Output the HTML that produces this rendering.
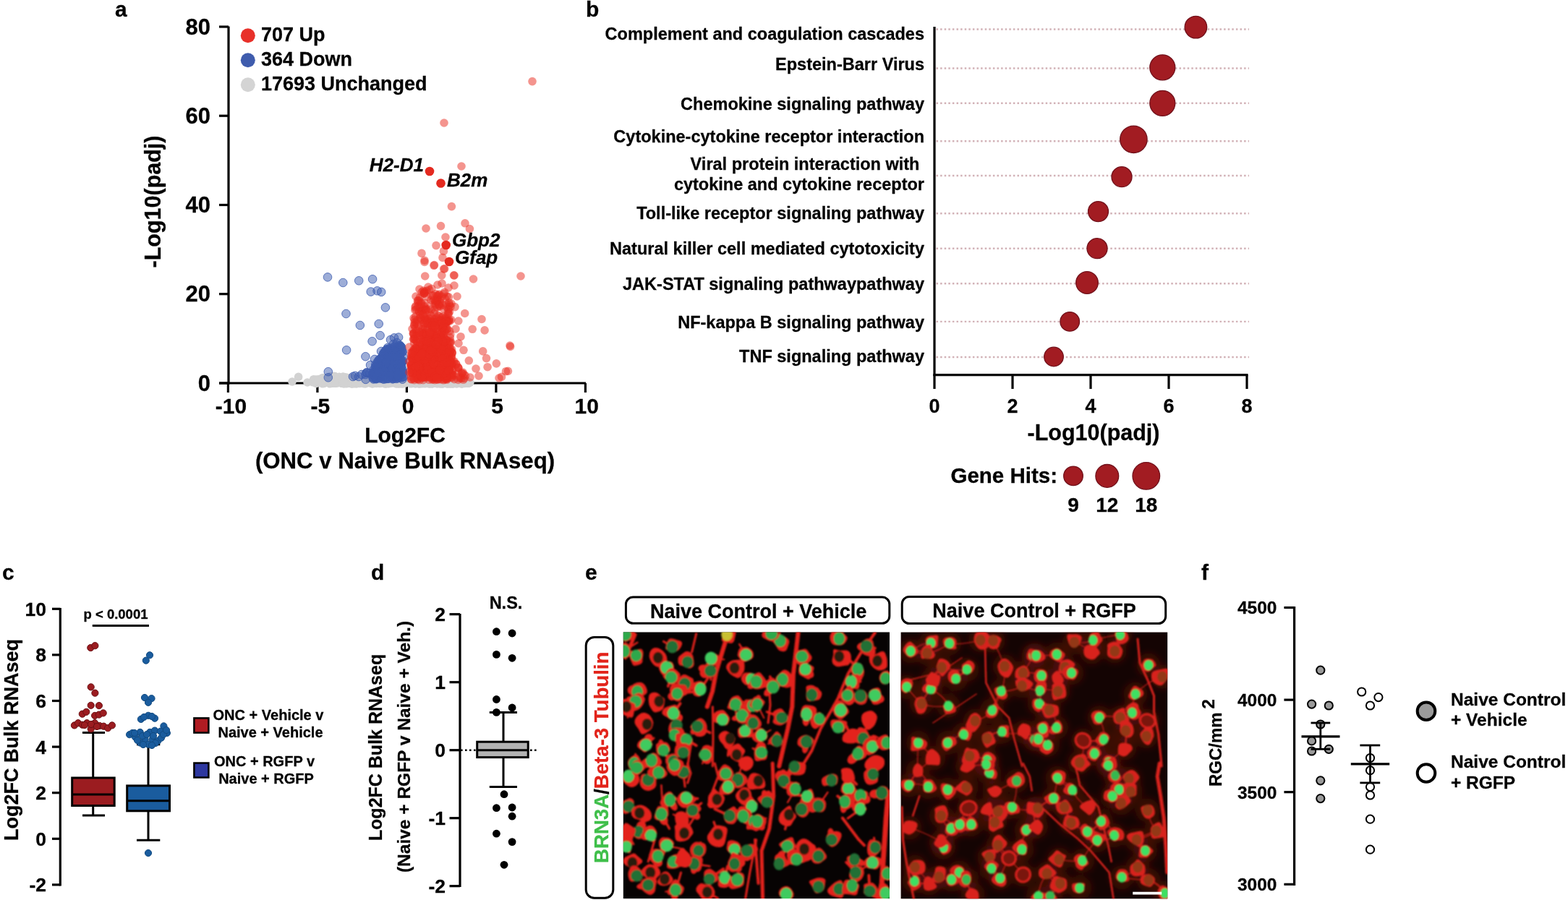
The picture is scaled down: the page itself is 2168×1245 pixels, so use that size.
<!DOCTYPE html>
<html><head><meta charset="utf-8"><title>Figure</title>
<style>
html,body{margin:0;padding:0;background:#fff;}
body{width:2168px;height:1245px;overflow:hidden;}
svg{display:block;font-family:'Liberation Sans', Arial, Helvetica, sans-serif;}
</style></head><body>
<svg width="2168" height="1245" viewBox="0 0 2168 1245">
<text x="159.0" y="23.0" font-size="30" text-anchor="start" font-weight="bold" font-style="normal" fill="#000" stroke="#000" stroke-width="0.28" >a</text>
<text x="810.0" y="23.0" font-size="30" text-anchor="start" font-weight="bold" font-style="normal" fill="#000" stroke="#000" stroke-width="0.28" >b</text>
<text x="3.0" y="802.0" font-size="30" text-anchor="start" font-weight="bold" font-style="normal" fill="#000" stroke="#000" stroke-width="0.28" >c</text>
<text x="513.0" y="802.0" font-size="30" text-anchor="start" font-weight="bold" font-style="normal" fill="#000" stroke="#000" stroke-width="0.28" >d</text>
<text x="809.0" y="802.0" font-size="30" text-anchor="start" font-weight="bold" font-style="normal" fill="#000" stroke="#000" stroke-width="0.28" >e</text>
<text x="1661.0" y="802.0" font-size="30" text-anchor="start" font-weight="bold" font-style="normal" fill="#000" stroke="#000" stroke-width="0.28" >f</text>
<line x1="316.0" y1="36.5" x2="316.0" y2="531.5" stroke="#000" stroke-width="3.2" />
<line x1="303.0" y1="530.0" x2="810.0" y2="530.0" stroke="#000" stroke-width="3.2" />
<line x1="303.0" y1="530.0" x2="316.0" y2="530.0" stroke="#000" stroke-width="3.2" />
<text x="291.0" y="540.5" font-size="31" text-anchor="end" font-weight="bold" font-style="normal" fill="#000" stroke="#000" stroke-width="0.28" >0</text>
<line x1="303.0" y1="406.7" x2="316.0" y2="406.7" stroke="#000" stroke-width="3.2" />
<text x="291.0" y="417.2" font-size="31" text-anchor="end" font-weight="bold" font-style="normal" fill="#000" stroke="#000" stroke-width="0.28" >20</text>
<line x1="303.0" y1="283.5" x2="316.0" y2="283.5" stroke="#000" stroke-width="3.2" />
<text x="291.0" y="294.0" font-size="31" text-anchor="end" font-weight="bold" font-style="normal" fill="#000" stroke="#000" stroke-width="0.28" >40</text>
<line x1="303.0" y1="160.2" x2="316.0" y2="160.2" stroke="#000" stroke-width="3.2" />
<text x="291.0" y="170.7" font-size="31" text-anchor="end" font-weight="bold" font-style="normal" fill="#000" stroke="#000" stroke-width="0.28" >60</text>
<line x1="303.0" y1="37.0" x2="316.0" y2="37.0" stroke="#000" stroke-width="3.2" />
<text x="291.0" y="47.5" font-size="31" text-anchor="end" font-weight="bold" font-style="normal" fill="#000" stroke="#000" stroke-width="0.28" >80</text>
<line x1="315.4" y1="530.0" x2="315.4" y2="543.0" stroke="#000" stroke-width="3.2" />
<text x="319.4" y="572.0" font-size="30" text-anchor="middle" font-weight="bold" font-style="normal" fill="#000" stroke="#000" stroke-width="0.28" >-10</text>
<line x1="438.9" y1="530.0" x2="438.9" y2="543.0" stroke="#000" stroke-width="3.2" />
<text x="442.9" y="572.0" font-size="30" text-anchor="middle" font-weight="bold" font-style="normal" fill="#000" stroke="#000" stroke-width="0.28" >-5</text>
<line x1="562.4" y1="530.0" x2="562.4" y2="543.0" stroke="#000" stroke-width="3.2" />
<text x="564.2" y="572.0" font-size="30" text-anchor="middle" font-weight="bold" font-style="normal" fill="#000" stroke="#000" stroke-width="0.28" >0</text>
<line x1="685.9" y1="530.0" x2="685.9" y2="543.0" stroke="#000" stroke-width="3.2" />
<text x="687.7" y="572.0" font-size="30" text-anchor="middle" font-weight="bold" font-style="normal" fill="#000" stroke="#000" stroke-width="0.28" >5</text>
<line x1="809.4" y1="530.0" x2="809.4" y2="543.0" stroke="#000" stroke-width="3.2" />
<text x="811.2" y="572.0" font-size="30" text-anchor="middle" font-weight="bold" font-style="normal" fill="#000" stroke="#000" stroke-width="0.28" >10</text>
<text x="560.0" y="612.0" font-size="30" text-anchor="middle" font-weight="bold" font-style="normal" fill="#000" stroke="#000" stroke-width="0.28" >Log2FC</text>
<text x="560.0" y="648.0" font-size="31.2" text-anchor="middle" font-weight="bold" font-style="normal" fill="#000" stroke="#000" stroke-width="0.28" >(ONC v Naive Bulk RNAseq)</text>
<text x="0.0" y="0.0" font-size="30.5" text-anchor="middle" font-weight="bold" font-style="normal" fill="#000" stroke="#000" stroke-width="0.28" transform="translate(222,279) rotate(-90)">-Log10(padj)</text>
<g>
<circle cx="444.8" cy="525.6" r="5.8" fill="#d2d2d2"/>
<circle cx="440.2" cy="524.8" r="5.8" fill="#d2d2d2"/>
<circle cx="525.4" cy="529.1" r="5.8" fill="#d2d2d2"/>
<circle cx="459.2" cy="522.5" r="5.8" fill="#d2d2d2"/>
<circle cx="570.0" cy="530.4" r="5.8" fill="#d2d2d2"/>
<circle cx="463.7" cy="521.3" r="5.8" fill="#d2d2d2"/>
<circle cx="499.9" cy="529.0" r="5.8" fill="#d2d2d2"/>
<circle cx="471.8" cy="526.4" r="5.8" fill="#d2d2d2"/>
<circle cx="501.1" cy="526.4" r="5.8" fill="#d2d2d2"/>
<circle cx="606.8" cy="527.7" r="5.8" fill="#d2d2d2"/>
<circle cx="485.7" cy="526.3" r="5.8" fill="#d2d2d2"/>
<circle cx="547.5" cy="529.6" r="5.8" fill="#d2d2d2"/>
<circle cx="524.0" cy="528.3" r="5.8" fill="#d2d2d2"/>
<circle cx="465.4" cy="525.4" r="5.8" fill="#d2d2d2"/>
<circle cx="440.6" cy="527.4" r="5.8" fill="#d2d2d2"/>
<circle cx="600.2" cy="526.3" r="5.8" fill="#d2d2d2"/>
<circle cx="585.0" cy="526.5" r="5.8" fill="#d2d2d2"/>
<circle cx="559.6" cy="525.0" r="5.8" fill="#d2d2d2"/>
<circle cx="616.8" cy="530.4" r="5.8" fill="#d2d2d2"/>
<circle cx="536.3" cy="527.3" r="5.8" fill="#d2d2d2"/>
<circle cx="445.3" cy="527.7" r="5.8" fill="#d2d2d2"/>
<circle cx="574.4" cy="530.9" r="5.8" fill="#d2d2d2"/>
<circle cx="516.9" cy="527.4" r="5.8" fill="#d2d2d2"/>
<circle cx="437.0" cy="525.1" r="5.8" fill="#d2d2d2"/>
<circle cx="469.0" cy="521.3" r="5.8" fill="#d2d2d2"/>
<circle cx="445.0" cy="528.5" r="5.8" fill="#d2d2d2"/>
<circle cx="460.5" cy="522.7" r="5.8" fill="#d2d2d2"/>
<circle cx="518.0" cy="529.6" r="5.8" fill="#d2d2d2"/>
<circle cx="449.7" cy="524.9" r="5.8" fill="#d2d2d2"/>
<circle cx="552.9" cy="529.7" r="5.8" fill="#d2d2d2"/>
<circle cx="612.2" cy="529.5" r="5.8" fill="#d2d2d2"/>
<circle cx="493.3" cy="524.6" r="5.8" fill="#d2d2d2"/>
<circle cx="510.9" cy="529.7" r="5.8" fill="#d2d2d2"/>
<circle cx="470.8" cy="522.6" r="5.8" fill="#d2d2d2"/>
<circle cx="483.3" cy="525.3" r="5.8" fill="#d2d2d2"/>
<circle cx="513.2" cy="526.2" r="5.8" fill="#d2d2d2"/>
<circle cx="641.7" cy="527.6" r="5.8" fill="#d2d2d2"/>
<circle cx="545.4" cy="526.8" r="5.8" fill="#d2d2d2"/>
<circle cx="629.9" cy="528.6" r="5.8" fill="#d2d2d2"/>
<circle cx="624.4" cy="528.8" r="5.8" fill="#d2d2d2"/>
<circle cx="454.8" cy="527.0" r="5.8" fill="#d2d2d2"/>
<circle cx="477.9" cy="521.8" r="5.8" fill="#d2d2d2"/>
<circle cx="454.3" cy="524.0" r="5.8" fill="#d2d2d2"/>
<circle cx="437.6" cy="529.6" r="5.8" fill="#d2d2d2"/>
<circle cx="487.5" cy="523.8" r="5.8" fill="#d2d2d2"/>
<circle cx="618.8" cy="530.9" r="5.8" fill="#d2d2d2"/>
<circle cx="534.5" cy="525.3" r="5.8" fill="#d2d2d2"/>
<circle cx="437.1" cy="530.5" r="5.8" fill="#d2d2d2"/>
<circle cx="548.2" cy="530.8" r="5.8" fill="#d2d2d2"/>
<circle cx="621.9" cy="527.7" r="5.8" fill="#d2d2d2"/>
<circle cx="489.4" cy="524.0" r="5.8" fill="#d2d2d2"/>
<circle cx="468.7" cy="528.5" r="5.8" fill="#d2d2d2"/>
<circle cx="549.2" cy="528.6" r="5.8" fill="#d2d2d2"/>
<circle cx="610.5" cy="530.8" r="5.8" fill="#d2d2d2"/>
<circle cx="619.6" cy="528.9" r="5.8" fill="#d2d2d2"/>
<circle cx="612.0" cy="528.1" r="5.8" fill="#d2d2d2"/>
<circle cx="481.9" cy="525.7" r="5.8" fill="#d2d2d2"/>
<circle cx="489.0" cy="527.6" r="5.8" fill="#d2d2d2"/>
<circle cx="638.1" cy="530.9" r="5.8" fill="#d2d2d2"/>
<circle cx="480.5" cy="522.5" r="5.8" fill="#d2d2d2"/>
<circle cx="475.3" cy="522.2" r="5.8" fill="#d2d2d2"/>
<circle cx="569.3" cy="529.9" r="5.8" fill="#d2d2d2"/>
<circle cx="616.9" cy="525.3" r="5.8" fill="#d2d2d2"/>
<circle cx="575.7" cy="528.8" r="5.8" fill="#d2d2d2"/>
<circle cx="450.7" cy="527.3" r="5.8" fill="#d2d2d2"/>
<circle cx="632.2" cy="528.6" r="5.8" fill="#d2d2d2"/>
<circle cx="597.0" cy="525.3" r="5.8" fill="#d2d2d2"/>
<circle cx="471.3" cy="528.7" r="5.8" fill="#d2d2d2"/>
<circle cx="505.2" cy="528.8" r="5.8" fill="#d2d2d2"/>
<circle cx="520.3" cy="530.4" r="5.8" fill="#d2d2d2"/>
<circle cx="459.9" cy="521.7" r="5.8" fill="#d2d2d2"/>
<circle cx="631.1" cy="528.9" r="5.8" fill="#d2d2d2"/>
<circle cx="464.2" cy="529.1" r="5.8" fill="#d2d2d2"/>
<circle cx="509.1" cy="526.0" r="5.8" fill="#d2d2d2"/>
<circle cx="460.8" cy="520.2" r="5.8" fill="#d2d2d2"/>
<circle cx="645.6" cy="527.1" r="5.8" fill="#d2d2d2"/>
<circle cx="547.8" cy="530.3" r="5.8" fill="#d2d2d2"/>
<circle cx="527.4" cy="529.6" r="5.8" fill="#d2d2d2"/>
<circle cx="487.4" cy="523.2" r="5.8" fill="#d2d2d2"/>
<circle cx="484.9" cy="526.5" r="5.8" fill="#d2d2d2"/>
<circle cx="489.1" cy="524.6" r="5.8" fill="#d2d2d2"/>
<circle cx="460.8" cy="530.0" r="5.8" fill="#d2d2d2"/>
<circle cx="509.8" cy="525.0" r="5.8" fill="#d2d2d2"/>
<circle cx="560.3" cy="529.9" r="5.8" fill="#d2d2d2"/>
<circle cx="524.5" cy="530.1" r="5.8" fill="#d2d2d2"/>
<circle cx="542.4" cy="525.9" r="5.8" fill="#d2d2d2"/>
<circle cx="432.9" cy="528.8" r="5.8" fill="#d2d2d2"/>
<circle cx="469.9" cy="525.2" r="5.8" fill="#d2d2d2"/>
<circle cx="591.5" cy="526.1" r="5.8" fill="#d2d2d2"/>
<circle cx="503.7" cy="525.7" r="5.8" fill="#d2d2d2"/>
<circle cx="554.2" cy="528.6" r="5.8" fill="#d2d2d2"/>
<circle cx="455.3" cy="526.2" r="5.8" fill="#d2d2d2"/>
<circle cx="486.7" cy="523.0" r="5.8" fill="#d2d2d2"/>
<circle cx="601.9" cy="525.6" r="5.8" fill="#d2d2d2"/>
<circle cx="555.6" cy="528.4" r="5.8" fill="#d2d2d2"/>
<circle cx="566.8" cy="525.6" r="5.8" fill="#d2d2d2"/>
<circle cx="544.7" cy="527.6" r="5.8" fill="#d2d2d2"/>
<circle cx="531.5" cy="525.9" r="5.8" fill="#d2d2d2"/>
<circle cx="537.2" cy="530.4" r="5.8" fill="#d2d2d2"/>
<circle cx="585.8" cy="529.6" r="5.8" fill="#d2d2d2"/>
<circle cx="555.1" cy="530.4" r="5.8" fill="#d2d2d2"/>
<circle cx="458.8" cy="524.9" r="5.8" fill="#d2d2d2"/>
<circle cx="448.0" cy="522.6" r="5.8" fill="#d2d2d2"/>
<circle cx="448.1" cy="527.4" r="5.8" fill="#d2d2d2"/>
<circle cx="604.5" cy="529.9" r="5.8" fill="#d2d2d2"/>
<circle cx="466.0" cy="527.9" r="5.8" fill="#d2d2d2"/>
<circle cx="626.2" cy="530.6" r="5.8" fill="#d2d2d2"/>
<circle cx="480.3" cy="530.5" r="5.8" fill="#d2d2d2"/>
<circle cx="519.6" cy="525.4" r="5.8" fill="#d2d2d2"/>
<circle cx="649.8" cy="529.2" r="5.8" fill="#d2d2d2"/>
<circle cx="467.5" cy="524.7" r="5.8" fill="#d2d2d2"/>
<circle cx="475.1" cy="523.5" r="5.8" fill="#d2d2d2"/>
<circle cx="569.3" cy="525.6" r="5.8" fill="#d2d2d2"/>
<circle cx="446.1" cy="530.8" r="5.8" fill="#d2d2d2"/>
<circle cx="605.4" cy="530.7" r="5.8" fill="#d2d2d2"/>
<circle cx="455.1" cy="522.9" r="5.8" fill="#d2d2d2"/>
<circle cx="440.7" cy="528.6" r="5.8" fill="#d2d2d2"/>
<circle cx="524.9" cy="530.0" r="5.8" fill="#d2d2d2"/>
<circle cx="464.9" cy="530.1" r="5.8" fill="#d2d2d2"/>
<circle cx="557.5" cy="527.7" r="5.8" fill="#d2d2d2"/>
<circle cx="447.9" cy="530.3" r="5.8" fill="#d2d2d2"/>
<circle cx="571.6" cy="528.8" r="5.8" fill="#d2d2d2"/>
<circle cx="450.4" cy="529.4" r="5.8" fill="#d2d2d2"/>
<circle cx="446.7" cy="529.5" r="5.8" fill="#d2d2d2"/>
<circle cx="553.7" cy="530.2" r="5.8" fill="#d2d2d2"/>
<circle cx="456.1" cy="521.8" r="5.8" fill="#d2d2d2"/>
<circle cx="593.3" cy="526.1" r="5.8" fill="#d2d2d2"/>
<circle cx="473.7" cy="525.2" r="5.8" fill="#d2d2d2"/>
<circle cx="540.9" cy="529.2" r="5.8" fill="#d2d2d2"/>
<circle cx="518.5" cy="525.6" r="5.8" fill="#d2d2d2"/>
<circle cx="583.3" cy="530.8" r="5.8" fill="#d2d2d2"/>
<circle cx="507.4" cy="529.2" r="5.8" fill="#d2d2d2"/>
<circle cx="587.5" cy="527.0" r="5.8" fill="#d2d2d2"/>
<circle cx="447.6" cy="528.1" r="5.8" fill="#d2d2d2"/>
<circle cx="450.6" cy="529.3" r="5.8" fill="#d2d2d2"/>
<circle cx="623.5" cy="527.4" r="5.8" fill="#d2d2d2"/>
<circle cx="496.5" cy="525.1" r="5.8" fill="#d2d2d2"/>
<circle cx="466.7" cy="524.9" r="5.8" fill="#d2d2d2"/>
<circle cx="489.9" cy="530.6" r="5.8" fill="#d2d2d2"/>
<circle cx="485.8" cy="530.6" r="5.8" fill="#d2d2d2"/>
<circle cx="536.4" cy="525.5" r="5.8" fill="#d2d2d2"/>
<circle cx="476.2" cy="525.6" r="5.8" fill="#d2d2d2"/>
<circle cx="451.7" cy="524.4" r="5.8" fill="#d2d2d2"/>
<circle cx="560.8" cy="525.8" r="5.8" fill="#d2d2d2"/>
<circle cx="597.1" cy="527.2" r="5.8" fill="#d2d2d2"/>
<circle cx="589.5" cy="529.7" r="5.8" fill="#d2d2d2"/>
<circle cx="591.3" cy="527.1" r="5.8" fill="#d2d2d2"/>
<circle cx="441.6" cy="529.2" r="5.8" fill="#d2d2d2"/>
<circle cx="628.2" cy="526.9" r="5.8" fill="#d2d2d2"/>
<circle cx="593.4" cy="528.9" r="5.8" fill="#d2d2d2"/>
<circle cx="462.6" cy="525.8" r="5.8" fill="#d2d2d2"/>
<circle cx="543.0" cy="529.2" r="5.8" fill="#d2d2d2"/>
<circle cx="609.0" cy="529.1" r="5.8" fill="#d2d2d2"/>
<circle cx="560.5" cy="529.8" r="5.8" fill="#d2d2d2"/>
<circle cx="582.2" cy="527.6" r="5.8" fill="#d2d2d2"/>
<circle cx="461.3" cy="524.0" r="5.8" fill="#d2d2d2"/>
<circle cx="455.1" cy="529.2" r="5.8" fill="#d2d2d2"/>
<circle cx="554.9" cy="526.9" r="5.8" fill="#d2d2d2"/>
<circle cx="569.8" cy="527.5" r="5.8" fill="#d2d2d2"/>
<circle cx="607.5" cy="528.2" r="5.8" fill="#d2d2d2"/>
<circle cx="542.7" cy="525.9" r="5.8" fill="#d2d2d2"/>
<circle cx="448.4" cy="522.9" r="5.8" fill="#d2d2d2"/>
<circle cx="594.8" cy="530.7" r="5.8" fill="#d2d2d2"/>
<circle cx="537.4" cy="527.5" r="5.8" fill="#d2d2d2"/>
<circle cx="600.7" cy="526.8" r="5.8" fill="#d2d2d2"/>
<circle cx="464.4" cy="522.8" r="5.8" fill="#d2d2d2"/>
<circle cx="445.3" cy="523.0" r="5.8" fill="#d2d2d2"/>
<circle cx="579.8" cy="527.6" r="5.8" fill="#d2d2d2"/>
<circle cx="545.6" cy="525.1" r="5.8" fill="#d2d2d2"/>
<circle cx="647.2" cy="530.3" r="5.8" fill="#d2d2d2"/>
<circle cx="612.4" cy="530.6" r="5.8" fill="#d2d2d2"/>
<circle cx="478.2" cy="530.4" r="5.8" fill="#d2d2d2"/>
<circle cx="478.4" cy="526.4" r="5.8" fill="#d2d2d2"/>
<circle cx="463.2" cy="525.8" r="5.8" fill="#d2d2d2"/>
<circle cx="612.4" cy="525.6" r="5.8" fill="#d2d2d2"/>
<circle cx="627.1" cy="527.7" r="5.8" fill="#d2d2d2"/>
<circle cx="482.9" cy="529.9" r="5.8" fill="#d2d2d2"/>
<circle cx="463.0" cy="523.8" r="5.8" fill="#d2d2d2"/>
<circle cx="501.5" cy="529.2" r="5.8" fill="#d2d2d2"/>
<circle cx="432.4" cy="528.3" r="5.8" fill="#d2d2d2"/>
<circle cx="635.8" cy="527.8" r="5.8" fill="#d2d2d2"/>
<circle cx="454.4" cy="529.2" r="5.8" fill="#d2d2d2"/>
<circle cx="494.8" cy="530.3" r="5.8" fill="#d2d2d2"/>
<circle cx="486.9" cy="522.9" r="5.8" fill="#d2d2d2"/>
<circle cx="514.1" cy="530.5" r="5.8" fill="#d2d2d2"/>
<circle cx="626.5" cy="528.9" r="5.8" fill="#d2d2d2"/>
<circle cx="570.8" cy="530.0" r="5.8" fill="#d2d2d2"/>
<circle cx="639.0" cy="526.0" r="5.8" fill="#d2d2d2"/>
<circle cx="597.6" cy="527.1" r="5.8" fill="#d2d2d2"/>
<circle cx="497.5" cy="528.1" r="5.8" fill="#d2d2d2"/>
<circle cx="468.8" cy="521.8" r="5.8" fill="#d2d2d2"/>
<circle cx="477.7" cy="530.0" r="5.8" fill="#d2d2d2"/>
<circle cx="631.4" cy="531.0" r="5.8" fill="#d2d2d2"/>
<circle cx="474.3" cy="521.0" r="5.8" fill="#d2d2d2"/>
<circle cx="484.6" cy="522.8" r="5.8" fill="#d2d2d2"/>
<circle cx="557.3" cy="529.8" r="5.8" fill="#d2d2d2"/>
<circle cx="523.1" cy="525.8" r="5.8" fill="#d2d2d2"/>
<circle cx="445.7" cy="523.1" r="5.8" fill="#d2d2d2"/>
<circle cx="542.7" cy="526.9" r="5.8" fill="#d2d2d2"/>
<circle cx="641.9" cy="529.3" r="5.8" fill="#d2d2d2"/>
<circle cx="439.1" cy="527.8" r="5.8" fill="#d2d2d2"/>
<circle cx="629.1" cy="525.2" r="5.8" fill="#d2d2d2"/>
<circle cx="518.1" cy="530.2" r="5.8" fill="#d2d2d2"/>
<circle cx="613.6" cy="529.4" r="5.8" fill="#d2d2d2"/>
<circle cx="456.0" cy="521.7" r="5.8" fill="#d2d2d2"/>
<circle cx="546.9" cy="527.5" r="5.8" fill="#d2d2d2"/>
<circle cx="639.1" cy="527.9" r="5.8" fill="#d2d2d2"/>
<circle cx="574.4" cy="528.4" r="5.8" fill="#d2d2d2"/>
<circle cx="532.6" cy="526.1" r="5.8" fill="#d2d2d2"/>
<circle cx="440.7" cy="528.6" r="5.8" fill="#d2d2d2"/>
<circle cx="483.2" cy="530.1" r="5.8" fill="#d2d2d2"/>
<circle cx="460.2" cy="522.8" r="5.8" fill="#d2d2d2"/>
<circle cx="572.0" cy="527.7" r="5.8" fill="#d2d2d2"/>
<circle cx="456.7" cy="520.8" r="5.8" fill="#d2d2d2"/>
<circle cx="547.4" cy="526.4" r="5.8" fill="#d2d2d2"/>
<circle cx="498.3" cy="525.1" r="5.8" fill="#d2d2d2"/>
<circle cx="643.0" cy="527.1" r="5.8" fill="#d2d2d2"/>
<circle cx="626.4" cy="525.2" r="5.8" fill="#d2d2d2"/>
<circle cx="483.6" cy="522.7" r="5.8" fill="#d2d2d2"/>
<circle cx="643.3" cy="527.8" r="5.8" fill="#d2d2d2"/>
<circle cx="541.6" cy="527.4" r="5.8" fill="#d2d2d2"/>
<circle cx="578.8" cy="530.2" r="5.8" fill="#d2d2d2"/>
<circle cx="607.4" cy="528.1" r="5.8" fill="#d2d2d2"/>
<circle cx="480.7" cy="528.4" r="5.8" fill="#d2d2d2"/>
<circle cx="496.9" cy="530.5" r="5.8" fill="#d2d2d2"/>
<circle cx="481.1" cy="524.6" r="5.8" fill="#d2d2d2"/>
<circle cx="578.4" cy="530.4" r="5.8" fill="#d2d2d2"/>
<circle cx="464.2" cy="524.3" r="5.8" fill="#d2d2d2"/>
<circle cx="478.8" cy="530.7" r="5.8" fill="#d2d2d2"/>
<circle cx="463.2" cy="520.6" r="5.8" fill="#d2d2d2"/>
<circle cx="445.2" cy="524.3" r="5.8" fill="#d2d2d2"/>
<circle cx="629.6" cy="529.7" r="5.8" fill="#d2d2d2"/>
<circle cx="593.2" cy="531.0" r="5.8" fill="#d2d2d2"/>
<circle cx="472.8" cy="530.3" r="5.8" fill="#d2d2d2"/>
<circle cx="493.6" cy="523.9" r="5.8" fill="#d2d2d2"/>
<circle cx="510.5" cy="529.0" r="5.8" fill="#d2d2d2"/>
<circle cx="442.8" cy="525.2" r="5.8" fill="#d2d2d2"/>
<circle cx="514.0" cy="530.1" r="5.8" fill="#d2d2d2"/>
<circle cx="474.5" cy="524.0" r="5.8" fill="#d2d2d2"/>
<circle cx="522.4" cy="528.9" r="5.8" fill="#d2d2d2"/>
<circle cx="596.4" cy="529.9" r="5.8" fill="#d2d2d2"/>
<circle cx="642.7" cy="526.8" r="5.8" fill="#d2d2d2"/>
<circle cx="489.7" cy="527.9" r="5.8" fill="#d2d2d2"/>
<circle cx="432.8" cy="528.3" r="5.8" fill="#d2d2d2"/>
<circle cx="633.6" cy="527.0" r="5.8" fill="#d2d2d2"/>
<circle cx="483.5" cy="525.2" r="5.8" fill="#d2d2d2"/>
<circle cx="642.5" cy="530.5" r="5.8" fill="#d2d2d2"/>
<circle cx="526.6" cy="525.4" r="5.8" fill="#d2d2d2"/>
<circle cx="608.6" cy="528.1" r="5.8" fill="#d2d2d2"/>
<circle cx="613.0" cy="528.5" r="5.8" fill="#d2d2d2"/>
<circle cx="475.4" cy="528.3" r="5.8" fill="#d2d2d2"/>
<circle cx="439.5" cy="526.1" r="5.8" fill="#d2d2d2"/>
<circle cx="503.7" cy="530.8" r="5.8" fill="#d2d2d2"/>
<circle cx="626.4" cy="530.9" r="5.8" fill="#d2d2d2"/>
<circle cx="453.2" cy="525.5" r="5.8" fill="#d2d2d2"/>
<circle cx="483.5" cy="524.6" r="5.8" fill="#d2d2d2"/>
<circle cx="568.5" cy="527.4" r="5.8" fill="#d2d2d2"/>
<circle cx="596.6" cy="529.3" r="5.8" fill="#d2d2d2"/>
<circle cx="486.4" cy="522.7" r="5.8" fill="#d2d2d2"/>
<circle cx="465.7" cy="529.7" r="5.8" fill="#d2d2d2"/>
<circle cx="567.8" cy="529.7" r="5.8" fill="#d2d2d2"/>
<circle cx="532.2" cy="531.0" r="5.8" fill="#d2d2d2"/>
<circle cx="553.9" cy="529.5" r="5.8" fill="#d2d2d2"/>
<circle cx="612.6" cy="530.3" r="5.8" fill="#d2d2d2"/>
<circle cx="648.2" cy="529.2" r="5.8" fill="#d2d2d2"/>
<circle cx="547.6" cy="530.6" r="5.8" fill="#d2d2d2"/>
<circle cx="618.9" cy="530.8" r="5.8" fill="#d2d2d2"/>
<circle cx="462.9" cy="529.6" r="5.8" fill="#d2d2d2"/>
<circle cx="478.2" cy="529.4" r="5.8" fill="#d2d2d2"/>
<circle cx="644.7" cy="530.2" r="5.8" fill="#d2d2d2"/>
<circle cx="636.4" cy="529.7" r="5.8" fill="#d2d2d2"/>
<circle cx="623.9" cy="529.9" r="5.8" fill="#d2d2d2"/>
<circle cx="505.7" cy="530.6" r="5.8" fill="#d2d2d2"/>
<circle cx="639.4" cy="529.2" r="5.8" fill="#d2d2d2"/>
<circle cx="571.2" cy="530.2" r="5.8" fill="#d2d2d2"/>
<circle cx="497.4" cy="529.7" r="5.8" fill="#d2d2d2"/>
<circle cx="482.6" cy="529.4" r="5.8" fill="#d2d2d2"/>
<circle cx="504.7" cy="530.2" r="5.8" fill="#d2d2d2"/>
<circle cx="582.1" cy="529.4" r="5.8" fill="#d2d2d2"/>
<circle cx="457.2" cy="529.7" r="5.8" fill="#d2d2d2"/>
<circle cx="587.3" cy="529.4" r="5.8" fill="#d2d2d2"/>
<circle cx="515.9" cy="529.4" r="5.8" fill="#d2d2d2"/>
<circle cx="610.1" cy="530.1" r="5.8" fill="#d2d2d2"/>
<circle cx="467.3" cy="529.2" r="5.8" fill="#d2d2d2"/>
<circle cx="532.1" cy="530.1" r="5.8" fill="#d2d2d2"/>
<circle cx="579.6" cy="529.2" r="5.8" fill="#d2d2d2"/>
<circle cx="486.9" cy="530.4" r="5.8" fill="#d2d2d2"/>
<circle cx="534.9" cy="529.6" r="5.8" fill="#d2d2d2"/>
<circle cx="515.0" cy="530.9" r="5.8" fill="#d2d2d2"/>
<circle cx="515.9" cy="530.1" r="5.8" fill="#d2d2d2"/>
<circle cx="524.7" cy="529.8" r="5.8" fill="#d2d2d2"/>
<circle cx="623.5" cy="531.0" r="5.8" fill="#d2d2d2"/>
<circle cx="525.9" cy="529.4" r="5.8" fill="#d2d2d2"/>
<circle cx="597.0" cy="529.4" r="5.8" fill="#d2d2d2"/>
<circle cx="456.1" cy="530.8" r="5.8" fill="#d2d2d2"/>
<circle cx="537.6" cy="530.6" r="5.8" fill="#d2d2d2"/>
<circle cx="534.2" cy="530.8" r="5.8" fill="#d2d2d2"/>
<circle cx="544.9" cy="529.3" r="5.8" fill="#d2d2d2"/>
<circle cx="457.9" cy="530.1" r="5.8" fill="#d2d2d2"/>
<circle cx="579.9" cy="530.8" r="5.8" fill="#d2d2d2"/>
<circle cx="472.4" cy="530.2" r="5.8" fill="#d2d2d2"/>
<circle cx="527.3" cy="530.0" r="5.8" fill="#d2d2d2"/>
<circle cx="483.4" cy="529.6" r="5.8" fill="#d2d2d2"/>
<circle cx="556.6" cy="530.9" r="5.8" fill="#d2d2d2"/>
<circle cx="476.2" cy="530.0" r="5.8" fill="#d2d2d2"/>
<circle cx="611.9" cy="530.9" r="5.8" fill="#d2d2d2"/>
<circle cx="493.5" cy="529.3" r="5.8" fill="#d2d2d2"/>
<circle cx="638.9" cy="531.0" r="5.8" fill="#d2d2d2"/>
<circle cx="549.1" cy="529.1" r="5.8" fill="#d2d2d2"/>
<circle cx="635.6" cy="529.8" r="5.8" fill="#d2d2d2"/>
<circle cx="631.3" cy="530.2" r="5.8" fill="#d2d2d2"/>
<circle cx="615.8" cy="529.3" r="5.8" fill="#d2d2d2"/>
<circle cx="608.2" cy="529.4" r="5.8" fill="#d2d2d2"/>
<circle cx="533.9" cy="530.7" r="5.8" fill="#d2d2d2"/>
<circle cx="616.7" cy="529.4" r="5.8" fill="#d2d2d2"/>
<circle cx="497.5" cy="529.8" r="5.8" fill="#d2d2d2"/>
<circle cx="556.0" cy="529.8" r="5.8" fill="#d2d2d2"/>
<circle cx="479.0" cy="529.5" r="5.8" fill="#d2d2d2"/>
<circle cx="596.4" cy="530.8" r="5.8" fill="#d2d2d2"/>
<circle cx="463.0" cy="530.1" r="5.8" fill="#d2d2d2"/>
<circle cx="602.7" cy="529.1" r="5.8" fill="#d2d2d2"/>
<circle cx="618.4" cy="529.2" r="5.8" fill="#d2d2d2"/>
<circle cx="571.9" cy="530.1" r="5.8" fill="#d2d2d2"/>
<circle cx="577.3" cy="529.6" r="5.8" fill="#d2d2d2"/>
<circle cx="536.9" cy="530.2" r="5.8" fill="#d2d2d2"/>
<circle cx="538.0" cy="530.3" r="5.8" fill="#d2d2d2"/>
<circle cx="542.1" cy="529.9" r="5.8" fill="#d2d2d2"/>
<circle cx="459.6" cy="530.2" r="5.8" fill="#d2d2d2"/>
<circle cx="550.5" cy="529.5" r="5.8" fill="#d2d2d2"/>
<circle cx="603.9" cy="530.6" r="5.8" fill="#d2d2d2"/>
<circle cx="544.4" cy="529.4" r="5.8" fill="#d2d2d2"/>
<circle cx="547.3" cy="529.2" r="5.8" fill="#d2d2d2"/>
<circle cx="480.0" cy="529.9" r="5.8" fill="#d2d2d2"/>
<circle cx="472.9" cy="529.9" r="5.8" fill="#d2d2d2"/>
<circle cx="554.5" cy="529.1" r="5.8" fill="#d2d2d2"/>
<circle cx="579.1" cy="529.2" r="5.8" fill="#d2d2d2"/>
<circle cx="598.0" cy="530.6" r="5.8" fill="#d2d2d2"/>
<circle cx="554.7" cy="529.1" r="5.8" fill="#d2d2d2"/>
<circle cx="553.3" cy="529.8" r="5.8" fill="#d2d2d2"/>
<circle cx="640.4" cy="529.3" r="5.8" fill="#d2d2d2"/>
<circle cx="622.1" cy="531.0" r="5.8" fill="#d2d2d2"/>
<circle cx="597.8" cy="530.6" r="5.8" fill="#d2d2d2"/>
<circle cx="492.8" cy="531.0" r="5.8" fill="#d2d2d2"/>
<circle cx="550.9" cy="530.9" r="5.8" fill="#d2d2d2"/>
<circle cx="633.6" cy="529.3" r="5.8" fill="#d2d2d2"/>
<circle cx="608.7" cy="530.9" r="5.8" fill="#d2d2d2"/>
<circle cx="467.8" cy="529.7" r="5.8" fill="#d2d2d2"/>
<circle cx="602.5" cy="529.3" r="5.8" fill="#d2d2d2"/>
<circle cx="629.8" cy="529.5" r="5.8" fill="#d2d2d2"/>
<circle cx="614.0" cy="529.3" r="5.8" fill="#d2d2d2"/>
<circle cx="552.9" cy="530.8" r="5.8" fill="#d2d2d2"/>
<circle cx="495.6" cy="529.5" r="5.8" fill="#d2d2d2"/>
<circle cx="553.7" cy="529.6" r="5.8" fill="#d2d2d2"/>
<circle cx="462.2" cy="529.4" r="5.8" fill="#d2d2d2"/>
<circle cx="486.4" cy="530.9" r="5.8" fill="#d2d2d2"/>
<circle cx="587.5" cy="530.8" r="5.8" fill="#d2d2d2"/>
<circle cx="487.9" cy="530.6" r="5.8" fill="#d2d2d2"/>
<circle cx="477.4" cy="530.1" r="5.8" fill="#d2d2d2"/>
<circle cx="579.1" cy="529.7" r="5.8" fill="#d2d2d2"/>
<circle cx="625.2" cy="530.1" r="5.8" fill="#d2d2d2"/>
<circle cx="568.1" cy="530.8" r="5.8" fill="#d2d2d2"/>
<circle cx="475.4" cy="531.0" r="5.8" fill="#d2d2d2"/>
<circle cx="577.8" cy="529.8" r="5.8" fill="#d2d2d2"/>
<circle cx="610.5" cy="529.5" r="5.8" fill="#d2d2d2"/>
<circle cx="648.1" cy="530.2" r="5.8" fill="#d2d2d2"/>
<circle cx="525.2" cy="530.5" r="5.8" fill="#d2d2d2"/>
<circle cx="541.2" cy="529.4" r="5.8" fill="#d2d2d2"/>
<circle cx="600.0" cy="529.1" r="5.8" fill="#d2d2d2"/>
<circle cx="614.9" cy="529.5" r="5.8" fill="#d2d2d2"/>
<circle cx="579.7" cy="531.0" r="5.8" fill="#d2d2d2"/>
<circle cx="569.2" cy="530.3" r="5.8" fill="#d2d2d2"/>
<circle cx="516.0" cy="529.0" r="5.8" fill="#d2d2d2"/>
<circle cx="461.6" cy="529.3" r="5.8" fill="#d2d2d2"/>
<circle cx="575.1" cy="529.9" r="5.8" fill="#d2d2d2"/>
<circle cx="555.0" cy="530.8" r="5.8" fill="#d2d2d2"/>
<circle cx="480.7" cy="529.5" r="5.8" fill="#d2d2d2"/>
<circle cx="582.4" cy="529.0" r="5.8" fill="#d2d2d2"/>
<circle cx="455.5" cy="529.7" r="5.8" fill="#d2d2d2"/>
<circle cx="475.7" cy="529.7" r="5.8" fill="#d2d2d2"/>
<circle cx="498.7" cy="530.2" r="5.8" fill="#d2d2d2"/>
<circle cx="412.6" cy="521.4" r="5.8" fill="#d2d2d2"/>
<circle cx="433.6" cy="524.7" r="5.8" fill="#d2d2d2"/>
<circle cx="404.0" cy="528.0" r="5.8" fill="#d2d2d2"/>
<circle cx="425.0" cy="529.0" r="5.8" fill="#d2d2d2"/>
<circle cx="440.0" cy="527.0" r="5.8" fill="#d2d2d2"/>
<circle cx="540.3" cy="486.0" r="5.8" fill="#3c5cb0" stroke="#3c5cb0" stroke-width="0.8" fill-opacity="0.5"/>
<circle cx="541.8" cy="499.3" r="5.8" fill="#3c5cb0" stroke="#3c5cb0" stroke-width="0.8" fill-opacity="0.5"/>
<circle cx="520.8" cy="521.9" r="5.8" fill="#3c5cb0" stroke="#3c5cb0" stroke-width="0.8" fill-opacity="0.5"/>
<circle cx="519.1" cy="507.3" r="5.8" fill="#3c5cb0" stroke="#3c5cb0" stroke-width="0.8" fill-opacity="0.5"/>
<circle cx="552.5" cy="514.3" r="5.8" fill="#3c5cb0" stroke="#3c5cb0" stroke-width="0.8" fill-opacity="0.5"/>
<circle cx="532.3" cy="488.9" r="5.8" fill="#3c5cb0" stroke="#3c5cb0" stroke-width="0.8" fill-opacity="0.5"/>
<circle cx="539.2" cy="493.2" r="5.8" fill="#3c5cb0" stroke="#3c5cb0" stroke-width="0.8" fill-opacity="0.5"/>
<circle cx="542.8" cy="497.7" r="5.8" fill="#3c5cb0" stroke="#3c5cb0" stroke-width="0.8" fill-opacity="0.5"/>
<circle cx="555.3" cy="511.9" r="5.8" fill="#3c5cb0" stroke="#3c5cb0" stroke-width="0.8" fill-opacity="0.5"/>
<circle cx="525.7" cy="520.3" r="5.8" fill="#3c5cb0" stroke="#3c5cb0" stroke-width="0.8" fill-opacity="0.5"/>
<circle cx="532.5" cy="487.6" r="5.8" fill="#3c5cb0" stroke="#3c5cb0" stroke-width="0.8" fill-opacity="0.5"/>
<circle cx="517.5" cy="514.2" r="5.8" fill="#3c5cb0" stroke="#3c5cb0" stroke-width="0.8" fill-opacity="0.5"/>
<circle cx="555.5" cy="483.0" r="5.8" fill="#3c5cb0" stroke="#3c5cb0" stroke-width="0.8" fill-opacity="0.5"/>
<circle cx="523.6" cy="505.8" r="5.8" fill="#3c5cb0" stroke="#3c5cb0" stroke-width="0.8" fill-opacity="0.5"/>
<circle cx="536.8" cy="507.4" r="5.8" fill="#3c5cb0" stroke="#3c5cb0" stroke-width="0.8" fill-opacity="0.5"/>
<circle cx="550.0" cy="484.6" r="5.8" fill="#3c5cb0" stroke="#3c5cb0" stroke-width="0.8" fill-opacity="0.5"/>
<circle cx="517.1" cy="519.6" r="5.8" fill="#3c5cb0" stroke="#3c5cb0" stroke-width="0.8" fill-opacity="0.5"/>
<circle cx="548.7" cy="511.1" r="5.8" fill="#3c5cb0" stroke="#3c5cb0" stroke-width="0.8" fill-opacity="0.5"/>
<circle cx="515.3" cy="517.4" r="5.8" fill="#3c5cb0" stroke="#3c5cb0" stroke-width="0.8" fill-opacity="0.5"/>
<circle cx="547.0" cy="498.8" r="5.8" fill="#3c5cb0" stroke="#3c5cb0" stroke-width="0.8" fill-opacity="0.5"/>
<circle cx="546.9" cy="498.2" r="5.8" fill="#3c5cb0" stroke="#3c5cb0" stroke-width="0.8" fill-opacity="0.5"/>
<circle cx="529.4" cy="512.7" r="5.8" fill="#3c5cb0" stroke="#3c5cb0" stroke-width="0.8" fill-opacity="0.5"/>
<circle cx="544.9" cy="517.4" r="5.8" fill="#3c5cb0" stroke="#3c5cb0" stroke-width="0.8" fill-opacity="0.5"/>
<circle cx="545.6" cy="489.0" r="5.8" fill="#3c5cb0" stroke="#3c5cb0" stroke-width="0.8" fill-opacity="0.5"/>
<circle cx="538.8" cy="497.4" r="5.8" fill="#3c5cb0" stroke="#3c5cb0" stroke-width="0.8" fill-opacity="0.5"/>
<circle cx="548.9" cy="501.6" r="5.8" fill="#3c5cb0" stroke="#3c5cb0" stroke-width="0.8" fill-opacity="0.5"/>
<circle cx="526.4" cy="507.5" r="5.8" fill="#3c5cb0" stroke="#3c5cb0" stroke-width="0.8" fill-opacity="0.5"/>
<circle cx="556.5" cy="486.6" r="5.8" fill="#3c5cb0" stroke="#3c5cb0" stroke-width="0.8" fill-opacity="0.5"/>
<circle cx="547.0" cy="522.3" r="5.8" fill="#3c5cb0" stroke="#3c5cb0" stroke-width="0.8" fill-opacity="0.5"/>
<circle cx="547.1" cy="492.0" r="5.8" fill="#3c5cb0" stroke="#3c5cb0" stroke-width="0.8" fill-opacity="0.5"/>
<circle cx="552.8" cy="492.1" r="5.8" fill="#3c5cb0" stroke="#3c5cb0" stroke-width="0.8" fill-opacity="0.5"/>
<circle cx="525.3" cy="520.5" r="5.8" fill="#3c5cb0" stroke="#3c5cb0" stroke-width="0.8" fill-opacity="0.5"/>
<circle cx="542.1" cy="509.9" r="5.8" fill="#3c5cb0" stroke="#3c5cb0" stroke-width="0.8" fill-opacity="0.5"/>
<circle cx="543.6" cy="524.0" r="5.8" fill="#3c5cb0" stroke="#3c5cb0" stroke-width="0.8" fill-opacity="0.5"/>
<circle cx="535.2" cy="517.1" r="5.8" fill="#3c5cb0" stroke="#3c5cb0" stroke-width="0.8" fill-opacity="0.5"/>
<circle cx="545.0" cy="518.0" r="5.8" fill="#3c5cb0" stroke="#3c5cb0" stroke-width="0.8" fill-opacity="0.5"/>
<circle cx="533.8" cy="511.5" r="5.8" fill="#3c5cb0" stroke="#3c5cb0" stroke-width="0.8" fill-opacity="0.5"/>
<circle cx="539.5" cy="491.1" r="5.8" fill="#3c5cb0" stroke="#3c5cb0" stroke-width="0.8" fill-opacity="0.5"/>
<circle cx="524.1" cy="506.5" r="5.8" fill="#3c5cb0" stroke="#3c5cb0" stroke-width="0.8" fill-opacity="0.5"/>
<circle cx="518.3" cy="520.6" r="5.8" fill="#3c5cb0" stroke="#3c5cb0" stroke-width="0.8" fill-opacity="0.5"/>
<circle cx="519.6" cy="521.5" r="5.8" fill="#3c5cb0" stroke="#3c5cb0" stroke-width="0.8" fill-opacity="0.5"/>
<circle cx="544.8" cy="507.1" r="5.8" fill="#3c5cb0" stroke="#3c5cb0" stroke-width="0.8" fill-opacity="0.5"/>
<circle cx="545.0" cy="512.1" r="5.8" fill="#3c5cb0" stroke="#3c5cb0" stroke-width="0.8" fill-opacity="0.5"/>
<circle cx="530.6" cy="516.1" r="5.8" fill="#3c5cb0" stroke="#3c5cb0" stroke-width="0.8" fill-opacity="0.5"/>
<circle cx="550.2" cy="519.7" r="5.8" fill="#3c5cb0" stroke="#3c5cb0" stroke-width="0.8" fill-opacity="0.5"/>
<circle cx="517.8" cy="518.5" r="5.8" fill="#3c5cb0" stroke="#3c5cb0" stroke-width="0.8" fill-opacity="0.5"/>
<circle cx="554.3" cy="522.3" r="5.8" fill="#3c5cb0" stroke="#3c5cb0" stroke-width="0.8" fill-opacity="0.5"/>
<circle cx="551.5" cy="515.8" r="5.8" fill="#3c5cb0" stroke="#3c5cb0" stroke-width="0.8" fill-opacity="0.5"/>
<circle cx="542.3" cy="516.4" r="5.8" fill="#3c5cb0" stroke="#3c5cb0" stroke-width="0.8" fill-opacity="0.5"/>
<circle cx="542.2" cy="490.1" r="5.8" fill="#3c5cb0" stroke="#3c5cb0" stroke-width="0.8" fill-opacity="0.5"/>
<circle cx="547.6" cy="486.0" r="5.8" fill="#3c5cb0" stroke="#3c5cb0" stroke-width="0.8" fill-opacity="0.5"/>
<circle cx="528.7" cy="496.8" r="5.8" fill="#3c5cb0" stroke="#3c5cb0" stroke-width="0.8" fill-opacity="0.5"/>
<circle cx="527.2" cy="511.1" r="5.8" fill="#3c5cb0" stroke="#3c5cb0" stroke-width="0.8" fill-opacity="0.5"/>
<circle cx="530.8" cy="491.7" r="5.8" fill="#3c5cb0" stroke="#3c5cb0" stroke-width="0.8" fill-opacity="0.5"/>
<circle cx="556.5" cy="500.7" r="5.8" fill="#3c5cb0" stroke="#3c5cb0" stroke-width="0.8" fill-opacity="0.5"/>
<circle cx="551.6" cy="506.3" r="5.8" fill="#3c5cb0" stroke="#3c5cb0" stroke-width="0.8" fill-opacity="0.5"/>
<circle cx="533.8" cy="513.9" r="5.8" fill="#3c5cb0" stroke="#3c5cb0" stroke-width="0.8" fill-opacity="0.5"/>
<circle cx="529.9" cy="510.5" r="5.8" fill="#3c5cb0" stroke="#3c5cb0" stroke-width="0.8" fill-opacity="0.5"/>
<circle cx="538.1" cy="486.6" r="5.8" fill="#3c5cb0" stroke="#3c5cb0" stroke-width="0.8" fill-opacity="0.5"/>
<circle cx="552.1" cy="480.5" r="5.8" fill="#3c5cb0" stroke="#3c5cb0" stroke-width="0.8" fill-opacity="0.5"/>
<circle cx="550.3" cy="484.3" r="5.8" fill="#3c5cb0" stroke="#3c5cb0" stroke-width="0.8" fill-opacity="0.5"/>
<circle cx="547.8" cy="523.9" r="5.8" fill="#3c5cb0" stroke="#3c5cb0" stroke-width="0.8" fill-opacity="0.5"/>
<circle cx="536.1" cy="515.0" r="5.8" fill="#3c5cb0" stroke="#3c5cb0" stroke-width="0.8" fill-opacity="0.5"/>
<circle cx="522.9" cy="500.2" r="5.8" fill="#3c5cb0" stroke="#3c5cb0" stroke-width="0.8" fill-opacity="0.5"/>
<circle cx="529.9" cy="516.8" r="5.8" fill="#3c5cb0" stroke="#3c5cb0" stroke-width="0.8" fill-opacity="0.5"/>
<circle cx="526.2" cy="522.2" r="5.8" fill="#3c5cb0" stroke="#3c5cb0" stroke-width="0.8" fill-opacity="0.5"/>
<circle cx="545.1" cy="500.4" r="5.8" fill="#3c5cb0" stroke="#3c5cb0" stroke-width="0.8" fill-opacity="0.5"/>
<circle cx="519.7" cy="507.2" r="5.8" fill="#3c5cb0" stroke="#3c5cb0" stroke-width="0.8" fill-opacity="0.5"/>
<circle cx="518.5" cy="514.6" r="5.8" fill="#3c5cb0" stroke="#3c5cb0" stroke-width="0.8" fill-opacity="0.5"/>
<circle cx="545.0" cy="514.6" r="5.8" fill="#3c5cb0" stroke="#3c5cb0" stroke-width="0.8" fill-opacity="0.5"/>
<circle cx="542.0" cy="493.4" r="5.8" fill="#3c5cb0" stroke="#3c5cb0" stroke-width="0.8" fill-opacity="0.5"/>
<circle cx="532.3" cy="495.3" r="5.8" fill="#3c5cb0" stroke="#3c5cb0" stroke-width="0.8" fill-opacity="0.5"/>
<circle cx="553.3" cy="480.2" r="5.8" fill="#3c5cb0" stroke="#3c5cb0" stroke-width="0.8" fill-opacity="0.5"/>
<circle cx="553.8" cy="500.6" r="5.8" fill="#3c5cb0" stroke="#3c5cb0" stroke-width="0.8" fill-opacity="0.5"/>
<circle cx="531.3" cy="519.3" r="5.8" fill="#3c5cb0" stroke="#3c5cb0" stroke-width="0.8" fill-opacity="0.5"/>
<circle cx="525.0" cy="498.6" r="5.8" fill="#3c5cb0" stroke="#3c5cb0" stroke-width="0.8" fill-opacity="0.5"/>
<circle cx="537.9" cy="513.0" r="5.8" fill="#3c5cb0" stroke="#3c5cb0" stroke-width="0.8" fill-opacity="0.5"/>
<circle cx="547.4" cy="507.7" r="5.8" fill="#3c5cb0" stroke="#3c5cb0" stroke-width="0.8" fill-opacity="0.5"/>
<circle cx="530.0" cy="492.0" r="5.8" fill="#3c5cb0" stroke="#3c5cb0" stroke-width="0.8" fill-opacity="0.5"/>
<circle cx="521.7" cy="517.3" r="5.8" fill="#3c5cb0" stroke="#3c5cb0" stroke-width="0.8" fill-opacity="0.5"/>
<circle cx="543.5" cy="512.4" r="5.8" fill="#3c5cb0" stroke="#3c5cb0" stroke-width="0.8" fill-opacity="0.5"/>
<circle cx="548.3" cy="504.4" r="5.8" fill="#3c5cb0" stroke="#3c5cb0" stroke-width="0.8" fill-opacity="0.5"/>
<circle cx="553.1" cy="487.7" r="5.8" fill="#3c5cb0" stroke="#3c5cb0" stroke-width="0.8" fill-opacity="0.5"/>
<circle cx="545.2" cy="517.3" r="5.8" fill="#3c5cb0" stroke="#3c5cb0" stroke-width="0.8" fill-opacity="0.5"/>
<circle cx="537.5" cy="483.9" r="5.8" fill="#3c5cb0" stroke="#3c5cb0" stroke-width="0.8" fill-opacity="0.5"/>
<circle cx="556.9" cy="511.7" r="5.8" fill="#3c5cb0" stroke="#3c5cb0" stroke-width="0.8" fill-opacity="0.5"/>
<circle cx="519.4" cy="523.2" r="5.8" fill="#3c5cb0" stroke="#3c5cb0" stroke-width="0.8" fill-opacity="0.5"/>
<circle cx="557.3" cy="514.9" r="5.8" fill="#3c5cb0" stroke="#3c5cb0" stroke-width="0.8" fill-opacity="0.5"/>
<circle cx="546.5" cy="497.3" r="5.8" fill="#3c5cb0" stroke="#3c5cb0" stroke-width="0.8" fill-opacity="0.5"/>
<circle cx="523.4" cy="507.3" r="5.8" fill="#3c5cb0" stroke="#3c5cb0" stroke-width="0.8" fill-opacity="0.5"/>
<circle cx="532.2" cy="514.8" r="5.8" fill="#3c5cb0" stroke="#3c5cb0" stroke-width="0.8" fill-opacity="0.5"/>
<circle cx="544.8" cy="500.5" r="5.8" fill="#3c5cb0" stroke="#3c5cb0" stroke-width="0.8" fill-opacity="0.5"/>
<circle cx="542.2" cy="498.7" r="5.8" fill="#3c5cb0" stroke="#3c5cb0" stroke-width="0.8" fill-opacity="0.5"/>
<circle cx="521.1" cy="505.6" r="5.8" fill="#3c5cb0" stroke="#3c5cb0" stroke-width="0.8" fill-opacity="0.5"/>
<circle cx="532.4" cy="512.3" r="5.8" fill="#3c5cb0" stroke="#3c5cb0" stroke-width="0.8" fill-opacity="0.5"/>
<circle cx="554.0" cy="497.1" r="5.8" fill="#3c5cb0" stroke="#3c5cb0" stroke-width="0.8" fill-opacity="0.5"/>
<circle cx="539.7" cy="512.7" r="5.8" fill="#3c5cb0" stroke="#3c5cb0" stroke-width="0.8" fill-opacity="0.5"/>
<circle cx="533.1" cy="487.2" r="5.8" fill="#3c5cb0" stroke="#3c5cb0" stroke-width="0.8" fill-opacity="0.5"/>
<circle cx="546.1" cy="519.1" r="5.8" fill="#3c5cb0" stroke="#3c5cb0" stroke-width="0.8" fill-opacity="0.5"/>
<circle cx="548.3" cy="510.3" r="5.8" fill="#3c5cb0" stroke="#3c5cb0" stroke-width="0.8" fill-opacity="0.5"/>
<circle cx="551.7" cy="509.3" r="5.8" fill="#3c5cb0" stroke="#3c5cb0" stroke-width="0.8" fill-opacity="0.5"/>
<circle cx="542.6" cy="498.2" r="5.8" fill="#3c5cb0" stroke="#3c5cb0" stroke-width="0.8" fill-opacity="0.5"/>
<circle cx="528.5" cy="506.8" r="5.8" fill="#3c5cb0" stroke="#3c5cb0" stroke-width="0.8" fill-opacity="0.5"/>
<circle cx="548.6" cy="510.9" r="5.8" fill="#3c5cb0" stroke="#3c5cb0" stroke-width="0.8" fill-opacity="0.5"/>
<circle cx="542.1" cy="488.3" r="5.8" fill="#3c5cb0" stroke="#3c5cb0" stroke-width="0.8" fill-opacity="0.5"/>
<circle cx="533.2" cy="498.3" r="5.8" fill="#3c5cb0" stroke="#3c5cb0" stroke-width="0.8" fill-opacity="0.5"/>
<circle cx="541.7" cy="496.1" r="5.8" fill="#3c5cb0" stroke="#3c5cb0" stroke-width="0.8" fill-opacity="0.5"/>
<circle cx="544.0" cy="521.6" r="5.8" fill="#3c5cb0" stroke="#3c5cb0" stroke-width="0.8" fill-opacity="0.5"/>
<circle cx="522.9" cy="508.1" r="5.8" fill="#3c5cb0" stroke="#3c5cb0" stroke-width="0.8" fill-opacity="0.5"/>
<circle cx="548.5" cy="495.0" r="5.8" fill="#3c5cb0" stroke="#3c5cb0" stroke-width="0.8" fill-opacity="0.5"/>
<circle cx="536.1" cy="523.8" r="5.8" fill="#3c5cb0" stroke="#3c5cb0" stroke-width="0.8" fill-opacity="0.5"/>
<circle cx="521.9" cy="514.3" r="5.8" fill="#3c5cb0" stroke="#3c5cb0" stroke-width="0.8" fill-opacity="0.5"/>
<circle cx="555.4" cy="501.4" r="5.8" fill="#3c5cb0" stroke="#3c5cb0" stroke-width="0.8" fill-opacity="0.5"/>
<circle cx="519.3" cy="504.2" r="5.8" fill="#3c5cb0" stroke="#3c5cb0" stroke-width="0.8" fill-opacity="0.5"/>
<circle cx="538.3" cy="511.1" r="5.8" fill="#3c5cb0" stroke="#3c5cb0" stroke-width="0.8" fill-opacity="0.5"/>
<circle cx="537.0" cy="507.3" r="5.8" fill="#3c5cb0" stroke="#3c5cb0" stroke-width="0.8" fill-opacity="0.5"/>
<circle cx="550.6" cy="501.6" r="5.8" fill="#3c5cb0" stroke="#3c5cb0" stroke-width="0.8" fill-opacity="0.5"/>
<circle cx="532.6" cy="522.5" r="5.8" fill="#3c5cb0" stroke="#3c5cb0" stroke-width="0.8" fill-opacity="0.5"/>
<circle cx="524.0" cy="509.5" r="5.8" fill="#3c5cb0" stroke="#3c5cb0" stroke-width="0.8" fill-opacity="0.5"/>
<circle cx="531.9" cy="513.4" r="5.8" fill="#3c5cb0" stroke="#3c5cb0" stroke-width="0.8" fill-opacity="0.5"/>
<circle cx="520.3" cy="524.2" r="5.8" fill="#3c5cb0" stroke="#3c5cb0" stroke-width="0.8" fill-opacity="0.5"/>
<circle cx="526.8" cy="495.6" r="5.8" fill="#3c5cb0" stroke="#3c5cb0" stroke-width="0.8" fill-opacity="0.5"/>
<circle cx="533.1" cy="510.2" r="5.8" fill="#3c5cb0" stroke="#3c5cb0" stroke-width="0.8" fill-opacity="0.5"/>
<circle cx="530.1" cy="489.0" r="5.8" fill="#3c5cb0" stroke="#3c5cb0" stroke-width="0.8" fill-opacity="0.5"/>
<circle cx="524.7" cy="512.3" r="5.8" fill="#3c5cb0" stroke="#3c5cb0" stroke-width="0.8" fill-opacity="0.5"/>
<circle cx="555.4" cy="501.8" r="5.8" fill="#3c5cb0" stroke="#3c5cb0" stroke-width="0.8" fill-opacity="0.5"/>
<circle cx="524.4" cy="515.3" r="5.8" fill="#3c5cb0" stroke="#3c5cb0" stroke-width="0.8" fill-opacity="0.5"/>
<circle cx="531.9" cy="486.4" r="5.8" fill="#3c5cb0" stroke="#3c5cb0" stroke-width="0.8" fill-opacity="0.5"/>
<circle cx="520.6" cy="514.1" r="5.8" fill="#3c5cb0" stroke="#3c5cb0" stroke-width="0.8" fill-opacity="0.5"/>
<circle cx="549.8" cy="507.1" r="5.8" fill="#3c5cb0" stroke="#3c5cb0" stroke-width="0.8" fill-opacity="0.5"/>
<circle cx="535.2" cy="503.5" r="5.8" fill="#3c5cb0" stroke="#3c5cb0" stroke-width="0.8" fill-opacity="0.5"/>
<circle cx="524.7" cy="523.2" r="5.8" fill="#3c5cb0" stroke="#3c5cb0" stroke-width="0.8" fill-opacity="0.5"/>
<circle cx="530.2" cy="507.3" r="5.8" fill="#3c5cb0" stroke="#3c5cb0" stroke-width="0.8" fill-opacity="0.5"/>
<circle cx="550.2" cy="516.0" r="5.8" fill="#3c5cb0" stroke="#3c5cb0" stroke-width="0.8" fill-opacity="0.5"/>
<circle cx="535.1" cy="490.4" r="5.8" fill="#3c5cb0" stroke="#3c5cb0" stroke-width="0.8" fill-opacity="0.5"/>
<circle cx="538.6" cy="482.1" r="5.8" fill="#3c5cb0" stroke="#3c5cb0" stroke-width="0.8" fill-opacity="0.5"/>
<circle cx="550.9" cy="493.4" r="5.8" fill="#3c5cb0" stroke="#3c5cb0" stroke-width="0.8" fill-opacity="0.5"/>
<circle cx="551.6" cy="489.1" r="5.8" fill="#3c5cb0" stroke="#3c5cb0" stroke-width="0.8" fill-opacity="0.5"/>
<circle cx="531.2" cy="488.4" r="5.8" fill="#3c5cb0" stroke="#3c5cb0" stroke-width="0.8" fill-opacity="0.5"/>
<circle cx="533.3" cy="485.1" r="5.8" fill="#3c5cb0" stroke="#3c5cb0" stroke-width="0.8" fill-opacity="0.5"/>
<circle cx="528.0" cy="499.5" r="5.8" fill="#3c5cb0" stroke="#3c5cb0" stroke-width="0.8" fill-opacity="0.5"/>
<circle cx="533.4" cy="507.2" r="5.8" fill="#3c5cb0" stroke="#3c5cb0" stroke-width="0.8" fill-opacity="0.5"/>
<circle cx="543.3" cy="493.8" r="5.8" fill="#3c5cb0" stroke="#3c5cb0" stroke-width="0.8" fill-opacity="0.5"/>
<circle cx="554.9" cy="517.9" r="5.8" fill="#3c5cb0" stroke="#3c5cb0" stroke-width="0.8" fill-opacity="0.5"/>
<circle cx="517.5" cy="516.6" r="5.8" fill="#3c5cb0" stroke="#3c5cb0" stroke-width="0.8" fill-opacity="0.5"/>
<circle cx="553.9" cy="514.4" r="5.8" fill="#3c5cb0" stroke="#3c5cb0" stroke-width="0.8" fill-opacity="0.5"/>
<circle cx="521.0" cy="516.7" r="5.8" fill="#3c5cb0" stroke="#3c5cb0" stroke-width="0.8" fill-opacity="0.5"/>
<circle cx="515.5" cy="522.6" r="5.8" fill="#3c5cb0" stroke="#3c5cb0" stroke-width="0.8" fill-opacity="0.5"/>
<circle cx="543.2" cy="488.3" r="5.8" fill="#3c5cb0" stroke="#3c5cb0" stroke-width="0.8" fill-opacity="0.5"/>
<circle cx="525.0" cy="514.0" r="5.8" fill="#3c5cb0" stroke="#3c5cb0" stroke-width="0.8" fill-opacity="0.5"/>
<circle cx="553.9" cy="514.8" r="5.8" fill="#3c5cb0" stroke="#3c5cb0" stroke-width="0.8" fill-opacity="0.5"/>
<circle cx="522.2" cy="519.7" r="5.8" fill="#3c5cb0" stroke="#3c5cb0" stroke-width="0.8" fill-opacity="0.5"/>
<circle cx="541.2" cy="514.3" r="5.8" fill="#3c5cb0" stroke="#3c5cb0" stroke-width="0.8" fill-opacity="0.5"/>
<circle cx="543.7" cy="519.8" r="5.8" fill="#3c5cb0" stroke="#3c5cb0" stroke-width="0.8" fill-opacity="0.5"/>
<circle cx="548.9" cy="517.1" r="5.8" fill="#3c5cb0" stroke="#3c5cb0" stroke-width="0.8" fill-opacity="0.5"/>
<circle cx="523.5" cy="509.9" r="5.8" fill="#3c5cb0" stroke="#3c5cb0" stroke-width="0.8" fill-opacity="0.5"/>
<circle cx="537.8" cy="512.4" r="5.8" fill="#3c5cb0" stroke="#3c5cb0" stroke-width="0.8" fill-opacity="0.5"/>
<circle cx="533.9" cy="519.3" r="5.8" fill="#3c5cb0" stroke="#3c5cb0" stroke-width="0.8" fill-opacity="0.5"/>
<circle cx="538.9" cy="489.0" r="5.8" fill="#3c5cb0" stroke="#3c5cb0" stroke-width="0.8" fill-opacity="0.5"/>
<circle cx="535.1" cy="483.1" r="5.8" fill="#3c5cb0" stroke="#3c5cb0" stroke-width="0.8" fill-opacity="0.5"/>
<circle cx="536.1" cy="500.4" r="5.8" fill="#3c5cb0" stroke="#3c5cb0" stroke-width="0.8" fill-opacity="0.5"/>
<circle cx="538.2" cy="518.3" r="5.8" fill="#3c5cb0" stroke="#3c5cb0" stroke-width="0.8" fill-opacity="0.5"/>
<circle cx="515.3" cy="517.2" r="5.8" fill="#3c5cb0" stroke="#3c5cb0" stroke-width="0.8" fill-opacity="0.5"/>
<circle cx="535.1" cy="503.6" r="5.8" fill="#3c5cb0" stroke="#3c5cb0" stroke-width="0.8" fill-opacity="0.5"/>
<circle cx="543.6" cy="517.2" r="5.8" fill="#3c5cb0" stroke="#3c5cb0" stroke-width="0.8" fill-opacity="0.5"/>
<circle cx="531.1" cy="496.5" r="5.8" fill="#3c5cb0" stroke="#3c5cb0" stroke-width="0.8" fill-opacity="0.5"/>
<circle cx="542.4" cy="507.2" r="5.8" fill="#3c5cb0" stroke="#3c5cb0" stroke-width="0.8" fill-opacity="0.5"/>
<circle cx="544.4" cy="521.6" r="5.8" fill="#3c5cb0" stroke="#3c5cb0" stroke-width="0.8" fill-opacity="0.5"/>
<circle cx="529.2" cy="524.1" r="5.8" fill="#3c5cb0" stroke="#3c5cb0" stroke-width="0.8" fill-opacity="0.5"/>
<circle cx="537.0" cy="499.7" r="5.8" fill="#3c5cb0" stroke="#3c5cb0" stroke-width="0.8" fill-opacity="0.5"/>
<circle cx="545.9" cy="506.6" r="5.8" fill="#3c5cb0" stroke="#3c5cb0" stroke-width="0.8" fill-opacity="0.5"/>
<circle cx="529.6" cy="518.2" r="5.8" fill="#3c5cb0" stroke="#3c5cb0" stroke-width="0.8" fill-opacity="0.5"/>
<circle cx="530.7" cy="499.3" r="5.8" fill="#3c5cb0" stroke="#3c5cb0" stroke-width="0.8" fill-opacity="0.5"/>
<circle cx="537.6" cy="513.8" r="5.8" fill="#3c5cb0" stroke="#3c5cb0" stroke-width="0.8" fill-opacity="0.5"/>
<circle cx="524.1" cy="497.3" r="5.8" fill="#3c5cb0" stroke="#3c5cb0" stroke-width="0.8" fill-opacity="0.5"/>
<circle cx="533.2" cy="503.1" r="5.8" fill="#3c5cb0" stroke="#3c5cb0" stroke-width="0.8" fill-opacity="0.5"/>
<circle cx="550.5" cy="490.4" r="5.8" fill="#3c5cb0" stroke="#3c5cb0" stroke-width="0.8" fill-opacity="0.5"/>
<circle cx="550.6" cy="495.8" r="5.8" fill="#3c5cb0" stroke="#3c5cb0" stroke-width="0.8" fill-opacity="0.5"/>
<circle cx="536.7" cy="489.3" r="5.8" fill="#3c5cb0" stroke="#3c5cb0" stroke-width="0.8" fill-opacity="0.5"/>
<circle cx="536.8" cy="523.8" r="5.8" fill="#3c5cb0" stroke="#3c5cb0" stroke-width="0.8" fill-opacity="0.5"/>
<circle cx="543.1" cy="514.8" r="5.8" fill="#3c5cb0" stroke="#3c5cb0" stroke-width="0.8" fill-opacity="0.5"/>
<circle cx="529.2" cy="491.5" r="5.8" fill="#3c5cb0" stroke="#3c5cb0" stroke-width="0.8" fill-opacity="0.5"/>
<circle cx="527.9" cy="504.7" r="5.8" fill="#3c5cb0" stroke="#3c5cb0" stroke-width="0.8" fill-opacity="0.5"/>
<circle cx="542.3" cy="514.4" r="5.8" fill="#3c5cb0" stroke="#3c5cb0" stroke-width="0.8" fill-opacity="0.5"/>
<circle cx="516.7" cy="511.4" r="5.8" fill="#3c5cb0" stroke="#3c5cb0" stroke-width="0.8" fill-opacity="0.5"/>
<circle cx="553.1" cy="502.7" r="5.8" fill="#3c5cb0" stroke="#3c5cb0" stroke-width="0.8" fill-opacity="0.5"/>
<circle cx="554.6" cy="505.8" r="5.8" fill="#3c5cb0" stroke="#3c5cb0" stroke-width="0.8" fill-opacity="0.5"/>
<circle cx="543.3" cy="514.7" r="5.8" fill="#3c5cb0" stroke="#3c5cb0" stroke-width="0.8" fill-opacity="0.5"/>
<circle cx="554.1" cy="506.0" r="5.8" fill="#3c5cb0" stroke="#3c5cb0" stroke-width="0.8" fill-opacity="0.5"/>
<circle cx="541.5" cy="506.7" r="5.8" fill="#3c5cb0" stroke="#3c5cb0" stroke-width="0.8" fill-opacity="0.5"/>
<circle cx="544.9" cy="505.2" r="5.8" fill="#3c5cb0" stroke="#3c5cb0" stroke-width="0.8" fill-opacity="0.5"/>
<circle cx="544.3" cy="486.4" r="5.8" fill="#3c5cb0" stroke="#3c5cb0" stroke-width="0.8" fill-opacity="0.5"/>
<circle cx="543.7" cy="498.4" r="5.8" fill="#3c5cb0" stroke="#3c5cb0" stroke-width="0.8" fill-opacity="0.5"/>
<circle cx="547.8" cy="481.0" r="5.8" fill="#3c5cb0" stroke="#3c5cb0" stroke-width="0.8" fill-opacity="0.5"/>
<circle cx="548.3" cy="520.8" r="5.8" fill="#3c5cb0" stroke="#3c5cb0" stroke-width="0.8" fill-opacity="0.5"/>
<circle cx="543.2" cy="494.1" r="5.8" fill="#3c5cb0" stroke="#3c5cb0" stroke-width="0.8" fill-opacity="0.5"/>
<circle cx="550.4" cy="514.5" r="5.8" fill="#3c5cb0" stroke="#3c5cb0" stroke-width="0.8" fill-opacity="0.5"/>
<circle cx="539.2" cy="488.6" r="5.8" fill="#3c5cb0" stroke="#3c5cb0" stroke-width="0.8" fill-opacity="0.5"/>
<circle cx="528.0" cy="496.7" r="5.8" fill="#3c5cb0" stroke="#3c5cb0" stroke-width="0.8" fill-opacity="0.5"/>
<circle cx="528.7" cy="497.1" r="5.8" fill="#3c5cb0" stroke="#3c5cb0" stroke-width="0.8" fill-opacity="0.5"/>
<circle cx="542.6" cy="521.8" r="5.8" fill="#3c5cb0" stroke="#3c5cb0" stroke-width="0.8" fill-opacity="0.5"/>
<circle cx="549.8" cy="504.2" r="5.8" fill="#3c5cb0" stroke="#3c5cb0" stroke-width="0.8" fill-opacity="0.5"/>
<circle cx="554.5" cy="497.9" r="5.8" fill="#3c5cb0" stroke="#3c5cb0" stroke-width="0.8" fill-opacity="0.5"/>
<circle cx="540.5" cy="521.9" r="5.8" fill="#3c5cb0" stroke="#3c5cb0" stroke-width="0.8" fill-opacity="0.5"/>
<circle cx="557.2" cy="499.3" r="5.8" fill="#3c5cb0" stroke="#3c5cb0" stroke-width="0.8" fill-opacity="0.5"/>
<circle cx="542.7" cy="486.4" r="5.8" fill="#3c5cb0" stroke="#3c5cb0" stroke-width="0.8" fill-opacity="0.5"/>
<circle cx="520.2" cy="523.4" r="5.8" fill="#3c5cb0" stroke="#3c5cb0" stroke-width="0.8" fill-opacity="0.5"/>
<circle cx="518.8" cy="518.6" r="5.8" fill="#3c5cb0" stroke="#3c5cb0" stroke-width="0.8" fill-opacity="0.5"/>
<circle cx="545.9" cy="487.9" r="5.8" fill="#3c5cb0" stroke="#3c5cb0" stroke-width="0.8" fill-opacity="0.5"/>
<circle cx="546.5" cy="485.2" r="5.8" fill="#3c5cb0" stroke="#3c5cb0" stroke-width="0.8" fill-opacity="0.5"/>
<circle cx="517.2" cy="513.9" r="5.8" fill="#3c5cb0" stroke="#3c5cb0" stroke-width="0.8" fill-opacity="0.5"/>
<circle cx="545.7" cy="517.9" r="5.8" fill="#3c5cb0" stroke="#3c5cb0" stroke-width="0.8" fill-opacity="0.5"/>
<circle cx="546.4" cy="480.1" r="5.8" fill="#3c5cb0" stroke="#3c5cb0" stroke-width="0.8" fill-opacity="0.5"/>
<circle cx="542.0" cy="510.8" r="5.8" fill="#3c5cb0" stroke="#3c5cb0" stroke-width="0.8" fill-opacity="0.5"/>
<circle cx="534.8" cy="521.7" r="5.8" fill="#3c5cb0" stroke="#3c5cb0" stroke-width="0.8" fill-opacity="0.5"/>
<circle cx="525.9" cy="523.3" r="5.8" fill="#3c5cb0" stroke="#3c5cb0" stroke-width="0.8" fill-opacity="0.5"/>
<circle cx="550.1" cy="479.9" r="5.8" fill="#3c5cb0" stroke="#3c5cb0" stroke-width="0.8" fill-opacity="0.5"/>
<circle cx="528.4" cy="511.7" r="5.8" fill="#3c5cb0" stroke="#3c5cb0" stroke-width="0.8" fill-opacity="0.5"/>
<circle cx="522.1" cy="518.2" r="5.8" fill="#3c5cb0" stroke="#3c5cb0" stroke-width="0.8" fill-opacity="0.5"/>
<circle cx="530.8" cy="504.2" r="5.8" fill="#3c5cb0" stroke="#3c5cb0" stroke-width="0.8" fill-opacity="0.5"/>
<circle cx="533.9" cy="509.2" r="5.8" fill="#3c5cb0" stroke="#3c5cb0" stroke-width="0.8" fill-opacity="0.5"/>
<circle cx="521.2" cy="515.1" r="5.8" fill="#3c5cb0" stroke="#3c5cb0" stroke-width="0.8" fill-opacity="0.5"/>
<circle cx="530.6" cy="507.6" r="5.8" fill="#3c5cb0" stroke="#3c5cb0" stroke-width="0.8" fill-opacity="0.5"/>
<circle cx="542.1" cy="496.5" r="5.8" fill="#3c5cb0" stroke="#3c5cb0" stroke-width="0.8" fill-opacity="0.5"/>
<circle cx="531.6" cy="514.5" r="5.8" fill="#3c5cb0" stroke="#3c5cb0" stroke-width="0.8" fill-opacity="0.5"/>
<circle cx="555.6" cy="514.4" r="5.8" fill="#3c5cb0" stroke="#3c5cb0" stroke-width="0.8" fill-opacity="0.5"/>
<circle cx="539.4" cy="490.3" r="5.8" fill="#3c5cb0" stroke="#3c5cb0" stroke-width="0.8" fill-opacity="0.5"/>
<circle cx="517.6" cy="523.7" r="5.8" fill="#3c5cb0" stroke="#3c5cb0" stroke-width="0.8" fill-opacity="0.5"/>
<circle cx="545.2" cy="516.5" r="5.8" fill="#3c5cb0" stroke="#3c5cb0" stroke-width="0.8" fill-opacity="0.5"/>
<circle cx="529.3" cy="505.7" r="5.8" fill="#3c5cb0" stroke="#3c5cb0" stroke-width="0.8" fill-opacity="0.5"/>
<circle cx="557.0" cy="516.7" r="5.8" fill="#3c5cb0" stroke="#3c5cb0" stroke-width="0.8" fill-opacity="0.5"/>
<circle cx="540.8" cy="491.1" r="5.8" fill="#3c5cb0" stroke="#3c5cb0" stroke-width="0.8" fill-opacity="0.5"/>
<circle cx="533.4" cy="519.5" r="5.8" fill="#3c5cb0" stroke="#3c5cb0" stroke-width="0.8" fill-opacity="0.5"/>
<circle cx="531.2" cy="509.6" r="5.8" fill="#3c5cb0" stroke="#3c5cb0" stroke-width="0.8" fill-opacity="0.5"/>
<circle cx="540.9" cy="519.9" r="5.8" fill="#3c5cb0" stroke="#3c5cb0" stroke-width="0.8" fill-opacity="0.5"/>
<circle cx="549.7" cy="489.9" r="5.8" fill="#3c5cb0" stroke="#3c5cb0" stroke-width="0.8" fill-opacity="0.5"/>
<circle cx="533.2" cy="504.7" r="5.8" fill="#3c5cb0" stroke="#3c5cb0" stroke-width="0.8" fill-opacity="0.5"/>
<circle cx="550.1" cy="519.5" r="5.8" fill="#3c5cb0" stroke="#3c5cb0" stroke-width="0.8" fill-opacity="0.5"/>
<circle cx="516.8" cy="516.8" r="5.8" fill="#3c5cb0" stroke="#3c5cb0" stroke-width="0.8" fill-opacity="0.5"/>
<circle cx="549.9" cy="518.5" r="5.8" fill="#3c5cb0" stroke="#3c5cb0" stroke-width="0.8" fill-opacity="0.5"/>
<circle cx="539.6" cy="489.4" r="5.8" fill="#3c5cb0" stroke="#3c5cb0" stroke-width="0.8" fill-opacity="0.5"/>
<circle cx="551.6" cy="515.5" r="5.8" fill="#3c5cb0" stroke="#3c5cb0" stroke-width="0.8" fill-opacity="0.5"/>
<circle cx="544.4" cy="520.8" r="5.8" fill="#3c5cb0" stroke="#3c5cb0" stroke-width="0.8" fill-opacity="0.5"/>
<circle cx="538.8" cy="515.1" r="5.8" fill="#3c5cb0" stroke="#3c5cb0" stroke-width="0.8" fill-opacity="0.5"/>
<circle cx="523.6" cy="512.8" r="5.8" fill="#3c5cb0" stroke="#3c5cb0" stroke-width="0.8" fill-opacity="0.5"/>
<circle cx="555.1" cy="487.5" r="5.8" fill="#3c5cb0" stroke="#3c5cb0" stroke-width="0.8" fill-opacity="0.5"/>
<circle cx="541.1" cy="509.2" r="5.8" fill="#3c5cb0" stroke="#3c5cb0" stroke-width="0.8" fill-opacity="0.5"/>
<circle cx="535.0" cy="486.1" r="5.8" fill="#3c5cb0" stroke="#3c5cb0" stroke-width="0.8" fill-opacity="0.5"/>
<circle cx="526.0" cy="512.8" r="5.8" fill="#3c5cb0" stroke="#3c5cb0" stroke-width="0.8" fill-opacity="0.5"/>
<circle cx="549.0" cy="498.5" r="5.8" fill="#3c5cb0" stroke="#3c5cb0" stroke-width="0.8" fill-opacity="0.5"/>
<circle cx="518.8" cy="515.5" r="5.8" fill="#3c5cb0" stroke="#3c5cb0" stroke-width="0.8" fill-opacity="0.5"/>
<circle cx="548.2" cy="487.4" r="5.8" fill="#3c5cb0" stroke="#3c5cb0" stroke-width="0.8" fill-opacity="0.5"/>
<circle cx="539.9" cy="519.9" r="5.8" fill="#3c5cb0" stroke="#3c5cb0" stroke-width="0.8" fill-opacity="0.5"/>
<circle cx="553.1" cy="501.6" r="5.8" fill="#3c5cb0" stroke="#3c5cb0" stroke-width="0.8" fill-opacity="0.5"/>
<circle cx="535.5" cy="504.9" r="5.8" fill="#3c5cb0" stroke="#3c5cb0" stroke-width="0.8" fill-opacity="0.5"/>
<circle cx="522.8" cy="510.4" r="5.8" fill="#3c5cb0" stroke="#3c5cb0" stroke-width="0.8" fill-opacity="0.5"/>
<circle cx="530.6" cy="503.7" r="5.8" fill="#3c5cb0" stroke="#3c5cb0" stroke-width="0.8" fill-opacity="0.5"/>
<circle cx="532.3" cy="501.3" r="5.8" fill="#3c5cb0" stroke="#3c5cb0" stroke-width="0.8" fill-opacity="0.5"/>
<circle cx="557.9" cy="494.3" r="5.8" fill="#3c5cb0" stroke="#3c5cb0" stroke-width="0.8" fill-opacity="0.5"/>
<circle cx="519.6" cy="507.0" r="5.8" fill="#3c5cb0" stroke="#3c5cb0" stroke-width="0.8" fill-opacity="0.5"/>
<circle cx="548.9" cy="483.7" r="5.8" fill="#3c5cb0" stroke="#3c5cb0" stroke-width="0.8" fill-opacity="0.5"/>
<circle cx="540.7" cy="492.9" r="5.8" fill="#3c5cb0" stroke="#3c5cb0" stroke-width="0.8" fill-opacity="0.5"/>
<circle cx="516.4" cy="524.5" r="5.8" fill="#3c5cb0" stroke="#3c5cb0" stroke-width="0.8" fill-opacity="0.5"/>
<circle cx="552.2" cy="499.8" r="5.8" fill="#3c5cb0" stroke="#3c5cb0" stroke-width="0.8" fill-opacity="0.5"/>
<circle cx="539.4" cy="488.8" r="5.8" fill="#3c5cb0" stroke="#3c5cb0" stroke-width="0.8" fill-opacity="0.5"/>
<circle cx="548.5" cy="496.9" r="5.8" fill="#3c5cb0" stroke="#3c5cb0" stroke-width="0.8" fill-opacity="0.5"/>
<circle cx="555.7" cy="513.6" r="5.8" fill="#3c5cb0" stroke="#3c5cb0" stroke-width="0.8" fill-opacity="0.5"/>
<circle cx="550.2" cy="523.2" r="5.8" fill="#3c5cb0" stroke="#3c5cb0" stroke-width="0.8" fill-opacity="0.5"/>
<circle cx="539.0" cy="518.7" r="5.8" fill="#3c5cb0" stroke="#3c5cb0" stroke-width="0.8" fill-opacity="0.5"/>
<circle cx="534.7" cy="522.4" r="5.8" fill="#3c5cb0" stroke="#3c5cb0" stroke-width="0.8" fill-opacity="0.5"/>
<circle cx="554.1" cy="479.1" r="5.8" fill="#3c5cb0" stroke="#3c5cb0" stroke-width="0.8" fill-opacity="0.5"/>
<circle cx="540.7" cy="495.5" r="5.8" fill="#3c5cb0" stroke="#3c5cb0" stroke-width="0.8" fill-opacity="0.5"/>
<circle cx="520.2" cy="523.0" r="5.8" fill="#3c5cb0" stroke="#3c5cb0" stroke-width="0.8" fill-opacity="0.5"/>
<circle cx="526.1" cy="503.7" r="5.8" fill="#3c5cb0" stroke="#3c5cb0" stroke-width="0.8" fill-opacity="0.5"/>
<circle cx="542.5" cy="522.9" r="5.8" fill="#3c5cb0" stroke="#3c5cb0" stroke-width="0.8" fill-opacity="0.5"/>
<circle cx="543.8" cy="495.3" r="5.8" fill="#3c5cb0" stroke="#3c5cb0" stroke-width="0.8" fill-opacity="0.5"/>
<circle cx="534.3" cy="483.8" r="5.8" fill="#3c5cb0" stroke="#3c5cb0" stroke-width="0.8" fill-opacity="0.5"/>
<circle cx="556.5" cy="524.6" r="5.8" fill="#3c5cb0" stroke="#3c5cb0" stroke-width="0.8" fill-opacity="0.5"/>
<circle cx="553.8" cy="520.3" r="5.8" fill="#3c5cb0" stroke="#3c5cb0" stroke-width="0.8" fill-opacity="0.5"/>
<circle cx="551.0" cy="478.3" r="5.8" fill="#3c5cb0" stroke="#3c5cb0" stroke-width="0.8" fill-opacity="0.5"/>
<circle cx="548.8" cy="510.8" r="5.8" fill="#3c5cb0" stroke="#3c5cb0" stroke-width="0.8" fill-opacity="0.5"/>
<circle cx="542.8" cy="524.3" r="5.8" fill="#3c5cb0" stroke="#3c5cb0" stroke-width="0.8" fill-opacity="0.5"/>
<circle cx="547.5" cy="522.0" r="5.8" fill="#3c5cb0" stroke="#3c5cb0" stroke-width="0.8" fill-opacity="0.5"/>
<circle cx="544.1" cy="490.6" r="5.8" fill="#3c5cb0" stroke="#3c5cb0" stroke-width="0.8" fill-opacity="0.5"/>
<circle cx="540.4" cy="513.1" r="5.8" fill="#3c5cb0" stroke="#3c5cb0" stroke-width="0.8" fill-opacity="0.5"/>
<circle cx="535.7" cy="484.3" r="5.8" fill="#3c5cb0" stroke="#3c5cb0" stroke-width="0.8" fill-opacity="0.5"/>
<circle cx="545.8" cy="485.6" r="5.8" fill="#3c5cb0" stroke="#3c5cb0" stroke-width="0.8" fill-opacity="0.5"/>
<circle cx="516.5" cy="521.5" r="5.8" fill="#3c5cb0" stroke="#3c5cb0" stroke-width="0.8" fill-opacity="0.5"/>
<circle cx="524.5" cy="521.8" r="5.8" fill="#3c5cb0" stroke="#3c5cb0" stroke-width="0.8" fill-opacity="0.5"/>
<circle cx="552.3" cy="519.5" r="5.8" fill="#3c5cb0" stroke="#3c5cb0" stroke-width="0.8" fill-opacity="0.5"/>
<circle cx="519.2" cy="521.5" r="5.8" fill="#3c5cb0" stroke="#3c5cb0" stroke-width="0.8" fill-opacity="0.5"/>
<circle cx="551.2" cy="506.8" r="5.8" fill="#3c5cb0" stroke="#3c5cb0" stroke-width="0.8" fill-opacity="0.5"/>
<circle cx="534.5" cy="492.6" r="5.8" fill="#3c5cb0" stroke="#3c5cb0" stroke-width="0.8" fill-opacity="0.5"/>
<circle cx="550.4" cy="499.4" r="5.8" fill="#3c5cb0" stroke="#3c5cb0" stroke-width="0.8" fill-opacity="0.5"/>
<circle cx="542.0" cy="483.0" r="5.8" fill="#3c5cb0" stroke="#3c5cb0" stroke-width="0.8" fill-opacity="0.5"/>
<circle cx="545.7" cy="503.1" r="5.8" fill="#3c5cb0" stroke="#3c5cb0" stroke-width="0.8" fill-opacity="0.5"/>
<circle cx="521.2" cy="518.7" r="5.8" fill="#3c5cb0" stroke="#3c5cb0" stroke-width="0.8" fill-opacity="0.5"/>
<circle cx="526.5" cy="496.2" r="5.8" fill="#3c5cb0" stroke="#3c5cb0" stroke-width="0.8" fill-opacity="0.5"/>
<circle cx="551.1" cy="492.4" r="5.8" fill="#3c5cb0" stroke="#3c5cb0" stroke-width="0.8" fill-opacity="0.5"/>
<circle cx="522.2" cy="500.1" r="5.8" fill="#3c5cb0" stroke="#3c5cb0" stroke-width="0.8" fill-opacity="0.5"/>
<circle cx="528.7" cy="520.3" r="5.8" fill="#3c5cb0" stroke="#3c5cb0" stroke-width="0.8" fill-opacity="0.5"/>
<circle cx="519.9" cy="524.0" r="5.8" fill="#3c5cb0" stroke="#3c5cb0" stroke-width="0.8" fill-opacity="0.5"/>
<circle cx="517.4" cy="519.9" r="5.8" fill="#3c5cb0" stroke="#3c5cb0" stroke-width="0.8" fill-opacity="0.5"/>
<circle cx="543.7" cy="486.3" r="5.8" fill="#3c5cb0" stroke="#3c5cb0" stroke-width="0.8" fill-opacity="0.5"/>
<circle cx="535.5" cy="490.0" r="5.8" fill="#3c5cb0" stroke="#3c5cb0" stroke-width="0.8" fill-opacity="0.5"/>
<circle cx="530.7" cy="524.6" r="5.8" fill="#3c5cb0" stroke="#3c5cb0" stroke-width="0.8" fill-opacity="0.5"/>
<circle cx="557.9" cy="521.3" r="5.8" fill="#3c5cb0" stroke="#3c5cb0" stroke-width="0.8" fill-opacity="0.5"/>
<circle cx="553.5" cy="478.8" r="5.8" fill="#3c5cb0" stroke="#3c5cb0" stroke-width="0.8" fill-opacity="0.5"/>
<circle cx="546.2" cy="490.4" r="5.8" fill="#3c5cb0" stroke="#3c5cb0" stroke-width="0.8" fill-opacity="0.5"/>
<circle cx="549.7" cy="492.7" r="5.8" fill="#3c5cb0" stroke="#3c5cb0" stroke-width="0.8" fill-opacity="0.5"/>
<circle cx="550.8" cy="501.8" r="5.8" fill="#3c5cb0" stroke="#3c5cb0" stroke-width="0.8" fill-opacity="0.5"/>
<circle cx="554.2" cy="486.7" r="5.8" fill="#3c5cb0" stroke="#3c5cb0" stroke-width="0.8" fill-opacity="0.5"/>
<circle cx="539.6" cy="482.8" r="5.8" fill="#3c5cb0" stroke="#3c5cb0" stroke-width="0.8" fill-opacity="0.5"/>
<circle cx="522.7" cy="513.8" r="5.8" fill="#3c5cb0" stroke="#3c5cb0" stroke-width="0.8" fill-opacity="0.5"/>
<circle cx="545.6" cy="485.6" r="5.8" fill="#3c5cb0" stroke="#3c5cb0" stroke-width="0.8" fill-opacity="0.5"/>
<circle cx="541.2" cy="500.3" r="5.8" fill="#3c5cb0" stroke="#3c5cb0" stroke-width="0.8" fill-opacity="0.5"/>
<circle cx="541.3" cy="510.7" r="5.8" fill="#3c5cb0" stroke="#3c5cb0" stroke-width="0.8" fill-opacity="0.5"/>
<circle cx="549.9" cy="504.6" r="5.8" fill="#3c5cb0" stroke="#3c5cb0" stroke-width="0.8" fill-opacity="0.5"/>
<circle cx="546.5" cy="496.0" r="5.8" fill="#3c5cb0" stroke="#3c5cb0" stroke-width="0.8" fill-opacity="0.5"/>
<circle cx="546.0" cy="478.7" r="5.8" fill="#3c5cb0" stroke="#3c5cb0" stroke-width="0.8" fill-opacity="0.5"/>
<circle cx="549.9" cy="492.4" r="5.8" fill="#3c5cb0" stroke="#3c5cb0" stroke-width="0.8" fill-opacity="0.5"/>
<circle cx="551.2" cy="518.4" r="5.8" fill="#3c5cb0" stroke="#3c5cb0" stroke-width="0.8" fill-opacity="0.5"/>
<circle cx="554.1" cy="499.4" r="5.8" fill="#3c5cb0" stroke="#3c5cb0" stroke-width="0.8" fill-opacity="0.5"/>
<circle cx="552.5" cy="489.0" r="5.8" fill="#3c5cb0" stroke="#3c5cb0" stroke-width="0.8" fill-opacity="0.5"/>
<circle cx="523.0" cy="516.7" r="5.8" fill="#3c5cb0" stroke="#3c5cb0" stroke-width="0.8" fill-opacity="0.5"/>
<circle cx="531.0" cy="505.1" r="5.8" fill="#3c5cb0" stroke="#3c5cb0" stroke-width="0.8" fill-opacity="0.5"/>
<circle cx="534.2" cy="501.3" r="5.8" fill="#3c5cb0" stroke="#3c5cb0" stroke-width="0.8" fill-opacity="0.5"/>
<circle cx="520.2" cy="511.0" r="5.8" fill="#3c5cb0" stroke="#3c5cb0" stroke-width="0.8" fill-opacity="0.5"/>
<circle cx="550.1" cy="518.4" r="5.8" fill="#3c5cb0" stroke="#3c5cb0" stroke-width="0.8" fill-opacity="0.5"/>
<circle cx="528.8" cy="510.8" r="5.8" fill="#3c5cb0" stroke="#3c5cb0" stroke-width="0.8" fill-opacity="0.5"/>
<circle cx="531.4" cy="512.8" r="5.8" fill="#3c5cb0" stroke="#3c5cb0" stroke-width="0.8" fill-opacity="0.5"/>
<circle cx="517.6" cy="518.8" r="5.8" fill="#3c5cb0" stroke="#3c5cb0" stroke-width="0.8" fill-opacity="0.5"/>
<circle cx="556.0" cy="500.2" r="5.8" fill="#3c5cb0" stroke="#3c5cb0" stroke-width="0.8" fill-opacity="0.5"/>
<circle cx="537.1" cy="502.0" r="5.8" fill="#3c5cb0" stroke="#3c5cb0" stroke-width="0.8" fill-opacity="0.5"/>
<circle cx="556.6" cy="487.0" r="5.8" fill="#3c5cb0" stroke="#3c5cb0" stroke-width="0.8" fill-opacity="0.5"/>
<circle cx="525.8" cy="516.0" r="5.8" fill="#3c5cb0" stroke="#3c5cb0" stroke-width="0.8" fill-opacity="0.5"/>
<circle cx="545.1" cy="485.6" r="5.8" fill="#3c5cb0" stroke="#3c5cb0" stroke-width="0.8" fill-opacity="0.5"/>
<circle cx="539.8" cy="501.6" r="5.8" fill="#3c5cb0" stroke="#3c5cb0" stroke-width="0.8" fill-opacity="0.5"/>
<circle cx="545.2" cy="481.0" r="5.8" fill="#3c5cb0" stroke="#3c5cb0" stroke-width="0.8" fill-opacity="0.5"/>
<circle cx="552.4" cy="511.1" r="5.8" fill="#3c5cb0" stroke="#3c5cb0" stroke-width="0.8" fill-opacity="0.5"/>
<circle cx="536.2" cy="500.5" r="5.8" fill="#3c5cb0" stroke="#3c5cb0" stroke-width="0.8" fill-opacity="0.5"/>
<circle cx="540.4" cy="518.2" r="5.8" fill="#3c5cb0" stroke="#3c5cb0" stroke-width="0.8" fill-opacity="0.5"/>
<circle cx="521.3" cy="504.1" r="5.8" fill="#3c5cb0" stroke="#3c5cb0" stroke-width="0.8" fill-opacity="0.5"/>
<circle cx="547.1" cy="484.1" r="5.8" fill="#3c5cb0" stroke="#3c5cb0" stroke-width="0.8" fill-opacity="0.5"/>
<circle cx="550.5" cy="521.9" r="5.8" fill="#3c5cb0" stroke="#3c5cb0" stroke-width="0.8" fill-opacity="0.5"/>
<circle cx="531.7" cy="496.6" r="5.8" fill="#3c5cb0" stroke="#3c5cb0" stroke-width="0.8" fill-opacity="0.5"/>
<circle cx="551.1" cy="501.8" r="5.8" fill="#3c5cb0" stroke="#3c5cb0" stroke-width="0.8" fill-opacity="0.5"/>
<circle cx="532.0" cy="522.1" r="5.8" fill="#3c5cb0" stroke="#3c5cb0" stroke-width="0.8" fill-opacity="0.5"/>
<circle cx="548.4" cy="492.6" r="5.8" fill="#3c5cb0" stroke="#3c5cb0" stroke-width="0.8" fill-opacity="0.5"/>
<circle cx="533.7" cy="524.1" r="5.8" fill="#3c5cb0" stroke="#3c5cb0" stroke-width="0.8" fill-opacity="0.5"/>
<circle cx="549.6" cy="520.7" r="5.8" fill="#3c5cb0" stroke="#3c5cb0" stroke-width="0.8" fill-opacity="0.5"/>
<circle cx="550.0" cy="517.5" r="5.8" fill="#3c5cb0" stroke="#3c5cb0" stroke-width="0.8" fill-opacity="0.5"/>
<circle cx="556.2" cy="521.8" r="5.8" fill="#3c5cb0" stroke="#3c5cb0" stroke-width="0.8" fill-opacity="0.5"/>
<circle cx="525.7" cy="496.7" r="5.8" fill="#3c5cb0" stroke="#3c5cb0" stroke-width="0.8" fill-opacity="0.5"/>
<circle cx="542.2" cy="493.9" r="5.8" fill="#3c5cb0" stroke="#3c5cb0" stroke-width="0.8" fill-opacity="0.5"/>
<circle cx="533.6" cy="500.7" r="5.8" fill="#3c5cb0" stroke="#3c5cb0" stroke-width="0.8" fill-opacity="0.5"/>
<circle cx="556.7" cy="514.1" r="5.8" fill="#3c5cb0" stroke="#3c5cb0" stroke-width="0.8" fill-opacity="0.5"/>
<circle cx="555.3" cy="507.0" r="5.8" fill="#3c5cb0" stroke="#3c5cb0" stroke-width="0.8" fill-opacity="0.5"/>
<circle cx="549.8" cy="519.3" r="5.8" fill="#3c5cb0" stroke="#3c5cb0" stroke-width="0.8" fill-opacity="0.5"/>
<circle cx="553.0" cy="477.7" r="5.8" fill="#3c5cb0" stroke="#3c5cb0" stroke-width="0.8" fill-opacity="0.5"/>
<circle cx="507.0" cy="515.7" r="5.8" fill="#3c5cb0" stroke="#3c5cb0" stroke-width="0.8" fill-opacity="0.5"/>
<circle cx="507.5" cy="515.8" r="5.8" fill="#3c5cb0" stroke="#3c5cb0" stroke-width="0.8" fill-opacity="0.5"/>
<circle cx="505.6" cy="524.9" r="5.8" fill="#3c5cb0" stroke="#3c5cb0" stroke-width="0.8" fill-opacity="0.5"/>
<circle cx="506.7" cy="515.5" r="5.8" fill="#3c5cb0" stroke="#3c5cb0" stroke-width="0.8" fill-opacity="0.5"/>
<circle cx="505.3" cy="518.1" r="5.8" fill="#3c5cb0" stroke="#3c5cb0" stroke-width="0.8" fill-opacity="0.5"/>
<circle cx="511.3" cy="516.0" r="5.8" fill="#3c5cb0" stroke="#3c5cb0" stroke-width="0.8" fill-opacity="0.5"/>
<circle cx="453.0" cy="383.4" r="5.8" fill="#3c5cb0" stroke="#3c5cb0" stroke-width="0.8" fill-opacity="0.5"/>
<circle cx="474.3" cy="391.0" r="5.8" fill="#3c5cb0" stroke="#3c5cb0" stroke-width="0.8" fill-opacity="0.5"/>
<circle cx="496.2" cy="388.3" r="5.8" fill="#3c5cb0" stroke="#3c5cb0" stroke-width="0.8" fill-opacity="0.5"/>
<circle cx="515.1" cy="386.2" r="5.8" fill="#3c5cb0" stroke="#3c5cb0" stroke-width="0.8" fill-opacity="0.5"/>
<circle cx="512.7" cy="403.6" r="5.8" fill="#3c5cb0" stroke="#3c5cb0" stroke-width="0.8" fill-opacity="0.5"/>
<circle cx="521.6" cy="402.3" r="5.8" fill="#3c5cb0" stroke="#3c5cb0" stroke-width="0.8" fill-opacity="0.5"/>
<circle cx="527.2" cy="403.9" r="5.8" fill="#3c5cb0" stroke="#3c5cb0" stroke-width="0.8" fill-opacity="0.5"/>
<circle cx="532.9" cy="425.4" r="5.8" fill="#3c5cb0" stroke="#3c5cb0" stroke-width="0.8" fill-opacity="0.5"/>
<circle cx="478.5" cy="434.0" r="5.8" fill="#3c5cb0" stroke="#3c5cb0" stroke-width="0.8" fill-opacity="0.5"/>
<circle cx="497.8" cy="450.0" r="5.8" fill="#3c5cb0" stroke="#3c5cb0" stroke-width="0.8" fill-opacity="0.5"/>
<circle cx="523.7" cy="448.0" r="5.8" fill="#3c5cb0" stroke="#3c5cb0" stroke-width="0.8" fill-opacity="0.5"/>
<circle cx="525.6" cy="464.1" r="5.8" fill="#3c5cb0" stroke="#3c5cb0" stroke-width="0.8" fill-opacity="0.5"/>
<circle cx="514.6" cy="472.2" r="5.8" fill="#3c5cb0" stroke="#3c5cb0" stroke-width="0.8" fill-opacity="0.5"/>
<circle cx="545.0" cy="467.4" r="5.8" fill="#3c5cb0" stroke="#3c5cb0" stroke-width="0.8" fill-opacity="0.5"/>
<circle cx="551.1" cy="466.6" r="5.8" fill="#3c5cb0" stroke="#3c5cb0" stroke-width="0.8" fill-opacity="0.5"/>
<circle cx="479.1" cy="484.3" r="5.8" fill="#3c5cb0" stroke="#3c5cb0" stroke-width="0.8" fill-opacity="0.5"/>
<circle cx="505.4" cy="493.2" r="5.8" fill="#3c5cb0" stroke="#3c5cb0" stroke-width="0.8" fill-opacity="0.5"/>
<circle cx="453.8" cy="514.2" r="5.8" fill="#3c5cb0" stroke="#3c5cb0" stroke-width="0.8" fill-opacity="0.5"/>
<circle cx="453.8" cy="522.3" r="5.8" fill="#3c5cb0" stroke="#3c5cb0" stroke-width="0.8" fill-opacity="0.5"/>
<circle cx="490.9" cy="519.8" r="5.8" fill="#3c5cb0" stroke="#3c5cb0" stroke-width="0.8" fill-opacity="0.5"/>
<circle cx="496.0" cy="521.0" r="5.8" fill="#3c5cb0" stroke="#3c5cb0" stroke-width="0.8" fill-opacity="0.5"/>
<circle cx="512.0" cy="505.0" r="5.8" fill="#3c5cb0" stroke="#3c5cb0" stroke-width="0.8" fill-opacity="0.5"/>
<circle cx="518.0" cy="497.0" r="5.8" fill="#3c5cb0" stroke="#3c5cb0" stroke-width="0.8" fill-opacity="0.5"/>
<circle cx="527.0" cy="486.0" r="5.8" fill="#3c5cb0" stroke="#3c5cb0" stroke-width="0.8" fill-opacity="0.5"/>
<circle cx="536.0" cy="481.0" r="5.8" fill="#3c5cb0" stroke="#3c5cb0" stroke-width="0.8" fill-opacity="0.5"/>
<circle cx="544.0" cy="476.0" r="5.8" fill="#3c5cb0" stroke="#3c5cb0" stroke-width="0.8" fill-opacity="0.5"/>
<circle cx="549.0" cy="474.0" r="5.8" fill="#3c5cb0" stroke="#3c5cb0" stroke-width="0.8" fill-opacity="0.5"/>
<circle cx="540.0" cy="470.0" r="5.8" fill="#3c5cb0" stroke="#3c5cb0" stroke-width="0.8" fill-opacity="0.5"/>
<circle cx="555.0" cy="480.0" r="5.8" fill="#3c5cb0" stroke="#3c5cb0" stroke-width="0.8" fill-opacity="0.5"/>
<circle cx="488.0" cy="521.0" r="5.8" fill="#3c5cb0" stroke="#3c5cb0" stroke-width="0.8" fill-opacity="0.5"/>
<circle cx="500.0" cy="518.0" r="5.8" fill="#3c5cb0" stroke="#3c5cb0" stroke-width="0.8" fill-opacity="0.5"/>
<circle cx="593.7" cy="479.8" r="5.8" fill="#ea2a1e" fill-opacity="0.5"/>
<circle cx="617.9" cy="520.2" r="5.8" fill="#ea2a1e" fill-opacity="0.5"/>
<circle cx="590.5" cy="456.1" r="5.8" fill="#ea2a1e" fill-opacity="0.5"/>
<circle cx="580.5" cy="411.2" r="5.8" fill="#ea2a1e" fill-opacity="0.5"/>
<circle cx="592.7" cy="448.3" r="5.8" fill="#ea2a1e" fill-opacity="0.5"/>
<circle cx="615.9" cy="480.2" r="5.8" fill="#ea2a1e" fill-opacity="0.5"/>
<circle cx="614.0" cy="475.3" r="5.8" fill="#ea2a1e" fill-opacity="0.5"/>
<circle cx="594.1" cy="426.7" r="5.8" fill="#ea2a1e" fill-opacity="0.5"/>
<circle cx="614.8" cy="459.4" r="5.8" fill="#ea2a1e" fill-opacity="0.5"/>
<circle cx="573.6" cy="509.1" r="5.8" fill="#ea2a1e" fill-opacity="0.5"/>
<circle cx="573.2" cy="445.8" r="5.8" fill="#ea2a1e" fill-opacity="0.5"/>
<circle cx="586.9" cy="520.7" r="5.8" fill="#ea2a1e" fill-opacity="0.5"/>
<circle cx="581.0" cy="439.1" r="5.8" fill="#ea2a1e" fill-opacity="0.5"/>
<circle cx="611.5" cy="491.8" r="5.8" fill="#ea2a1e" fill-opacity="0.5"/>
<circle cx="609.8" cy="521.1" r="5.8" fill="#ea2a1e" fill-opacity="0.5"/>
<circle cx="603.1" cy="497.7" r="5.8" fill="#ea2a1e" fill-opacity="0.5"/>
<circle cx="619.0" cy="444.7" r="5.8" fill="#ea2a1e" fill-opacity="0.5"/>
<circle cx="606.5" cy="489.7" r="5.8" fill="#ea2a1e" fill-opacity="0.5"/>
<circle cx="600.8" cy="467.8" r="5.8" fill="#ea2a1e" fill-opacity="0.5"/>
<circle cx="595.0" cy="498.1" r="5.8" fill="#ea2a1e" fill-opacity="0.5"/>
<circle cx="610.0" cy="453.2" r="5.8" fill="#ea2a1e" fill-opacity="0.5"/>
<circle cx="595.2" cy="505.5" r="5.8" fill="#ea2a1e" fill-opacity="0.5"/>
<circle cx="603.8" cy="514.3" r="5.8" fill="#ea2a1e" fill-opacity="0.5"/>
<circle cx="572.0" cy="469.0" r="5.8" fill="#ea2a1e" fill-opacity="0.5"/>
<circle cx="613.2" cy="525.8" r="5.8" fill="#ea2a1e" fill-opacity="0.5"/>
<circle cx="611.5" cy="484.8" r="5.8" fill="#ea2a1e" fill-opacity="0.5"/>
<circle cx="598.0" cy="472.9" r="5.8" fill="#ea2a1e" fill-opacity="0.5"/>
<circle cx="601.7" cy="468.5" r="5.8" fill="#ea2a1e" fill-opacity="0.5"/>
<circle cx="577.3" cy="512.2" r="5.8" fill="#ea2a1e" fill-opacity="0.5"/>
<circle cx="611.0" cy="461.1" r="5.8" fill="#ea2a1e" fill-opacity="0.5"/>
<circle cx="583.3" cy="477.5" r="5.8" fill="#ea2a1e" fill-opacity="0.5"/>
<circle cx="597.7" cy="525.2" r="5.8" fill="#ea2a1e" fill-opacity="0.5"/>
<circle cx="593.6" cy="505.3" r="5.8" fill="#ea2a1e" fill-opacity="0.5"/>
<circle cx="609.8" cy="467.5" r="5.8" fill="#ea2a1e" fill-opacity="0.5"/>
<circle cx="616.3" cy="448.9" r="5.8" fill="#ea2a1e" fill-opacity="0.5"/>
<circle cx="581.2" cy="494.5" r="5.8" fill="#ea2a1e" fill-opacity="0.5"/>
<circle cx="569.0" cy="495.9" r="5.8" fill="#ea2a1e" fill-opacity="0.5"/>
<circle cx="582.2" cy="429.9" r="5.8" fill="#ea2a1e" fill-opacity="0.5"/>
<circle cx="597.3" cy="453.9" r="5.8" fill="#ea2a1e" fill-opacity="0.5"/>
<circle cx="572.6" cy="511.7" r="5.8" fill="#ea2a1e" fill-opacity="0.5"/>
<circle cx="620.1" cy="427.7" r="5.8" fill="#ea2a1e" fill-opacity="0.5"/>
<circle cx="594.4" cy="512.8" r="5.8" fill="#ea2a1e" fill-opacity="0.5"/>
<circle cx="609.6" cy="519.4" r="5.8" fill="#ea2a1e" fill-opacity="0.5"/>
<circle cx="600.7" cy="489.1" r="5.8" fill="#ea2a1e" fill-opacity="0.5"/>
<circle cx="594.0" cy="509.7" r="5.8" fill="#ea2a1e" fill-opacity="0.5"/>
<circle cx="582.6" cy="441.9" r="5.8" fill="#ea2a1e" fill-opacity="0.5"/>
<circle cx="600.4" cy="447.8" r="5.8" fill="#ea2a1e" fill-opacity="0.5"/>
<circle cx="578.4" cy="503.2" r="5.8" fill="#ea2a1e" fill-opacity="0.5"/>
<circle cx="581.1" cy="487.5" r="5.8" fill="#ea2a1e" fill-opacity="0.5"/>
<circle cx="590.7" cy="504.4" r="5.8" fill="#ea2a1e" fill-opacity="0.5"/>
<circle cx="605.2" cy="504.6" r="5.8" fill="#ea2a1e" fill-opacity="0.5"/>
<circle cx="599.7" cy="520.6" r="5.8" fill="#ea2a1e" fill-opacity="0.5"/>
<circle cx="587.1" cy="454.3" r="5.8" fill="#ea2a1e" fill-opacity="0.5"/>
<circle cx="585.9" cy="509.3" r="5.8" fill="#ea2a1e" fill-opacity="0.5"/>
<circle cx="611.1" cy="466.1" r="5.8" fill="#ea2a1e" fill-opacity="0.5"/>
<circle cx="594.1" cy="446.1" r="5.8" fill="#ea2a1e" fill-opacity="0.5"/>
<circle cx="582.9" cy="506.5" r="5.8" fill="#ea2a1e" fill-opacity="0.5"/>
<circle cx="579.1" cy="431.2" r="5.8" fill="#ea2a1e" fill-opacity="0.5"/>
<circle cx="620.8" cy="418.8" r="5.8" fill="#ea2a1e" fill-opacity="0.5"/>
<circle cx="615.9" cy="488.9" r="5.8" fill="#ea2a1e" fill-opacity="0.5"/>
<circle cx="604.5" cy="484.6" r="5.8" fill="#ea2a1e" fill-opacity="0.5"/>
<circle cx="568.1" cy="504.3" r="5.8" fill="#ea2a1e" fill-opacity="0.5"/>
<circle cx="585.7" cy="514.8" r="5.8" fill="#ea2a1e" fill-opacity="0.5"/>
<circle cx="575.2" cy="486.0" r="5.8" fill="#ea2a1e" fill-opacity="0.5"/>
<circle cx="630.8" cy="503.6" r="5.8" fill="#ea2a1e" fill-opacity="0.5"/>
<circle cx="575.6" cy="519.0" r="5.8" fill="#ea2a1e" fill-opacity="0.5"/>
<circle cx="578.7" cy="494.8" r="5.8" fill="#ea2a1e" fill-opacity="0.5"/>
<circle cx="627.0" cy="500.6" r="5.8" fill="#ea2a1e" fill-opacity="0.5"/>
<circle cx="613.9" cy="522.0" r="5.8" fill="#ea2a1e" fill-opacity="0.5"/>
<circle cx="613.7" cy="427.7" r="5.8" fill="#ea2a1e" fill-opacity="0.5"/>
<circle cx="598.1" cy="448.9" r="5.8" fill="#ea2a1e" fill-opacity="0.5"/>
<circle cx="588.3" cy="462.5" r="5.8" fill="#ea2a1e" fill-opacity="0.5"/>
<circle cx="593.1" cy="510.9" r="5.8" fill="#ea2a1e" fill-opacity="0.5"/>
<circle cx="614.1" cy="494.6" r="5.8" fill="#ea2a1e" fill-opacity="0.5"/>
<circle cx="606.7" cy="495.4" r="5.8" fill="#ea2a1e" fill-opacity="0.5"/>
<circle cx="584.6" cy="486.9" r="5.8" fill="#ea2a1e" fill-opacity="0.5"/>
<circle cx="598.5" cy="417.0" r="5.8" fill="#ea2a1e" fill-opacity="0.5"/>
<circle cx="568.9" cy="525.0" r="5.8" fill="#ea2a1e" fill-opacity="0.5"/>
<circle cx="575.1" cy="488.9" r="5.8" fill="#ea2a1e" fill-opacity="0.5"/>
<circle cx="568.7" cy="515.5" r="5.8" fill="#ea2a1e" fill-opacity="0.5"/>
<circle cx="620.7" cy="517.5" r="5.8" fill="#ea2a1e" fill-opacity="0.5"/>
<circle cx="589.1" cy="427.2" r="5.8" fill="#ea2a1e" fill-opacity="0.5"/>
<circle cx="570.3" cy="496.5" r="5.8" fill="#ea2a1e" fill-opacity="0.5"/>
<circle cx="639.0" cy="516.4" r="5.8" fill="#ea2a1e" fill-opacity="0.5"/>
<circle cx="583.5" cy="503.1" r="5.8" fill="#ea2a1e" fill-opacity="0.5"/>
<circle cx="599.0" cy="467.2" r="5.8" fill="#ea2a1e" fill-opacity="0.5"/>
<circle cx="571.5" cy="469.3" r="5.8" fill="#ea2a1e" fill-opacity="0.5"/>
<circle cx="568.2" cy="505.1" r="5.8" fill="#ea2a1e" fill-opacity="0.5"/>
<circle cx="591.8" cy="481.7" r="5.8" fill="#ea2a1e" fill-opacity="0.5"/>
<circle cx="624.0" cy="503.2" r="5.8" fill="#ea2a1e" fill-opacity="0.5"/>
<circle cx="615.3" cy="440.6" r="5.8" fill="#ea2a1e" fill-opacity="0.5"/>
<circle cx="620.1" cy="501.3" r="5.8" fill="#ea2a1e" fill-opacity="0.5"/>
<circle cx="608.4" cy="479.8" r="5.8" fill="#ea2a1e" fill-opacity="0.5"/>
<circle cx="596.8" cy="510.9" r="5.8" fill="#ea2a1e" fill-opacity="0.5"/>
<circle cx="583.9" cy="483.9" r="5.8" fill="#ea2a1e" fill-opacity="0.5"/>
<circle cx="575.2" cy="481.5" r="5.8" fill="#ea2a1e" fill-opacity="0.5"/>
<circle cx="615.4" cy="446.9" r="5.8" fill="#ea2a1e" fill-opacity="0.5"/>
<circle cx="583.2" cy="511.6" r="5.8" fill="#ea2a1e" fill-opacity="0.5"/>
<circle cx="577.4" cy="507.9" r="5.8" fill="#ea2a1e" fill-opacity="0.5"/>
<circle cx="576.0" cy="464.5" r="5.8" fill="#ea2a1e" fill-opacity="0.5"/>
<circle cx="609.1" cy="467.6" r="5.8" fill="#ea2a1e" fill-opacity="0.5"/>
<circle cx="614.2" cy="488.6" r="5.8" fill="#ea2a1e" fill-opacity="0.5"/>
<circle cx="577.6" cy="524.8" r="5.8" fill="#ea2a1e" fill-opacity="0.5"/>
<circle cx="576.6" cy="503.8" r="5.8" fill="#ea2a1e" fill-opacity="0.5"/>
<circle cx="582.4" cy="520.8" r="5.8" fill="#ea2a1e" fill-opacity="0.5"/>
<circle cx="587.9" cy="443.8" r="5.8" fill="#ea2a1e" fill-opacity="0.5"/>
<circle cx="582.1" cy="492.7" r="5.8" fill="#ea2a1e" fill-opacity="0.5"/>
<circle cx="599.3" cy="491.6" r="5.8" fill="#ea2a1e" fill-opacity="0.5"/>
<circle cx="577.3" cy="499.9" r="5.8" fill="#ea2a1e" fill-opacity="0.5"/>
<circle cx="613.2" cy="485.3" r="5.8" fill="#ea2a1e" fill-opacity="0.5"/>
<circle cx="601.0" cy="457.3" r="5.8" fill="#ea2a1e" fill-opacity="0.5"/>
<circle cx="574.4" cy="438.1" r="5.8" fill="#ea2a1e" fill-opacity="0.5"/>
<circle cx="598.3" cy="456.3" r="5.8" fill="#ea2a1e" fill-opacity="0.5"/>
<circle cx="600.6" cy="441.3" r="5.8" fill="#ea2a1e" fill-opacity="0.5"/>
<circle cx="616.6" cy="438.7" r="5.8" fill="#ea2a1e" fill-opacity="0.5"/>
<circle cx="606.6" cy="524.2" r="5.8" fill="#ea2a1e" fill-opacity="0.5"/>
<circle cx="580.2" cy="482.9" r="5.8" fill="#ea2a1e" fill-opacity="0.5"/>
<circle cx="591.0" cy="460.5" r="5.8" fill="#ea2a1e" fill-opacity="0.5"/>
<circle cx="615.1" cy="496.0" r="5.8" fill="#ea2a1e" fill-opacity="0.5"/>
<circle cx="621.3" cy="442.5" r="5.8" fill="#ea2a1e" fill-opacity="0.5"/>
<circle cx="610.7" cy="478.2" r="5.8" fill="#ea2a1e" fill-opacity="0.5"/>
<circle cx="614.3" cy="448.2" r="5.8" fill="#ea2a1e" fill-opacity="0.5"/>
<circle cx="608.4" cy="443.1" r="5.8" fill="#ea2a1e" fill-opacity="0.5"/>
<circle cx="587.7" cy="440.7" r="5.8" fill="#ea2a1e" fill-opacity="0.5"/>
<circle cx="568.6" cy="509.1" r="5.8" fill="#ea2a1e" fill-opacity="0.5"/>
<circle cx="605.4" cy="469.5" r="5.8" fill="#ea2a1e" fill-opacity="0.5"/>
<circle cx="593.9" cy="490.2" r="5.8" fill="#ea2a1e" fill-opacity="0.5"/>
<circle cx="616.8" cy="524.4" r="5.8" fill="#ea2a1e" fill-opacity="0.5"/>
<circle cx="608.7" cy="512.8" r="5.8" fill="#ea2a1e" fill-opacity="0.5"/>
<circle cx="586.3" cy="447.3" r="5.8" fill="#ea2a1e" fill-opacity="0.5"/>
<circle cx="618.6" cy="508.2" r="5.8" fill="#ea2a1e" fill-opacity="0.5"/>
<circle cx="584.5" cy="491.1" r="5.8" fill="#ea2a1e" fill-opacity="0.5"/>
<circle cx="595.4" cy="493.2" r="5.8" fill="#ea2a1e" fill-opacity="0.5"/>
<circle cx="602.0" cy="483.9" r="5.8" fill="#ea2a1e" fill-opacity="0.5"/>
<circle cx="572.8" cy="449.3" r="5.8" fill="#ea2a1e" fill-opacity="0.5"/>
<circle cx="569.1" cy="516.2" r="5.8" fill="#ea2a1e" fill-opacity="0.5"/>
<circle cx="619.6" cy="489.9" r="5.8" fill="#ea2a1e" fill-opacity="0.5"/>
<circle cx="580.0" cy="495.5" r="5.8" fill="#ea2a1e" fill-opacity="0.5"/>
<circle cx="613.2" cy="472.1" r="5.8" fill="#ea2a1e" fill-opacity="0.5"/>
<circle cx="623.2" cy="473.8" r="5.8" fill="#ea2a1e" fill-opacity="0.5"/>
<circle cx="608.0" cy="480.9" r="5.8" fill="#ea2a1e" fill-opacity="0.5"/>
<circle cx="598.4" cy="524.6" r="5.8" fill="#ea2a1e" fill-opacity="0.5"/>
<circle cx="573.1" cy="460.7" r="5.8" fill="#ea2a1e" fill-opacity="0.5"/>
<circle cx="583.3" cy="518.1" r="5.8" fill="#ea2a1e" fill-opacity="0.5"/>
<circle cx="570.4" cy="496.9" r="5.8" fill="#ea2a1e" fill-opacity="0.5"/>
<circle cx="577.1" cy="491.1" r="5.8" fill="#ea2a1e" fill-opacity="0.5"/>
<circle cx="573.0" cy="468.9" r="5.8" fill="#ea2a1e" fill-opacity="0.5"/>
<circle cx="586.8" cy="428.0" r="5.8" fill="#ea2a1e" fill-opacity="0.5"/>
<circle cx="604.4" cy="425.3" r="5.8" fill="#ea2a1e" fill-opacity="0.5"/>
<circle cx="593.1" cy="525.3" r="5.8" fill="#ea2a1e" fill-opacity="0.5"/>
<circle cx="585.6" cy="510.7" r="5.8" fill="#ea2a1e" fill-opacity="0.5"/>
<circle cx="633.5" cy="508.1" r="5.8" fill="#ea2a1e" fill-opacity="0.5"/>
<circle cx="640.6" cy="525.3" r="5.8" fill="#ea2a1e" fill-opacity="0.5"/>
<circle cx="582.2" cy="484.4" r="5.8" fill="#ea2a1e" fill-opacity="0.5"/>
<circle cx="596.5" cy="515.3" r="5.8" fill="#ea2a1e" fill-opacity="0.5"/>
<circle cx="642.1" cy="523.3" r="5.8" fill="#ea2a1e" fill-opacity="0.5"/>
<circle cx="587.7" cy="498.8" r="5.8" fill="#ea2a1e" fill-opacity="0.5"/>
<circle cx="571.2" cy="461.1" r="5.8" fill="#ea2a1e" fill-opacity="0.5"/>
<circle cx="604.2" cy="408.7" r="5.8" fill="#ea2a1e" fill-opacity="0.5"/>
<circle cx="583.0" cy="484.8" r="5.8" fill="#ea2a1e" fill-opacity="0.5"/>
<circle cx="586.1" cy="521.7" r="5.8" fill="#ea2a1e" fill-opacity="0.5"/>
<circle cx="582.9" cy="429.7" r="5.8" fill="#ea2a1e" fill-opacity="0.5"/>
<circle cx="571.6" cy="461.6" r="5.8" fill="#ea2a1e" fill-opacity="0.5"/>
<circle cx="614.8" cy="442.5" r="5.8" fill="#ea2a1e" fill-opacity="0.5"/>
<circle cx="613.7" cy="466.9" r="5.8" fill="#ea2a1e" fill-opacity="0.5"/>
<circle cx="600.5" cy="445.5" r="5.8" fill="#ea2a1e" fill-opacity="0.5"/>
<circle cx="580.0" cy="525.8" r="5.8" fill="#ea2a1e" fill-opacity="0.5"/>
<circle cx="619.1" cy="516.3" r="5.8" fill="#ea2a1e" fill-opacity="0.5"/>
<circle cx="619.3" cy="444.4" r="5.8" fill="#ea2a1e" fill-opacity="0.5"/>
<circle cx="633.9" cy="514.0" r="5.8" fill="#ea2a1e" fill-opacity="0.5"/>
<circle cx="622.3" cy="466.9" r="5.8" fill="#ea2a1e" fill-opacity="0.5"/>
<circle cx="617.8" cy="525.3" r="5.8" fill="#ea2a1e" fill-opacity="0.5"/>
<circle cx="620.9" cy="492.4" r="5.8" fill="#ea2a1e" fill-opacity="0.5"/>
<circle cx="612.2" cy="475.3" r="5.8" fill="#ea2a1e" fill-opacity="0.5"/>
<circle cx="595.1" cy="477.4" r="5.8" fill="#ea2a1e" fill-opacity="0.5"/>
<circle cx="586.8" cy="475.2" r="5.8" fill="#ea2a1e" fill-opacity="0.5"/>
<circle cx="608.0" cy="424.0" r="5.8" fill="#ea2a1e" fill-opacity="0.5"/>
<circle cx="606.7" cy="478.9" r="5.8" fill="#ea2a1e" fill-opacity="0.5"/>
<circle cx="578.3" cy="415.2" r="5.8" fill="#ea2a1e" fill-opacity="0.5"/>
<circle cx="611.8" cy="454.3" r="5.8" fill="#ea2a1e" fill-opacity="0.5"/>
<circle cx="601.2" cy="525.6" r="5.8" fill="#ea2a1e" fill-opacity="0.5"/>
<circle cx="596.6" cy="444.9" r="5.8" fill="#ea2a1e" fill-opacity="0.5"/>
<circle cx="584.9" cy="469.7" r="5.8" fill="#ea2a1e" fill-opacity="0.5"/>
<circle cx="583.0" cy="489.1" r="5.8" fill="#ea2a1e" fill-opacity="0.5"/>
<circle cx="575.7" cy="478.3" r="5.8" fill="#ea2a1e" fill-opacity="0.5"/>
<circle cx="619.9" cy="443.7" r="5.8" fill="#ea2a1e" fill-opacity="0.5"/>
<circle cx="584.1" cy="522.3" r="5.8" fill="#ea2a1e" fill-opacity="0.5"/>
<circle cx="599.3" cy="482.2" r="5.8" fill="#ea2a1e" fill-opacity="0.5"/>
<circle cx="573.9" cy="494.0" r="5.8" fill="#ea2a1e" fill-opacity="0.5"/>
<circle cx="617.8" cy="455.6" r="5.8" fill="#ea2a1e" fill-opacity="0.5"/>
<circle cx="607.8" cy="511.6" r="5.8" fill="#ea2a1e" fill-opacity="0.5"/>
<circle cx="624.3" cy="492.0" r="5.8" fill="#ea2a1e" fill-opacity="0.5"/>
<circle cx="571.4" cy="484.1" r="5.8" fill="#ea2a1e" fill-opacity="0.5"/>
<circle cx="577.9" cy="423.9" r="5.8" fill="#ea2a1e" fill-opacity="0.5"/>
<circle cx="575.4" cy="493.7" r="5.8" fill="#ea2a1e" fill-opacity="0.5"/>
<circle cx="572.6" cy="484.2" r="5.8" fill="#ea2a1e" fill-opacity="0.5"/>
<circle cx="568.5" cy="524.5" r="5.8" fill="#ea2a1e" fill-opacity="0.5"/>
<circle cx="590.0" cy="436.0" r="5.8" fill="#ea2a1e" fill-opacity="0.5"/>
<circle cx="610.9" cy="450.0" r="5.8" fill="#ea2a1e" fill-opacity="0.5"/>
<circle cx="593.6" cy="508.5" r="5.8" fill="#ea2a1e" fill-opacity="0.5"/>
<circle cx="599.4" cy="455.8" r="5.8" fill="#ea2a1e" fill-opacity="0.5"/>
<circle cx="584.8" cy="515.4" r="5.8" fill="#ea2a1e" fill-opacity="0.5"/>
<circle cx="592.5" cy="488.1" r="5.8" fill="#ea2a1e" fill-opacity="0.5"/>
<circle cx="605.4" cy="510.0" r="5.8" fill="#ea2a1e" fill-opacity="0.5"/>
<circle cx="604.4" cy="478.7" r="5.8" fill="#ea2a1e" fill-opacity="0.5"/>
<circle cx="615.1" cy="499.9" r="5.8" fill="#ea2a1e" fill-opacity="0.5"/>
<circle cx="624.6" cy="483.4" r="5.8" fill="#ea2a1e" fill-opacity="0.5"/>
<circle cx="585.7" cy="504.8" r="5.8" fill="#ea2a1e" fill-opacity="0.5"/>
<circle cx="572.8" cy="486.1" r="5.8" fill="#ea2a1e" fill-opacity="0.5"/>
<circle cx="587.5" cy="471.2" r="5.8" fill="#ea2a1e" fill-opacity="0.5"/>
<circle cx="595.2" cy="505.2" r="5.8" fill="#ea2a1e" fill-opacity="0.5"/>
<circle cx="604.1" cy="483.9" r="5.8" fill="#ea2a1e" fill-opacity="0.5"/>
<circle cx="608.7" cy="508.2" r="5.8" fill="#ea2a1e" fill-opacity="0.5"/>
<circle cx="613.4" cy="406.6" r="5.8" fill="#ea2a1e" fill-opacity="0.5"/>
<circle cx="590.8" cy="512.0" r="5.8" fill="#ea2a1e" fill-opacity="0.5"/>
<circle cx="587.1" cy="516.1" r="5.8" fill="#ea2a1e" fill-opacity="0.5"/>
<circle cx="618.3" cy="521.7" r="5.8" fill="#ea2a1e" fill-opacity="0.5"/>
<circle cx="583.0" cy="498.2" r="5.8" fill="#ea2a1e" fill-opacity="0.5"/>
<circle cx="573.8" cy="468.3" r="5.8" fill="#ea2a1e" fill-opacity="0.5"/>
<circle cx="614.3" cy="498.2" r="5.8" fill="#ea2a1e" fill-opacity="0.5"/>
<circle cx="576.2" cy="479.7" r="5.8" fill="#ea2a1e" fill-opacity="0.5"/>
<circle cx="616.6" cy="441.2" r="5.8" fill="#ea2a1e" fill-opacity="0.5"/>
<circle cx="582.3" cy="518.3" r="5.8" fill="#ea2a1e" fill-opacity="0.5"/>
<circle cx="608.3" cy="414.5" r="5.8" fill="#ea2a1e" fill-opacity="0.5"/>
<circle cx="609.7" cy="465.2" r="5.8" fill="#ea2a1e" fill-opacity="0.5"/>
<circle cx="610.6" cy="443.1" r="5.8" fill="#ea2a1e" fill-opacity="0.5"/>
<circle cx="601.9" cy="421.7" r="5.8" fill="#ea2a1e" fill-opacity="0.5"/>
<circle cx="588.2" cy="509.2" r="5.8" fill="#ea2a1e" fill-opacity="0.5"/>
<circle cx="601.0" cy="462.9" r="5.8" fill="#ea2a1e" fill-opacity="0.5"/>
<circle cx="618.3" cy="523.8" r="5.8" fill="#ea2a1e" fill-opacity="0.5"/>
<circle cx="619.9" cy="485.6" r="5.8" fill="#ea2a1e" fill-opacity="0.5"/>
<circle cx="596.7" cy="501.2" r="5.8" fill="#ea2a1e" fill-opacity="0.5"/>
<circle cx="602.2" cy="406.5" r="5.8" fill="#ea2a1e" fill-opacity="0.5"/>
<circle cx="580.7" cy="440.1" r="5.8" fill="#ea2a1e" fill-opacity="0.5"/>
<circle cx="575.8" cy="489.0" r="5.8" fill="#ea2a1e" fill-opacity="0.5"/>
<circle cx="581.6" cy="521.5" r="5.8" fill="#ea2a1e" fill-opacity="0.5"/>
<circle cx="633.9" cy="509.1" r="5.8" fill="#ea2a1e" fill-opacity="0.5"/>
<circle cx="589.2" cy="504.8" r="5.8" fill="#ea2a1e" fill-opacity="0.5"/>
<circle cx="584.6" cy="455.0" r="5.8" fill="#ea2a1e" fill-opacity="0.5"/>
<circle cx="609.4" cy="514.0" r="5.8" fill="#ea2a1e" fill-opacity="0.5"/>
<circle cx="625.4" cy="518.4" r="5.8" fill="#ea2a1e" fill-opacity="0.5"/>
<circle cx="618.0" cy="504.6" r="5.8" fill="#ea2a1e" fill-opacity="0.5"/>
<circle cx="618.8" cy="454.9" r="5.8" fill="#ea2a1e" fill-opacity="0.5"/>
<circle cx="620.0" cy="433.3" r="5.8" fill="#ea2a1e" fill-opacity="0.5"/>
<circle cx="590.8" cy="486.9" r="5.8" fill="#ea2a1e" fill-opacity="0.5"/>
<circle cx="623.5" cy="500.7" r="5.8" fill="#ea2a1e" fill-opacity="0.5"/>
<circle cx="590.8" cy="520.5" r="5.8" fill="#ea2a1e" fill-opacity="0.5"/>
<circle cx="586.8" cy="511.6" r="5.8" fill="#ea2a1e" fill-opacity="0.5"/>
<circle cx="610.0" cy="520.2" r="5.8" fill="#ea2a1e" fill-opacity="0.5"/>
<circle cx="582.7" cy="518.8" r="5.8" fill="#ea2a1e" fill-opacity="0.5"/>
<circle cx="599.6" cy="516.6" r="5.8" fill="#ea2a1e" fill-opacity="0.5"/>
<circle cx="598.4" cy="481.6" r="5.8" fill="#ea2a1e" fill-opacity="0.5"/>
<circle cx="599.6" cy="463.4" r="5.8" fill="#ea2a1e" fill-opacity="0.5"/>
<circle cx="598.6" cy="522.9" r="5.8" fill="#ea2a1e" fill-opacity="0.5"/>
<circle cx="617.4" cy="470.6" r="5.8" fill="#ea2a1e" fill-opacity="0.5"/>
<circle cx="600.9" cy="492.9" r="5.8" fill="#ea2a1e" fill-opacity="0.5"/>
<circle cx="591.6" cy="494.9" r="5.8" fill="#ea2a1e" fill-opacity="0.5"/>
<circle cx="622.5" cy="500.4" r="5.8" fill="#ea2a1e" fill-opacity="0.5"/>
<circle cx="600.0" cy="521.2" r="5.8" fill="#ea2a1e" fill-opacity="0.5"/>
<circle cx="581.6" cy="491.7" r="5.8" fill="#ea2a1e" fill-opacity="0.5"/>
<circle cx="600.2" cy="521.7" r="5.8" fill="#ea2a1e" fill-opacity="0.5"/>
<circle cx="600.4" cy="521.2" r="5.8" fill="#ea2a1e" fill-opacity="0.5"/>
<circle cx="585.1" cy="514.0" r="5.8" fill="#ea2a1e" fill-opacity="0.5"/>
<circle cx="580.8" cy="494.2" r="5.8" fill="#ea2a1e" fill-opacity="0.5"/>
<circle cx="614.9" cy="482.8" r="5.8" fill="#ea2a1e" fill-opacity="0.5"/>
<circle cx="589.8" cy="496.0" r="5.8" fill="#ea2a1e" fill-opacity="0.5"/>
<circle cx="597.7" cy="518.1" r="5.8" fill="#ea2a1e" fill-opacity="0.5"/>
<circle cx="602.7" cy="500.8" r="5.8" fill="#ea2a1e" fill-opacity="0.5"/>
<circle cx="621.2" cy="485.7" r="5.8" fill="#ea2a1e" fill-opacity="0.5"/>
<circle cx="601.1" cy="518.2" r="5.8" fill="#ea2a1e" fill-opacity="0.5"/>
<circle cx="612.7" cy="463.3" r="5.8" fill="#ea2a1e" fill-opacity="0.5"/>
<circle cx="610.2" cy="506.6" r="5.8" fill="#ea2a1e" fill-opacity="0.5"/>
<circle cx="591.0" cy="505.7" r="5.8" fill="#ea2a1e" fill-opacity="0.5"/>
<circle cx="624.4" cy="493.8" r="5.8" fill="#ea2a1e" fill-opacity="0.5"/>
<circle cx="619.4" cy="431.0" r="5.8" fill="#ea2a1e" fill-opacity="0.5"/>
<circle cx="618.7" cy="503.0" r="5.8" fill="#ea2a1e" fill-opacity="0.5"/>
<circle cx="585.9" cy="424.3" r="5.8" fill="#ea2a1e" fill-opacity="0.5"/>
<circle cx="624.8" cy="522.7" r="5.8" fill="#ea2a1e" fill-opacity="0.5"/>
<circle cx="598.2" cy="486.6" r="5.8" fill="#ea2a1e" fill-opacity="0.5"/>
<circle cx="579.7" cy="431.0" r="5.8" fill="#ea2a1e" fill-opacity="0.5"/>
<circle cx="571.3" cy="503.4" r="5.8" fill="#ea2a1e" fill-opacity="0.5"/>
<circle cx="586.9" cy="477.5" r="5.8" fill="#ea2a1e" fill-opacity="0.5"/>
<circle cx="595.8" cy="469.5" r="5.8" fill="#ea2a1e" fill-opacity="0.5"/>
<circle cx="601.6" cy="462.1" r="5.8" fill="#ea2a1e" fill-opacity="0.5"/>
<circle cx="587.0" cy="508.7" r="5.8" fill="#ea2a1e" fill-opacity="0.5"/>
<circle cx="635.6" cy="520.9" r="5.8" fill="#ea2a1e" fill-opacity="0.5"/>
<circle cx="625.3" cy="487.8" r="5.8" fill="#ea2a1e" fill-opacity="0.5"/>
<circle cx="611.4" cy="452.5" r="5.8" fill="#ea2a1e" fill-opacity="0.5"/>
<circle cx="590.3" cy="468.4" r="5.8" fill="#ea2a1e" fill-opacity="0.5"/>
<circle cx="569.1" cy="508.1" r="5.8" fill="#ea2a1e" fill-opacity="0.5"/>
<circle cx="593.7" cy="400.8" r="5.8" fill="#ea2a1e" fill-opacity="0.5"/>
<circle cx="597.8" cy="512.8" r="5.8" fill="#ea2a1e" fill-opacity="0.5"/>
<circle cx="606.2" cy="408.4" r="5.8" fill="#ea2a1e" fill-opacity="0.5"/>
<circle cx="580.9" cy="496.8" r="5.8" fill="#ea2a1e" fill-opacity="0.5"/>
<circle cx="577.1" cy="468.8" r="5.8" fill="#ea2a1e" fill-opacity="0.5"/>
<circle cx="585.6" cy="428.0" r="5.8" fill="#ea2a1e" fill-opacity="0.5"/>
<circle cx="586.0" cy="471.7" r="5.8" fill="#ea2a1e" fill-opacity="0.5"/>
<circle cx="568.8" cy="503.8" r="5.8" fill="#ea2a1e" fill-opacity="0.5"/>
<circle cx="620.5" cy="511.0" r="5.8" fill="#ea2a1e" fill-opacity="0.5"/>
<circle cx="621.7" cy="421.9" r="5.8" fill="#ea2a1e" fill-opacity="0.5"/>
<circle cx="576.7" cy="472.5" r="5.8" fill="#ea2a1e" fill-opacity="0.5"/>
<circle cx="621.5" cy="487.6" r="5.8" fill="#ea2a1e" fill-opacity="0.5"/>
<circle cx="573.7" cy="489.9" r="5.8" fill="#ea2a1e" fill-opacity="0.5"/>
<circle cx="622.6" cy="485.7" r="5.8" fill="#ea2a1e" fill-opacity="0.5"/>
<circle cx="579.9" cy="514.1" r="5.8" fill="#ea2a1e" fill-opacity="0.5"/>
<circle cx="601.0" cy="498.2" r="5.8" fill="#ea2a1e" fill-opacity="0.5"/>
<circle cx="621.2" cy="492.2" r="5.8" fill="#ea2a1e" fill-opacity="0.5"/>
<circle cx="575.9" cy="522.9" r="5.8" fill="#ea2a1e" fill-opacity="0.5"/>
<circle cx="588.2" cy="516.9" r="5.8" fill="#ea2a1e" fill-opacity="0.5"/>
<circle cx="624.4" cy="516.9" r="5.8" fill="#ea2a1e" fill-opacity="0.5"/>
<circle cx="583.7" cy="500.7" r="5.8" fill="#ea2a1e" fill-opacity="0.5"/>
<circle cx="568.2" cy="506.5" r="5.8" fill="#ea2a1e" fill-opacity="0.5"/>
<circle cx="620.1" cy="472.9" r="5.8" fill="#ea2a1e" fill-opacity="0.5"/>
<circle cx="568.6" cy="492.6" r="5.8" fill="#ea2a1e" fill-opacity="0.5"/>
<circle cx="585.4" cy="451.2" r="5.8" fill="#ea2a1e" fill-opacity="0.5"/>
<circle cx="576.5" cy="443.2" r="5.8" fill="#ea2a1e" fill-opacity="0.5"/>
<circle cx="618.9" cy="523.2" r="5.8" fill="#ea2a1e" fill-opacity="0.5"/>
<circle cx="577.5" cy="485.7" r="5.8" fill="#ea2a1e" fill-opacity="0.5"/>
<circle cx="611.7" cy="454.7" r="5.8" fill="#ea2a1e" fill-opacity="0.5"/>
<circle cx="625.2" cy="506.3" r="5.8" fill="#ea2a1e" fill-opacity="0.5"/>
<circle cx="593.2" cy="440.7" r="5.8" fill="#ea2a1e" fill-opacity="0.5"/>
<circle cx="622.9" cy="517.1" r="5.8" fill="#ea2a1e" fill-opacity="0.5"/>
<circle cx="595.6" cy="495.9" r="5.8" fill="#ea2a1e" fill-opacity="0.5"/>
<circle cx="594.3" cy="477.1" r="5.8" fill="#ea2a1e" fill-opacity="0.5"/>
<circle cx="613.1" cy="521.5" r="5.8" fill="#ea2a1e" fill-opacity="0.5"/>
<circle cx="612.6" cy="480.1" r="5.8" fill="#ea2a1e" fill-opacity="0.5"/>
<circle cx="628.1" cy="524.7" r="5.8" fill="#ea2a1e" fill-opacity="0.5"/>
<circle cx="604.8" cy="485.0" r="5.8" fill="#ea2a1e" fill-opacity="0.5"/>
<circle cx="588.9" cy="428.7" r="5.8" fill="#ea2a1e" fill-opacity="0.5"/>
<circle cx="589.8" cy="521.3" r="5.8" fill="#ea2a1e" fill-opacity="0.5"/>
<circle cx="617.7" cy="481.0" r="5.8" fill="#ea2a1e" fill-opacity="0.5"/>
<circle cx="591.0" cy="495.8" r="5.8" fill="#ea2a1e" fill-opacity="0.5"/>
<circle cx="600.2" cy="480.4" r="5.8" fill="#ea2a1e" fill-opacity="0.5"/>
<circle cx="586.8" cy="403.5" r="5.8" fill="#ea2a1e" fill-opacity="0.5"/>
<circle cx="598.8" cy="463.5" r="5.8" fill="#ea2a1e" fill-opacity="0.5"/>
<circle cx="588.9" cy="499.3" r="5.8" fill="#ea2a1e" fill-opacity="0.5"/>
<circle cx="600.0" cy="495.2" r="5.8" fill="#ea2a1e" fill-opacity="0.5"/>
<circle cx="598.7" cy="479.0" r="5.8" fill="#ea2a1e" fill-opacity="0.5"/>
<circle cx="623.7" cy="504.6" r="5.8" fill="#ea2a1e" fill-opacity="0.5"/>
<circle cx="608.3" cy="417.8" r="5.8" fill="#ea2a1e" fill-opacity="0.5"/>
<circle cx="605.0" cy="410.5" r="5.8" fill="#ea2a1e" fill-opacity="0.5"/>
<circle cx="614.6" cy="404.4" r="5.8" fill="#ea2a1e" fill-opacity="0.5"/>
<circle cx="577.2" cy="518.6" r="5.8" fill="#ea2a1e" fill-opacity="0.5"/>
<circle cx="585.8" cy="405.9" r="5.8" fill="#ea2a1e" fill-opacity="0.5"/>
<circle cx="606.1" cy="436.6" r="5.8" fill="#ea2a1e" fill-opacity="0.5"/>
<circle cx="623.7" cy="442.3" r="5.8" fill="#ea2a1e" fill-opacity="0.5"/>
<circle cx="622.8" cy="462.4" r="5.8" fill="#ea2a1e" fill-opacity="0.5"/>
<circle cx="607.5" cy="492.0" r="5.8" fill="#ea2a1e" fill-opacity="0.5"/>
<circle cx="587.7" cy="460.4" r="5.8" fill="#ea2a1e" fill-opacity="0.5"/>
<circle cx="574.9" cy="423.4" r="5.8" fill="#ea2a1e" fill-opacity="0.5"/>
<circle cx="604.9" cy="413.4" r="5.8" fill="#ea2a1e" fill-opacity="0.5"/>
<circle cx="609.3" cy="524.9" r="5.8" fill="#ea2a1e" fill-opacity="0.5"/>
<circle cx="586.2" cy="504.2" r="5.8" fill="#ea2a1e" fill-opacity="0.5"/>
<circle cx="587.0" cy="520.9" r="5.8" fill="#ea2a1e" fill-opacity="0.5"/>
<circle cx="581.6" cy="503.5" r="5.8" fill="#ea2a1e" fill-opacity="0.5"/>
<circle cx="615.2" cy="488.2" r="5.8" fill="#ea2a1e" fill-opacity="0.5"/>
<circle cx="616.8" cy="511.1" r="5.8" fill="#ea2a1e" fill-opacity="0.5"/>
<circle cx="623.6" cy="507.7" r="5.8" fill="#ea2a1e" fill-opacity="0.5"/>
<circle cx="590.6" cy="518.4" r="5.8" fill="#ea2a1e" fill-opacity="0.5"/>
<circle cx="572.3" cy="514.8" r="5.8" fill="#ea2a1e" fill-opacity="0.5"/>
<circle cx="592.3" cy="521.7" r="5.8" fill="#ea2a1e" fill-opacity="0.5"/>
<circle cx="611.1" cy="410.3" r="5.8" fill="#ea2a1e" fill-opacity="0.5"/>
<circle cx="612.0" cy="483.7" r="5.8" fill="#ea2a1e" fill-opacity="0.5"/>
<circle cx="607.6" cy="483.0" r="5.8" fill="#ea2a1e" fill-opacity="0.5"/>
<circle cx="624.9" cy="487.9" r="5.8" fill="#ea2a1e" fill-opacity="0.5"/>
<circle cx="583.1" cy="520.6" r="5.8" fill="#ea2a1e" fill-opacity="0.5"/>
<circle cx="623.7" cy="495.5" r="5.8" fill="#ea2a1e" fill-opacity="0.5"/>
<circle cx="586.7" cy="423.2" r="5.8" fill="#ea2a1e" fill-opacity="0.5"/>
<circle cx="602.1" cy="450.1" r="5.8" fill="#ea2a1e" fill-opacity="0.5"/>
<circle cx="616.9" cy="518.5" r="5.8" fill="#ea2a1e" fill-opacity="0.5"/>
<circle cx="597.9" cy="487.3" r="5.8" fill="#ea2a1e" fill-opacity="0.5"/>
<circle cx="582.7" cy="458.1" r="5.8" fill="#ea2a1e" fill-opacity="0.5"/>
<circle cx="599.1" cy="521.1" r="5.8" fill="#ea2a1e" fill-opacity="0.5"/>
<circle cx="621.3" cy="487.3" r="5.8" fill="#ea2a1e" fill-opacity="0.5"/>
<circle cx="584.5" cy="495.4" r="5.8" fill="#ea2a1e" fill-opacity="0.5"/>
<circle cx="589.5" cy="502.6" r="5.8" fill="#ea2a1e" fill-opacity="0.5"/>
<circle cx="617.5" cy="421.0" r="5.8" fill="#ea2a1e" fill-opacity="0.5"/>
<circle cx="612.9" cy="490.1" r="5.8" fill="#ea2a1e" fill-opacity="0.5"/>
<circle cx="582.6" cy="486.2" r="5.8" fill="#ea2a1e" fill-opacity="0.5"/>
<circle cx="577.6" cy="517.4" r="5.8" fill="#ea2a1e" fill-opacity="0.5"/>
<circle cx="594.9" cy="449.7" r="5.8" fill="#ea2a1e" fill-opacity="0.5"/>
<circle cx="589.7" cy="402.2" r="5.8" fill="#ea2a1e" fill-opacity="0.5"/>
<circle cx="596.7" cy="459.4" r="5.8" fill="#ea2a1e" fill-opacity="0.5"/>
<circle cx="575.9" cy="471.8" r="5.8" fill="#ea2a1e" fill-opacity="0.5"/>
<circle cx="615.5" cy="413.1" r="5.8" fill="#ea2a1e" fill-opacity="0.5"/>
<circle cx="612.8" cy="489.9" r="5.8" fill="#ea2a1e" fill-opacity="0.5"/>
<circle cx="592.4" cy="478.8" r="5.8" fill="#ea2a1e" fill-opacity="0.5"/>
<circle cx="619.6" cy="513.1" r="5.8" fill="#ea2a1e" fill-opacity="0.5"/>
<circle cx="594.1" cy="481.8" r="5.8" fill="#ea2a1e" fill-opacity="0.5"/>
<circle cx="572.7" cy="474.8" r="5.8" fill="#ea2a1e" fill-opacity="0.5"/>
<circle cx="572.1" cy="462.3" r="5.8" fill="#ea2a1e" fill-opacity="0.5"/>
<circle cx="606.8" cy="420.9" r="5.8" fill="#ea2a1e" fill-opacity="0.5"/>
<circle cx="610.6" cy="463.3" r="5.8" fill="#ea2a1e" fill-opacity="0.5"/>
<circle cx="589.2" cy="482.6" r="5.8" fill="#ea2a1e" fill-opacity="0.5"/>
<circle cx="605.5" cy="516.5" r="5.8" fill="#ea2a1e" fill-opacity="0.5"/>
<circle cx="621.5" cy="431.5" r="5.8" fill="#ea2a1e" fill-opacity="0.5"/>
<circle cx="575.2" cy="446.6" r="5.8" fill="#ea2a1e" fill-opacity="0.5"/>
<circle cx="592.2" cy="495.6" r="5.8" fill="#ea2a1e" fill-opacity="0.5"/>
<circle cx="603.8" cy="439.3" r="5.8" fill="#ea2a1e" fill-opacity="0.5"/>
<circle cx="588.4" cy="522.3" r="5.8" fill="#ea2a1e" fill-opacity="0.5"/>
<circle cx="589.8" cy="492.0" r="5.8" fill="#ea2a1e" fill-opacity="0.5"/>
<circle cx="584.3" cy="520.5" r="5.8" fill="#ea2a1e" fill-opacity="0.5"/>
<circle cx="582.5" cy="492.6" r="5.8" fill="#ea2a1e" fill-opacity="0.5"/>
<circle cx="568.9" cy="495.0" r="5.8" fill="#ea2a1e" fill-opacity="0.5"/>
<circle cx="643.5" cy="519.7" r="5.8" fill="#ea2a1e" fill-opacity="0.5"/>
<circle cx="590.3" cy="442.9" r="5.8" fill="#ea2a1e" fill-opacity="0.5"/>
<circle cx="597.6" cy="444.5" r="5.8" fill="#ea2a1e" fill-opacity="0.5"/>
<circle cx="587.1" cy="514.1" r="5.8" fill="#ea2a1e" fill-opacity="0.5"/>
<circle cx="621.4" cy="511.2" r="5.8" fill="#ea2a1e" fill-opacity="0.5"/>
<circle cx="588.5" cy="515.5" r="5.8" fill="#ea2a1e" fill-opacity="0.5"/>
<circle cx="589.3" cy="480.9" r="5.8" fill="#ea2a1e" fill-opacity="0.5"/>
<circle cx="597.0" cy="505.5" r="5.8" fill="#ea2a1e" fill-opacity="0.5"/>
<circle cx="572.0" cy="509.0" r="5.8" fill="#ea2a1e" fill-opacity="0.5"/>
<circle cx="633.7" cy="509.0" r="5.8" fill="#ea2a1e" fill-opacity="0.5"/>
<circle cx="596.6" cy="427.7" r="5.8" fill="#ea2a1e" fill-opacity="0.5"/>
<circle cx="587.1" cy="404.3" r="5.8" fill="#ea2a1e" fill-opacity="0.5"/>
<circle cx="621.1" cy="512.2" r="5.8" fill="#ea2a1e" fill-opacity="0.5"/>
<circle cx="594.2" cy="509.5" r="5.8" fill="#ea2a1e" fill-opacity="0.5"/>
<circle cx="611.6" cy="458.4" r="5.8" fill="#ea2a1e" fill-opacity="0.5"/>
<circle cx="585.5" cy="442.5" r="5.8" fill="#ea2a1e" fill-opacity="0.5"/>
<circle cx="578.5" cy="514.8" r="5.8" fill="#ea2a1e" fill-opacity="0.5"/>
<circle cx="600.0" cy="488.0" r="5.8" fill="#ea2a1e" fill-opacity="0.5"/>
<circle cx="584.9" cy="434.5" r="5.8" fill="#ea2a1e" fill-opacity="0.5"/>
<circle cx="580.0" cy="520.3" r="5.8" fill="#ea2a1e" fill-opacity="0.5"/>
<circle cx="615.1" cy="499.2" r="5.8" fill="#ea2a1e" fill-opacity="0.5"/>
<circle cx="580.1" cy="477.7" r="5.8" fill="#ea2a1e" fill-opacity="0.5"/>
<circle cx="603.6" cy="473.9" r="5.8" fill="#ea2a1e" fill-opacity="0.5"/>
<circle cx="591.2" cy="450.1" r="5.8" fill="#ea2a1e" fill-opacity="0.5"/>
<circle cx="607.3" cy="407.1" r="5.8" fill="#ea2a1e" fill-opacity="0.5"/>
<circle cx="596.6" cy="488.9" r="5.8" fill="#ea2a1e" fill-opacity="0.5"/>
<circle cx="585.0" cy="471.7" r="5.8" fill="#ea2a1e" fill-opacity="0.5"/>
<circle cx="638.4" cy="516.2" r="5.8" fill="#ea2a1e" fill-opacity="0.5"/>
<circle cx="619.9" cy="434.7" r="5.8" fill="#ea2a1e" fill-opacity="0.5"/>
<circle cx="586.4" cy="406.1" r="5.8" fill="#ea2a1e" fill-opacity="0.5"/>
<circle cx="594.5" cy="461.1" r="5.8" fill="#ea2a1e" fill-opacity="0.5"/>
<circle cx="608.8" cy="518.8" r="5.8" fill="#ea2a1e" fill-opacity="0.5"/>
<circle cx="584.6" cy="472.5" r="5.8" fill="#ea2a1e" fill-opacity="0.5"/>
<circle cx="597.7" cy="450.7" r="5.8" fill="#ea2a1e" fill-opacity="0.5"/>
<circle cx="580.8" cy="508.2" r="5.8" fill="#ea2a1e" fill-opacity="0.5"/>
<circle cx="568.5" cy="506.3" r="5.8" fill="#ea2a1e" fill-opacity="0.5"/>
<circle cx="601.7" cy="451.7" r="5.8" fill="#ea2a1e" fill-opacity="0.5"/>
<circle cx="614.6" cy="481.8" r="5.8" fill="#ea2a1e" fill-opacity="0.5"/>
<circle cx="598.7" cy="506.6" r="5.8" fill="#ea2a1e" fill-opacity="0.5"/>
<circle cx="617.6" cy="483.7" r="5.8" fill="#ea2a1e" fill-opacity="0.5"/>
<circle cx="601.8" cy="418.9" r="5.8" fill="#ea2a1e" fill-opacity="0.5"/>
<circle cx="608.3" cy="459.9" r="5.8" fill="#ea2a1e" fill-opacity="0.5"/>
<circle cx="612.7" cy="516.7" r="5.8" fill="#ea2a1e" fill-opacity="0.5"/>
<circle cx="619.2" cy="498.0" r="5.8" fill="#ea2a1e" fill-opacity="0.5"/>
<circle cx="599.1" cy="445.8" r="5.8" fill="#ea2a1e" fill-opacity="0.5"/>
<circle cx="581.5" cy="485.4" r="5.8" fill="#ea2a1e" fill-opacity="0.5"/>
<circle cx="580.3" cy="424.9" r="5.8" fill="#ea2a1e" fill-opacity="0.5"/>
<circle cx="590.2" cy="491.1" r="5.8" fill="#ea2a1e" fill-opacity="0.5"/>
<circle cx="584.2" cy="493.0" r="5.8" fill="#ea2a1e" fill-opacity="0.5"/>
<circle cx="569.8" cy="487.8" r="5.8" fill="#ea2a1e" fill-opacity="0.5"/>
<circle cx="577.4" cy="416.2" r="5.8" fill="#ea2a1e" fill-opacity="0.5"/>
<circle cx="598.3" cy="523.3" r="5.8" fill="#ea2a1e" fill-opacity="0.5"/>
<circle cx="600.8" cy="428.2" r="5.8" fill="#ea2a1e" fill-opacity="0.5"/>
<circle cx="582.7" cy="418.6" r="5.8" fill="#ea2a1e" fill-opacity="0.5"/>
<circle cx="597.5" cy="491.6" r="5.8" fill="#ea2a1e" fill-opacity="0.5"/>
<circle cx="612.5" cy="484.2" r="5.8" fill="#ea2a1e" fill-opacity="0.5"/>
<circle cx="604.9" cy="498.6" r="5.8" fill="#ea2a1e" fill-opacity="0.5"/>
<circle cx="605.9" cy="510.5" r="5.8" fill="#ea2a1e" fill-opacity="0.5"/>
<circle cx="602.8" cy="482.7" r="5.8" fill="#ea2a1e" fill-opacity="0.5"/>
<circle cx="594.6" cy="444.3" r="5.8" fill="#ea2a1e" fill-opacity="0.5"/>
<circle cx="594.7" cy="494.2" r="5.8" fill="#ea2a1e" fill-opacity="0.5"/>
<circle cx="575.0" cy="516.9" r="5.8" fill="#ea2a1e" fill-opacity="0.5"/>
<circle cx="580.5" cy="494.7" r="5.8" fill="#ea2a1e" fill-opacity="0.5"/>
<circle cx="603.9" cy="517.3" r="5.8" fill="#ea2a1e" fill-opacity="0.5"/>
<circle cx="605.1" cy="490.2" r="5.8" fill="#ea2a1e" fill-opacity="0.5"/>
<circle cx="586.0" cy="480.7" r="5.8" fill="#ea2a1e" fill-opacity="0.5"/>
<circle cx="599.1" cy="515.5" r="5.8" fill="#ea2a1e" fill-opacity="0.5"/>
<circle cx="616.0" cy="500.9" r="5.8" fill="#ea2a1e" fill-opacity="0.5"/>
<circle cx="606.3" cy="508.1" r="5.8" fill="#ea2a1e" fill-opacity="0.5"/>
<circle cx="578.0" cy="493.1" r="5.8" fill="#ea2a1e" fill-opacity="0.5"/>
<circle cx="621.5" cy="444.3" r="5.8" fill="#ea2a1e" fill-opacity="0.5"/>
<circle cx="579.5" cy="501.7" r="5.8" fill="#ea2a1e" fill-opacity="0.5"/>
<circle cx="583.6" cy="460.5" r="5.8" fill="#ea2a1e" fill-opacity="0.5"/>
<circle cx="581.8" cy="516.8" r="5.8" fill="#ea2a1e" fill-opacity="0.5"/>
<circle cx="606.9" cy="502.8" r="5.8" fill="#ea2a1e" fill-opacity="0.5"/>
<circle cx="602.0" cy="417.0" r="5.8" fill="#ea2a1e" fill-opacity="0.5"/>
<circle cx="607.5" cy="459.6" r="5.8" fill="#ea2a1e" fill-opacity="0.5"/>
<circle cx="598.9" cy="520.7" r="5.8" fill="#ea2a1e" fill-opacity="0.5"/>
<circle cx="600.3" cy="466.7" r="5.8" fill="#ea2a1e" fill-opacity="0.5"/>
<circle cx="615.3" cy="519.2" r="5.8" fill="#ea2a1e" fill-opacity="0.5"/>
<circle cx="598.4" cy="519.4" r="5.8" fill="#ea2a1e" fill-opacity="0.5"/>
<circle cx="613.6" cy="508.0" r="5.8" fill="#ea2a1e" fill-opacity="0.5"/>
<circle cx="598.3" cy="474.2" r="5.8" fill="#ea2a1e" fill-opacity="0.5"/>
<circle cx="585.3" cy="461.5" r="5.8" fill="#ea2a1e" fill-opacity="0.5"/>
<circle cx="625.5" cy="516.4" r="5.8" fill="#ea2a1e" fill-opacity="0.5"/>
<circle cx="625.0" cy="488.4" r="5.8" fill="#ea2a1e" fill-opacity="0.5"/>
<circle cx="594.3" cy="469.5" r="5.8" fill="#ea2a1e" fill-opacity="0.5"/>
<circle cx="602.9" cy="513.2" r="5.8" fill="#ea2a1e" fill-opacity="0.5"/>
<circle cx="576.5" cy="517.1" r="5.8" fill="#ea2a1e" fill-opacity="0.5"/>
<circle cx="595.2" cy="521.6" r="5.8" fill="#ea2a1e" fill-opacity="0.5"/>
<circle cx="637.8" cy="523.5" r="5.8" fill="#ea2a1e" fill-opacity="0.5"/>
<circle cx="620.4" cy="480.6" r="5.8" fill="#ea2a1e" fill-opacity="0.5"/>
<circle cx="598.2" cy="512.9" r="5.8" fill="#ea2a1e" fill-opacity="0.5"/>
<circle cx="579.9" cy="415.7" r="5.8" fill="#ea2a1e" fill-opacity="0.5"/>
<circle cx="617.4" cy="499.9" r="5.8" fill="#ea2a1e" fill-opacity="0.5"/>
<circle cx="610.2" cy="470.3" r="5.8" fill="#ea2a1e" fill-opacity="0.5"/>
<circle cx="602.7" cy="466.2" r="5.8" fill="#ea2a1e" fill-opacity="0.5"/>
<circle cx="572.9" cy="450.4" r="5.8" fill="#ea2a1e" fill-opacity="0.5"/>
<circle cx="575.8" cy="457.5" r="5.8" fill="#ea2a1e" fill-opacity="0.5"/>
<circle cx="596.2" cy="495.2" r="5.8" fill="#ea2a1e" fill-opacity="0.5"/>
<circle cx="624.3" cy="504.3" r="5.8" fill="#ea2a1e" fill-opacity="0.5"/>
<circle cx="610.3" cy="516.0" r="5.8" fill="#ea2a1e" fill-opacity="0.5"/>
<circle cx="583.2" cy="404.1" r="5.8" fill="#ea2a1e" fill-opacity="0.5"/>
<circle cx="581.0" cy="435.0" r="5.8" fill="#ea2a1e" fill-opacity="0.5"/>
<circle cx="604.0" cy="416.7" r="5.8" fill="#ea2a1e" fill-opacity="0.5"/>
<circle cx="578.3" cy="506.0" r="5.8" fill="#ea2a1e" fill-opacity="0.5"/>
<circle cx="581.2" cy="476.9" r="5.8" fill="#ea2a1e" fill-opacity="0.5"/>
<circle cx="610.6" cy="438.9" r="5.8" fill="#ea2a1e" fill-opacity="0.5"/>
<circle cx="604.4" cy="481.6" r="5.8" fill="#ea2a1e" fill-opacity="0.5"/>
<circle cx="586.7" cy="447.2" r="5.8" fill="#ea2a1e" fill-opacity="0.5"/>
<circle cx="604.2" cy="415.4" r="5.8" fill="#ea2a1e" fill-opacity="0.5"/>
<circle cx="613.6" cy="524.8" r="5.8" fill="#ea2a1e" fill-opacity="0.5"/>
<circle cx="576.4" cy="460.8" r="5.8" fill="#ea2a1e" fill-opacity="0.5"/>
<circle cx="584.3" cy="482.7" r="5.8" fill="#ea2a1e" fill-opacity="0.5"/>
<circle cx="578.7" cy="484.8" r="5.8" fill="#ea2a1e" fill-opacity="0.5"/>
<circle cx="616.6" cy="522.9" r="5.8" fill="#ea2a1e" fill-opacity="0.5"/>
<circle cx="628.1" cy="499.9" r="5.8" fill="#ea2a1e" fill-opacity="0.5"/>
<circle cx="581.1" cy="509.2" r="5.8" fill="#ea2a1e" fill-opacity="0.5"/>
<circle cx="597.7" cy="509.6" r="5.8" fill="#ea2a1e" fill-opacity="0.5"/>
<circle cx="594.7" cy="514.1" r="5.8" fill="#ea2a1e" fill-opacity="0.5"/>
<circle cx="584.5" cy="463.0" r="5.8" fill="#ea2a1e" fill-opacity="0.5"/>
<circle cx="617.4" cy="424.2" r="5.8" fill="#ea2a1e" fill-opacity="0.5"/>
<circle cx="610.2" cy="461.0" r="5.8" fill="#ea2a1e" fill-opacity="0.5"/>
<circle cx="588.9" cy="516.3" r="5.8" fill="#ea2a1e" fill-opacity="0.5"/>
<circle cx="606.0" cy="441.9" r="5.8" fill="#ea2a1e" fill-opacity="0.5"/>
<circle cx="598.2" cy="493.9" r="5.8" fill="#ea2a1e" fill-opacity="0.5"/>
<circle cx="623.0" cy="483.6" r="5.8" fill="#ea2a1e" fill-opacity="0.5"/>
<circle cx="573.1" cy="442.2" r="5.8" fill="#ea2a1e" fill-opacity="0.5"/>
<circle cx="624.3" cy="521.6" r="5.8" fill="#ea2a1e" fill-opacity="0.5"/>
<circle cx="587.3" cy="439.1" r="5.8" fill="#ea2a1e" fill-opacity="0.5"/>
<circle cx="609.0" cy="443.4" r="5.8" fill="#ea2a1e" fill-opacity="0.5"/>
<circle cx="608.9" cy="488.3" r="5.8" fill="#ea2a1e" fill-opacity="0.5"/>
<circle cx="604.9" cy="450.2" r="5.8" fill="#ea2a1e" fill-opacity="0.5"/>
<circle cx="600.8" cy="444.7" r="5.8" fill="#ea2a1e" fill-opacity="0.5"/>
<circle cx="599.2" cy="494.7" r="5.8" fill="#ea2a1e" fill-opacity="0.5"/>
<circle cx="617.2" cy="470.3" r="5.8" fill="#ea2a1e" fill-opacity="0.5"/>
<circle cx="622.1" cy="473.9" r="5.8" fill="#ea2a1e" fill-opacity="0.5"/>
<circle cx="577.7" cy="524.2" r="5.8" fill="#ea2a1e" fill-opacity="0.5"/>
<circle cx="617.3" cy="444.4" r="5.8" fill="#ea2a1e" fill-opacity="0.5"/>
<circle cx="590.6" cy="496.7" r="5.8" fill="#ea2a1e" fill-opacity="0.5"/>
<circle cx="605.0" cy="525.1" r="5.8" fill="#ea2a1e" fill-opacity="0.5"/>
<circle cx="606.8" cy="422.8" r="5.8" fill="#ea2a1e" fill-opacity="0.5"/>
<circle cx="599.0" cy="451.7" r="5.8" fill="#ea2a1e" fill-opacity="0.5"/>
<circle cx="592.3" cy="487.0" r="5.8" fill="#ea2a1e" fill-opacity="0.5"/>
<circle cx="610.9" cy="459.7" r="5.8" fill="#ea2a1e" fill-opacity="0.5"/>
<circle cx="596.2" cy="475.5" r="5.8" fill="#ea2a1e" fill-opacity="0.5"/>
<circle cx="612.7" cy="437.9" r="5.8" fill="#ea2a1e" fill-opacity="0.5"/>
<circle cx="603.1" cy="520.4" r="5.8" fill="#ea2a1e" fill-opacity="0.5"/>
<circle cx="606.4" cy="504.0" r="5.8" fill="#ea2a1e" fill-opacity="0.5"/>
<circle cx="586.5" cy="520.8" r="5.8" fill="#ea2a1e" fill-opacity="0.5"/>
<circle cx="607.7" cy="420.9" r="5.8" fill="#ea2a1e" fill-opacity="0.5"/>
<circle cx="622.2" cy="485.9" r="5.8" fill="#ea2a1e" fill-opacity="0.5"/>
<circle cx="594.4" cy="467.1" r="5.8" fill="#ea2a1e" fill-opacity="0.5"/>
<circle cx="608.6" cy="475.8" r="5.8" fill="#ea2a1e" fill-opacity="0.5"/>
<circle cx="593.9" cy="483.9" r="5.8" fill="#ea2a1e" fill-opacity="0.5"/>
<circle cx="619.8" cy="497.2" r="5.8" fill="#ea2a1e" fill-opacity="0.5"/>
<circle cx="615.6" cy="493.7" r="5.8" fill="#ea2a1e" fill-opacity="0.5"/>
<circle cx="605.7" cy="522.0" r="5.8" fill="#ea2a1e" fill-opacity="0.5"/>
<circle cx="590.5" cy="505.8" r="5.8" fill="#ea2a1e" fill-opacity="0.5"/>
<circle cx="569.3" cy="511.6" r="5.8" fill="#ea2a1e" fill-opacity="0.5"/>
<circle cx="612.7" cy="508.0" r="5.8" fill="#ea2a1e" fill-opacity="0.5"/>
<circle cx="620.4" cy="410.8" r="5.8" fill="#ea2a1e" fill-opacity="0.5"/>
<circle cx="575.7" cy="516.2" r="5.8" fill="#ea2a1e" fill-opacity="0.5"/>
<circle cx="619.4" cy="507.9" r="5.8" fill="#ea2a1e" fill-opacity="0.5"/>
<circle cx="584.5" cy="520.3" r="5.8" fill="#ea2a1e" fill-opacity="0.5"/>
<circle cx="630.6" cy="503.9" r="5.8" fill="#ea2a1e" fill-opacity="0.5"/>
<circle cx="598.9" cy="461.8" r="5.8" fill="#ea2a1e" fill-opacity="0.5"/>
<circle cx="570.2" cy="493.7" r="5.8" fill="#ea2a1e" fill-opacity="0.5"/>
<circle cx="580.9" cy="515.3" r="5.8" fill="#ea2a1e" fill-opacity="0.5"/>
<circle cx="610.6" cy="498.1" r="5.8" fill="#ea2a1e" fill-opacity="0.5"/>
<circle cx="591.2" cy="478.3" r="5.8" fill="#ea2a1e" fill-opacity="0.5"/>
<circle cx="599.7" cy="470.8" r="5.8" fill="#ea2a1e" fill-opacity="0.5"/>
<circle cx="618.5" cy="477.0" r="5.8" fill="#ea2a1e" fill-opacity="0.5"/>
<circle cx="625.0" cy="501.8" r="5.8" fill="#ea2a1e" fill-opacity="0.5"/>
<circle cx="624.6" cy="519.8" r="5.8" fill="#ea2a1e" fill-opacity="0.5"/>
<circle cx="576.5" cy="449.0" r="5.8" fill="#ea2a1e" fill-opacity="0.5"/>
<circle cx="600.6" cy="414.5" r="5.8" fill="#ea2a1e" fill-opacity="0.5"/>
<circle cx="613.2" cy="452.6" r="5.8" fill="#ea2a1e" fill-opacity="0.5"/>
<circle cx="571.2" cy="495.5" r="5.8" fill="#ea2a1e" fill-opacity="0.5"/>
<circle cx="593.7" cy="490.2" r="5.8" fill="#ea2a1e" fill-opacity="0.5"/>
<circle cx="616.1" cy="479.9" r="5.8" fill="#ea2a1e" fill-opacity="0.5"/>
<circle cx="614.3" cy="491.0" r="5.8" fill="#ea2a1e" fill-opacity="0.5"/>
<circle cx="575.1" cy="428.1" r="5.8" fill="#ea2a1e" fill-opacity="0.5"/>
<circle cx="633.5" cy="525.4" r="5.8" fill="#ea2a1e" fill-opacity="0.5"/>
<circle cx="571.1" cy="494.2" r="5.8" fill="#ea2a1e" fill-opacity="0.5"/>
<circle cx="611.0" cy="452.7" r="5.8" fill="#ea2a1e" fill-opacity="0.5"/>
<circle cx="606.8" cy="470.3" r="5.8" fill="#ea2a1e" fill-opacity="0.5"/>
<circle cx="614.8" cy="508.3" r="5.8" fill="#ea2a1e" fill-opacity="0.5"/>
<circle cx="599.0" cy="510.4" r="5.8" fill="#ea2a1e" fill-opacity="0.5"/>
<circle cx="621.1" cy="505.4" r="5.8" fill="#ea2a1e" fill-opacity="0.5"/>
<circle cx="622.0" cy="481.0" r="5.8" fill="#ea2a1e" fill-opacity="0.5"/>
<circle cx="595.3" cy="473.2" r="5.8" fill="#ea2a1e" fill-opacity="0.5"/>
<circle cx="578.8" cy="482.8" r="5.8" fill="#ea2a1e" fill-opacity="0.5"/>
<circle cx="613.9" cy="500.9" r="5.8" fill="#ea2a1e" fill-opacity="0.5"/>
<circle cx="593.2" cy="521.7" r="5.8" fill="#ea2a1e" fill-opacity="0.5"/>
<circle cx="595.0" cy="479.7" r="5.8" fill="#ea2a1e" fill-opacity="0.5"/>
<circle cx="601.0" cy="493.9" r="5.8" fill="#ea2a1e" fill-opacity="0.5"/>
<circle cx="605.7" cy="509.5" r="5.8" fill="#ea2a1e" fill-opacity="0.5"/>
<circle cx="605.0" cy="494.9" r="5.8" fill="#ea2a1e" fill-opacity="0.5"/>
<circle cx="580.8" cy="463.0" r="5.8" fill="#ea2a1e" fill-opacity="0.5"/>
<circle cx="588.0" cy="468.5" r="5.8" fill="#ea2a1e" fill-opacity="0.5"/>
<circle cx="617.2" cy="488.1" r="5.8" fill="#ea2a1e" fill-opacity="0.5"/>
<circle cx="593.3" cy="488.8" r="5.8" fill="#ea2a1e" fill-opacity="0.5"/>
<circle cx="586.7" cy="405.7" r="5.8" fill="#ea2a1e" fill-opacity="0.5"/>
<circle cx="584.3" cy="462.8" r="5.8" fill="#ea2a1e" fill-opacity="0.5"/>
<circle cx="571.9" cy="492.2" r="5.8" fill="#ea2a1e" fill-opacity="0.5"/>
<circle cx="618.2" cy="508.1" r="5.8" fill="#ea2a1e" fill-opacity="0.5"/>
<circle cx="573.4" cy="485.9" r="5.8" fill="#ea2a1e" fill-opacity="0.5"/>
<circle cx="591.7" cy="471.7" r="5.8" fill="#ea2a1e" fill-opacity="0.5"/>
<circle cx="591.1" cy="479.2" r="5.8" fill="#ea2a1e" fill-opacity="0.5"/>
<circle cx="610.3" cy="489.3" r="5.8" fill="#ea2a1e" fill-opacity="0.5"/>
<circle cx="602.6" cy="511.9" r="5.8" fill="#ea2a1e" fill-opacity="0.5"/>
<circle cx="589.6" cy="501.7" r="5.8" fill="#ea2a1e" fill-opacity="0.5"/>
<circle cx="585.1" cy="525.7" r="5.8" fill="#ea2a1e" fill-opacity="0.5"/>
<circle cx="574.7" cy="508.1" r="5.8" fill="#ea2a1e" fill-opacity="0.5"/>
<circle cx="589.8" cy="475.7" r="5.8" fill="#ea2a1e" fill-opacity="0.5"/>
<circle cx="606.9" cy="488.5" r="5.8" fill="#ea2a1e" fill-opacity="0.5"/>
<circle cx="608.0" cy="480.1" r="5.8" fill="#ea2a1e" fill-opacity="0.5"/>
<circle cx="601.8" cy="469.6" r="5.8" fill="#ea2a1e" fill-opacity="0.5"/>
<circle cx="583.8" cy="519.4" r="5.8" fill="#ea2a1e" fill-opacity="0.5"/>
<circle cx="581.1" cy="469.4" r="5.8" fill="#ea2a1e" fill-opacity="0.5"/>
<circle cx="596.3" cy="408.4" r="5.8" fill="#ea2a1e" fill-opacity="0.5"/>
<circle cx="590.5" cy="446.7" r="5.8" fill="#ea2a1e" fill-opacity="0.5"/>
<circle cx="604.6" cy="444.8" r="5.8" fill="#ea2a1e" fill-opacity="0.5"/>
<circle cx="568.0" cy="520.8" r="5.8" fill="#ea2a1e" fill-opacity="0.5"/>
<circle cx="576.4" cy="488.0" r="5.8" fill="#ea2a1e" fill-opacity="0.5"/>
<circle cx="578.5" cy="506.1" r="5.8" fill="#ea2a1e" fill-opacity="0.5"/>
<circle cx="614.2" cy="501.5" r="5.8" fill="#ea2a1e" fill-opacity="0.5"/>
<circle cx="584.1" cy="487.8" r="5.8" fill="#ea2a1e" fill-opacity="0.5"/>
<circle cx="618.3" cy="515.8" r="5.8" fill="#ea2a1e" fill-opacity="0.5"/>
<circle cx="623.7" cy="517.8" r="5.8" fill="#ea2a1e" fill-opacity="0.5"/>
<circle cx="625.4" cy="511.9" r="5.8" fill="#ea2a1e" fill-opacity="0.5"/>
<circle cx="579.4" cy="459.6" r="5.8" fill="#ea2a1e" fill-opacity="0.5"/>
<circle cx="582.6" cy="522.3" r="5.8" fill="#ea2a1e" fill-opacity="0.5"/>
<circle cx="574.4" cy="454.3" r="5.8" fill="#ea2a1e" fill-opacity="0.5"/>
<circle cx="602.7" cy="506.3" r="5.8" fill="#ea2a1e" fill-opacity="0.5"/>
<circle cx="603.5" cy="504.6" r="5.8" fill="#ea2a1e" fill-opacity="0.5"/>
<circle cx="617.2" cy="471.0" r="5.8" fill="#ea2a1e" fill-opacity="0.5"/>
<circle cx="573.5" cy="466.0" r="5.8" fill="#ea2a1e" fill-opacity="0.5"/>
<circle cx="609.3" cy="448.0" r="5.8" fill="#ea2a1e" fill-opacity="0.5"/>
<circle cx="571.8" cy="510.1" r="5.8" fill="#ea2a1e" fill-opacity="0.5"/>
<circle cx="591.2" cy="515.5" r="5.8" fill="#ea2a1e" fill-opacity="0.5"/>
<circle cx="616.5" cy="444.6" r="5.8" fill="#ea2a1e" fill-opacity="0.5"/>
<circle cx="615.6" cy="514.7" r="5.8" fill="#ea2a1e" fill-opacity="0.5"/>
<circle cx="606.6" cy="467.3" r="5.8" fill="#ea2a1e" fill-opacity="0.5"/>
<circle cx="608.2" cy="478.1" r="5.8" fill="#ea2a1e" fill-opacity="0.5"/>
<circle cx="627.2" cy="519.1" r="5.8" fill="#ea2a1e" fill-opacity="0.5"/>
<circle cx="594.9" cy="509.8" r="5.8" fill="#ea2a1e" fill-opacity="0.5"/>
<circle cx="622.4" cy="499.8" r="5.8" fill="#ea2a1e" fill-opacity="0.5"/>
<circle cx="612.4" cy="474.3" r="5.8" fill="#ea2a1e" fill-opacity="0.5"/>
<circle cx="617.3" cy="520.0" r="5.8" fill="#ea2a1e" fill-opacity="0.5"/>
<circle cx="611.3" cy="445.5" r="5.8" fill="#ea2a1e" fill-opacity="0.5"/>
<circle cx="614.9" cy="496.4" r="5.8" fill="#ea2a1e" fill-opacity="0.5"/>
<circle cx="609.4" cy="517.7" r="5.8" fill="#ea2a1e" fill-opacity="0.5"/>
<circle cx="614.0" cy="516.6" r="5.8" fill="#ea2a1e" fill-opacity="0.5"/>
<circle cx="595.7" cy="415.4" r="5.8" fill="#ea2a1e" fill-opacity="0.5"/>
<circle cx="593.5" cy="486.8" r="5.8" fill="#ea2a1e" fill-opacity="0.5"/>
<circle cx="578.2" cy="500.0" r="5.8" fill="#ea2a1e" fill-opacity="0.5"/>
<circle cx="580.0" cy="502.5" r="5.8" fill="#ea2a1e" fill-opacity="0.5"/>
<circle cx="586.2" cy="518.1" r="5.8" fill="#ea2a1e" fill-opacity="0.5"/>
<circle cx="576.2" cy="495.4" r="5.8" fill="#ea2a1e" fill-opacity="0.5"/>
<circle cx="621.2" cy="504.1" r="5.8" fill="#ea2a1e" fill-opacity="0.5"/>
<circle cx="595.5" cy="504.2" r="5.8" fill="#ea2a1e" fill-opacity="0.5"/>
<circle cx="594.3" cy="484.5" r="5.8" fill="#ea2a1e" fill-opacity="0.5"/>
<circle cx="579.4" cy="507.6" r="5.8" fill="#ea2a1e" fill-opacity="0.5"/>
<circle cx="588.4" cy="486.3" r="5.8" fill="#ea2a1e" fill-opacity="0.5"/>
<circle cx="578.2" cy="497.0" r="5.8" fill="#ea2a1e" fill-opacity="0.5"/>
<circle cx="575.7" cy="482.5" r="5.8" fill="#ea2a1e" fill-opacity="0.5"/>
<circle cx="588.7" cy="481.9" r="5.8" fill="#ea2a1e" fill-opacity="0.5"/>
<circle cx="602.4" cy="453.9" r="5.8" fill="#ea2a1e" fill-opacity="0.5"/>
<circle cx="600.3" cy="433.4" r="5.8" fill="#ea2a1e" fill-opacity="0.5"/>
<circle cx="621.6" cy="458.0" r="5.8" fill="#ea2a1e" fill-opacity="0.5"/>
<circle cx="589.5" cy="428.9" r="5.8" fill="#ea2a1e" fill-opacity="0.5"/>
<circle cx="610.2" cy="495.7" r="5.8" fill="#ea2a1e" fill-opacity="0.5"/>
<circle cx="604.3" cy="524.8" r="5.8" fill="#ea2a1e" fill-opacity="0.5"/>
<circle cx="600.1" cy="505.0" r="5.8" fill="#ea2a1e" fill-opacity="0.5"/>
<circle cx="593.8" cy="462.5" r="5.8" fill="#ea2a1e" fill-opacity="0.5"/>
<circle cx="608.2" cy="521.3" r="5.8" fill="#ea2a1e" fill-opacity="0.5"/>
<circle cx="599.4" cy="503.6" r="5.8" fill="#ea2a1e" fill-opacity="0.5"/>
<circle cx="598.7" cy="409.1" r="5.8" fill="#ea2a1e" fill-opacity="0.5"/>
<circle cx="611.6" cy="471.4" r="5.8" fill="#ea2a1e" fill-opacity="0.5"/>
<circle cx="597.5" cy="449.8" r="5.8" fill="#ea2a1e" fill-opacity="0.5"/>
<circle cx="613.6" cy="450.8" r="5.8" fill="#ea2a1e" fill-opacity="0.5"/>
<circle cx="594.5" cy="459.7" r="5.8" fill="#ea2a1e" fill-opacity="0.5"/>
<circle cx="585.4" cy="402.0" r="5.8" fill="#ea2a1e" fill-opacity="0.5"/>
<circle cx="597.0" cy="497.5" r="5.8" fill="#ea2a1e" fill-opacity="0.5"/>
<circle cx="587.9" cy="497.2" r="5.8" fill="#ea2a1e" fill-opacity="0.5"/>
<circle cx="613.2" cy="464.8" r="5.8" fill="#ea2a1e" fill-opacity="0.5"/>
<circle cx="573.6" cy="482.4" r="5.8" fill="#ea2a1e" fill-opacity="0.5"/>
<circle cx="599.9" cy="515.4" r="5.8" fill="#ea2a1e" fill-opacity="0.5"/>
<circle cx="623.0" cy="424.4" r="5.8" fill="#ea2a1e" fill-opacity="0.5"/>
<circle cx="587.6" cy="419.4" r="5.8" fill="#ea2a1e" fill-opacity="0.5"/>
<circle cx="584.0" cy="522.6" r="5.8" fill="#ea2a1e" fill-opacity="0.5"/>
<circle cx="612.7" cy="478.7" r="5.8" fill="#ea2a1e" fill-opacity="0.5"/>
<circle cx="587.5" cy="487.3" r="5.8" fill="#ea2a1e" fill-opacity="0.5"/>
<circle cx="614.2" cy="494.0" r="5.8" fill="#ea2a1e" fill-opacity="0.5"/>
<circle cx="571.1" cy="496.0" r="5.8" fill="#ea2a1e" fill-opacity="0.5"/>
<circle cx="589.8" cy="482.2" r="5.8" fill="#ea2a1e" fill-opacity="0.5"/>
<circle cx="613.0" cy="473.3" r="5.8" fill="#ea2a1e" fill-opacity="0.5"/>
<circle cx="584.6" cy="435.7" r="5.8" fill="#ea2a1e" fill-opacity="0.5"/>
<circle cx="577.8" cy="493.4" r="5.8" fill="#ea2a1e" fill-opacity="0.5"/>
<circle cx="590.7" cy="510.8" r="5.8" fill="#ea2a1e" fill-opacity="0.5"/>
<circle cx="591.8" cy="493.2" r="5.8" fill="#ea2a1e" fill-opacity="0.5"/>
<circle cx="595.7" cy="437.1" r="5.8" fill="#ea2a1e" fill-opacity="0.5"/>
<circle cx="604.1" cy="512.7" r="5.8" fill="#ea2a1e" fill-opacity="0.5"/>
<circle cx="569.1" cy="512.9" r="5.8" fill="#ea2a1e" fill-opacity="0.5"/>
<circle cx="578.0" cy="418.5" r="5.8" fill="#ea2a1e" fill-opacity="0.5"/>
<circle cx="616.6" cy="453.4" r="5.8" fill="#ea2a1e" fill-opacity="0.5"/>
<circle cx="612.2" cy="496.4" r="5.8" fill="#ea2a1e" fill-opacity="0.5"/>
<circle cx="596.9" cy="515.3" r="5.8" fill="#ea2a1e" fill-opacity="0.5"/>
<circle cx="615.2" cy="457.3" r="5.8" fill="#ea2a1e" fill-opacity="0.5"/>
<circle cx="579.3" cy="511.0" r="5.8" fill="#ea2a1e" fill-opacity="0.5"/>
<circle cx="576.3" cy="516.2" r="5.8" fill="#ea2a1e" fill-opacity="0.5"/>
<circle cx="570.8" cy="486.8" r="5.8" fill="#ea2a1e" fill-opacity="0.5"/>
<circle cx="613.0" cy="504.3" r="5.8" fill="#ea2a1e" fill-opacity="0.5"/>
<circle cx="609.9" cy="482.2" r="5.8" fill="#ea2a1e" fill-opacity="0.5"/>
<circle cx="583.8" cy="488.1" r="5.8" fill="#ea2a1e" fill-opacity="0.5"/>
<circle cx="591.0" cy="410.4" r="5.8" fill="#ea2a1e" fill-opacity="0.5"/>
<circle cx="607.5" cy="517.1" r="5.8" fill="#ea2a1e" fill-opacity="0.5"/>
<circle cx="601.4" cy="520.4" r="5.8" fill="#ea2a1e" fill-opacity="0.5"/>
<circle cx="577.9" cy="506.2" r="5.8" fill="#ea2a1e" fill-opacity="0.5"/>
<circle cx="576.4" cy="520.5" r="5.8" fill="#ea2a1e" fill-opacity="0.5"/>
<circle cx="594.7" cy="484.7" r="5.8" fill="#ea2a1e" fill-opacity="0.5"/>
<circle cx="574.7" cy="507.6" r="5.8" fill="#ea2a1e" fill-opacity="0.5"/>
<circle cx="603.7" cy="522.6" r="5.8" fill="#ea2a1e" fill-opacity="0.5"/>
<circle cx="618.0" cy="501.7" r="5.8" fill="#ea2a1e" fill-opacity="0.5"/>
<circle cx="570.5" cy="516.0" r="5.8" fill="#ea2a1e" fill-opacity="0.5"/>
<circle cx="572.8" cy="525.7" r="5.8" fill="#ea2a1e" fill-opacity="0.5"/>
<circle cx="595.6" cy="436.0" r="5.8" fill="#ea2a1e" fill-opacity="0.5"/>
<circle cx="608.7" cy="510.1" r="5.8" fill="#ea2a1e" fill-opacity="0.5"/>
<circle cx="593.3" cy="490.5" r="5.8" fill="#ea2a1e" fill-opacity="0.5"/>
<circle cx="614.6" cy="473.0" r="5.8" fill="#ea2a1e" fill-opacity="0.5"/>
<circle cx="635.6" cy="523.1" r="5.8" fill="#ea2a1e" fill-opacity="0.5"/>
<circle cx="615.2" cy="515.7" r="5.8" fill="#ea2a1e" fill-opacity="0.5"/>
<circle cx="623.1" cy="472.1" r="5.8" fill="#ea2a1e" fill-opacity="0.5"/>
<circle cx="578.8" cy="450.8" r="5.8" fill="#ea2a1e" fill-opacity="0.5"/>
<circle cx="604.3" cy="468.5" r="5.8" fill="#ea2a1e" fill-opacity="0.5"/>
<circle cx="600.9" cy="450.9" r="5.8" fill="#ea2a1e" fill-opacity="0.5"/>
<circle cx="569.4" cy="489.5" r="5.8" fill="#ea2a1e" fill-opacity="0.5"/>
<circle cx="605.7" cy="472.5" r="5.8" fill="#ea2a1e" fill-opacity="0.5"/>
<circle cx="641.4" cy="518.0" r="5.8" fill="#ea2a1e" fill-opacity="0.5"/>
<circle cx="607.1" cy="437.4" r="5.8" fill="#ea2a1e" fill-opacity="0.5"/>
<circle cx="607.8" cy="511.8" r="5.8" fill="#ea2a1e" fill-opacity="0.5"/>
<circle cx="583.3" cy="489.3" r="5.8" fill="#ea2a1e" fill-opacity="0.5"/>
<circle cx="595.5" cy="474.4" r="5.8" fill="#ea2a1e" fill-opacity="0.5"/>
<circle cx="602.5" cy="476.7" r="5.8" fill="#ea2a1e" fill-opacity="0.5"/>
<circle cx="596.8" cy="399.4" r="5.8" fill="#ea2a1e" fill-opacity="0.5"/>
<circle cx="619.9" cy="513.0" r="5.8" fill="#ea2a1e" fill-opacity="0.5"/>
<circle cx="589.4" cy="471.8" r="5.8" fill="#ea2a1e" fill-opacity="0.5"/>
<circle cx="581.9" cy="420.2" r="5.8" fill="#ea2a1e" fill-opacity="0.5"/>
<circle cx="598.2" cy="486.5" r="5.8" fill="#ea2a1e" fill-opacity="0.5"/>
<circle cx="612.2" cy="422.1" r="5.8" fill="#ea2a1e" fill-opacity="0.5"/>
<circle cx="596.2" cy="484.3" r="5.8" fill="#ea2a1e" fill-opacity="0.5"/>
<circle cx="568.2" cy="488.1" r="5.8" fill="#ea2a1e" fill-opacity="0.5"/>
<circle cx="573.8" cy="429.0" r="5.8" fill="#ea2a1e" fill-opacity="0.5"/>
<circle cx="571.9" cy="523.6" r="5.8" fill="#ea2a1e" fill-opacity="0.5"/>
<circle cx="736.0" cy="112.6" r="5.8" fill="#ea2a1e" fill-opacity="0.5"/>
<circle cx="614.0" cy="170.0" r="5.8" fill="#ea2a1e" fill-opacity="0.5"/>
<circle cx="638.0" cy="230.0" r="5.8" fill="#ea2a1e" fill-opacity="0.5"/>
<circle cx="624.4" cy="285.6" r="5.8" fill="#ea2a1e" fill-opacity="0.5"/>
<circle cx="589.0" cy="316.0" r="5.8" fill="#ea2a1e" fill-opacity="0.5"/>
<circle cx="609.5" cy="312.6" r="5.8" fill="#ea2a1e" fill-opacity="0.5"/>
<circle cx="643.0" cy="308.8" r="5.8" fill="#ea2a1e" fill-opacity="0.5"/>
<circle cx="649.4" cy="316.5" r="5.8" fill="#ea2a1e" fill-opacity="0.5"/>
<circle cx="616.0" cy="328.0" r="5.8" fill="#ea2a1e" fill-opacity="0.5"/>
<circle cx="603.0" cy="339.6" r="5.8" fill="#ea2a1e" fill-opacity="0.5"/>
<circle cx="583.0" cy="350.4" r="5.8" fill="#ea2a1e" fill-opacity="0.5"/>
<circle cx="587.0" cy="360.2" r="5.8" fill="#ea2a1e" fill-opacity="0.5"/>
<circle cx="600.5" cy="366.6" r="5.8" fill="#ea2a1e" fill-opacity="0.5"/>
<circle cx="613.4" cy="347.4" r="5.8" fill="#ea2a1e" fill-opacity="0.5"/>
<circle cx="612.0" cy="356.4" r="5.8" fill="#ea2a1e" fill-opacity="0.5"/>
<circle cx="614.7" cy="371.8" r="5.8" fill="#ea2a1e" fill-opacity="0.5"/>
<circle cx="587.7" cy="382.0" r="5.8" fill="#ea2a1e" fill-opacity="0.5"/>
<circle cx="610.8" cy="380.8" r="5.8" fill="#ea2a1e" fill-opacity="0.5"/>
<circle cx="627.5" cy="380.8" r="5.8" fill="#ea2a1e" fill-opacity="0.5"/>
<circle cx="654.5" cy="386.0" r="5.8" fill="#ea2a1e" fill-opacity="0.5"/>
<circle cx="720.0" cy="382.0" r="5.8" fill="#ea2a1e" fill-opacity="0.5"/>
<circle cx="587.0" cy="362.4" r="5.8" fill="#ea2a1e" fill-opacity="0.5"/>
<circle cx="599.9" cy="367.3" r="5.8" fill="#ea2a1e" fill-opacity="0.5"/>
<circle cx="613.6" cy="372.0" r="5.8" fill="#ea2a1e" fill-opacity="0.5"/>
<circle cx="628.1" cy="381.0" r="5.8" fill="#ea2a1e" fill-opacity="0.5"/>
<circle cx="642.7" cy="433.5" r="5.8" fill="#ea2a1e" fill-opacity="0.5"/>
<circle cx="666.0" cy="441.5" r="5.8" fill="#ea2a1e" fill-opacity="0.5"/>
<circle cx="653.2" cy="455.3" r="5.8" fill="#ea2a1e" fill-opacity="0.5"/>
<circle cx="670.1" cy="456.9" r="5.8" fill="#ea2a1e" fill-opacity="0.5"/>
<circle cx="629.0" cy="424.6" r="5.8" fill="#ea2a1e" fill-opacity="0.5"/>
<circle cx="633.8" cy="444.0" r="5.8" fill="#ea2a1e" fill-opacity="0.5"/>
<circle cx="667.7" cy="485.9" r="5.8" fill="#ea2a1e" fill-opacity="0.5"/>
<circle cx="672.5" cy="495.6" r="5.8" fill="#ea2a1e" fill-opacity="0.5"/>
<circle cx="686.3" cy="502.9" r="5.8" fill="#ea2a1e" fill-opacity="0.5"/>
<circle cx="674.1" cy="507.7" r="5.8" fill="#ea2a1e" fill-opacity="0.5"/>
<circle cx="705.6" cy="479.5" r="5.8" fill="#ea2a1e" fill-opacity="0.5"/>
<circle cx="702.4" cy="513.4" r="5.8" fill="#ea2a1e" fill-opacity="0.5"/>
<circle cx="693.5" cy="521.4" r="5.8" fill="#ea2a1e" fill-opacity="0.5"/>
<circle cx="637.0" cy="465.7" r="5.8" fill="#ea2a1e" fill-opacity="0.5"/>
<circle cx="641.0" cy="484.3" r="5.8" fill="#ea2a1e" fill-opacity="0.5"/>
<circle cx="648.3" cy="498.8" r="5.8" fill="#ea2a1e" fill-opacity="0.5"/>
<circle cx="658.0" cy="510.0" r="5.8" fill="#ea2a1e" fill-opacity="0.5"/>
<circle cx="662.0" cy="520.0" r="5.8" fill="#ea2a1e" fill-opacity="0.5"/>
<circle cx="650.0" cy="522.0" r="5.8" fill="#ea2a1e" fill-opacity="0.5"/>
<circle cx="640.0" cy="515.0" r="5.8" fill="#ea2a1e" fill-opacity="0.5"/>
<circle cx="705.0" cy="478.0" r="5.8" fill="#ea2a1e" fill-opacity="0.5"/>
<circle cx="699.5" cy="513.7" r="5.8" fill="#ea2a1e" fill-opacity="0.5"/>
<circle cx="690.0" cy="523.0" r="5.8" fill="#ea2a1e" fill-opacity="0.5"/>
<circle cx="580.0" cy="400.0" r="5.8" fill="#ea2a1e" fill-opacity="0.5"/>
<circle cx="592.0" cy="397.0" r="5.8" fill="#ea2a1e" fill-opacity="0.5"/>
<circle cx="605.0" cy="394.0" r="5.8" fill="#ea2a1e" fill-opacity="0.5"/>
<circle cx="611.0" cy="392.0" r="5.8" fill="#ea2a1e" fill-opacity="0.5"/>
<circle cx="620.0" cy="398.0" r="5.8" fill="#ea2a1e" fill-opacity="0.5"/>
<circle cx="575.0" cy="410.0" r="5.8" fill="#ea2a1e" fill-opacity="0.5"/>
<circle cx="574.0" cy="425.0" r="5.8" fill="#ea2a1e" fill-opacity="0.5"/>
<circle cx="572.0" cy="440.0" r="5.8" fill="#ea2a1e" fill-opacity="0.5"/>
<circle cx="570.0" cy="455.0" r="5.8" fill="#ea2a1e" fill-opacity="0.5"/>
<circle cx="618.0" cy="410.0" r="5.8" fill="#ea2a1e" fill-opacity="0.5"/>
<circle cx="624.0" cy="420.0" r="5.8" fill="#ea2a1e" fill-opacity="0.5"/>
<circle cx="628.0" cy="395.0" r="5.8" fill="#ea2a1e" fill-opacity="0.5"/>
<circle cx="632.0" cy="410.0" r="5.8" fill="#ea2a1e" fill-opacity="0.5"/>
<circle cx="630.0" cy="455.0" r="5.8" fill="#ea2a1e" fill-opacity="0.5"/>
<circle cx="634.0" cy="475.0" r="5.8" fill="#ea2a1e" fill-opacity="0.5"/>
<circle cx="566.0" cy="480.0" r="5.8" fill="#ea2a1e" fill-opacity="0.5"/>
<circle cx="566.0" cy="500.0" r="5.8" fill="#ea2a1e" fill-opacity="0.5"/>
<circle cx="566.0" cy="515.0" r="5.8" fill="#ea2a1e" fill-opacity="0.5"/>
</g>
<circle cx="594.0" cy="237.0" r="6.3" fill="#e42a20"/>
<circle cx="609.5" cy="253.5" r="6.3" fill="#e42a20"/>
<circle cx="616.7" cy="339.0" r="6.3" fill="#e42a20"/>
<circle cx="621.0" cy="362.0" r="6.3" fill="#e42a20"/>
<text x="586.0" y="237.0" font-size="26" text-anchor="end" font-weight="bold" font-style="italic" fill="#000" stroke="#000" stroke-width="0.28" >H2-D1</text>
<text x="618.0" y="258.0" font-size="26" text-anchor="start" font-weight="bold" font-style="italic" fill="#000" stroke="#000" stroke-width="0.28" >B2m</text>
<text x="625.0" y="341.0" font-size="26" text-anchor="start" font-weight="bold" font-style="italic" fill="#000" stroke="#000" stroke-width="0.28" >Gbp2</text>
<text x="629.0" y="365.0" font-size="26" text-anchor="start" font-weight="bold" font-style="italic" fill="#000" stroke="#000" stroke-width="0.28" >Gfap</text>
<circle cx="342.8" cy="49.3" r="10" fill="#e8312a"/>
<circle cx="342.8" cy="83.3" r="10" fill="#3f5cad"/>
<circle cx="342.8" cy="117.2" r="10" fill="#d4d4d4"/>
<text x="361.0" y="56.5" font-size="27" text-anchor="start" font-weight="bold" font-style="normal" fill="#000" stroke="#000" stroke-width="0.28" >707 Up</text>
<text x="361.0" y="91.0" font-size="27" text-anchor="start" font-weight="bold" font-style="normal" fill="#000" stroke="#000" stroke-width="0.28" >364 Down</text>
<text x="361.0" y="125.0" font-size="27" text-anchor="start" font-weight="bold" font-style="normal" fill="#000" stroke="#000" stroke-width="0.28" >17693 Unchanged</text>
<line x1="1292.0" y1="37.0" x2="1292.0" y2="520.0" stroke="#000" stroke-width="3.2" />
<line x1="1290.4" y1="518.7" x2="1725.5" y2="518.7" stroke="#000" stroke-width="3.2" />
<line x1="1292.0" y1="518.7" x2="1292.0" y2="538.0" stroke="#000" stroke-width="3.2" />
<text x="1292.0" y="570.5" font-size="27" text-anchor="middle" font-weight="bold" font-style="normal" fill="#000" stroke="#000" stroke-width="0.28" >0</text>
<line x1="1400.0" y1="518.7" x2="1400.0" y2="538.0" stroke="#000" stroke-width="3.2" />
<text x="1400.0" y="570.5" font-size="27" text-anchor="middle" font-weight="bold" font-style="normal" fill="#000" stroke="#000" stroke-width="0.28" >2</text>
<line x1="1508.0" y1="518.7" x2="1508.0" y2="538.0" stroke="#000" stroke-width="3.2" />
<text x="1508.0" y="570.5" font-size="27" text-anchor="middle" font-weight="bold" font-style="normal" fill="#000" stroke="#000" stroke-width="0.28" >4</text>
<line x1="1616.0" y1="518.7" x2="1616.0" y2="538.0" stroke="#000" stroke-width="3.2" />
<text x="1616.0" y="570.5" font-size="27" text-anchor="middle" font-weight="bold" font-style="normal" fill="#000" stroke="#000" stroke-width="0.28" >6</text>
<line x1="1724.0" y1="518.7" x2="1724.0" y2="538.0" stroke="#000" stroke-width="3.2" />
<text x="1724.0" y="570.5" font-size="27" text-anchor="middle" font-weight="bold" font-style="normal" fill="#000" stroke="#000" stroke-width="0.28" >8</text>
<text x="1512.0" y="608.5" font-size="30.5" text-anchor="middle" font-weight="bold" font-style="normal" fill="#000" stroke="#000" stroke-width="0.28" >-Log10(padj)</text>
<line x1="1294.5" y1="40.5" x2="1727.0" y2="40.5" stroke="#d2b2b7" stroke-width="2.4" stroke-dasharray="2.5 3.1"/>
<line x1="1294.5" y1="94.5" x2="1727.0" y2="94.5" stroke="#d2b2b7" stroke-width="2.4" stroke-dasharray="2.5 3.1"/>
<line x1="1294.5" y1="142.8" x2="1727.0" y2="142.8" stroke="#d2b2b7" stroke-width="2.4" stroke-dasharray="2.5 3.1"/>
<line x1="1294.5" y1="195.2" x2="1727.0" y2="195.2" stroke="#d2b2b7" stroke-width="2.4" stroke-dasharray="2.5 3.1"/>
<line x1="1294.5" y1="243.0" x2="1727.0" y2="243.0" stroke="#d2b2b7" stroke-width="2.4" stroke-dasharray="2.5 3.1"/>
<line x1="1294.5" y1="295.3" x2="1727.0" y2="295.3" stroke="#d2b2b7" stroke-width="2.4" stroke-dasharray="2.5 3.1"/>
<line x1="1294.5" y1="343.7" x2="1727.0" y2="343.7" stroke="#d2b2b7" stroke-width="2.4" stroke-dasharray="2.5 3.1"/>
<line x1="1294.5" y1="392.3" x2="1727.0" y2="392.3" stroke="#d2b2b7" stroke-width="2.4" stroke-dasharray="2.5 3.1"/>
<line x1="1294.5" y1="444.9" x2="1727.0" y2="444.9" stroke="#d2b2b7" stroke-width="2.4" stroke-dasharray="2.5 3.1"/>
<line x1="1294.5" y1="494.0" x2="1727.0" y2="494.0" stroke="#d2b2b7" stroke-width="2.4" stroke-dasharray="2.5 3.1"/>
<text x="1278.0" y="55.3" font-size="23.5" text-anchor="end" font-weight="bold" font-style="normal" fill="#000" stroke="#000" stroke-width="0.28" xml:space="preserve">Complement and coagulation cascades</text>
<circle cx="1653.4" cy="37.6" r="15.3" fill="#a21c22" stroke="#70101a" stroke-width="1.3"/>
<text x="1278.0" y="96.9" font-size="23.5" text-anchor="end" font-weight="bold" font-style="normal" fill="#000" stroke="#000" stroke-width="0.28" xml:space="preserve">Epstein-Barr Virus</text>
<circle cx="1607.3" cy="93.3" r="17.5" fill="#a21c22" stroke="#70101a" stroke-width="1.3"/>
<text x="1278.0" y="152.0" font-size="23.5" text-anchor="end" font-weight="bold" font-style="normal" fill="#000" stroke="#000" stroke-width="0.28" xml:space="preserve">Chemokine signaling pathway</text>
<circle cx="1607.3" cy="142.8" r="17.5" fill="#a21c22" stroke="#70101a" stroke-width="1.3"/>
<text x="1278.0" y="197.0" font-size="23.5" text-anchor="end" font-weight="bold" font-style="normal" fill="#000" stroke="#000" stroke-width="0.28" xml:space="preserve">Cytokine-cytokine receptor interaction</text>
<circle cx="1567.4" cy="192.8" r="18.7" fill="#a21c22" stroke="#70101a" stroke-width="1.3"/>
<text x="1278.0" y="235.0" font-size="23.5" text-anchor="end" font-weight="bold" font-style="normal" fill="#000" stroke="#000" stroke-width="0.28" xml:space="preserve">Viral protein interaction with </text>
<text x="1278.0" y="263.0" font-size="23.5" text-anchor="end" font-weight="bold" font-style="normal" fill="#000" stroke="#000" stroke-width="0.28" xml:space="preserve">cytokine and cytokine receptor</text>
<circle cx="1551.0" cy="244.7" r="14" fill="#a21c22" stroke="#70101a" stroke-width="1.3"/>
<text x="1278.0" y="303.2" font-size="23.5" text-anchor="end" font-weight="bold" font-style="normal" fill="#000" stroke="#000" stroke-width="0.28" xml:space="preserve">Toll-like receptor signaling pathway</text>
<circle cx="1518.5" cy="292.6" r="14" fill="#a21c22" stroke="#70101a" stroke-width="1.3"/>
<text x="1278.0" y="352.2" font-size="23.5" text-anchor="end" font-weight="bold" font-style="normal" fill="#000" stroke="#000" stroke-width="0.28" xml:space="preserve">Natural killer cell mediated cytotoxicity</text>
<circle cx="1517.0" cy="343.7" r="14" fill="#a21c22" stroke="#70101a" stroke-width="1.3"/>
<text x="1278.0" y="401.3" font-size="23.5" text-anchor="end" font-weight="bold" font-style="normal" fill="#000" stroke="#000" stroke-width="0.28" xml:space="preserve">JAK-STAT signaling pathwaypathway</text>
<circle cx="1503.0" cy="391.0" r="15.3" fill="#a21c22" stroke="#70101a" stroke-width="1.3"/>
<text x="1278.0" y="453.9" font-size="23.5" text-anchor="end" font-weight="bold" font-style="normal" fill="#000" stroke="#000" stroke-width="0.28" xml:space="preserve">NF-kappa B signaling pathway</text>
<circle cx="1479.2" cy="444.9" r="13.3" fill="#a21c22" stroke="#70101a" stroke-width="1.3"/>
<text x="1278.0" y="501.0" font-size="23.5" text-anchor="end" font-weight="bold" font-style="normal" fill="#000" stroke="#000" stroke-width="0.28" xml:space="preserve">TNF signaling pathway</text>
<circle cx="1457.0" cy="493.5" r="13.3" fill="#a21c22" stroke="#70101a" stroke-width="1.3"/>
<text x="1462.0" y="668.4" font-size="29.5" text-anchor="end" font-weight="bold" font-style="normal" fill="#000" stroke="#000" stroke-width="0.28" >Gene Hits:</text>
<circle cx="1484.0" cy="658.4" r="13.3" fill="#a21c22" stroke="#70101a" stroke-width="1.3"/>
<text x="1484.0" y="707.5" font-size="28" text-anchor="middle" font-weight="bold" font-style="normal" fill="#000" stroke="#000" stroke-width="0.28" >9</text>
<circle cx="1530.8" cy="658.4" r="15.9" fill="#a21c22" stroke="#70101a" stroke-width="1.3"/>
<text x="1530.8" y="707.5" font-size="28" text-anchor="middle" font-weight="bold" font-style="normal" fill="#000" stroke="#000" stroke-width="0.28" >12</text>
<circle cx="1584.8" cy="658.4" r="18.8" fill="#a21c22" stroke="#70101a" stroke-width="1.3"/>
<text x="1584.8" y="707.5" font-size="28" text-anchor="middle" font-weight="bold" font-style="normal" fill="#000" stroke="#000" stroke-width="0.28" >18</text>
<line x1="83.3" y1="841.0" x2="83.3" y2="1225.5" stroke="#000" stroke-width="3.2" />
<line x1="72.0" y1="842.3" x2="83.3" y2="842.3" stroke="#000" stroke-width="3.2" />
<text x="64.0" y="851.8" font-size="26.5" text-anchor="end" font-weight="bold" font-style="normal" fill="#000" stroke="#000" stroke-width="0.28" >10</text>
<line x1="72.0" y1="905.9" x2="83.3" y2="905.9" stroke="#000" stroke-width="3.2" />
<text x="64.0" y="915.4" font-size="26.5" text-anchor="end" font-weight="bold" font-style="normal" fill="#000" stroke="#000" stroke-width="0.28" >8</text>
<line x1="72.0" y1="969.5" x2="83.3" y2="969.5" stroke="#000" stroke-width="3.2" />
<text x="64.0" y="979.0" font-size="26.5" text-anchor="end" font-weight="bold" font-style="normal" fill="#000" stroke="#000" stroke-width="0.28" >6</text>
<line x1="72.0" y1="1033.1" x2="83.3" y2="1033.1" stroke="#000" stroke-width="3.2" />
<text x="64.0" y="1042.6" font-size="26.5" text-anchor="end" font-weight="bold" font-style="normal" fill="#000" stroke="#000" stroke-width="0.28" >4</text>
<line x1="72.0" y1="1096.7" x2="83.3" y2="1096.7" stroke="#000" stroke-width="3.2" />
<text x="64.0" y="1106.2" font-size="26.5" text-anchor="end" font-weight="bold" font-style="normal" fill="#000" stroke="#000" stroke-width="0.28" >2</text>
<line x1="72.0" y1="1160.3" x2="83.3" y2="1160.3" stroke="#000" stroke-width="3.2" />
<text x="64.0" y="1169.8" font-size="26.5" text-anchor="end" font-weight="bold" font-style="normal" fill="#000" stroke="#000" stroke-width="0.28" >0</text>
<line x1="72.0" y1="1223.9" x2="83.3" y2="1223.9" stroke="#000" stroke-width="3.2" />
<text x="64.0" y="1233.4" font-size="26.5" text-anchor="end" font-weight="bold" font-style="normal" fill="#000" stroke="#000" stroke-width="0.28" >-2</text>
<text x="0.0" y="0.0" font-size="27" text-anchor="middle" font-weight="bold" font-style="normal" fill="#000" stroke="#000" stroke-width="0.28" transform="translate(25,1023.5) rotate(-90)">Log2FC Bulk RNAseq</text>
<line x1="127.8" y1="865.4" x2="206.0" y2="865.4" stroke="#000" stroke-width="3" />
<text x="160.0" y="855.8" font-size="18.5" text-anchor="middle" font-weight="bold" font-style="normal" fill="#000" stroke="#000" stroke-width="0.28" >p &lt; 0.0001</text>
<line x1="128.7" y1="1013.5" x2="128.7" y2="1076.0" stroke="#000" stroke-width="3" />
<line x1="114.0" y1="1013.5" x2="145.0" y2="1013.5" stroke="#000" stroke-width="3" />
<line x1="128.7" y1="1114.5" x2="128.7" y2="1128.0" stroke="#000" stroke-width="3" />
<line x1="114.0" y1="1128.0" x2="145.0" y2="1128.0" stroke="#000" stroke-width="3" />
<rect x="99.7" y="1076" width="58.5" height="38.5" fill="#9b1c20" stroke="#000" stroke-width="3"/>
<line x1="99.7" y1="1098.9" x2="158.2" y2="1098.9" stroke="#000" stroke-width="3" />
<line x1="205.0" y1="1029.7" x2="205.0" y2="1086.9" stroke="#000" stroke-width="3" />
<line x1="189.0" y1="1029.7" x2="221.3" y2="1029.7" stroke="#000" stroke-width="3" />
<line x1="205.0" y1="1121.8" x2="205.0" y2="1162.2" stroke="#000" stroke-width="3" />
<line x1="189.0" y1="1162.2" x2="221.3" y2="1162.2" stroke="#000" stroke-width="3" />
<rect x="175.7" y="1086.9" width="58.8" height="34.9" fill="#1a5c9e" stroke="#000" stroke-width="3"/>
<line x1="175.7" y1="1107.7" x2="234.5" y2="1107.7" stroke="#000" stroke-width="3" />
<circle cx="125.3" cy="896.1" r="4.6" fill="#9b1c20" stroke="#6a1014" stroke-width="1"/>
<circle cx="131.4" cy="893.2" r="4.6" fill="#9b1c20" stroke="#6a1014" stroke-width="1"/>
<circle cx="125.7" cy="950.4" r="4.6" fill="#9b1c20" stroke="#6a1014" stroke-width="1"/>
<circle cx="131.4" cy="958.7" r="4.6" fill="#9b1c20" stroke="#6a1014" stroke-width="1"/>
<circle cx="125.7" cy="975.8" r="4.6" fill="#9b1c20" stroke="#6a1014" stroke-width="1"/>
<circle cx="136.9" cy="976.1" r="4.6" fill="#9b1c20" stroke="#6a1014" stroke-width="1"/>
<circle cx="113.8" cy="987.7" r="4.6" fill="#9b1c20" stroke="#6a1014" stroke-width="1"/>
<circle cx="119.3" cy="984.8" r="4.6" fill="#9b1c20" stroke="#6a1014" stroke-width="1"/>
<circle cx="131.1" cy="989.9" r="4.6" fill="#9b1c20" stroke="#6a1014" stroke-width="1"/>
<circle cx="136.9" cy="988.6" r="4.6" fill="#9b1c20" stroke="#6a1014" stroke-width="1"/>
<circle cx="142.7" cy="986.4" r="4.6" fill="#9b1c20" stroke="#6a1014" stroke-width="1"/>
<circle cx="102.9" cy="1003.4" r="4.6" fill="#9b1c20" stroke="#6a1014" stroke-width="1"/>
<circle cx="108.0" cy="1000.2" r="4.6" fill="#9b1c20" stroke="#6a1014" stroke-width="1"/>
<circle cx="113.8" cy="1002.7" r="4.6" fill="#9b1c20" stroke="#6a1014" stroke-width="1"/>
<circle cx="120.2" cy="1000.2" r="4.6" fill="#9b1c20" stroke="#6a1014" stroke-width="1"/>
<circle cx="131.1" cy="1000.2" r="4.6" fill="#9b1c20" stroke="#6a1014" stroke-width="1"/>
<circle cx="137.6" cy="1004.0" r="4.6" fill="#9b1c20" stroke="#6a1014" stroke-width="1"/>
<circle cx="143.3" cy="1004.7" r="4.6" fill="#9b1c20" stroke="#6a1014" stroke-width="1"/>
<circle cx="149.1" cy="1007.2" r="4.6" fill="#9b1c20" stroke="#6a1014" stroke-width="1"/>
<circle cx="154.9" cy="1003.4" r="4.6" fill="#9b1c20" stroke="#6a1014" stroke-width="1"/>
<circle cx="125.7" cy="1008.5" r="4.6" fill="#9b1c20" stroke="#6a1014" stroke-width="1"/>
<circle cx="117.0" cy="1003.0" r="4.6" fill="#9b1c20" stroke="#6a1014" stroke-width="1"/>
<circle cx="126.0" cy="1002.0" r="4.6" fill="#9b1c20" stroke="#6a1014" stroke-width="1"/>
<circle cx="134.0" cy="1005.0" r="4.6" fill="#9b1c20" stroke="#6a1014" stroke-width="1"/>
<circle cx="207.0" cy="906.3" r="4.6" fill="#1a5c9e" stroke="#124a80" stroke-width="1"/>
<circle cx="201.8" cy="913.7" r="4.6" fill="#1a5c9e" stroke="#124a80" stroke-width="1"/>
<circle cx="200.0" cy="965.0" r="4.6" fill="#1a5c9e" stroke="#124a80" stroke-width="1"/>
<circle cx="209.5" cy="966.2" r="4.6" fill="#1a5c9e" stroke="#124a80" stroke-width="1"/>
<circle cx="205.0" cy="971.8" r="4.6" fill="#1a5c9e" stroke="#124a80" stroke-width="1"/>
<circle cx="194.9" cy="994.9" r="4.6" fill="#1a5c9e" stroke="#124a80" stroke-width="1"/>
<circle cx="205.0" cy="989.8" r="4.6" fill="#1a5c9e" stroke="#124a80" stroke-width="1"/>
<circle cx="214.0" cy="993.7" r="4.6" fill="#1a5c9e" stroke="#124a80" stroke-width="1"/>
<circle cx="199.0" cy="992.0" r="4.6" fill="#1a5c9e" stroke="#124a80" stroke-width="1"/>
<circle cx="210.0" cy="991.0" r="4.6" fill="#1a5c9e" stroke="#124a80" stroke-width="1"/>
<circle cx="226.4" cy="1004.4" r="4.6" fill="#1a5c9e" stroke="#124a80" stroke-width="1"/>
<circle cx="179.1" cy="1016.2" r="4.6" fill="#1a5c9e" stroke="#124a80" stroke-width="1"/>
<circle cx="193.7" cy="1012.9" r="4.6" fill="#1a5c9e" stroke="#124a80" stroke-width="1"/>
<circle cx="187.0" cy="1019.6" r="4.6" fill="#1a5c9e" stroke="#124a80" stroke-width="1"/>
<circle cx="207.2" cy="1012.9" r="4.6" fill="#1a5c9e" stroke="#124a80" stroke-width="1"/>
<circle cx="214.0" cy="1010.6" r="4.6" fill="#1a5c9e" stroke="#124a80" stroke-width="1"/>
<circle cx="221.9" cy="1011.7" r="4.6" fill="#1a5c9e" stroke="#124a80" stroke-width="1"/>
<circle cx="230.9" cy="1014.0" r="4.6" fill="#1a5c9e" stroke="#124a80" stroke-width="1"/>
<circle cx="200.5" cy="1023.0" r="4.6" fill="#1a5c9e" stroke="#124a80" stroke-width="1"/>
<circle cx="210.6" cy="1023.0" r="4.6" fill="#1a5c9e" stroke="#124a80" stroke-width="1"/>
<circle cx="218.5" cy="1024.7" r="4.6" fill="#1a5c9e" stroke="#124a80" stroke-width="1"/>
<circle cx="193.7" cy="1027.5" r="4.6" fill="#1a5c9e" stroke="#124a80" stroke-width="1"/>
<circle cx="205.0" cy="1029.7" r="4.6" fill="#1a5c9e" stroke="#124a80" stroke-width="1"/>
<circle cx="223.0" cy="1020.7" r="4.6" fill="#1a5c9e" stroke="#124a80" stroke-width="1"/>
<circle cx="183.0" cy="1014.0" r="4.6" fill="#1a5c9e" stroke="#124a80" stroke-width="1"/>
<circle cx="197.0" cy="1018.0" r="4.6" fill="#1a5c9e" stroke="#124a80" stroke-width="1"/>
<circle cx="203.0" cy="1016.0" r="4.6" fill="#1a5c9e" stroke="#124a80" stroke-width="1"/>
<circle cx="212.0" cy="1018.0" r="4.6" fill="#1a5c9e" stroke="#124a80" stroke-width="1"/>
<circle cx="226.0" cy="1016.0" r="4.6" fill="#1a5c9e" stroke="#124a80" stroke-width="1"/>
<circle cx="190.0" cy="1024.0" r="4.6" fill="#1a5c9e" stroke="#124a80" stroke-width="1"/>
<circle cx="215.0" cy="1028.0" r="4.6" fill="#1a5c9e" stroke="#124a80" stroke-width="1"/>
<circle cx="198.0" cy="1030.0" r="4.6" fill="#1a5c9e" stroke="#124a80" stroke-width="1"/>
<circle cx="210.0" cy="1031.0" r="4.6" fill="#1a5c9e" stroke="#124a80" stroke-width="1"/>
<circle cx="186.0" cy="1014.0" r="4.6" fill="#1a5c9e" stroke="#124a80" stroke-width="1"/>
<circle cx="230.0" cy="1010.0" r="4.6" fill="#1a5c9e" stroke="#124a80" stroke-width="1"/>
<circle cx="205.0" cy="1180.0" r="4.6" fill="#1a5c9e" stroke="#124a80" stroke-width="1"/>
<rect x="268.4" y="993.4" width="20" height="20.2" fill="#b01c22" stroke="#000" stroke-width="2.5"/>
<rect x="268.4" y="1055.5" width="20" height="20" fill="#2e38a0" stroke="#000" stroke-width="2.5"/>
<text x="371.0" y="995.9" font-size="20" text-anchor="middle" font-weight="bold" font-style="normal" fill="#000" stroke="#000" stroke-width="0.28" >ONC + Vehicle v</text>
<text x="374.0" y="1020.0" font-size="20" text-anchor="middle" font-weight="bold" font-style="normal" fill="#000" stroke="#000" stroke-width="0.28" >Naive + Vehicle</text>
<text x="365.5" y="1060.0" font-size="20" text-anchor="middle" font-weight="bold" font-style="normal" fill="#000" stroke="#000" stroke-width="0.28" >ONC + RGFP v</text>
<text x="368.0" y="1083.6" font-size="20" text-anchor="middle" font-weight="bold" font-style="normal" fill="#000" stroke="#000" stroke-width="0.28" >Naive + RGFP</text>
<line x1="636.0" y1="849.0" x2="636.0" y2="1227.0" stroke="#000" stroke-width="3.2" />
<line x1="621.5" y1="849.7" x2="636.0" y2="849.7" stroke="#000" stroke-width="3.2" />
<text x="616.0" y="859.2" font-size="26.5" text-anchor="end" font-weight="bold" font-style="normal" fill="#000" stroke="#000" stroke-width="0.28" >2</text>
<line x1="621.5" y1="943.7" x2="636.0" y2="943.7" stroke="#000" stroke-width="3.2" />
<text x="616.0" y="953.2" font-size="26.5" text-anchor="end" font-weight="bold" font-style="normal" fill="#000" stroke="#000" stroke-width="0.28" >1</text>
<line x1="621.5" y1="1037.7" x2="636.0" y2="1037.7" stroke="#000" stroke-width="3.2" />
<text x="616.0" y="1047.2" font-size="26.5" text-anchor="end" font-weight="bold" font-style="normal" fill="#000" stroke="#000" stroke-width="0.28" >0</text>
<line x1="621.5" y1="1131.7" x2="636.0" y2="1131.7" stroke="#000" stroke-width="3.2" />
<text x="616.0" y="1141.2" font-size="26.5" text-anchor="end" font-weight="bold" font-style="normal" fill="#000" stroke="#000" stroke-width="0.28" >-1</text>
<line x1="621.5" y1="1225.7" x2="636.0" y2="1225.7" stroke="#000" stroke-width="3.2" />
<text x="616.0" y="1235.2" font-size="26.5" text-anchor="end" font-weight="bold" font-style="normal" fill="#000" stroke="#000" stroke-width="0.28" >-2</text>
<text x="699.5" y="842.4" font-size="23.5" text-anchor="middle" font-weight="bold" font-style="normal" fill="#000" stroke="#000" stroke-width="0.28" >N.S.</text>
<text x="0.0" y="0.0" font-size="25" text-anchor="middle" font-weight="bold" font-style="normal" fill="#000" stroke="#000" stroke-width="0.28" transform="translate(527.5,1034) rotate(-90)">Log2FC Bulk RNAseq</text>
<text x="0.0" y="0.0" font-size="24.5" text-anchor="middle" font-weight="bold" font-style="normal" fill="#000" stroke="#000" stroke-width="0.28" transform="translate(567,1033) rotate(-90)">(Naive + RGFP v Naive + Veh.)</text>
<line x1="637.0" y1="1037.7" x2="744.0" y2="1037.7" stroke="#000" stroke-width="2.6" stroke-dasharray="2.6 3.4"/>
<line x1="696.0" y1="985.4" x2="696.0" y2="1026.2" stroke="#000" stroke-width="3" />
<line x1="676.8" y1="985.4" x2="715.0" y2="985.4" stroke="#000" stroke-width="3" />
<line x1="696.0" y1="1047.6" x2="696.0" y2="1088.4" stroke="#000" stroke-width="3" />
<line x1="676.8" y1="1088.4" x2="715.0" y2="1088.4" stroke="#000" stroke-width="3" />
<rect x="659.7" y="1026.2" width="70.5" height="21.4" fill="#b3b3b3" stroke="#000" stroke-width="3"/>
<line x1="659.7" y1="1037.7" x2="730.2" y2="1037.7" stroke="#000" stroke-width="3" />
<circle cx="686.4" cy="873.7" r="5.4" fill="#000"/>
<circle cx="708.1" cy="876.0" r="5.4" fill="#000"/>
<circle cx="686.4" cy="905.4" r="5.4" fill="#000"/>
<circle cx="708.1" cy="910.3" r="5.4" fill="#000"/>
<circle cx="686.4" cy="967.5" r="5.4" fill="#000"/>
<circle cx="708.1" cy="979.0" r="5.4" fill="#000"/>
<circle cx="686.4" cy="985.4" r="5.4" fill="#000"/>
<circle cx="697.0" cy="1098.7" r="5.4" fill="#000"/>
<circle cx="686.4" cy="1117.7" r="5.4" fill="#000"/>
<circle cx="708.1" cy="1117.0" r="5.4" fill="#000"/>
<circle cx="708.1" cy="1129.2" r="5.4" fill="#000"/>
<circle cx="686.4" cy="1153.2" r="5.4" fill="#000"/>
<circle cx="708.1" cy="1164.6" r="5.4" fill="#000"/>
<circle cx="697.0" cy="1196.3" r="5.4" fill="#000"/>
<rect x="865.4" y="825.9" width="364.4" height="36.4" rx="10" ry="10" fill="#fff" stroke="#000" stroke-width="3"/>
<rect x="1247.2" y="825.5" width="364.5" height="37" rx="10" ry="10" fill="#fff" stroke="#000" stroke-width="3"/>
<text x="1048.6" y="855.2" font-size="27" text-anchor="middle" font-weight="bold" font-style="normal" fill="#000" stroke="#000" stroke-width="0.28" >Naive Control + Vehicle</text>
<text x="1430.0" y="854.4" font-size="27" text-anchor="middle" font-weight="bold" font-style="normal" fill="#000" stroke="#000" stroke-width="0.28" >Naive Control + RGFP</text>
<rect x="810.2" y="881.5" width="37.6" height="360.7" rx="11.5" ry="11.5" fill="#fff" stroke="#000" stroke-width="3"/>
<text transform="translate(840.5,1047.8) rotate(-90)" font-size="27.6" font-weight="bold" text-anchor="middle"><tspan fill="#3fbf4a" stroke="#3fbf4a" stroke-width="0.28">BRN3A</tspan><tspan fill="#000" stroke="#000" stroke-width="0.28">/</tspan><tspan fill="#e2231a" stroke="#e2231a" stroke-width="0.28">Beta-3 Tubulin</tspan></text>
<defs><filter id="soft" x="-5%" y="-5%" width="110%" height="110%"><feGaussianBlur stdDeviation="1.1"/></filter><filter id="soft2" x="-5%" y="-5%" width="110%" height="110%"><feGaussianBlur stdDeviation="4"/></filter><clipPath id="clip1"><rect x="861.8" y="874.5" width="368.2" height="368.5"/></clipPath><clipPath id="clip2"><rect x="1245.6" y="874.6" width="368.6" height="368.6"/></clipPath></defs>
<rect x="861.8" y="874.5" width="368.2" height="368.5" fill="#070303"/>
<g clip-path="url(#clip1)"><g filter="url(#soft)">
<path d="M1005.0,881.0 L990.0,930.0 L985.0,956.6 L977.8,977.7" fill="none" stroke="#e3211a" stroke-width="6" stroke-linecap="round" stroke-linejoin="round"/>
<path d="M985.3,977.7 L986.0,1020.0 L985.3,1060.0" fill="none" stroke="#e3211a" stroke-width="3" stroke-linecap="round" stroke-linejoin="round"/>
<path d="M962.7,876.5 L956.6,902.0" fill="none" stroke="#e3211a" stroke-width="3" stroke-linecap="round" stroke-linejoin="round"/>
<path d="M878.0,878.0 L864.5,909.8" fill="none" stroke="#e3211a" stroke-width="5" stroke-linecap="round" stroke-linejoin="round"/>
<path d="M956.6,1023.0 L950.6,1060.0" fill="none" stroke="#e3211a" stroke-width="3" stroke-linecap="round" stroke-linejoin="round"/>
<path d="M1103.6,875.0 L1096.9,932.4 L1095.3,977.7 L1089.3,1007.9 L1077.2,1060.0" fill="none" stroke="#e3211a" stroke-width="6" stroke-linecap="round" stroke-linejoin="round"/>
<path d="M1192.7,899.2 L1172.4,932.4 L1158.8,965.6 L1149.7,982.2 L1134.6,1007.9 L1122.5,1038.1 L1108.9,1060.0" fill="none" stroke="#e3211a" stroke-width="4" stroke-linecap="round" stroke-linejoin="round"/>
<path d="M1210.0,875.0 L1202.6,885.6" fill="none" stroke="#e3211a" stroke-width="4" stroke-linecap="round" stroke-linejoin="round"/>
<path d="M1063.0,945.0 L1065.0,975.0 L1062.0,1000.0" fill="none" stroke="#e3211a" stroke-width="3" stroke-linecap="round" stroke-linejoin="round"/>
<path d="M950.6,1056.0 L955.1,1069.6 L950.6,1083.2" fill="none" stroke="#e3211a" stroke-width="3" stroke-linecap="round" stroke-linejoin="round"/>
<path d="M914.4,1086.2 L915.9,1113.4" fill="none" stroke="#e3211a" stroke-width="2.5" stroke-linecap="round" stroke-linejoin="round"/>
<path d="M988.4,1056.0 L992.9,1074.1 L985.3,1093.8 L979.3,1113.4" fill="none" stroke="#e3211a" stroke-width="3" stroke-linecap="round" stroke-linejoin="round"/>
<path d="M1045.7,1161.7 L1036.7,1207.0 L1030.6,1243.3" fill="none" stroke="#e3211a" stroke-width="3" stroke-linecap="round" stroke-linejoin="round"/>
<path d="M941.5,1207.0 L931.0,1243.3" fill="none" stroke="#e3211a" stroke-width="3" stroke-linecap="round" stroke-linejoin="round"/>
<path d="M905.3,1161.7 L896.2,1191.9" fill="none" stroke="#e3211a" stroke-width="3" stroke-linecap="round" stroke-linejoin="round"/>
<path d="M1068.2,1056.0 L1069.7,1101.3 L1063.6,1146.6 L1053.0,1176.8 L1054.6,1244.0" fill="none" stroke="#e3211a" stroke-width="5" stroke-linecap="round" stroke-linejoin="round"/>
<path d="M1044.0,1161.7 L1048.5,1222.0" fill="none" stroke="#e3211a" stroke-width="4" stroke-linecap="round" stroke-linejoin="round"/>
<path d="M1228.2,1098.3 L1225.2,1131.5 L1222.2,1176.8 L1219.2,1222.1 L1214.6,1244.0" fill="none" stroke="#e3211a" stroke-width="7" stroke-linecap="round" stroke-linejoin="round"/>
<path d="M1164.8,1131.5 L1187.5,1161.7 L1195.0,1169.3" fill="none" stroke="#e3211a" stroke-width="4" stroke-linecap="round" stroke-linejoin="round"/>
<path d="M879.6,906.7 L858.1,898.2" stroke="#e3211a" stroke-width="2.9" stroke-linecap="round"/>
<path d="M929.5,894.7 L917.4,887.3" stroke="#e3211a" stroke-width="3.0" stroke-linecap="round"/>
<path d="M928.0,937.0 L923.7,949.4" stroke="#e3211a" stroke-width="3.6" stroke-linecap="round"/>
<path d="M936.3,959.6 L959.7,957.0" stroke="#e3211a" stroke-width="3.3" stroke-linecap="round"/>
<path d="M983.0,910.5 L1001.3,912.2" stroke="#e3211a" stroke-width="2.1" stroke-linecap="round"/>
<path d="M982.3,927.9 L982.9,940.2" stroke="#e3211a" stroke-width="2.9" stroke-linecap="round"/>
<path d="M968.7,953.5 L978.7,938.3" stroke="#e3211a" stroke-width="3.3" stroke-linecap="round"/>
<path d="M1031.4,906.0 L1022.3,891.1" stroke="#e3211a" stroke-width="2.6" stroke-linecap="round"/>
<path d="M866.0,977.7 L868.0,993.0" stroke="#e3211a" stroke-width="2.1" stroke-linecap="round"/>
<path d="M931.0,986.8 L940.5,973.1" stroke="#e3211a" stroke-width="3.9" stroke-linecap="round"/>
<path d="M935.5,1003.4 L941.2,1025.6" stroke="#e3211a" stroke-width="2.9" stroke-linecap="round"/>
<path d="M964.2,1004.9 L981.7,1013.6" stroke="#e3211a" stroke-width="3.6" stroke-linecap="round"/>
<path d="M949.1,1023.0 L962.8,1031.3" stroke="#e3211a" stroke-width="3.9" stroke-linecap="round"/>
<path d="M1017.0,974.7 L1017.3,987.9" stroke="#e3211a" stroke-width="2.1" stroke-linecap="round"/>
<path d="M1041.2,976.2 L1025.0,969.9" stroke="#e3211a" stroke-width="2.4" stroke-linecap="round"/>
<path d="M1041.2,1000.4 L1032.9,989.9" stroke="#e3211a" stroke-width="2.8" stroke-linecap="round"/>
<path d="M1009.5,1021.5 L1006.6,1045.0" stroke="#e3211a" stroke-width="3.6" stroke-linecap="round"/>
<path d="M893.2,1030.6 L904.1,1021.0" stroke="#e3211a" stroke-width="2.8" stroke-linecap="round"/>
<path d="M876.6,1056.2 L891.1,1055.2" stroke="#e3211a" stroke-width="2.5" stroke-linecap="round"/>
<path d="M974.8,1044.2 L971.1,1056.5" stroke="#e3211a" stroke-width="2.2" stroke-linecap="round"/>
<path d="M931.0,1053.2 L917.8,1043.4" stroke="#e3211a" stroke-width="2.9" stroke-linecap="round"/>
<path d="M864.5,878.0 L844.5,867.9" stroke="#e3211a" stroke-width="2.4" stroke-linecap="round"/>
<path d="M863.0,900.7 L881.3,888.8" stroke="#e3211a" stroke-width="2.5" stroke-linecap="round"/>
<path d="M1078.7,886.3 L1077.2,863.1" stroke="#e3211a" stroke-width="2.4" stroke-linecap="round"/>
<path d="M1081.8,940.0 L1091.7,947.6" stroke="#e3211a" stroke-width="3.9" stroke-linecap="round"/>
<path d="M1068.9,950.5 L1064.7,936.0" stroke="#e3211a" stroke-width="3.6" stroke-linecap="round"/>
<path d="M1047.0,974.7 L1056.3,993.1" stroke="#e3211a" stroke-width="2.1" stroke-linecap="round"/>
<path d="M1081.0,992.8 L1060.3,984.7" stroke="#e3211a" stroke-width="3.2" stroke-linecap="round"/>
<path d="M1053.0,1017.0 L1065.5,1009.8" stroke="#e3211a" stroke-width="2.0" stroke-linecap="round"/>
<path d="M1074.2,1024.5 L1062.2,1028.8" stroke="#e3211a" stroke-width="2.4" stroke-linecap="round"/>
<path d="M1053.0,1041.1 L1040.8,1035.2" stroke="#e3211a" stroke-width="2.7" stroke-linecap="round"/>
<path d="M1198.0,893.9 L1209.9,896.6" stroke="#e3211a" stroke-width="3.8" stroke-linecap="round"/>
<path d="M1186.0,925.6 L1174.3,912.2" stroke="#e3211a" stroke-width="3.5" stroke-linecap="round"/>
<path d="M1176.9,943.0 L1189.8,942.9" stroke="#e3211a" stroke-width="3.1" stroke-linecap="round"/>
<path d="M1176.9,1020.0 L1167.9,999.1" stroke="#e3211a" stroke-width="3.7" stroke-linecap="round"/>
<path d="M1193.5,1021.5 L1199.1,999.9" stroke="#e3211a" stroke-width="3.1" stroke-linecap="round"/>
<path d="M1226.7,1027.5 L1209.9,1017.9" stroke="#e3211a" stroke-width="2.2" stroke-linecap="round"/>
<path d="M880.4,1062.0 L878.6,1043.1" stroke="#e3211a" stroke-width="2.9" stroke-linecap="round"/>
<path d="M910.6,1068.8 L910.6,1056.4" stroke="#e3211a" stroke-width="3.2" stroke-linecap="round"/>
<path d="M944.6,1068.1 L947.1,1088.3" stroke="#e3211a" stroke-width="3.0" stroke-linecap="round"/>
<path d="M949.1,1103.6 L964.7,1104.7" stroke="#e3211a" stroke-width="3.4" stroke-linecap="round"/>
<path d="M914.4,1126.2 L925.5,1146.2" stroke="#e3211a" stroke-width="3.3" stroke-linecap="round"/>
<path d="M957.4,1121.0 L969.8,1111.0" stroke="#e3211a" stroke-width="3.3" stroke-linecap="round"/>
<path d="M869.0,1115.6 L849.3,1124.7" stroke="#e3211a" stroke-width="3.8" stroke-linecap="round"/>
<path d="M944.6,1134.5 L930.9,1126.6" stroke="#e3211a" stroke-width="2.3" stroke-linecap="round"/>
<path d="M882.7,1150.4 L894.2,1131.5" stroke="#e3211a" stroke-width="3.4" stroke-linecap="round"/>
<path d="M867.6,1152.6 L876.1,1167.8" stroke="#e3211a" stroke-width="2.6" stroke-linecap="round"/>
<path d="M866.0,1171.5 L849.3,1181.5" stroke="#e3211a" stroke-width="3.0" stroke-linecap="round"/>
<path d="M946.1,1152.6 L958.7,1132.4" stroke="#e3211a" stroke-width="2.9" stroke-linecap="round"/>
<path d="M921.9,1170.0 L943.9,1174.4" stroke="#e3211a" stroke-width="2.1" stroke-linecap="round"/>
<path d="M965.7,1176.8 L968.9,1165.0" stroke="#e3211a" stroke-width="2.3" stroke-linecap="round"/>
<path d="M959.7,1194.9 L981.4,1198.3" stroke="#e3211a" stroke-width="2.5" stroke-linecap="round"/>
<path d="M944.6,1185.9 L963.3,1191.6" stroke="#e3211a" stroke-width="2.9" stroke-linecap="round"/>
<path d="M934.0,1231.2 L920.0,1233.4" stroke="#e3211a" stroke-width="2.0" stroke-linecap="round"/>
<path d="M991.4,1105.8 L988.2,1092.0" stroke="#e3211a" stroke-width="2.5" stroke-linecap="round"/>
<path d="M992.9,1154.2 L987.0,1136.9" stroke="#e3211a" stroke-width="3.2" stroke-linecap="round"/>
<path d="M1020.0,1078.7 L1026.0,1056.6" stroke="#e3211a" stroke-width="2.2" stroke-linecap="round"/>
<path d="M1039.7,1115.6 L1021.0,1121.2" stroke="#e3211a" stroke-width="3.8" stroke-linecap="round"/>
<path d="M1008.7,1128.5 L988.2,1119.1" stroke="#e3211a" stroke-width="3.6" stroke-linecap="round"/>
<path d="M1042.7,1136.0 L1034.3,1124.2" stroke="#e3211a" stroke-width="3.4" stroke-linecap="round"/>
<path d="M980.8,1216.0 L1000.0,1202.0" stroke="#e3211a" stroke-width="4.0" stroke-linecap="round"/>
<path d="M1002.0,1213.8 L1006.0,1198.5" stroke="#e3211a" stroke-width="3.8" stroke-linecap="round"/>
<path d="M977.8,1234.2 L992.8,1242.8" stroke="#e3211a" stroke-width="3.1" stroke-linecap="round"/>
<path d="M1083.3,1080.2 L1104.7,1084.1" stroke="#e3211a" stroke-width="2.1" stroke-linecap="round"/>
<path d="M1099.9,1091.5 L1089.0,1110.0" stroke="#e3211a" stroke-width="2.3" stroke-linecap="round"/>
<path d="M1115.7,1101.3 L1095.1,1099.2" stroke="#e3211a" stroke-width="3.7" stroke-linecap="round"/>
<path d="M1047.0,1136.0 L1059.4,1131.9" stroke="#e3211a" stroke-width="2.4" stroke-linecap="round"/>
<path d="M1090.8,1127.0 L1085.6,1147.1" stroke="#e3211a" stroke-width="3.3" stroke-linecap="round"/>
<path d="M1108.2,1119.4 L1118.6,1103.8" stroke="#e3211a" stroke-width="2.6" stroke-linecap="round"/>
<path d="M1131.6,1114.9 L1144.4,1096.1" stroke="#e3211a" stroke-width="2.4" stroke-linecap="round"/>
<path d="M1189.7,1100.5 L1176.8,1094.1" stroke="#e3211a" stroke-width="3.1" stroke-linecap="round"/>
<path d="M1167.8,1108.9 L1158.1,1101.3" stroke="#e3211a" stroke-width="3.9" stroke-linecap="round"/>
<path d="M1189.7,1119.4 L1172.2,1132.0" stroke="#e3211a" stroke-width="3.1" stroke-linecap="round"/>
<path d="M1207.1,1071.1 L1202.5,1059.2" stroke="#e3211a" stroke-width="3.1" stroke-linecap="round"/>
<path d="M1219.2,1096.8 L1241.4,1090.6" stroke="#e3211a" stroke-width="2.5" stroke-linecap="round"/>
<path d="M1172.4,1072.6 L1184.4,1084.9" stroke="#e3211a" stroke-width="3.6" stroke-linecap="round"/>
<path d="M1088.5,1170.8 L1082.6,1183.8" stroke="#e3211a" stroke-width="3.2" stroke-linecap="round"/>
<path d="M1101.4,1188.9 L1103.6,1176.8" stroke="#e3211a" stroke-width="2.4" stroke-linecap="round"/>
<path d="M1131.6,1184.4 L1125.5,1169.8" stroke="#e3211a" stroke-width="2.7" stroke-linecap="round"/>
<path d="M1210.1,1172.3 L1208.5,1158.9" stroke="#e3211a" stroke-width="3.0" stroke-linecap="round"/>
<path d="M1181.4,1188.9 L1187.3,1206.3" stroke="#e3211a" stroke-width="2.9" stroke-linecap="round"/>
<path d="M1206.3,1193.4 L1190.6,1202.9" stroke="#e3211a" stroke-width="2.3" stroke-linecap="round"/>
<path d="M1182.9,1207.0 L1169.6,1192.6" stroke="#e3211a" stroke-width="3.1" stroke-linecap="round"/>
<path d="M1202.6,1232.7 L1201.3,1211.0" stroke="#e3211a" stroke-width="3.8" stroke-linecap="round"/>
<path d="M1224.5,1235.7 L1215.3,1256.9" stroke="#e3211a" stroke-width="2.4" stroke-linecap="round"/>
<path d="M882.5,898.2 Q887.1,896.4 888.7,899.7 Q890.3,903.0 889.3,907.2 Q888.3,911.4 888.4,914.8 Q888.6,918.2 882.4,920.1 Q876.2,922.0 874.8,919.4 Q873.5,916.8 871.5,912.0 Q869.6,907.1 871.9,904.4 Q874.2,901.8 876.1,900.9 Q877.9,900.0 882.5,898.2Z" fill="#e3211a" />
<ellipse cx="872.0" cy="904.1" rx="7.3" ry="4.4" fill="#e3211a" transform="rotate(199 872.0 904.1)"/>
<ellipse cx="879.6" cy="906.7" rx="7.7" ry="8.2" fill="#2ea84c"/>
<path d="M939.8,886.3 Q943.9,887.6 943.0,891.5 Q942.0,895.3 939.2,898.4 Q936.4,901.5 932.8,900.5 Q929.3,899.6 924.5,899.4 Q919.8,899.2 920.0,896.0 Q920.3,892.7 922.2,888.2 Q924.2,883.8 926.6,883.3 Q929.1,882.9 932.4,883.9 Q935.8,885.0 939.8,886.3Z" fill="#e3211a" />
<ellipse cx="929.5" cy="894.7" rx="8.3" ry="8.8" fill="#217034"/>
<path d="M920.2,904.4 Q922.6,907.8 922.5,912.8 Q922.4,917.8 918.3,920.3 Q914.2,922.8 909.9,922.7 Q905.7,922.5 901.8,917.3 Q897.8,912.0 897.7,907.3 Q897.5,902.6 900.0,899.4 Q902.5,896.2 906.4,896.1 Q910.3,896.1 914.1,898.5 Q917.8,901.0 920.2,904.4Z" fill="#e3211a" />
<ellipse cx="909.8" cy="909.8" rx="7" ry="8" fill="#2a1a0c"/>
<path d="M911.7,919.2 Q913.3,915.3 917.9,914.8 Q922.5,914.2 926.7,914.9 Q930.9,915.6 931.8,920.9 Q932.8,926.2 931.5,931.0 Q930.3,935.9 927.4,936.3 Q924.5,936.7 919.6,935.0 Q914.6,933.3 913.6,931.0 Q912.6,928.6 911.3,925.9 Q910.0,923.2 911.7,919.2Z" fill="#e3211a" />
<ellipse cx="921.8" cy="932.9" rx="7.2" ry="5.5" fill="#e3211a" transform="rotate(90 921.8 932.9)"/>
<ellipse cx="921.9" cy="923.3" rx="8.5" ry="8.7" fill="#3fcb5e"/>
<path d="M925.7,925.1 Q929.0,922.8 933.1,925.4 Q937.2,927.9 939.4,931.0 Q941.7,934.1 939.6,938.0 Q937.5,941.8 934.7,944.7 Q932.0,947.6 929.0,947.7 Q925.9,947.8 924.1,944.8 Q922.2,941.8 920.9,937.7 Q919.6,933.5 921.0,930.5 Q922.3,927.4 925.7,925.1Z" fill="#e3211a" />
<ellipse cx="935.0" cy="937.6" rx="5.2" ry="4.5" fill="#e3211a" transform="rotate(5 935.0 937.6)"/>
<ellipse cx="928.0" cy="937.0" rx="8.3" ry="8.5" fill="#2ea84c"/>
<path d="M959.0,945.1 Q958.1,950.6 956.6,954.1 Q955.2,957.6 951.1,956.6 Q947.1,955.6 942.2,952.5 Q937.3,949.4 935.9,946.1 Q934.5,942.7 938.3,938.6 Q942.0,934.4 944.3,933.3 Q946.6,932.2 950.6,934.4 Q954.7,936.5 957.2,938.0 Q959.8,939.5 959.0,945.1Z" fill="#e3211a" />
<ellipse cx="938.7" cy="949.0" rx="6.8" ry="4.8" fill="#e3211a" transform="rotate(159 938.7 949.0)"/>
<ellipse cx="946.8" cy="946.0" rx="8.1" ry="8.5" fill="#217034"/>
<path d="M942.2,967.2 Q940.2,972.1 934.0,969.5 Q927.7,967.0 927.1,963.6 Q926.5,960.3 926.0,955.4 Q925.6,950.6 928.6,947.6 Q931.7,944.6 936.1,946.1 Q940.5,947.7 944.8,947.2 Q949.0,946.8 950.3,954.0 Q951.5,961.1 947.9,961.7 Q944.2,962.4 942.2,967.2Z" fill="#e3211a" />
<ellipse cx="928.7" cy="963.4" rx="5.4" ry="5.6" fill="#e3211a" transform="rotate(153 928.7 963.4)"/>
<ellipse cx="936.3" cy="959.6" rx="7.6" ry="8.1" fill="#2ea84c"/>
<path d="M956.7,923.6 Q953.4,925.9 949.1,923.2 Q944.7,920.5 941.4,920.7 Q938.1,920.8 937.5,915.0 Q936.9,909.2 939.6,907.2 Q942.3,905.2 945.9,902.6 Q949.5,899.9 953.7,902.1 Q957.9,904.3 958.7,909.5 Q959.6,914.7 959.7,918.0 Q959.9,921.3 956.7,923.6Z" fill="#e3211a" />
<ellipse cx="950.6" cy="915.8" rx="7.9" ry="8.4" fill="#217034"/>
<path d="M976.9,916.0 Q976.5,912.6 978.1,909.9 Q979.8,907.2 980.6,904.5 Q981.4,901.7 984.7,902.6 Q988.1,903.4 992.3,905.9 Q996.6,908.3 995.2,911.0 Q993.8,913.7 993.4,917.7 Q993.1,921.6 989.3,921.0 Q985.5,920.4 981.4,920.0 Q977.4,919.5 976.9,916.0Z" fill="#e3211a" />
<ellipse cx="983.0" cy="910.5" rx="8.4" ry="9.1" fill="#3fcb5e"/>
<path d="M985.4,924.3 Q988.5,926.7 988.9,929.1 Q989.3,931.4 987.4,934.4 Q985.6,937.3 982.2,937.7 Q978.8,938.0 974.3,937.9 Q969.8,937.8 968.0,933.7 Q966.2,929.7 969.3,926.7 Q972.4,923.6 975.0,919.7 Q977.6,915.7 980.0,918.7 Q982.3,921.8 985.4,924.3Z" fill="#e3211a" />
<ellipse cx="974.3" cy="925.6" rx="8.9" ry="6.0" fill="#e3211a" transform="rotate(196 974.3 925.6)"/>
<ellipse cx="982.3" cy="927.9" rx="8.3" ry="8.1" fill="#217034"/>
<path d="M971.6,943.0 Q973.6,944.5 975.7,948.1 Q977.7,951.7 974.8,955.4 Q971.8,959.1 970.1,961.8 Q968.4,964.5 963.7,963.6 Q958.9,962.7 957.9,959.2 Q956.8,955.7 956.5,950.9 Q956.2,946.1 958.6,944.5 Q961.0,943.0 965.3,942.2 Q969.5,941.4 971.6,943.0Z" fill="#e3211a" />
<ellipse cx="968.7" cy="953.5" rx="7.9" ry="9.0" fill="#3fcb5e"/>
<path d="M1038.2,897.9 Q1041.8,900.7 1042.0,905.5 Q1042.2,910.3 1038.6,911.9 Q1035.0,913.5 1031.6,915.2 Q1028.2,917.0 1023.9,912.4 Q1019.6,907.8 1019.7,905.7 Q1019.9,903.7 1021.0,899.9 Q1022.1,896.0 1026.4,895.2 Q1030.7,894.4 1032.6,894.8 Q1034.5,895.2 1038.2,897.9Z" fill="#e3211a" />
<ellipse cx="1031.4" cy="906.0" rx="8.3" ry="8.2" fill="#3fcb5e"/>
<path d="M1028.5,928.9 Q1027.2,930.9 1024.7,935.2 Q1022.2,939.6 1017.0,937.1 Q1011.9,934.6 1009.7,932.6 Q1007.4,930.5 1005.0,926.2 Q1002.5,921.9 1006.1,917.8 Q1009.8,913.7 1015.6,913.0 Q1021.5,912.3 1025.3,912.7 Q1029.2,913.0 1029.5,919.9 Q1029.8,926.8 1028.5,928.9Z" fill="#e3211a" />
<ellipse cx="1015.5" cy="924.1" rx="7" ry="8" fill="#2a1a0c"/>
<path d="M1043.6,933.7 Q1046.5,936.9 1046.7,940.0 Q1046.8,943.1 1045.6,947.0 Q1044.5,950.9 1039.3,949.4 Q1034.1,948.0 1031.8,947.7 Q1029.5,947.4 1026.4,943.4 Q1023.4,939.4 1025.8,935.0 Q1028.3,930.5 1031.1,930.6 Q1033.9,930.6 1037.3,930.6 Q1040.7,930.6 1043.6,933.7Z" fill="#e3211a" />
<ellipse cx="1039.7" cy="940.0" rx="8.0" ry="8.8" fill="#3fcb5e"/>
<path d="M894.1,952.4 Q896.4,958.3 892.5,960.5 Q888.7,962.7 887.5,965.6 Q886.3,968.6 882.7,967.6 Q879.2,966.7 874.5,964.0 Q869.9,961.4 870.3,956.4 Q870.7,951.4 873.3,948.6 Q875.9,945.8 880.5,944.3 Q885.2,942.8 888.5,944.7 Q891.8,946.6 894.1,952.4Z" fill="#e3211a" />
<ellipse cx="873.3" cy="954.4" rx="5.6" ry="6.5" fill="#e3211a" transform="rotate(196 873.3 954.4)"/>
<ellipse cx="881.1" cy="956.6" rx="7.8" ry="8.4" fill="#2ea84c"/>
<path d="M873.5,964.0 Q875.1,961.9 880.0,959.4 Q885.0,956.9 888.6,961.4 Q892.3,965.8 891.9,968.1 Q891.5,970.5 889.1,974.7 Q886.8,978.9 883.9,980.7 Q881.0,982.5 877.6,983.6 Q874.2,984.7 872.7,978.4 Q871.3,972.1 871.6,969.1 Q872.0,966.1 873.5,964.0Z" fill="#e3211a" />
<ellipse cx="871.9" cy="968.4" rx="6.3" ry="5.2" fill="#e3211a" transform="rotate(194 871.9 968.4)"/>
<ellipse cx="878.9" cy="970.2" rx="8.2" ry="8.3" fill="#2ea84c"/>
<path d="M858.0,968.6 Q863.3,965.1 867.0,968.0 Q870.7,970.9 875.2,972.2 Q879.7,973.5 878.1,979.3 Q876.6,985.1 875.9,989.6 Q875.3,994.0 870.0,992.1 Q864.7,990.2 862.2,989.1 Q859.6,988.0 857.1,985.1 Q854.6,982.3 853.6,977.2 Q852.7,972.1 858.0,968.6Z" fill="#e3211a" />
<ellipse cx="866.0" cy="977.7" rx="7" ry="8" fill="#2a1a0c"/>
<path d="M902.4,983.5 Q900.1,980.3 898.4,977.1 Q896.8,974.0 896.7,966.7 Q896.6,959.5 902.2,958.1 Q907.9,956.7 910.9,960.0 Q914.0,963.2 917.0,964.7 Q920.0,966.2 919.2,970.7 Q918.5,975.2 917.5,978.8 Q916.5,982.5 910.6,984.6 Q904.8,986.7 902.4,983.5Z" fill="#e3211a" />
<ellipse cx="911.3" cy="970.2" rx="7" ry="8" fill="#2a1a0c"/>
<path d="M926.1,995.0 Q923.9,993.2 919.0,990.6 Q914.1,987.9 915.8,983.6 Q917.4,979.3 922.2,977.7 Q927.0,976.1 931.3,975.0 Q935.6,974.0 936.1,976.9 Q936.6,979.8 939.4,982.8 Q942.3,985.9 939.4,990.0 Q936.4,994.1 932.4,995.4 Q928.3,996.7 926.1,995.0Z" fill="#e3211a" />
<ellipse cx="938.0" cy="993.8" rx="5.5" ry="6.7" fill="#e3211a" transform="rotate(45 938.0 993.8)"/>
<ellipse cx="931.0" cy="986.8" rx="8.0" ry="8.7" fill="#3fcb5e"/>
<path d="M877.5,997.2 Q878.1,993.4 882.8,989.1 Q887.4,984.8 892.7,986.2 Q897.9,987.6 900.8,992.8 Q903.7,998.1 903.2,1001.2 Q902.7,1004.3 901.7,1006.7 Q900.6,1009.2 894.1,1013.5 Q887.5,1017.9 885.4,1013.4 Q883.4,1009.0 880.2,1005.0 Q876.9,1001.0 877.5,997.2Z" fill="#e3211a" />
<ellipse cx="894.7" cy="1001.9" rx="7" ry="8" fill="#2a1a0c"/>
<path d="M924.5,1011.7 Q923.7,1008.7 924.7,1004.7 Q925.7,1000.7 927.9,998.5 Q930.1,996.2 933.5,996.0 Q937.0,995.8 938.8,998.6 Q940.7,1001.4 941.4,1004.2 Q942.1,1007.1 940.9,1011.3 Q939.6,1015.4 936.8,1015.6 Q933.9,1015.8 929.6,1015.2 Q925.3,1014.6 924.5,1011.7Z" fill="#e3211a" />
<ellipse cx="935.5" cy="1003.4" rx="8.3" ry="8.6" fill="#217034"/>
<path d="M925.1,1015.4 Q925.7,1010.4 928.3,1008.6 Q930.8,1006.8 935.3,1007.0 Q939.8,1007.3 942.3,1007.3 Q944.8,1007.3 946.7,1013.6 Q948.7,1019.9 946.8,1023.2 Q945.0,1026.6 941.5,1027.8 Q938.0,1029.0 935.0,1027.1 Q932.0,1025.2 928.3,1022.8 Q924.5,1020.4 925.1,1015.4Z" fill="#e3211a" />
<ellipse cx="940.8" cy="1019.8" rx="7.1" ry="4.7" fill="#e3211a" transform="rotate(19 940.8 1019.8)"/>
<ellipse cx="932.5" cy="1017.0" rx="7.8" ry="8.5" fill="#2ea84c"/>
<path d="M970.5,993.7 Q973.8,995.3 975.9,999.2 Q978.1,1003.0 977.6,1009.0 Q977.2,1015.0 974.1,1017.2 Q971.0,1019.4 966.2,1019.1 Q961.4,1018.8 958.8,1014.0 Q956.1,1009.2 954.8,1007.3 Q953.5,1005.4 955.9,1002.6 Q958.2,999.8 962.7,995.9 Q967.1,992.1 970.5,993.7Z" fill="#e3211a" />
<ellipse cx="959.0" cy="1011.4" rx="5.2" ry="4.1" fill="#e3211a" transform="rotate(128 959.0 1011.4)"/>
<ellipse cx="964.2" cy="1004.9" rx="8.4" ry="8.4" fill="#217034"/>
<path d="M946.0,1036.2 Q939.3,1036.3 937.1,1034.3 Q934.9,1032.4 934.5,1027.4 Q934.0,1022.4 934.2,1018.2 Q934.4,1013.9 940.7,1013.6 Q947.0,1013.4 949.5,1014.4 Q951.9,1015.5 953.1,1018.9 Q954.4,1022.3 956.5,1024.7 Q958.6,1027.0 955.6,1031.6 Q952.6,1036.1 946.0,1036.2Z" fill="#e3211a" />
<ellipse cx="949.1" cy="1023.0" rx="8.2" ry="8.2" fill="#2ea84c"/>
<path d="M999.2,1002.8 Q994.0,1000.7 992.2,999.4 Q990.4,998.1 987.9,993.8 Q985.4,989.5 987.6,986.6 Q989.7,983.8 994.7,982.6 Q999.6,981.3 1001.4,983.0 Q1003.2,984.7 1006.5,988.7 Q1009.7,992.7 1009.1,995.2 Q1008.4,997.7 1006.5,1001.3 Q1004.5,1004.9 999.2,1002.8Z" fill="#e3211a" />
<ellipse cx="990.9" cy="994.4" rx="5.2" ry="5.8" fill="#e3211a" transform="rotate(190 990.9 994.4)"/>
<ellipse cx="998.9" cy="995.8" rx="7.8" ry="8.3" fill="#3fcb5e"/>
<path d="M1019.4,982.7 Q1015.7,982.2 1010.2,981.4 Q1004.8,980.6 1005.7,977.9 Q1006.5,975.1 1008.4,970.3 Q1010.2,965.4 1013.9,963.6 Q1017.6,961.7 1019.9,962.0 Q1022.2,962.2 1024.9,966.2 Q1027.6,970.2 1028.7,974.4 Q1029.8,978.6 1026.5,980.9 Q1023.1,983.1 1019.4,982.7Z" fill="#e3211a" />
<ellipse cx="1017.0" cy="974.7" rx="8.2" ry="8.6" fill="#2ea84c"/>
<path d="M1033.3,998.9 Q1029.4,1002.4 1024.2,1000.8 Q1019.1,999.3 1018.2,996.3 Q1017.4,993.3 1017.0,989.4 Q1016.6,985.5 1020.5,983.7 Q1024.4,981.9 1028.0,979.4 Q1031.6,977.0 1035.5,979.3 Q1039.4,981.6 1038.1,985.2 Q1036.8,988.8 1037.1,992.2 Q1037.3,995.5 1033.3,998.9Z" fill="#e3211a" />
<ellipse cx="1019.5" cy="992.3" rx="8.2" ry="4.2" fill="#e3211a" transform="rotate(159 1019.5 992.3)"/>
<ellipse cx="1026.1" cy="989.8" rx="8.4" ry="8.7" fill="#2ea84c"/>
<path d="M1049.8,972.9 Q1049.5,977.6 1046.5,980.3 Q1043.4,983.0 1040.3,983.2 Q1037.2,983.4 1034.3,982.0 Q1031.4,980.6 1030.6,978.8 Q1029.8,976.9 1029.1,972.0 Q1028.3,967.2 1032.7,967.4 Q1037.1,967.6 1039.6,966.9 Q1042.1,966.3 1046.0,967.3 Q1050.0,968.2 1049.8,972.9Z" fill="#e3211a" />
<ellipse cx="1032.2" cy="976.8" rx="8.9" ry="4.4" fill="#e3211a" transform="rotate(176 1032.2 976.8)"/>
<ellipse cx="1041.2" cy="976.2" rx="8.0" ry="8.9" fill="#2ea84c"/>
<path d="M1033.6,1020.0 Q1029.5,1019.6 1025.3,1020.6 Q1021.0,1021.6 1020.1,1015.0 Q1019.1,1008.4 1021.8,1006.7 Q1024.5,1005.0 1028.0,1003.4 Q1031.6,1001.7 1036.0,1000.8 Q1040.4,999.8 1041.1,1004.2 Q1041.7,1008.6 1041.6,1013.8 Q1041.4,1018.9 1039.6,1019.7 Q1037.7,1020.4 1033.6,1020.0Z" fill="#e3211a" />
<ellipse cx="1029.9" cy="1010.9" rx="7.6" ry="8.4" fill="#3fcb5e"/>
<path d="M1034.9,1005.7 Q1030.6,1003.0 1030.4,999.5 Q1030.3,996.0 1031.4,993.7 Q1032.5,991.4 1035.7,989.7 Q1038.9,987.9 1041.5,988.2 Q1044.2,988.4 1047.1,991.1 Q1050.1,993.9 1052.3,998.3 Q1054.6,1002.7 1050.4,1006.6 Q1046.1,1010.6 1042.7,1009.5 Q1039.2,1008.4 1034.9,1005.7Z" fill="#e3211a" />
<ellipse cx="1038.5" cy="993.4" rx="6.1" ry="4.1" fill="#e3211a" transform="rotate(249 1038.5 993.4)"/>
<ellipse cx="1041.2" cy="1000.4" rx="7.7" ry="8.3" fill="#217034"/>
<path d="M1014.4,1029.4 Q1011.8,1034.3 1007.9,1036.1 Q1004.0,1037.9 1001.7,1033.4 Q999.4,1028.9 997.2,1027.2 Q995.0,1025.4 993.8,1021.1 Q992.6,1016.7 997.3,1013.1 Q1002.1,1009.4 1006.5,1012.2 Q1011.0,1015.1 1013.8,1016.9 Q1016.5,1018.6 1016.8,1021.5 Q1017.0,1024.4 1014.4,1029.4Z" fill="#e3211a" />
<ellipse cx="1009.5" cy="1021.5" rx="7" ry="8" fill="#2a1a0c"/>
<path d="M900.7,1033.3 Q897.5,1037.4 894.3,1039.6 Q891.0,1041.9 889.1,1039.7 Q887.2,1037.6 883.5,1035.4 Q879.9,1033.2 881.3,1029.1 Q882.7,1025.1 886.3,1022.9 Q889.9,1020.7 892.1,1020.3 Q894.4,1019.9 896.3,1022.4 Q898.3,1024.8 901.1,1027.1 Q903.9,1029.3 900.7,1033.3Z" fill="#e3211a" />
<ellipse cx="896.8" cy="1021.4" rx="6.2" ry="6.0" fill="#e3211a" transform="rotate(291 896.8 1021.4)"/>
<ellipse cx="893.2" cy="1030.6" rx="8.4" ry="8.3" fill="#3fcb5e"/>
<path d="M906.9,1031.3 Q907.1,1028.2 911.3,1027.3 Q915.6,1026.4 919.1,1026.4 Q922.7,1026.4 924.7,1029.8 Q926.8,1033.2 927.0,1036.3 Q927.2,1039.4 923.7,1042.0 Q920.2,1044.5 916.4,1044.8 Q912.5,1045.1 910.3,1044.0 Q908.0,1042.9 907.3,1038.7 Q906.7,1034.5 906.9,1031.3Z" fill="#e3211a" />
<ellipse cx="914.9" cy="1030.3" rx="7.8" ry="4.1" fill="#e3211a" transform="rotate(252 914.9 1030.3)"/>
<ellipse cx="917.4" cy="1038.1" rx="7.9" ry="8.4" fill="#2ea84c"/>
<path d="M894.6,1058.2 Q894.0,1055.0 893.7,1052.3 Q893.5,1049.5 897.0,1045.5 Q900.5,1041.5 903.1,1041.2 Q905.7,1040.9 908.5,1043.4 Q911.3,1045.9 913.9,1050.6 Q916.5,1055.3 913.7,1058.0 Q910.9,1060.7 905.9,1062.9 Q901.0,1065.1 898.1,1063.2 Q895.1,1061.3 894.6,1058.2Z" fill="#e3211a" />
<ellipse cx="894.7" cy="1055.3" rx="8.3" ry="6.6" fill="#e3211a" transform="rotate(150 894.7 1055.3)"/>
<ellipse cx="900.8" cy="1051.7" rx="7.9" ry="9.1" fill="#2ea84c"/>
<path d="M885.8,1051.3 Q887.1,1054.1 888.3,1058.0 Q889.5,1062.0 885.5,1062.9 Q881.6,1063.8 877.9,1065.0 Q874.3,1066.3 871.7,1064.6 Q869.1,1062.9 868.2,1058.3 Q867.2,1053.6 869.4,1050.4 Q871.6,1047.2 876.1,1044.8 Q880.6,1042.5 882.6,1045.5 Q884.6,1048.6 885.8,1051.3Z" fill="#e3211a" />
<ellipse cx="876.6" cy="1056.2" rx="7.8" ry="8.9" fill="#2ea84c"/>
<path d="M933.1,1034.5 Q934.4,1029.6 938.2,1028.7 Q941.9,1027.8 946.8,1028.3 Q951.6,1028.7 952.4,1031.6 Q953.3,1034.4 953.1,1038.1 Q952.9,1041.7 950.4,1044.3 Q947.8,1047.0 945.4,1047.2 Q943.0,1047.5 938.5,1047.8 Q934.0,1048.2 932.9,1043.8 Q931.8,1039.5 933.1,1034.5Z" fill="#e3211a" />
<ellipse cx="944.6" cy="1041.1" rx="8.0" ry="8.2" fill="#217034"/>
<path d="M975.9,1030.7 Q979.9,1030.1 983.1,1032.2 Q986.3,1034.2 986.4,1038.2 Q986.5,1042.2 985.6,1047.1 Q984.7,1052.0 980.4,1052.4 Q976.1,1052.8 973.1,1052.2 Q970.1,1051.6 967.3,1047.8 Q964.4,1044.1 967.3,1040.7 Q970.1,1037.2 971.0,1034.2 Q971.8,1031.3 975.9,1030.7Z" fill="#e3211a" />
<ellipse cx="977.2" cy="1049.8" rx="7.3" ry="6.8" fill="#e3211a" transform="rotate(66 977.2 1049.8)"/>
<ellipse cx="974.8" cy="1044.2" rx="8.5" ry="8.2" fill="#2ea84c"/>
<path d="M1028.7,1035.7 Q1031.8,1038.4 1028.9,1042.4 Q1026.0,1046.3 1024.3,1051.1 Q1022.5,1056.0 1017.1,1053.0 Q1011.7,1050.0 1010.6,1048.2 Q1009.5,1046.4 1007.5,1042.3 Q1005.5,1038.3 1008.1,1035.6 Q1010.8,1032.9 1016.0,1029.9 Q1021.2,1026.9 1023.4,1029.9 Q1025.6,1032.9 1028.7,1035.7Z" fill="#e3211a" />
<ellipse cx="1018.6" cy="1044.2" rx="7" ry="8" fill="#2a1a0c"/>
<path d="M920.0,1051.6 Q920.2,1047.5 921.5,1045.9 Q922.9,1044.3 927.2,1042.9 Q931.6,1041.5 933.5,1043.2 Q935.3,1044.9 936.2,1047.5 Q937.1,1050.1 936.6,1053.5 Q936.1,1056.9 933.4,1059.0 Q930.6,1061.2 927.7,1061.7 Q924.7,1062.1 922.2,1058.9 Q919.7,1055.7 920.0,1051.6Z" fill="#e3211a" />
<ellipse cx="939.8" cy="1057.0" rx="6.2" ry="4.2" fill="#e3211a" transform="rotate(23 939.8 1057.0)"/>
<ellipse cx="931.0" cy="1053.2" rx="7.7" ry="8.6" fill="#217034"/>
<path d="M1005.6,869.1 Q1009.6,869.7 1013.9,870.8 Q1018.3,871.8 1017.5,876.1 Q1016.8,880.3 1015.4,885.4 Q1014.0,890.5 1009.3,889.8 Q1004.6,889.1 1000.8,888.0 Q996.9,886.9 997.9,883.7 Q998.8,880.4 998.7,877.4 Q998.5,874.4 1000.1,871.5 Q1001.6,868.6 1005.6,869.1Z" fill="#e3211a" />
<ellipse cx="1005.0" cy="878.0" rx="7.8" ry="8.6" fill="#c8c030"/>
<path d="M867.6,867.5 Q872.6,866.7 875.3,869.0 Q878.0,871.3 878.4,876.9 Q878.9,882.5 874.6,884.1 Q870.4,885.8 867.3,887.2 Q864.2,888.6 861.8,886.7 Q859.4,884.8 858.9,881.4 Q858.3,878.0 858.4,875.4 Q858.5,872.9 860.6,870.6 Q862.7,868.3 867.6,867.5Z" fill="#e3211a" />
<ellipse cx="864.5" cy="878.0" rx="8.3" ry="8.4" fill="#2ea84c"/>
<path d="M872.1,902.7 Q873.1,905.7 869.9,908.5 Q866.7,911.3 861.4,911.0 Q856.1,910.7 855.2,907.3 Q854.2,903.9 852.6,900.9 Q851.1,898.0 853.8,895.3 Q856.6,892.5 859.4,890.3 Q862.3,888.1 865.7,889.0 Q869.2,889.9 870.1,894.8 Q871.1,899.7 872.1,902.7Z" fill="#e3211a" />
<ellipse cx="863.0" cy="900.7" rx="7.8" ry="8.9" fill="#2ea84c"/>
<path d="M1074.5,896.5 Q1073.0,893.0 1070.7,890.6 Q1068.3,888.1 1072.0,883.8 Q1075.7,879.6 1077.6,878.7 Q1079.5,877.8 1083.9,880.1 Q1088.4,882.3 1090.3,884.4 Q1092.2,886.6 1091.0,890.0 Q1089.9,893.4 1088.2,897.8 Q1086.5,902.2 1081.2,901.1 Q1076.0,900.0 1074.5,896.5Z" fill="#e3211a" />
<ellipse cx="1072.8" cy="883.6" rx="8.3" ry="6.1" fill="#e3211a" transform="rotate(204 1072.8 883.6)"/>
<ellipse cx="1078.7" cy="886.3" rx="8.0" ry="8.8" fill="#2ea84c"/>
<path d="M1053.6,880.4 Q1052.7,878.7 1054.5,874.0 Q1056.2,869.3 1060.2,866.4 Q1064.1,863.5 1067.0,865.7 Q1069.8,867.8 1073.7,872.4 Q1077.5,876.9 1077.1,879.6 Q1076.7,882.2 1071.9,885.1 Q1067.1,887.9 1064.2,886.7 Q1061.2,885.6 1057.8,883.8 Q1054.5,882.0 1053.6,880.4Z" fill="#e3211a" />
<ellipse cx="1071.3" cy="869.2" rx="8.8" ry="6.5" fill="#e3211a" transform="rotate(302 1071.3 869.2)"/>
<ellipse cx="1066.7" cy="876.5" rx="8.3" ry="8.6" fill="#2ea84c"/>
<path d="M1111.5,897.7 Q1114.6,896.5 1117.2,900.6 Q1119.7,904.6 1121.6,907.0 Q1123.5,909.4 1121.7,912.8 Q1119.9,916.3 1114.5,918.1 Q1109.0,920.0 1105.7,919.9 Q1102.4,919.8 1099.5,914.1 Q1096.5,908.5 1097.2,904.4 Q1097.8,900.3 1103.1,899.6 Q1108.4,898.8 1111.5,897.7Z" fill="#e3211a" />
<ellipse cx="1113.9" cy="911.8" rx="6.4" ry="6.6" fill="#e3211a" transform="rotate(36 1113.9 911.8)"/>
<ellipse cx="1108.9" cy="908.2" rx="8.3" ry="8.1" fill="#2ea84c"/>
<path d="M1124.5,928.1 Q1122.3,933.6 1121.0,937.4 Q1119.7,941.3 1115.3,939.0 Q1110.9,936.8 1107.8,935.1 Q1104.6,933.4 1104.2,931.0 Q1103.7,928.7 1104.3,923.9 Q1104.9,919.1 1108.6,917.2 Q1112.4,915.2 1116.6,917.8 Q1120.7,920.3 1123.7,921.4 Q1126.7,922.6 1124.5,928.1Z" fill="#e3211a" />
<ellipse cx="1118.0" cy="930.3" rx="8.8" ry="5.8" fill="#e3211a" transform="rotate(46 1118.0 930.3)"/>
<ellipse cx="1113.5" cy="925.6" rx="7.9" ry="8.2" fill="#3fcb5e"/>
<path d="M1078.0,949.2 Q1075.3,948.1 1073.2,943.4 Q1071.0,938.7 1073.9,935.3 Q1076.7,932.0 1080.3,928.7 Q1084.0,925.4 1087.9,927.3 Q1091.8,929.1 1093.9,932.5 Q1096.1,936.0 1096.9,940.6 Q1097.7,945.2 1094.5,948.7 Q1091.2,952.2 1085.9,951.3 Q1080.7,950.4 1078.0,949.2Z" fill="#e3211a" />
<ellipse cx="1081.8" cy="940.0" rx="7.9" ry="8.9" fill="#2ea84c"/>
<path d="M1059.8,953.2 Q1057.7,950.9 1056.8,947.6 Q1056.0,944.4 1058.4,942.6 Q1060.8,940.9 1063.9,938.3 Q1067.0,935.7 1070.5,938.6 Q1074.0,941.5 1076.9,944.8 Q1079.8,948.0 1077.3,952.7 Q1074.8,957.4 1071.6,957.3 Q1068.4,957.2 1065.2,956.3 Q1062.0,955.5 1059.8,953.2Z" fill="#e3211a" />
<ellipse cx="1062.6" cy="956.8" rx="7.7" ry="5.0" fill="#e3211a" transform="rotate(135 1062.6 956.8)"/>
<ellipse cx="1068.9" cy="950.5" rx="8.4" ry="9.1" fill="#2ea84c"/>
<path d="M1047.5,953.4 Q1042.7,954.0 1038.5,950.6 Q1034.3,947.2 1036.5,943.1 Q1038.7,939.0 1040.5,935.8 Q1042.4,932.7 1046.4,930.8 Q1050.4,929.0 1052.3,931.6 Q1054.3,934.3 1057.4,937.9 Q1060.4,941.6 1060.7,945.8 Q1061.1,950.1 1056.7,951.5 Q1052.3,952.9 1047.5,953.4Z" fill="#e3211a" />
<ellipse cx="1038.4" cy="948.5" rx="5.3" ry="4.5" fill="#e3211a" transform="rotate(142 1038.4 948.5)"/>
<ellipse cx="1045.5" cy="943.0" rx="8.1" ry="8.7" fill="#2ea84c"/>
<path d="M1056.0,974.9 Q1053.2,978.4 1049.9,983.2 Q1046.5,987.9 1043.8,983.5 Q1041.1,979.0 1038.3,978.0 Q1035.4,977.0 1036.9,973.0 Q1038.5,969.0 1040.9,965.9 Q1043.2,962.8 1046.1,963.2 Q1049.0,963.6 1051.8,965.5 Q1054.5,967.3 1056.7,969.3 Q1058.9,971.4 1056.0,974.9Z" fill="#e3211a" />
<ellipse cx="1048.2" cy="967.8" rx="6.7" ry="4.2" fill="#e3211a" transform="rotate(280 1048.2 967.8)"/>
<ellipse cx="1047.0" cy="974.7" rx="7.7" ry="8.5" fill="#2ea84c"/>
<path d="M1088.2,998.6 Q1083.3,1002.5 1080.7,1003.3 Q1078.0,1004.0 1072.5,1002.2 Q1067.0,1000.4 1068.9,996.6 Q1070.8,992.8 1068.8,989.2 Q1066.8,985.6 1071.8,982.5 Q1076.8,979.3 1079.5,980.1 Q1082.3,980.9 1084.1,983.9 Q1085.9,986.9 1089.4,990.8 Q1093.0,994.8 1088.2,998.6Z" fill="#e3211a" />
<ellipse cx="1081.0" cy="992.8" rx="8.3" ry="8.1" fill="#217034"/>
<path d="M1049.7,1026.8 Q1046.1,1028.2 1042.2,1024.5 Q1038.3,1020.8 1039.9,1017.5 Q1041.5,1014.2 1044.6,1011.4 Q1047.7,1008.6 1050.1,1007.1 Q1052.4,1005.6 1055.3,1008.1 Q1058.3,1010.6 1060.2,1013.9 Q1062.1,1017.2 1061.0,1020.5 Q1060.0,1023.7 1056.6,1024.6 Q1053.3,1025.5 1049.7,1026.8Z" fill="#e3211a" />
<ellipse cx="1053.0" cy="1017.0" rx="7.6" ry="8.6" fill="#3fcb5e"/>
<path d="M1072.2,1032.9 Q1068.5,1032.1 1065.3,1029.8 Q1062.1,1027.6 1062.0,1025.6 Q1062.0,1023.5 1065.3,1020.3 Q1068.7,1017.1 1071.0,1013.7 Q1073.3,1010.3 1076.3,1012.7 Q1079.3,1015.2 1080.3,1018.7 Q1081.2,1022.2 1081.2,1026.3 Q1081.1,1030.4 1078.5,1032.1 Q1075.8,1033.8 1072.2,1032.9Z" fill="#e3211a" />
<ellipse cx="1074.3" cy="1018.3" rx="5.4" ry="4.8" fill="#e3211a" transform="rotate(271 1074.3 1018.3)"/>
<ellipse cx="1074.2" cy="1024.5" rx="7.8" ry="9.0" fill="#217034"/>
<path d="M1060.8,1046.6 Q1060.0,1051.4 1057.0,1051.5 Q1054.0,1051.6 1049.0,1052.8 Q1044.0,1054.0 1043.4,1050.1 Q1042.8,1046.1 1042.6,1043.2 Q1042.4,1040.2 1042.9,1036.8 Q1043.4,1033.4 1047.8,1032.1 Q1052.3,1030.8 1054.7,1030.6 Q1057.1,1030.5 1059.4,1036.2 Q1061.7,1041.9 1060.8,1046.6Z" fill="#e3211a" />
<ellipse cx="1052.4" cy="1033.5" rx="7.7" ry="7.0" fill="#e3211a" transform="rotate(265 1052.4 1033.5)"/>
<ellipse cx="1053.0" cy="1041.1" rx="8.4" ry="8.1" fill="#2ea84c"/>
<path d="M1115.3,967.6 Q1114.2,964.1 1114.6,959.8 Q1115.1,955.5 1114.4,951.9 Q1113.8,948.4 1119.5,947.8 Q1125.2,947.1 1126.9,949.5 Q1128.5,951.8 1133.0,954.4 Q1137.5,957.0 1135.9,962.4 Q1134.3,967.8 1130.4,968.4 Q1126.6,969.1 1121.5,970.1 Q1116.4,971.0 1115.3,967.6Z" fill="#e3211a" />
<ellipse cx="1128.0" cy="955.5" rx="5.1" ry="5.3" fill="#e3211a" transform="rotate(315 1128.0 955.5)"/>
<ellipse cx="1122.5" cy="961.1" rx="7.9" ry="8.8" fill="#217034"/>
<path d="M1127.0,989.7 Q1123.9,993.5 1121.4,995.0 Q1118.9,996.5 1116.2,996.0 Q1113.5,995.6 1109.9,994.0 Q1106.3,992.4 1106.7,988.1 Q1107.1,983.8 1108.6,979.6 Q1110.2,975.3 1114.2,975.2 Q1118.2,975.2 1123.2,976.2 Q1128.1,977.2 1129.1,981.5 Q1130.0,985.9 1127.0,989.7Z" fill="#e3211a" />
<ellipse cx="1114.4" cy="997.2" rx="7.3" ry="4.8" fill="#e3211a" transform="rotate(94 1114.4 997.2)"/>
<ellipse cx="1115.0" cy="988.3" rx="7.6" ry="9.0" fill="#3fcb5e"/>
<path d="M1139.8,993.5 Q1142.1,996.5 1140.7,998.9 Q1139.2,1001.3 1136.1,1003.1 Q1132.9,1004.8 1130.0,1007.2 Q1127.0,1009.6 1124.0,1007.0 Q1121.1,1004.5 1120.3,999.1 Q1119.5,993.7 1122.2,991.7 Q1124.9,989.7 1129.3,986.5 Q1133.7,983.3 1135.6,986.9 Q1137.5,990.6 1139.8,993.5Z" fill="#e3211a" />
<ellipse cx="1133.1" cy="994.3" rx="7.7" ry="8.2" fill="#2ea84c"/>
<path d="M1119.1,1017.9 Q1123.6,1019.8 1125.1,1022.7 Q1126.7,1025.6 1122.8,1029.2 Q1118.8,1032.8 1115.4,1035.5 Q1111.9,1038.2 1109.9,1036.0 Q1107.8,1033.8 1104.9,1032.3 Q1102.1,1030.7 1102.5,1026.5 Q1103.0,1022.3 1105.3,1020.1 Q1107.7,1018.0 1111.2,1016.9 Q1114.6,1015.9 1119.1,1017.9Z" fill="#e3211a" />
<ellipse cx="1113.6" cy="1033.9" rx="8.5" ry="4.5" fill="#e3211a" transform="rotate(100 1113.6 1033.9)"/>
<ellipse cx="1115.0" cy="1026.0" rx="8.4" ry="9.0" fill="#217034"/>
<path d="M1164.5,872.5 Q1167.5,877.8 1170.3,879.8 Q1173.1,881.8 1170.3,886.8 Q1167.5,891.8 1163.4,892.4 Q1159.3,893.0 1154.7,892.6 Q1150.1,892.1 1148.3,886.8 Q1146.6,881.4 1147.9,878.7 Q1149.3,876.0 1150.6,872.1 Q1152.0,868.2 1156.7,867.7 Q1161.4,867.2 1164.5,872.5Z" fill="#e3211a" />
<ellipse cx="1160.3" cy="883.3" rx="7.6" ry="9.1" fill="#2ea84c"/>
<path d="M1203.3,883.8 Q1207.2,885.0 1207.6,889.1 Q1208.1,893.2 1210.1,898.7 Q1212.2,904.1 1207.6,906.6 Q1203.0,909.2 1198.6,907.3 Q1194.2,905.5 1192.4,903.9 Q1190.6,902.3 1189.5,898.2 Q1188.5,894.1 1190.6,890.3 Q1192.8,886.6 1196.1,884.6 Q1199.4,882.6 1203.3,883.8Z" fill="#e3211a" />
<ellipse cx="1191.7" cy="894.5" rx="6.9" ry="5.7" fill="#e3211a" transform="rotate(175 1191.7 894.5)"/>
<ellipse cx="1198.0" cy="893.9" rx="8.5" ry="8.7" fill="#217034"/>
<path d="M1176.1,904.7 Q1177.9,910.2 1176.1,915.2 Q1174.3,920.2 1171.2,920.6 Q1168.1,921.0 1162.0,922.0 Q1156.0,923.0 1152.6,919.4 Q1149.3,915.8 1150.9,911.0 Q1152.6,906.2 1152.1,901.5 Q1151.5,896.8 1155.8,898.4 Q1160.1,900.0 1167.2,899.6 Q1174.3,899.1 1176.1,904.7Z" fill="#e3211a" />
<ellipse cx="1160.3" cy="908.2" rx="7" ry="8" fill="#2a1a0c"/>
<path d="M1201.6,910.8 Q1201.5,905.4 1205.4,905.8 Q1209.3,906.1 1215.7,902.5 Q1222.1,898.9 1224.2,904.2 Q1226.3,909.5 1226.6,912.5 Q1226.8,915.6 1226.9,919.9 Q1227.0,924.1 1221.7,926.4 Q1216.3,928.6 1211.6,926.3 Q1206.9,923.9 1204.3,920.0 Q1201.6,916.2 1201.6,910.8Z" fill="#e3211a" />
<ellipse cx="1213.1" cy="914.3" rx="7" ry="8" fill="#2a1a0c"/>
<path d="M1178.2,934.1 Q1176.7,929.0 1176.3,926.3 Q1175.9,923.7 1179.0,921.3 Q1182.1,918.9 1186.1,917.6 Q1190.1,916.3 1191.9,920.0 Q1193.7,923.7 1194.7,927.0 Q1195.8,930.2 1194.2,934.5 Q1192.6,938.8 1188.6,939.2 Q1184.6,939.6 1182.1,939.4 Q1179.6,939.2 1178.2,934.1Z" fill="#e3211a" />
<ellipse cx="1187.5" cy="933.1" rx="9.0" ry="5.1" fill="#e3211a" transform="rotate(78 1187.5 933.1)"/>
<ellipse cx="1186.0" cy="925.6" rx="7.9" ry="9.1" fill="#2ea84c"/>
<path d="M1175.8,952.1 Q1172.7,951.1 1170.4,949.3 Q1168.2,947.6 1168.7,942.7 Q1169.3,937.8 1172.8,936.6 Q1176.3,935.4 1178.8,934.0 Q1181.3,932.6 1184.9,932.4 Q1188.6,932.3 1188.5,937.1 Q1188.4,941.8 1188.4,947.9 Q1188.4,954.0 1183.6,953.5 Q1178.9,953.1 1175.8,952.1Z" fill="#e3211a" />
<ellipse cx="1176.9" cy="943.0" rx="7.6" ry="8.9" fill="#3fcb5e"/>
<path d="M1222.6,928.1 Q1226.6,926.9 1228.5,928.5 Q1230.4,930.2 1234.8,931.1 Q1239.2,932.1 1237.2,935.8 Q1235.2,939.6 1232.9,942.2 Q1230.6,944.7 1227.9,945.7 Q1225.2,946.8 1221.8,946.4 Q1218.5,946.1 1216.6,941.7 Q1214.6,937.3 1216.6,933.3 Q1218.6,929.4 1222.6,928.1Z" fill="#e3211a" />
<ellipse cx="1224.5" cy="938.4" rx="7.6" ry="8.3" fill="#2ea84c"/>
<path d="M1182.0,968.8 Q1180.9,973.1 1176.8,975.1 Q1172.7,977.2 1168.0,973.1 Q1163.4,969.1 1161.1,966.0 Q1158.8,962.9 1162.2,959.9 Q1165.6,956.9 1169.2,952.1 Q1172.9,947.3 1175.2,948.3 Q1177.5,949.4 1179.6,954.3 Q1181.6,959.2 1182.3,961.9 Q1183.1,964.6 1182.0,968.8Z" fill="#e3211a" />
<ellipse cx="1171.6" cy="961.9" rx="7.7" ry="8.0" fill="#2ea84c"/>
<path d="M1197.2,972.6 Q1196.2,974.0 1192.8,974.7 Q1189.4,975.5 1185.3,973.4 Q1181.2,971.2 1179.6,967.9 Q1177.9,964.5 1180.1,961.6 Q1182.4,958.6 1186.8,956.1 Q1191.2,953.6 1194.1,954.7 Q1196.9,955.8 1198.6,959.4 Q1200.3,962.9 1199.3,967.1 Q1198.2,971.2 1197.2,972.6Z" fill="#e3211a" />
<ellipse cx="1189.7" cy="962.6" rx="8.4" ry="9.1" fill="#217034"/>
<path d="M1204.4,953.9 Q1207.4,952.2 1211.9,951.3 Q1216.4,950.3 1217.6,955.4 Q1218.8,960.4 1219.6,964.4 Q1220.4,968.5 1218.3,971.4 Q1216.2,974.3 1211.4,974.7 Q1206.7,975.1 1205.7,972.4 Q1204.7,969.6 1202.6,966.8 Q1200.6,964.0 1201.0,959.8 Q1201.3,955.6 1204.4,953.9Z" fill="#e3211a" />
<ellipse cx="1216.1" cy="966.2" rx="6.9" ry="5.9" fill="#e3211a" transform="rotate(32 1216.1 966.2)"/>
<ellipse cx="1209.4" cy="961.9" rx="8.5" ry="8.3" fill="#3fcb5e"/>
<path d="M1160.9,968.8 Q1163.8,968.9 1167.0,972.9 Q1170.1,976.9 1172.7,980.9 Q1175.3,984.9 1172.0,988.0 Q1168.7,991.1 1165.7,993.8 Q1162.7,996.4 1158.7,993.7 Q1154.7,991.0 1153.3,988.5 Q1152.0,986.0 1150.9,980.5 Q1149.9,975.0 1153.9,971.9 Q1158.0,968.8 1160.9,968.8Z" fill="#e3211a" />
<ellipse cx="1162.5" cy="982.2" rx="8.3" ry="8.9" fill="#3fcb5e"/>
<path d="M1163.4,1012.7 Q1158.9,1011.6 1156.2,1011.6 Q1153.6,1011.6 1150.7,1008.1 Q1147.8,1004.7 1148.2,999.7 Q1148.5,994.8 1152.9,995.2 Q1157.2,995.5 1160.2,995.5 Q1163.2,995.4 1168.0,997.0 Q1172.9,998.5 1171.0,1001.3 Q1169.2,1004.1 1168.6,1009.0 Q1168.0,1013.9 1163.4,1012.7Z" fill="#e3211a" />
<ellipse cx="1158.8" cy="1006.4" rx="8.1" ry="8.2" fill="#2ea84c"/>
<path d="M1182.1,1008.1 Q1187.9,1009.4 1188.4,1014.4 Q1188.9,1019.5 1187.6,1022.7 Q1186.3,1025.8 1183.7,1027.2 Q1181.2,1028.6 1176.4,1028.6 Q1171.6,1028.7 1167.7,1027.0 Q1163.8,1025.3 1164.6,1020.7 Q1165.3,1016.0 1167.8,1014.0 Q1170.2,1012.0 1173.3,1009.4 Q1176.3,1006.8 1182.1,1008.1Z" fill="#e3211a" />
<path d="M1192.3,1028.5 Q1186.9,1029.7 1183.4,1026.9 Q1179.8,1024.1 1180.9,1021.2 Q1182.0,1018.2 1183.0,1014.2 Q1184.0,1010.2 1186.1,1007.4 Q1188.2,1004.7 1193.5,1006.9 Q1198.8,1009.0 1200.4,1012.9 Q1202.0,1016.7 1202.9,1019.4 Q1203.9,1022.1 1200.7,1024.7 Q1197.6,1027.3 1192.3,1028.5Z" fill="#e3211a" />
<ellipse cx="1200.5" cy="1023.9" rx="7.1" ry="6.8" fill="#e3211a" transform="rotate(19 1200.5 1023.9)"/>
<ellipse cx="1193.5" cy="1021.5" rx="8.1" ry="8.5" fill="#217034"/>
<path d="M1194.7,1042.0 Q1191.7,1038.6 1192.0,1034.3 Q1192.3,1030.1 1195.5,1025.3 Q1198.6,1020.4 1201.7,1021.1 Q1204.7,1021.7 1209.8,1024.5 Q1214.8,1027.4 1216.5,1029.3 Q1218.2,1031.2 1215.6,1034.6 Q1213.1,1038.0 1210.0,1040.9 Q1207.0,1043.9 1202.3,1044.7 Q1197.7,1045.5 1194.7,1042.0Z" fill="#e3211a" />
<ellipse cx="1207.2" cy="1024.3" rx="7.8" ry="5.4" fill="#e3211a" transform="rotate(276 1207.2 1024.3)"/>
<ellipse cx="1206.3" cy="1032.8" rx="7.9" ry="8.1" fill="#3fcb5e"/>
<path d="M1225.9,1037.3 Q1221.2,1038.7 1218.9,1037.6 Q1216.6,1036.5 1213.5,1032.4 Q1210.3,1028.3 1211.8,1024.7 Q1213.2,1021.0 1217.3,1018.5 Q1221.5,1016.1 1224.2,1015.9 Q1227.0,1015.8 1228.7,1019.7 Q1230.4,1023.7 1230.7,1027.0 Q1231.1,1030.3 1230.8,1033.1 Q1230.5,1035.8 1225.9,1037.3Z" fill="#e3211a" />
<ellipse cx="1234.4" cy="1033.5" rx="8.4" ry="5.5" fill="#e3211a" transform="rotate(38 1234.4 1033.5)"/>
<ellipse cx="1226.7" cy="1027.5" rx="8.1" ry="8.4" fill="#2ea84c"/>
<path d="M1177.3,1046.4 Q1177.5,1042.2 1179.8,1038.7 Q1182.0,1035.1 1184.9,1032.6 Q1187.7,1030.2 1190.4,1032.1 Q1193.0,1033.9 1195.4,1036.5 Q1197.8,1039.1 1198.3,1042.7 Q1198.8,1046.2 1195.6,1048.5 Q1192.4,1050.8 1188.3,1051.6 Q1184.2,1052.4 1180.7,1051.5 Q1177.1,1050.5 1177.3,1046.4Z" fill="#e3211a" />
<ellipse cx="1179.2" cy="1049.3" rx="8.9" ry="6.4" fill="#e3211a" transform="rotate(135 1179.2 1049.3)"/>
<ellipse cx="1186.0" cy="1042.6" rx="7.9" ry="8.8" fill="#2ea84c"/>
<path d="M1199.3,1050.2 Q1203.2,1046.3 1207.2,1045.0 Q1211.1,1043.6 1216.7,1045.8 Q1222.3,1048.0 1223.0,1052.5 Q1223.7,1057.0 1221.8,1060.2 Q1220.0,1063.4 1215.3,1065.7 Q1210.6,1068.1 1207.5,1067.1 Q1204.4,1066.1 1199.9,1064.8 Q1195.4,1063.5 1195.3,1058.8 Q1195.3,1054.1 1199.3,1050.2Z" fill="#e3211a" />
<path d="M1191.0,992.3 Q1191.5,987.3 1195.7,985.3 Q1200.0,983.4 1203.3,983.1 Q1206.5,982.8 1210.2,986.5 Q1213.8,990.3 1212.5,995.0 Q1211.3,999.6 1209.7,1002.4 Q1208.2,1005.1 1204.4,1008.1 Q1200.5,1011.1 1197.7,1008.4 Q1194.9,1005.8 1192.8,1001.5 Q1190.6,997.2 1191.0,992.3Z" fill="#e3211a" />
<path d="M869.5,1066.3 Q873.3,1066.8 877.1,1068.6 Q880.8,1070.4 883.2,1074.5 Q885.6,1078.7 882.7,1083.2 Q879.8,1087.8 875.5,1088.7 Q871.1,1089.6 868.1,1087.3 Q865.0,1084.9 861.0,1081.0 Q857.0,1077.1 859.3,1073.0 Q861.5,1069.0 863.6,1067.4 Q865.7,1065.8 869.5,1066.3Z" fill="#e3211a" />
<ellipse cx="876.4" cy="1074.5" rx="7.6" ry="4.4" fill="#e3211a" transform="rotate(9 876.4 1074.5)"/>
<ellipse cx="869.0" cy="1073.4" rx="7.8" ry="9.0" fill="#3fcb5e"/>
<path d="M882.3,1051.6 Q885.5,1052.7 888.8,1053.6 Q892.0,1054.5 893.4,1057.3 Q894.8,1060.1 891.1,1064.2 Q887.4,1068.3 884.7,1070.7 Q882.1,1073.1 878.7,1072.7 Q875.3,1072.2 873.9,1068.5 Q872.4,1064.9 872.6,1061.1 Q872.7,1057.4 875.8,1054.0 Q879.0,1050.6 882.3,1051.6Z" fill="#e3211a" />
<ellipse cx="880.4" cy="1062.0" rx="8.5" ry="8.3" fill="#2ea84c"/>
<path d="M888.1,1090.7 Q884.0,1086.8 884.7,1081.1 Q885.4,1075.4 887.7,1074.3 Q890.0,1073.2 894.4,1072.7 Q898.8,1072.1 903.7,1072.9 Q908.5,1073.8 907.8,1076.9 Q907.2,1080.0 907.4,1084.1 Q907.7,1088.3 904.6,1090.8 Q901.5,1093.3 896.9,1094.0 Q892.3,1094.6 888.1,1090.7Z" fill="#e3211a" />
<ellipse cx="890.7" cy="1075.5" rx="5.2" ry="5.1" fill="#e3211a" transform="rotate(210 890.7 1075.5)"/>
<ellipse cx="896.2" cy="1078.7" rx="8.5" ry="8.7" fill="#217034"/>
<path d="M920.8,1074.0 Q917.7,1077.3 913.2,1076.9 Q908.8,1076.4 906.6,1074.8 Q904.4,1073.1 903.3,1069.9 Q902.2,1066.7 903.5,1064.3 Q904.9,1061.8 907.4,1060.3 Q909.9,1058.8 912.5,1058.9 Q915.2,1059.0 917.8,1062.2 Q920.4,1065.3 922.1,1068.0 Q923.8,1070.7 920.8,1074.0Z" fill="#e3211a" />
<ellipse cx="903.4" cy="1068.3" rx="8.5" ry="6.3" fill="#e3211a" transform="rotate(184 903.4 1068.3)"/>
<ellipse cx="910.6" cy="1068.8" rx="8.1" ry="8.8" fill="#2ea84c"/>
<path d="M934.3,1070.7 Q932.5,1067.9 932.5,1062.8 Q932.4,1057.8 936.2,1058.2 Q940.0,1058.7 942.8,1058.3 Q945.7,1058.0 950.2,1059.4 Q954.6,1060.8 953.7,1063.6 Q952.8,1066.4 951.9,1071.7 Q951.0,1077.1 947.0,1077.6 Q943.1,1078.2 939.6,1075.9 Q936.1,1073.5 934.3,1070.7Z" fill="#e3211a" />
<ellipse cx="935.6" cy="1065.0" rx="9.0" ry="6.8" fill="#e3211a" transform="rotate(199 935.6 1065.0)"/>
<ellipse cx="944.6" cy="1068.1" rx="8.3" ry="8.1" fill="#217034"/>
<path d="M937.3,1049.0 Q942.2,1050.5 944.4,1053.6 Q946.6,1056.8 943.8,1060.8 Q941.1,1064.7 939.2,1069.0 Q937.3,1073.2 933.7,1073.3 Q930.2,1073.4 926.2,1069.4 Q922.2,1065.4 921.6,1061.9 Q921.0,1058.3 923.9,1056.4 Q926.9,1054.5 929.7,1051.0 Q932.4,1047.5 937.3,1049.0Z" fill="#e3211a" />
<ellipse cx="932.5" cy="1058.3" rx="7.7" ry="8.5" fill="#2ea84c"/>
<path d="M929.0,1113.2 Q925.5,1115.6 922.7,1117.1 Q919.8,1118.7 915.3,1115.4 Q910.8,1112.2 913.4,1107.5 Q916.0,1102.9 917.9,1100.0 Q919.7,1097.2 923.9,1095.3 Q928.0,1093.4 929.7,1097.2 Q931.3,1101.1 934.5,1102.2 Q937.7,1103.3 935.1,1107.1 Q932.5,1110.9 929.0,1113.2Z" fill="#e3211a" />
<ellipse cx="930.5" cy="1113.4" rx="8.8" ry="5.0" fill="#e3211a" transform="rotate(59 930.5 1113.4)"/>
<ellipse cx="926.4" cy="1106.6" rx="7.8" ry="9.0" fill="#2ea84c"/>
<path d="M935.9,1105.4 Q936.7,1101.2 939.8,1098.0 Q942.8,1094.8 947.1,1094.5 Q951.4,1094.2 955.3,1097.9 Q959.3,1101.6 962.2,1103.6 Q965.2,1105.5 960.8,1109.1 Q956.3,1112.6 954.5,1114.3 Q952.7,1115.9 948.1,1117.4 Q943.4,1118.9 939.3,1114.2 Q935.1,1109.5 935.9,1105.4Z" fill="#e3211a" />
<ellipse cx="949.1" cy="1103.6" rx="8.1" ry="8.5" fill="#3fcb5e"/>
<path d="M904.8,1127.9 Q906.1,1123.7 907.6,1119.3 Q909.2,1114.9 911.3,1115.0 Q913.5,1115.2 918.4,1114.5 Q923.2,1113.8 923.8,1117.3 Q924.4,1120.7 924.5,1125.5 Q924.7,1130.3 920.7,1131.4 Q916.6,1132.5 913.8,1134.2 Q910.9,1135.8 907.2,1133.9 Q903.5,1132.0 904.8,1127.9Z" fill="#e3211a" />
<ellipse cx="917.3" cy="1133.5" rx="8.4" ry="5.9" fill="#e3211a" transform="rotate(68 917.3 1133.5)"/>
<ellipse cx="914.4" cy="1126.2" rx="8.2" ry="8.9" fill="#2ea84c"/>
<path d="M968.9,1116.5 Q971.0,1120.1 966.8,1123.1 Q962.5,1126.0 960.6,1129.6 Q958.8,1133.1 952.8,1131.2 Q946.9,1129.3 947.9,1125.7 Q948.8,1122.0 948.9,1118.5 Q949.0,1115.0 951.1,1113.0 Q953.1,1111.0 957.2,1111.1 Q961.2,1111.3 964.0,1112.1 Q966.7,1112.9 968.9,1116.5Z" fill="#e3211a" />
<ellipse cx="962.3" cy="1127.7" rx="7.0" ry="5.2" fill="#e3211a" transform="rotate(54 962.3 1127.7)"/>
<ellipse cx="957.4" cy="1121.0" rx="8.0" ry="8.0" fill="#217034"/>
<path d="M858.0,1113.0 Q858.0,1109.0 862.2,1107.6 Q866.4,1106.1 868.9,1104.6 Q871.5,1103.0 874.7,1105.5 Q877.8,1108.1 876.3,1112.6 Q874.8,1117.1 874.4,1119.1 Q874.0,1121.1 870.0,1123.9 Q866.0,1126.8 862.0,1125.2 Q857.9,1123.6 857.9,1120.3 Q858.0,1117.1 858.0,1113.0Z" fill="#e3211a" />
<ellipse cx="869.0" cy="1115.6" rx="8.3" ry="8.1" fill="#217034"/>
<path d="M897.3,1119.4 Q900.8,1122.9 901.1,1128.4 Q901.3,1133.9 896.3,1136.0 Q891.4,1138.1 887.0,1135.9 Q882.7,1133.6 879.5,1133.1 Q876.3,1132.6 874.0,1128.9 Q871.8,1125.2 873.7,1120.7 Q875.6,1116.2 880.4,1114.5 Q885.1,1112.7 889.4,1114.3 Q893.7,1115.8 897.3,1119.4Z" fill="#e3211a" />
<ellipse cx="884.2" cy="1124.7" rx="7" ry="8" fill="#2a1a0c"/>
<path d="M935.5,1124.2 Q938.1,1122.0 942.7,1122.3 Q947.3,1122.7 949.3,1126.3 Q951.4,1129.9 952.1,1132.1 Q952.8,1134.3 952.2,1138.0 Q951.6,1141.7 946.9,1144.3 Q942.2,1146.9 940.1,1146.4 Q938.0,1145.9 935.8,1141.9 Q933.5,1137.8 933.2,1132.1 Q933.0,1126.4 935.5,1124.2Z" fill="#e3211a" />
<path d="M881.3,1140.9 Q884.0,1137.2 887.6,1137.7 Q891.1,1138.1 892.5,1143.6 Q894.0,1149.1 893.2,1151.5 Q892.5,1153.8 891.6,1156.0 Q890.7,1158.2 886.7,1160.1 Q882.7,1161.9 878.6,1158.9 Q874.4,1155.8 875.7,1151.4 Q877.1,1147.0 877.8,1145.8 Q878.5,1144.6 881.3,1140.9Z" fill="#e3211a" />
<ellipse cx="886.6" cy="1142.6" rx="7.2" ry="6.6" fill="#e3211a" transform="rotate(297 886.6 1142.6)"/>
<ellipse cx="882.7" cy="1150.4" rx="7.9" ry="8.1" fill="#217034"/>
<path d="M907.8,1154.9 Q906.6,1157.8 905.4,1161.9 Q904.3,1166.0 901.0,1164.3 Q897.7,1162.6 893.3,1161.8 Q888.9,1161.1 888.6,1156.7 Q888.3,1152.3 889.1,1148.8 Q889.9,1145.4 894.1,1143.2 Q898.3,1140.9 901.6,1142.3 Q904.8,1143.6 907.0,1147.8 Q909.1,1152.0 907.8,1154.9Z" fill="#e3211a" />
<ellipse cx="893.0" cy="1156.7" rx="7.4" ry="5.5" fill="#e3211a" transform="rotate(172 893.0 1156.7)"/>
<ellipse cx="900.0" cy="1155.7" rx="8.0" ry="8.1" fill="#3fcb5e"/>
<path d="M869.1,1164.2 Q864.8,1164.4 861.2,1161.2 Q857.6,1158.0 856.8,1153.9 Q855.9,1149.7 857.3,1147.1 Q858.7,1144.6 861.9,1140.8 Q865.2,1137.0 868.7,1139.6 Q872.2,1142.2 876.0,1144.5 Q879.8,1146.9 878.3,1151.1 Q876.8,1155.3 875.2,1159.7 Q873.5,1164.0 869.1,1164.2Z" fill="#e3211a" />
<path d="M872.1,1178.2 Q871.8,1181.5 867.1,1179.2 Q862.4,1176.8 858.5,1176.5 Q854.6,1176.2 856.6,1171.1 Q858.7,1166.0 860.2,1163.6 Q861.7,1161.1 864.5,1159.3 Q867.3,1157.4 870.9,1157.7 Q874.5,1157.9 874.6,1163.0 Q874.8,1168.1 873.6,1171.5 Q872.4,1174.9 872.1,1178.2Z" fill="#e3211a" />
<ellipse cx="861.4" cy="1165.1" rx="8.6" ry="6.4" fill="#e3211a" transform="rotate(235 861.4 1165.1)"/>
<ellipse cx="866.0" cy="1171.5" rx="7.7" ry="8.1" fill="#3fcb5e"/>
<path d="M932.8,1145.0 Q931.9,1140.1 939.5,1138.7 Q947.0,1137.4 950.1,1138.3 Q953.2,1139.3 956.4,1145.3 Q959.6,1151.3 958.0,1153.6 Q956.4,1155.9 953.3,1159.5 Q950.2,1163.2 943.0,1164.0 Q935.7,1164.7 934.3,1161.7 Q932.9,1158.7 933.3,1154.3 Q933.7,1149.8 932.8,1145.0Z" fill="#e3211a" />
<ellipse cx="946.1" cy="1152.6" rx="7" ry="8" fill="#2a1a0c"/>
<path d="M917.2,1158.3 Q920.5,1158.5 922.8,1158.6 Q925.2,1158.7 929.0,1161.8 Q932.7,1164.9 931.9,1168.1 Q931.0,1171.3 928.7,1173.0 Q926.4,1174.7 921.8,1176.3 Q917.2,1177.9 915.2,1177.0 Q913.2,1176.1 911.6,1171.1 Q909.9,1166.1 911.9,1162.1 Q913.9,1158.2 917.2,1158.3Z" fill="#e3211a" />
<ellipse cx="921.9" cy="1170.0" rx="8.5" ry="8.5" fill="#3fcb5e"/>
<path d="M904.7,1195.1 Q901.0,1193.8 898.6,1188.9 Q896.2,1183.9 898.1,1180.3 Q899.9,1176.7 902.6,1175.2 Q905.2,1173.7 907.8,1174.0 Q910.3,1174.3 915.7,1175.4 Q921.0,1176.4 919.9,1179.7 Q918.8,1183.0 917.1,1185.5 Q915.4,1188.0 911.9,1192.2 Q908.4,1196.4 904.7,1195.1Z" fill="#e3211a" />
<ellipse cx="909.5" cy="1193.4" rx="5.9" ry="6.6" fill="#e3211a" transform="rotate(92 909.5 1193.4)"/>
<ellipse cx="909.8" cy="1184.4" rx="7.9" ry="8.6" fill="#2ea84c"/>
<path d="M943.8,1191.8 Q944.3,1197.1 941.1,1198.8 Q937.8,1200.5 935.3,1201.3 Q932.8,1202.1 927.8,1201.9 Q922.9,1201.8 922.2,1199.7 Q921.5,1197.6 922.4,1193.1 Q923.4,1188.5 924.9,1186.6 Q926.4,1184.7 931.1,1182.5 Q935.9,1180.3 939.6,1183.4 Q943.3,1186.5 943.8,1191.8Z" fill="#e3211a" />
<ellipse cx="931.0" cy="1191.9" rx="8.1" ry="8.2" fill="#2ea84c"/>
<path d="M958.7,1185.9 Q955.4,1184.4 954.1,1178.7 Q952.8,1173.0 956.2,1168.7 Q959.6,1164.4 963.1,1164.4 Q966.5,1164.4 970.6,1165.5 Q974.8,1166.5 975.8,1169.0 Q976.8,1171.4 976.6,1175.7 Q976.3,1180.1 973.1,1183.5 Q969.9,1186.9 966.0,1187.2 Q962.0,1187.4 958.7,1185.9Z" fill="#e3211a" />
<ellipse cx="965.7" cy="1176.8" rx="7.6" ry="8.2" fill="#217034"/>
<path d="M953.5,1200.2 Q951.5,1197.4 952.1,1193.5 Q952.7,1189.6 955.3,1185.8 Q958.0,1182.1 960.3,1182.8 Q962.7,1183.5 967.4,1184.7 Q972.2,1185.8 971.8,1190.4 Q971.5,1195.0 970.1,1200.2 Q968.7,1205.4 965.0,1205.9 Q961.2,1206.5 958.4,1204.8 Q955.5,1203.0 953.5,1200.2Z" fill="#e3211a" />
<ellipse cx="959.3" cy="1203.6" rx="5.4" ry="4.4" fill="#e3211a" transform="rotate(93 959.3 1203.6)"/>
<ellipse cx="959.7" cy="1194.9" rx="7.7" ry="8.6" fill="#217034"/>
<path d="M954.5,1195.5 Q951.4,1200.2 948.0,1200.1 Q944.6,1200.1 938.3,1197.5 Q932.0,1194.9 933.6,1191.2 Q935.2,1187.5 935.4,1184.1 Q935.6,1180.8 939.6,1175.7 Q943.6,1170.6 946.2,1174.0 Q948.9,1177.4 951.4,1179.3 Q953.9,1181.3 955.8,1186.1 Q957.6,1190.8 954.5,1195.5Z" fill="#e3211a" />
<path d="M865.2,1196.9 Q860.6,1194.0 861.4,1190.3 Q862.1,1186.5 865.8,1184.9 Q869.4,1183.4 873.2,1181.5 Q877.0,1179.5 879.1,1181.8 Q881.2,1184.1 886.1,1187.9 Q890.9,1191.7 885.7,1195.0 Q880.4,1198.3 878.6,1200.5 Q876.8,1202.7 873.3,1201.2 Q869.7,1199.8 865.2,1196.9Z" fill="#e3211a" />
<ellipse cx="874.3" cy="1193.4" rx="7" ry="8" fill="#2a1a0c"/>
<path d="M887.5,1208.3 Q886.7,1211.6 886.3,1215.7 Q885.9,1219.7 882.9,1219.0 Q879.9,1218.4 875.5,1219.5 Q871.1,1220.6 869.7,1216.0 Q868.2,1211.3 868.4,1208.5 Q868.6,1205.7 870.4,1201.9 Q872.3,1198.2 876.1,1197.6 Q880.0,1197.0 884.1,1201.0 Q888.2,1204.9 887.5,1208.3Z" fill="#e3211a" />
<ellipse cx="880.4" cy="1211.5" rx="8.4" ry="8.2" fill="#217034"/>
<path d="M892.0,1213.3 Q887.4,1210.1 886.5,1206.8 Q885.7,1203.5 891.0,1199.2 Q896.3,1195.0 898.6,1195.4 Q901.0,1195.7 905.4,1197.0 Q909.7,1198.2 912.2,1203.6 Q914.6,1209.1 911.2,1211.4 Q907.8,1213.8 906.6,1217.3 Q905.4,1220.9 901.0,1218.7 Q896.6,1216.6 892.0,1213.3Z" fill="#e3211a" />
<ellipse cx="899.3" cy="1207.0" rx="7" ry="8" fill="#2a1a0c"/>
<path d="M909.8,1217.2 Q911.7,1213.7 913.8,1209.8 Q915.9,1205.9 919.5,1205.5 Q923.1,1205.0 925.2,1207.7 Q927.4,1210.3 929.5,1213.4 Q931.7,1216.4 929.8,1219.1 Q928.0,1221.9 924.7,1223.8 Q921.5,1225.7 917.0,1225.5 Q912.5,1225.4 910.2,1223.0 Q908.0,1220.6 909.8,1217.2Z" fill="#e3211a" />
<ellipse cx="918.9" cy="1216.0" rx="7" ry="8" fill="#2a1a0c"/>
<path d="M894.6,1236.5 Q890.4,1233.8 887.2,1230.4 Q883.9,1227.0 885.3,1222.2 Q886.6,1217.4 890.1,1215.7 Q893.5,1214.0 897.2,1213.4 Q901.0,1212.7 905.1,1214.6 Q909.3,1216.5 907.8,1221.5 Q906.3,1226.4 906.2,1230.3 Q906.1,1234.2 902.5,1236.8 Q898.9,1239.3 894.6,1236.5Z" fill="#e3211a" />
<ellipse cx="888.8" cy="1225.6" rx="8.8" ry="4.5" fill="#e3211a" transform="rotate(171 888.8 1225.6)"/>
<ellipse cx="896.2" cy="1224.4" rx="8.1" ry="8.2" fill="#217034"/>
<path d="M944.5,1226.2 Q947.1,1227.9 944.8,1233.5 Q942.4,1239.1 939.2,1238.1 Q935.9,1237.1 931.0,1238.1 Q926.2,1239.1 923.7,1237.2 Q921.3,1235.4 923.9,1230.4 Q926.5,1225.5 927.9,1222.5 Q929.2,1219.6 932.1,1217.1 Q934.9,1214.7 938.4,1219.6 Q941.9,1224.6 944.5,1226.2Z" fill="#e3211a" />
<ellipse cx="932.7" cy="1239.8" rx="5.4" ry="5.0" fill="#e3211a" transform="rotate(98 932.7 1239.8)"/>
<ellipse cx="934.0" cy="1231.2" rx="7.9" ry="8.6" fill="#2ea84c"/>
<path d="M990.4,1092.9 Q993.4,1096.0 998.1,1098.6 Q1002.8,1101.1 1001.8,1106.2 Q1000.7,1111.4 997.0,1114.9 Q993.2,1118.4 991.3,1117.9 Q989.4,1117.3 983.9,1118.0 Q978.4,1118.6 978.7,1112.2 Q978.9,1105.8 979.0,1103.2 Q979.0,1100.6 983.2,1095.2 Q987.4,1089.8 990.4,1092.9Z" fill="#e3211a" />
<ellipse cx="991.4" cy="1105.8" rx="7" ry="8" fill="#2a1a0c"/>
<path d="M978.5,1162.0 Q976.6,1157.1 979.5,1153.5 Q982.4,1149.8 985.0,1145.6 Q987.7,1141.5 992.3,1141.4 Q996.9,1141.4 1001.9,1143.2 Q1006.8,1144.9 1005.6,1150.8 Q1004.4,1156.6 1002.9,1164.0 Q1001.4,1171.3 995.6,1171.9 Q989.9,1172.4 985.1,1169.7 Q980.4,1167.0 978.5,1162.0Z" fill="#e3211a" />
<ellipse cx="992.9" cy="1154.2" rx="7" ry="8" fill="#2a1a0c"/>
<path d="M1013.8,1067.3 Q1015.6,1071.0 1013.0,1076.4 Q1010.4,1081.9 1004.5,1081.3 Q998.6,1080.8 995.3,1079.5 Q991.9,1078.2 991.4,1073.9 Q990.9,1069.6 993.0,1066.8 Q995.1,1064.0 997.9,1060.0 Q1000.8,1056.0 1004.5,1057.9 Q1008.3,1059.7 1010.2,1061.7 Q1012.0,1063.6 1013.8,1067.3Z" fill="#e3211a" />
<ellipse cx="1003.5" cy="1070.3" rx="8.0" ry="8.1" fill="#2ea84c"/>
<path d="M1013.8,1087.6 Q1010.1,1084.6 1012.5,1080.8 Q1014.8,1076.9 1015.5,1072.9 Q1016.2,1069.0 1019.7,1068.1 Q1023.3,1067.2 1025.7,1069.1 Q1028.1,1070.9 1030.8,1072.8 Q1033.4,1074.7 1033.5,1078.7 Q1033.6,1082.7 1029.1,1086.6 Q1024.6,1090.4 1021.0,1090.5 Q1017.5,1090.6 1013.8,1087.6Z" fill="#e3211a" />
<ellipse cx="1020.0" cy="1078.7" rx="8.3" ry="9.2" fill="#217034"/>
<path d="M996.7,1086.6 Q998.5,1083.9 1001.5,1080.1 Q1004.6,1076.3 1008.9,1078.0 Q1013.2,1079.6 1015.8,1082.9 Q1018.3,1086.2 1016.5,1090.5 Q1014.7,1094.9 1011.8,1097.0 Q1008.9,1099.1 1007.0,1099.2 Q1005.2,1099.3 999.6,1099.3 Q994.0,1099.2 994.4,1094.2 Q994.9,1089.2 996.7,1086.6Z" fill="#e3211a" />
<ellipse cx="1006.5" cy="1088.5" rx="7.6" ry="8.4" fill="#3fcb5e"/>
<path d="M1024.3,1112.0 Q1020.5,1108.6 1018.9,1106.3 Q1017.4,1104.0 1017.0,1101.4 Q1016.5,1098.7 1020.3,1094.4 Q1024.1,1090.2 1027.3,1089.1 Q1030.4,1088.0 1033.9,1089.9 Q1037.3,1091.8 1038.4,1095.6 Q1039.4,1099.3 1039.7,1104.7 Q1039.9,1110.2 1034.0,1112.8 Q1028.1,1115.3 1024.3,1112.0Z" fill="#e3211a" />
<ellipse cx="1029.1" cy="1099.8" rx="7" ry="8" fill="#2a1a0c"/>
<path d="M1034.3,1103.3 Q1038.8,1099.4 1041.1,1103.5 Q1043.4,1107.6 1046.1,1109.7 Q1048.9,1111.9 1046.7,1115.1 Q1044.5,1118.4 1041.7,1121.6 Q1039.0,1124.9 1036.3,1126.3 Q1033.6,1127.8 1031.8,1123.1 Q1030.1,1118.4 1028.9,1115.0 Q1027.7,1111.6 1028.8,1109.4 Q1029.8,1107.1 1034.3,1103.3Z" fill="#e3211a" />
<ellipse cx="1039.7" cy="1115.6" rx="7.8" ry="8.8" fill="#3fcb5e"/>
<path d="M1012.8,1116.0 Q1015.4,1114.2 1017.4,1117.8 Q1019.4,1121.5 1019.7,1126.2 Q1020.1,1130.9 1018.8,1134.2 Q1017.5,1137.5 1015.2,1139.2 Q1012.8,1141.0 1007.7,1139.8 Q1002.6,1138.7 1001.0,1132.2 Q999.3,1125.7 1001.9,1123.6 Q1004.4,1121.4 1007.3,1119.6 Q1010.2,1117.8 1012.8,1116.0Z" fill="#e3211a" />
<ellipse cx="1016.5" cy="1124.6" rx="5.5" ry="6.2" fill="#e3211a" transform="rotate(333 1016.5 1124.6)"/>
<ellipse cx="1008.7" cy="1128.5" rx="8.2" ry="8.4" fill="#217034"/>
<path d="M1028.5,1135.4 Q1024.0,1136.1 1021.5,1134.0 Q1019.0,1131.8 1019.5,1129.5 Q1020.0,1127.1 1020.2,1121.5 Q1020.3,1116.0 1024.6,1115.3 Q1028.9,1114.7 1030.2,1116.5 Q1031.5,1118.3 1035.1,1119.7 Q1038.7,1121.1 1039.8,1127.0 Q1040.9,1132.9 1036.9,1133.8 Q1032.9,1134.7 1028.5,1135.4Z" fill="#e3211a" />
<ellipse cx="1031.3" cy="1134.1" rx="7.0" ry="5.3" fill="#e3211a" transform="rotate(53 1031.3 1134.1)"/>
<ellipse cx="1027.6" cy="1129.2" rx="7.9" ry="9.1" fill="#2ea84c"/>
<path d="M1034.0,1136.8 Q1036.1,1132.9 1038.3,1131.3 Q1040.5,1129.7 1044.6,1128.8 Q1048.8,1127.9 1049.6,1132.2 Q1050.4,1136.4 1052.9,1139.1 Q1055.3,1141.7 1050.9,1146.7 Q1046.4,1151.8 1043.2,1149.3 Q1040.0,1146.8 1035.8,1147.6 Q1031.6,1148.4 1031.8,1144.5 Q1032.0,1140.7 1034.0,1136.8Z" fill="#e3211a" />
<ellipse cx="1048.1" cy="1130.9" rx="5.3" ry="5.1" fill="#e3211a" transform="rotate(317 1048.1 1130.9)"/>
<ellipse cx="1042.7" cy="1136.0" rx="7.7" ry="8.5" fill="#2ea84c"/>
<path d="M1006.7,1178.1 Q1004.3,1175.7 1004.7,1172.5 Q1005.1,1169.3 1005.7,1166.0 Q1006.3,1162.6 1009.6,1162.4 Q1012.9,1162.1 1017.9,1163.7 Q1022.9,1165.4 1024.2,1170.4 Q1025.5,1175.4 1023.3,1176.8 Q1021.0,1178.3 1018.1,1180.5 Q1015.3,1182.8 1012.3,1181.7 Q1009.2,1180.6 1006.7,1178.1Z" fill="#e3211a" />
<ellipse cx="1015.5" cy="1175.3" rx="7.9" ry="8.1" fill="#3fcb5e"/>
<path d="M1047.8,1173.0 Q1048.8,1176.0 1045.7,1181.1 Q1042.5,1186.2 1041.1,1186.9 Q1039.6,1187.6 1035.7,1190.3 Q1031.7,1193.1 1028.0,1188.5 Q1024.3,1183.9 1023.2,1180.8 Q1022.2,1177.8 1025.5,1175.1 Q1028.7,1172.3 1032.8,1169.1 Q1036.9,1165.9 1041.8,1168.0 Q1046.7,1170.0 1047.8,1173.0Z" fill="#e3211a" />
<ellipse cx="1030.7" cy="1183.0" rx="7.0" ry="4.1" fill="#e3211a" transform="rotate(109 1030.7 1183.0)"/>
<ellipse cx="1032.9" cy="1176.8" rx="8.4" ry="8.8" fill="#217034"/>
<path d="M1015.6,1179.7 Q1019.0,1181.8 1023.1,1182.6 Q1027.2,1183.5 1029.6,1189.3 Q1032.0,1195.2 1028.3,1198.1 Q1024.6,1200.9 1019.4,1204.5 Q1014.1,1208.1 1009.8,1205.6 Q1005.6,1203.0 1005.7,1197.8 Q1005.8,1192.6 1007.3,1190.2 Q1008.8,1187.7 1010.5,1182.7 Q1012.1,1177.6 1015.6,1179.7Z" fill="#e3211a" />
<ellipse cx="1020.5" cy="1201.5" rx="5.3" ry="5.4" fill="#e3211a" transform="rotate(52 1020.5 1201.5)"/>
<ellipse cx="1015.5" cy="1194.9" rx="7.6" ry="8.5" fill="#217034"/>
<path d="M993.5,1214.7 Q993.0,1218.7 990.0,1219.9 Q987.0,1221.1 983.8,1221.5 Q980.7,1221.8 978.5,1220.9 Q976.3,1219.9 974.6,1216.7 Q972.9,1213.6 973.2,1208.8 Q973.5,1204.1 977.6,1202.6 Q981.7,1201.2 983.7,1202.5 Q985.8,1203.9 990.0,1207.2 Q994.1,1210.6 993.5,1214.7Z" fill="#e3211a" />
<ellipse cx="980.8" cy="1216.0" rx="8.1" ry="8.1" fill="#217034"/>
<path d="M1006.2,1226.9 Q1004.3,1228.7 998.4,1228.1 Q992.5,1227.6 992.7,1223.0 Q992.9,1218.4 993.8,1215.5 Q994.6,1212.7 997.4,1207.0 Q1000.2,1201.3 1002.7,1204.5 Q1005.1,1207.7 1008.6,1209.7 Q1012.2,1211.7 1014.8,1216.0 Q1017.4,1220.3 1012.8,1222.7 Q1008.2,1225.2 1006.2,1226.9Z" fill="#e3211a" />
<ellipse cx="1002.0" cy="1213.8" rx="7.8" ry="8.9" fill="#3fcb5e"/>
<path d="M1029.2,1212.9 Q1029.1,1217.4 1028.9,1221.1 Q1028.6,1224.8 1026.4,1226.0 Q1024.2,1227.1 1020.3,1228.5 Q1016.3,1229.8 1012.8,1229.9 Q1009.3,1230.1 1007.3,1225.6 Q1005.3,1221.2 1007.9,1217.2 Q1010.5,1213.2 1015.2,1209.4 Q1020.0,1205.7 1024.7,1207.0 Q1029.3,1208.4 1029.2,1212.9Z" fill="#e3211a" />
<ellipse cx="1019.3" cy="1216.8" rx="8.4" ry="8.7" fill="#2ea84c"/>
<path d="M964.4,1225.5 Q968.5,1220.6 971.8,1222.3 Q975.1,1224.0 979.3,1223.7 Q983.5,1223.4 986.3,1228.2 Q989.1,1232.9 988.4,1236.6 Q987.6,1240.3 983.9,1243.5 Q980.2,1246.7 975.6,1246.0 Q970.9,1245.4 969.3,1242.1 Q967.8,1238.8 964.1,1234.7 Q960.3,1230.5 964.4,1225.5Z" fill="#e3211a" />
<ellipse cx="977.8" cy="1234.2" rx="7" ry="8" fill="#2a1a0c"/>
<path d="M1037.6,1063.9 Q1034.8,1065.7 1032.7,1066.5 Q1030.6,1067.4 1027.9,1065.6 Q1025.1,1063.9 1022.7,1061.2 Q1020.4,1058.6 1021.2,1054.3 Q1022.0,1050.0 1026.6,1047.6 Q1031.2,1045.2 1035.0,1046.2 Q1038.8,1047.3 1040.7,1050.4 Q1042.5,1053.6 1041.5,1057.8 Q1040.4,1062.0 1037.6,1063.9Z" fill="#e3211a" />
<path d="M1079.6,1065.9 Q1083.3,1066.4 1088.0,1067.1 Q1092.7,1067.8 1092.8,1072.8 Q1092.8,1077.8 1093.2,1083.4 Q1093.6,1088.9 1090.2,1090.8 Q1086.7,1092.7 1082.1,1090.0 Q1077.5,1087.3 1076.7,1084.8 Q1075.8,1082.2 1073.0,1077.7 Q1070.1,1073.2 1073.0,1069.3 Q1075.8,1065.4 1079.6,1065.9Z" fill="#e3211a" />
<ellipse cx="1082.9" cy="1071.8" rx="7.5" ry="5.6" fill="#e3211a" transform="rotate(267 1082.9 1071.8)"/>
<ellipse cx="1083.3" cy="1080.2" rx="8.2" ry="8.7" fill="#217034"/>
<path d="M1091.1,1067.4 Q1089.5,1064.9 1091.2,1061.2 Q1092.8,1057.4 1096.2,1055.1 Q1099.5,1052.8 1102.3,1053.3 Q1105.2,1053.9 1109.7,1054.6 Q1114.2,1055.4 1114.5,1059.2 Q1114.8,1062.9 1113.3,1067.4 Q1111.9,1071.9 1105.1,1072.4 Q1098.4,1073.0 1095.5,1071.4 Q1092.7,1069.8 1091.1,1067.4Z" fill="#e3211a" />
<ellipse cx="1093.6" cy="1066.6" rx="8.5" ry="4.3" fill="#e3211a" transform="rotate(128 1093.6 1066.6)"/>
<ellipse cx="1098.4" cy="1060.5" rx="8.0" ry="8.6" fill="#217034"/>
<path d="M1087.2,1087.3 Q1086.9,1084.6 1091.5,1083.5 Q1096.1,1082.3 1099.3,1081.5 Q1102.4,1080.7 1103.6,1083.4 Q1104.8,1086.1 1106.3,1089.2 Q1107.7,1092.3 1105.9,1096.2 Q1104.1,1100.2 1100.5,1101.4 Q1096.9,1102.6 1092.2,1101.3 Q1087.6,1099.9 1087.5,1095.0 Q1087.5,1090.1 1087.2,1087.3Z" fill="#e3211a" />
<ellipse cx="1099.9" cy="1091.5" rx="8.0" ry="8.4" fill="#2ea84c"/>
<path d="M1118.7,1093.8 Q1123.6,1092.6 1124.9,1097.3 Q1126.2,1102.0 1125.9,1106.2 Q1125.6,1110.3 1122.6,1112.9 Q1119.6,1115.5 1114.3,1115.6 Q1109.0,1115.7 1106.6,1114.7 Q1104.1,1113.7 1105.7,1109.1 Q1107.2,1104.4 1108.7,1100.1 Q1110.2,1095.9 1112.0,1095.5 Q1113.8,1095.1 1118.7,1093.8Z" fill="#e3211a" />
<ellipse cx="1119.1" cy="1096.2" rx="5.7" ry="4.0" fill="#e3211a" transform="rotate(304 1119.1 1096.2)"/>
<ellipse cx="1115.7" cy="1101.3" rx="7.6" ry="8.4" fill="#3fcb5e"/>
<path d="M1052.2,1072.5 Q1055.1,1075.0 1056.7,1078.3 Q1058.3,1081.5 1058.3,1086.2 Q1058.2,1091.0 1051.9,1091.2 Q1045.6,1091.4 1040.5,1092.2 Q1035.4,1093.0 1033.5,1088.8 Q1031.6,1084.6 1032.9,1080.7 Q1034.3,1076.8 1036.4,1072.7 Q1038.4,1068.6 1043.9,1069.3 Q1049.3,1070.0 1052.2,1072.5Z" fill="#e3211a" />
<ellipse cx="1048.5" cy="1080.2" rx="7" ry="8" fill="#2a1a0c"/>
<path d="M1070.4,1103.2 Q1071.9,1106.6 1069.7,1109.3 Q1067.4,1111.9 1064.2,1114.1 Q1060.9,1116.3 1058.8,1116.1 Q1056.8,1115.8 1053.5,1113.2 Q1050.2,1110.6 1048.0,1107.2 Q1045.8,1103.9 1050.1,1101.4 Q1054.4,1099.0 1058.8,1095.3 Q1063.1,1091.7 1066.0,1095.7 Q1068.8,1099.8 1070.4,1103.2Z" fill="#e3211a" />
<ellipse cx="1057.9" cy="1100.7" rx="8.1" ry="4.7" fill="#e3211a" transform="rotate(253 1057.9 1100.7)"/>
<ellipse cx="1060.6" cy="1109.6" rx="8.3" ry="8.1" fill="#217034"/>
<path d="M1056.6,1130.1 Q1061.0,1132.9 1059.6,1138.0 Q1058.1,1143.2 1055.7,1145.5 Q1053.3,1147.9 1050.5,1147.1 Q1047.6,1146.4 1042.6,1146.3 Q1037.6,1146.2 1038.2,1141.6 Q1038.9,1137.1 1039.9,1134.2 Q1041.0,1131.3 1043.4,1128.2 Q1045.9,1125.2 1049.0,1126.3 Q1052.2,1127.4 1056.6,1130.1Z" fill="#e3211a" />
<ellipse cx="1052.4" cy="1143.1" rx="6.0" ry="5.2" fill="#e3211a" transform="rotate(53 1052.4 1143.1)"/>
<ellipse cx="1047.0" cy="1136.0" rx="7.7" ry="8.7" fill="#2ea84c"/>
<path d="M1099.8,1132.0 Q1097.1,1135.0 1095.0,1139.6 Q1093.0,1144.2 1087.2,1142.8 Q1081.3,1141.5 1078.6,1138.4 Q1076.0,1135.3 1076.7,1130.9 Q1077.4,1126.5 1079.7,1123.8 Q1082.1,1121.1 1087.6,1116.6 Q1093.1,1112.2 1093.9,1116.9 Q1094.7,1121.6 1098.7,1125.3 Q1102.6,1129.0 1099.8,1132.0Z" fill="#e3211a" />
<ellipse cx="1090.8" cy="1127.0" rx="7" ry="8" fill="#2a1a0c"/>
<path d="M1107.6,1109.4 Q1111.1,1109.6 1115.6,1111.5 Q1120.1,1113.5 1119.9,1116.6 Q1119.7,1119.8 1119.3,1121.9 Q1118.9,1124.1 1116.3,1127.6 Q1113.7,1131.2 1109.9,1130.9 Q1106.2,1130.7 1103.3,1127.7 Q1100.4,1124.6 1099.6,1120.9 Q1098.7,1117.1 1101.3,1113.2 Q1104.0,1109.3 1107.6,1109.4Z" fill="#e3211a" />
<ellipse cx="1108.2" cy="1119.4" rx="8.3" ry="8.9" fill="#217034"/>
<path d="M1134.4,1123.6 Q1130.3,1123.5 1127.0,1121.8 Q1123.8,1120.1 1122.7,1117.6 Q1121.6,1115.2 1120.7,1110.2 Q1119.7,1105.1 1123.2,1104.5 Q1126.7,1103.9 1130.2,1103.3 Q1133.8,1102.8 1137.7,1104.8 Q1141.6,1106.8 1142.2,1111.3 Q1142.8,1115.9 1140.7,1119.7 Q1138.6,1123.6 1134.4,1123.6Z" fill="#e3211a" />
<ellipse cx="1123.5" cy="1117.7" rx="6.3" ry="6.5" fill="#e3211a" transform="rotate(161 1123.5 1117.7)"/>
<ellipse cx="1131.6" cy="1114.9" rx="7.9" ry="8.7" fill="#217034"/>
<path d="M1156.0,1071.6 Q1159.3,1073.4 1158.6,1079.7 Q1157.9,1086.0 1154.7,1085.7 Q1151.6,1085.5 1148.1,1086.0 Q1144.6,1086.5 1141.1,1087.3 Q1137.6,1088.1 1136.2,1082.9 Q1134.9,1077.7 1138.4,1075.1 Q1142.0,1072.6 1144.2,1071.9 Q1146.4,1071.2 1149.6,1070.5 Q1152.7,1069.9 1156.0,1071.6Z" fill="#e3211a" />
<ellipse cx="1149.7" cy="1079.4" rx="7.8" ry="8.8" fill="#217034"/>
<path d="M1167.4,1081.3 Q1170.7,1078.9 1175.6,1080.7 Q1180.4,1082.5 1181.7,1086.3 Q1183.0,1090.0 1184.2,1092.3 Q1185.5,1094.6 1183.5,1099.4 Q1181.6,1104.3 1177.2,1102.2 Q1172.9,1100.1 1169.1,1099.1 Q1165.3,1098.2 1163.6,1096.3 Q1161.8,1094.5 1163.0,1089.1 Q1164.1,1083.8 1167.4,1081.3Z" fill="#e3211a" />
<ellipse cx="1172.8" cy="1098.6" rx="6.9" ry="5.1" fill="#e3211a" transform="rotate(92 1172.8 1098.6)"/>
<ellipse cx="1173.1" cy="1090.7" rx="8.1" ry="8.2" fill="#3fcb5e"/>
<path d="M1183.6,1109.0 Q1179.2,1107.3 1179.7,1104.1 Q1180.3,1100.8 1182.1,1097.5 Q1183.9,1094.2 1187.0,1093.6 Q1190.1,1093.0 1194.2,1093.4 Q1198.3,1093.7 1199.7,1095.6 Q1201.1,1097.5 1200.3,1101.4 Q1199.4,1105.2 1196.8,1108.1 Q1194.3,1110.9 1191.1,1110.8 Q1187.9,1110.7 1183.6,1109.0Z" fill="#e3211a" />
<ellipse cx="1197.3" cy="1105.6" rx="6.4" ry="6.1" fill="#e3211a" transform="rotate(34 1197.3 1105.6)"/>
<ellipse cx="1189.7" cy="1100.5" rx="7.9" ry="9.2" fill="#2ea84c"/>
<path d="M1163.7,1116.6 Q1162.0,1111.3 1160.5,1108.6 Q1159.0,1105.8 1161.8,1103.0 Q1164.6,1100.2 1167.6,1099.0 Q1170.6,1097.8 1173.9,1097.5 Q1177.2,1097.2 1180.1,1101.7 Q1183.1,1106.1 1182.8,1108.9 Q1182.5,1111.6 1179.2,1115.1 Q1175.9,1118.5 1170.7,1120.2 Q1165.4,1121.8 1163.7,1116.6Z" fill="#e3211a" />
<ellipse cx="1166.8" cy="1116.1" rx="8.8" ry="5.0" fill="#e3211a" transform="rotate(98 1166.8 1116.1)"/>
<ellipse cx="1167.8" cy="1108.9" rx="7.7" ry="8.6" fill="#2ea84c"/>
<path d="M1178.7,1120.2 Q1176.2,1115.9 1178.7,1114.3 Q1181.2,1112.6 1183.1,1110.1 Q1185.0,1107.5 1188.2,1107.6 Q1191.4,1107.7 1193.1,1110.1 Q1194.7,1112.5 1197.3,1116.5 Q1199.8,1120.5 1196.5,1121.6 Q1193.2,1122.7 1189.7,1123.5 Q1186.2,1124.3 1183.7,1124.4 Q1181.2,1124.6 1178.7,1120.2Z" fill="#e3211a" />
<ellipse cx="1191.4" cy="1111.6" rx="7.1" ry="5.1" fill="#e3211a" transform="rotate(283 1191.4 1111.6)"/>
<ellipse cx="1189.7" cy="1119.4" rx="7.5" ry="9.0" fill="#3fcb5e"/>
<path d="M1214.0,1079.3 Q1214.2,1083.0 1207.5,1084.9 Q1200.8,1086.7 1198.2,1084.2 Q1195.6,1081.6 1194.8,1077.6 Q1193.9,1073.5 1194.1,1070.5 Q1194.3,1067.5 1197.8,1064.5 Q1201.4,1061.5 1204.3,1062.7 Q1207.2,1063.9 1211.2,1065.1 Q1215.2,1066.2 1214.5,1070.9 Q1213.8,1075.6 1214.0,1079.3Z" fill="#e3211a" />
<ellipse cx="1207.1" cy="1071.1" rx="8.0" ry="8.3" fill="#217034"/>
<path d="M1222.9,1087.4 Q1227.7,1088.8 1228.6,1093.0 Q1229.6,1097.2 1228.2,1099.7 Q1226.9,1102.3 1223.4,1104.9 Q1219.9,1107.4 1216.6,1106.7 Q1213.4,1105.9 1211.7,1103.3 Q1210.0,1100.7 1209.2,1097.9 Q1208.5,1095.0 1211.2,1093.2 Q1213.9,1091.4 1216.0,1088.7 Q1218.1,1086.0 1222.9,1087.4Z" fill="#e3211a" />
<ellipse cx="1209.3" cy="1098.3" rx="7.4" ry="6.2" fill="#e3211a" transform="rotate(172 1209.3 1098.3)"/>
<ellipse cx="1219.2" cy="1096.8" rx="8.3" ry="9.2" fill="#217034"/>
<path d="M1175.5,1083.3 Q1170.4,1085.2 1166.8,1082.0 Q1163.1,1078.9 1163.6,1075.6 Q1164.1,1072.3 1163.0,1067.8 Q1161.9,1063.3 1166.2,1062.5 Q1170.5,1061.7 1174.0,1062.5 Q1177.4,1063.3 1178.8,1065.7 Q1180.3,1068.1 1181.5,1072.7 Q1182.7,1077.3 1181.6,1079.3 Q1180.5,1081.3 1175.5,1083.3Z" fill="#e3211a" />
<path d="M1142.1,1161.8 Q1141.8,1158.9 1142.7,1156.2 Q1143.6,1153.5 1146.3,1152.3 Q1148.9,1151.2 1153.8,1150.1 Q1158.6,1149.0 1161.6,1151.3 Q1164.6,1153.6 1163.1,1158.5 Q1161.5,1163.3 1158.2,1167.3 Q1154.8,1171.3 1151.5,1171.7 Q1148.3,1172.2 1145.3,1168.4 Q1142.3,1164.6 1142.1,1161.8Z" fill="#e3211a" />
<ellipse cx="1148.7" cy="1152.8" rx="7.4" ry="4.4" fill="#e3211a" transform="rotate(264 1148.7 1152.8)"/>
<ellipse cx="1149.7" cy="1161.7" rx="8.2" ry="8.2" fill="#217034"/>
<path d="M1084.6,1161.9 Q1087.2,1160.4 1091.8,1158.6 Q1096.4,1156.8 1097.4,1161.4 Q1098.4,1166.1 1100.3,1168.8 Q1102.2,1171.5 1097.7,1175.7 Q1093.2,1180.0 1090.5,1180.4 Q1087.7,1180.8 1085.5,1177.8 Q1083.3,1174.7 1079.2,1171.5 Q1075.2,1168.2 1078.6,1165.8 Q1081.9,1163.3 1084.6,1161.9Z" fill="#e3211a" />
<ellipse cx="1088.5" cy="1170.8" rx="8.3" ry="8.3" fill="#2ea84c"/>
<path d="M1127.9,1177.9 Q1127.1,1184.9 1122.6,1188.3 Q1118.1,1191.7 1113.3,1192.2 Q1108.6,1192.7 1105.9,1187.7 Q1103.3,1182.7 1101.2,1177.4 Q1099.0,1172.1 1101.6,1167.1 Q1104.2,1162.0 1108.8,1160.5 Q1113.5,1158.9 1118.9,1163.3 Q1124.4,1167.8 1126.5,1169.3 Q1128.7,1170.9 1127.9,1177.9Z" fill="#e3211a" />
<ellipse cx="1112.0" cy="1174.5" rx="7" ry="8" fill="#2a1a0c"/>
<path d="M1108.1,1193.6 Q1103.8,1196.7 1101.0,1196.7 Q1098.2,1196.7 1093.6,1196.1 Q1089.1,1195.6 1088.8,1190.9 Q1088.5,1186.2 1087.8,1182.9 Q1087.1,1179.6 1092.6,1176.1 Q1098.0,1172.5 1101.1,1176.1 Q1104.1,1179.7 1106.7,1180.8 Q1109.3,1181.8 1110.8,1186.1 Q1112.3,1190.4 1108.1,1193.6Z" fill="#e3211a" />
<ellipse cx="1109.2" cy="1189.6" rx="5.2" ry="4.1" fill="#e3211a" transform="rotate(5 1109.2 1189.6)"/>
<ellipse cx="1101.4" cy="1188.9" rx="8.1" ry="8.7" fill="#2ea84c"/>
<path d="M1135.3,1193.2 Q1133.4,1194.8 1129.0,1194.8 Q1124.5,1194.7 1122.5,1190.7 Q1120.4,1186.7 1120.7,1183.4 Q1121.0,1180.2 1123.6,1177.8 Q1126.2,1175.3 1129.5,1173.2 Q1132.9,1171.2 1136.4,1174.4 Q1139.9,1177.6 1142.2,1182.1 Q1144.6,1186.5 1140.9,1189.1 Q1137.2,1191.7 1135.3,1193.2Z" fill="#e3211a" />
<ellipse cx="1127.0" cy="1179.8" rx="5.7" ry="4.3" fill="#e3211a" transform="rotate(226 1127.0 1179.8)"/>
<ellipse cx="1131.6" cy="1184.4" rx="8.2" ry="8.5" fill="#217034"/>
<path d="M1090.3,1192.5 Q1093.5,1195.8 1089.0,1197.8 Q1084.6,1199.9 1080.5,1201.6 Q1076.4,1203.3 1073.7,1201.5 Q1071.0,1199.7 1071.3,1195.9 Q1071.6,1192.0 1071.0,1188.9 Q1070.3,1185.8 1072.5,1183.1 Q1074.7,1180.4 1079.9,1181.3 Q1085.2,1182.1 1086.2,1185.6 Q1087.2,1189.1 1090.3,1192.5Z" fill="#e3211a" />
<ellipse cx="1079.6" cy="1185.4" rx="8.7" ry="5.6" fill="#e3211a" transform="rotate(284 1079.6 1185.4)"/>
<ellipse cx="1077.2" cy="1194.9" rx="7.6" ry="8.9" fill="#217034"/>
<path d="M1217.3,1176.8 Q1215.3,1179.6 1211.6,1183.3 Q1207.9,1186.9 1204.0,1185.3 Q1200.1,1183.7 1199.3,1179.2 Q1198.6,1174.8 1199.2,1170.3 Q1199.8,1165.8 1201.7,1163.1 Q1203.6,1160.4 1207.0,1161.3 Q1210.5,1162.2 1214.0,1163.3 Q1217.4,1164.4 1218.3,1169.2 Q1219.2,1174.0 1217.3,1176.8Z" fill="#e3211a" />
<ellipse cx="1210.1" cy="1172.3" rx="7.6" ry="8.5" fill="#217034"/>
<path d="M1187.7,1190.0 Q1187.6,1192.4 1188.0,1195.4 Q1188.4,1198.4 1184.2,1199.6 Q1180.0,1200.8 1176.7,1200.2 Q1173.4,1199.5 1172.3,1196.3 Q1171.3,1193.0 1170.8,1189.3 Q1170.3,1185.7 1172.2,1184.5 Q1174.1,1183.3 1178.1,1183.4 Q1182.0,1183.5 1184.9,1185.6 Q1187.8,1187.6 1187.7,1190.0Z" fill="#e3211a" />
<ellipse cx="1188.4" cy="1192.3" rx="8.8" ry="4.6" fill="#e3211a" transform="rotate(26 1188.4 1192.3)"/>
<ellipse cx="1181.4" cy="1188.9" rx="7.7" ry="8.7" fill="#217034"/>
<path d="M1218.4,1191.1 Q1218.4,1195.4 1215.5,1199.4 Q1212.6,1203.4 1209.4,1202.7 Q1206.3,1201.9 1201.7,1201.4 Q1197.1,1200.9 1195.4,1197.2 Q1193.7,1193.5 1195.1,1190.8 Q1196.5,1188.2 1198.8,1186.5 Q1201.1,1184.9 1204.7,1184.5 Q1208.3,1184.2 1213.4,1185.5 Q1218.5,1186.8 1218.4,1191.1Z" fill="#e3211a" />
<ellipse cx="1214.6" cy="1191.6" rx="5.0" ry="5.1" fill="#e3211a" transform="rotate(348 1214.6 1191.6)"/>
<ellipse cx="1206.3" cy="1193.4" rx="7.9" ry="8.4" fill="#3fcb5e"/>
<path d="M1188.0,1218.9 Q1184.0,1221.1 1180.8,1219.8 Q1177.7,1218.5 1175.3,1215.3 Q1173.0,1212.1 1174.6,1207.5 Q1176.2,1202.9 1178.7,1200.8 Q1181.2,1198.6 1183.5,1198.1 Q1185.8,1197.6 1189.5,1198.3 Q1193.3,1199.1 1194.4,1203.2 Q1195.5,1207.4 1193.7,1212.0 Q1192.0,1216.6 1188.0,1218.9Z" fill="#e3211a" />
<ellipse cx="1182.9" cy="1207.0" rx="8.2" ry="8.8" fill="#217034"/>
<path d="M1119.8,1222.2 Q1117.1,1218.9 1121.4,1217.4 Q1125.6,1215.9 1129.3,1214.6 Q1132.9,1213.2 1137.3,1214.6 Q1141.8,1215.9 1141.4,1218.7 Q1141.0,1221.4 1140.5,1226.2 Q1139.9,1231.0 1136.5,1233.2 Q1133.0,1235.4 1130.1,1235.8 Q1127.1,1236.3 1124.8,1230.9 Q1122.6,1225.5 1119.8,1222.2Z" fill="#e3211a" />
<ellipse cx="1131.6" cy="1226.6" rx="8.1" ry="8.7" fill="#217034"/>
<path d="M1160.4,1217.7 Q1164.3,1216.5 1165.5,1221.8 Q1166.6,1227.1 1167.4,1228.9 Q1168.1,1230.7 1166.8,1236.9 Q1165.5,1243.0 1162.0,1242.4 Q1158.5,1241.8 1152.7,1240.1 Q1146.8,1238.3 1144.7,1234.7 Q1142.6,1231.0 1146.8,1227.2 Q1150.9,1223.3 1153.7,1221.1 Q1156.5,1218.9 1160.4,1217.7Z" fill="#e3211a" />
<ellipse cx="1160.3" cy="1229.7" rx="8.3" ry="8.4" fill="#217034"/>
<path d="M1166.1,1221.9 Q1167.4,1216.1 1172.4,1216.8 Q1177.4,1217.6 1179.5,1218.5 Q1181.6,1219.4 1185.4,1221.6 Q1189.2,1223.8 1187.7,1227.8 Q1186.2,1231.7 1185.6,1235.6 Q1184.9,1239.5 1179.2,1238.2 Q1173.6,1236.9 1168.9,1237.0 Q1164.2,1237.1 1164.5,1232.4 Q1164.8,1227.7 1166.1,1221.9Z" fill="#e3211a" />
<ellipse cx="1178.4" cy="1225.1" rx="7.5" ry="9.0" fill="#2ea84c"/>
<path d="M1213.7,1229.4 Q1214.9,1232.4 1210.3,1235.3 Q1205.7,1238.2 1203.9,1239.4 Q1202.1,1240.7 1197.6,1238.2 Q1193.1,1235.8 1194.0,1232.4 Q1194.9,1228.9 1194.2,1226.0 Q1193.4,1223.0 1198.0,1222.1 Q1202.6,1221.3 1204.8,1220.9 Q1206.9,1220.6 1209.7,1223.4 Q1212.5,1226.3 1213.7,1229.4Z" fill="#e3211a" />
<ellipse cx="1210.3" cy="1236.6" rx="8.8" ry="5.9" fill="#e3211a" transform="rotate(27 1210.3 1236.6)"/>
<ellipse cx="1202.6" cy="1232.7" rx="8.4" ry="8.2" fill="#217034"/>
<path d="M1228.4,1226.3 Q1231.6,1231.0 1231.6,1233.2 Q1231.7,1235.4 1230.4,1238.7 Q1229.1,1241.9 1225.6,1243.5 Q1222.1,1245.1 1219.0,1246.1 Q1216.0,1247.2 1214.6,1242.4 Q1213.2,1237.6 1214.2,1233.8 Q1215.2,1229.9 1217.4,1225.6 Q1219.5,1221.2 1222.3,1221.4 Q1225.1,1221.7 1228.4,1226.3Z" fill="#e3211a" />
<ellipse cx="1218.2" cy="1234.5" rx="6.1" ry="5.4" fill="#e3211a" transform="rotate(191 1218.2 1234.5)"/>
<ellipse cx="1224.5" cy="1235.7" rx="8.0" ry="8.8" fill="#3fcb5e"/>
<path d="M1086.8,1245.5 Q1083.8,1243.5 1079.9,1241.0 Q1076.0,1238.4 1076.9,1234.0 Q1077.8,1229.6 1081.6,1227.5 Q1085.3,1225.4 1088.6,1225.9 Q1091.9,1226.3 1094.2,1229.7 Q1096.5,1233.1 1097.3,1235.6 Q1098.1,1238.0 1096.8,1240.8 Q1095.6,1243.5 1092.7,1245.6 Q1089.9,1247.6 1086.8,1245.5Z" fill="#e3211a" />
<ellipse cx="1087.5" cy="1244.2" rx="5.7" ry="6.5" fill="#e3211a" transform="rotate(86 1087.5 1244.2)"/>
<ellipse cx="1087.0" cy="1237.2" rx="8.2" ry="9.1" fill="#3fcb5e"/>
<path d="M1229.3,1199.8 Q1233.7,1203.7 1235.6,1204.2 Q1237.5,1204.8 1236.8,1208.6 Q1236.2,1212.4 1234.9,1214.8 Q1233.5,1217.2 1229.6,1217.9 Q1225.7,1218.6 1224.0,1217.4 Q1222.2,1216.1 1221.2,1212.4 Q1220.3,1208.6 1220.9,1206.3 Q1221.5,1204.0 1223.2,1199.9 Q1224.9,1195.9 1229.3,1199.8Z" fill="#e3211a" />
<ellipse cx="1227.5" cy="1208.5" rx="8.2" ry="8.4" fill="#2ea84c"/>
</g></g>
<rect x="1245.6" y="874.6" width="368.6" height="368.6" fill="#140403"/>
<g clip-path="url(#clip2)">
<g filter="url(#soft2)">
<circle cx="1287.0" cy="889.4" r="17" fill="#640f0c" fill-opacity="0.45"/>
<circle cx="1312.7" cy="890.1" r="17" fill="#640f0c" fill-opacity="0.45"/>
<circle cx="1259.1" cy="900.7" r="17" fill="#640f0c" fill-opacity="0.45"/>
<circle cx="1281.8" cy="903.7" r="17" fill="#640f0c" fill-opacity="0.45"/>
<circle cx="1302.1" cy="923.3" r="17" fill="#640f0c" fill-opacity="0.45"/>
<circle cx="1336.9" cy="926.4" r="17" fill="#640f0c" fill-opacity="0.45"/>
<circle cx="1321.8" cy="939.2" r="17" fill="#640f0c" fill-opacity="0.45"/>
<circle cx="1253.8" cy="950.5" r="17" fill="#640f0c" fill-opacity="0.45"/>
<circle cx="1287.0" cy="953.5" r="17" fill="#640f0c" fill-opacity="0.45"/>
<circle cx="1289.3" cy="940.0" r="17" fill="#640f0c" fill-opacity="0.45"/>
<circle cx="1274.2" cy="973.2" r="17" fill="#640f0c" fill-opacity="0.45"/>
<circle cx="1311.2" cy="976.2" r="17" fill="#640f0c" fill-opacity="0.45"/>
<circle cx="1355.7" cy="885.6" r="17" fill="#640f0c" fill-opacity="0.45"/>
<circle cx="1373.1" cy="886.3" r="17" fill="#640f0c" fill-opacity="0.45"/>
<circle cx="1389.0" cy="921.8" r="17" fill="#640f0c" fill-opacity="0.45"/>
<circle cx="1414.6" cy="930.9" r="17" fill="#640f0c" fill-opacity="0.45"/>
<circle cx="1413.1" cy="948.9" r="17" fill="#640f0c" fill-opacity="0.45"/>
<circle cx="1429.0" cy="906.7" r="17" fill="#640f0c" fill-opacity="0.45"/>
<circle cx="1384.4" cy="955.8" r="17" fill="#640f0c" fill-opacity="0.45"/>
<circle cx="1371.6" cy="982.2" r="17" fill="#640f0c" fill-opacity="0.45"/>
<circle cx="1348.2" cy="997.3" r="17" fill="#640f0c" fill-opacity="0.45"/>
<circle cx="1332.3" cy="1016.2" r="17" fill="#640f0c" fill-opacity="0.45"/>
<circle cx="1385.2" cy="1012.4" r="17" fill="#640f0c" fill-opacity="0.45"/>
<circle cx="1364.8" cy="1021.5" r="17" fill="#640f0c" fill-opacity="0.45"/>
<circle cx="1269.7" cy="1027.5" r="17" fill="#640f0c" fill-opacity="0.45"/>
<circle cx="1310.4" cy="1027.5" r="17" fill="#640f0c" fill-opacity="0.45"/>
<circle cx="1364.8" cy="1051.7" r="17" fill="#640f0c" fill-opacity="0.45"/>
<circle cx="1340.6" cy="1045.7" r="17" fill="#640f0c" fill-opacity="0.45"/>
<circle cx="1290.8" cy="1048.7" r="17" fill="#640f0c" fill-opacity="0.45"/>
<circle cx="1416.2" cy="1012.4" r="17" fill="#640f0c" fill-opacity="0.45"/>
<circle cx="1430.5" cy="1023.0" r="17" fill="#640f0c" fill-opacity="0.45"/>
<circle cx="1485.4" cy="888.6" r="17" fill="#640f0c" fill-opacity="0.45"/>
<circle cx="1511.1" cy="885.6" r="17" fill="#640f0c" fill-opacity="0.45"/>
<circle cx="1509.5" cy="902.2" r="17" fill="#640f0c" fill-opacity="0.45"/>
<circle cx="1548.8" cy="878.0" r="17" fill="#640f0c" fill-opacity="0.45"/>
<circle cx="1541.3" cy="900.7" r="17" fill="#640f0c" fill-opacity="0.45"/>
<circle cx="1432.5" cy="906.7" r="17" fill="#640f0c" fill-opacity="0.45"/>
<circle cx="1461.2" cy="905.2" r="17" fill="#640f0c" fill-opacity="0.45"/>
<circle cx="1472.5" cy="923.3" r="17" fill="#640f0c" fill-opacity="0.45"/>
<circle cx="1481.6" cy="930.9" r="17" fill="#640f0c" fill-opacity="0.45"/>
<circle cx="1440.1" cy="934.7" r="17" fill="#640f0c" fill-opacity="0.45"/>
<circle cx="1461.2" cy="938.4" r="17" fill="#640f0c" fill-opacity="0.45"/>
<circle cx="1437.8" cy="955.8" r="17" fill="#640f0c" fill-opacity="0.45"/>
<circle cx="1462.7" cy="956.6" r="17" fill="#640f0c" fill-opacity="0.45"/>
<circle cx="1437.1" cy="973.2" r="17" fill="#640f0c" fill-opacity="0.45"/>
<circle cx="1450.7" cy="982.2" r="17" fill="#640f0c" fill-opacity="0.45"/>
<circle cx="1588.1" cy="920.3" r="17" fill="#640f0c" fill-opacity="0.45"/>
<circle cx="1607.0" cy="936.2" r="17" fill="#640f0c" fill-opacity="0.45"/>
<circle cx="1570.0" cy="960.3" r="17" fill="#640f0c" fill-opacity="0.45"/>
<circle cx="1565.4" cy="986.0" r="17" fill="#640f0c" fill-opacity="0.45"/>
<circle cx="1520.1" cy="992.8" r="17" fill="#640f0c" fill-opacity="0.45"/>
<circle cx="1548.8" cy="992.8" r="17" fill="#640f0c" fill-opacity="0.45"/>
<circle cx="1586.6" cy="997.3" r="17" fill="#640f0c" fill-opacity="0.45"/>
<circle cx="1441.6" cy="1007.9" r="17" fill="#640f0c" fill-opacity="0.45"/>
<circle cx="1460.5" cy="1006.4" r="17" fill="#640f0c" fill-opacity="0.45"/>
<circle cx="1435.6" cy="1022.3" r="17" fill="#640f0c" fill-opacity="0.45"/>
<circle cx="1448.4" cy="1030.6" r="17" fill="#640f0c" fill-opacity="0.45"/>
<circle cx="1497.5" cy="1024.5" r="17" fill="#640f0c" fill-opacity="0.45"/>
<circle cx="1526.2" cy="1023.0" r="17" fill="#640f0c" fill-opacity="0.45"/>
<circle cx="1556.4" cy="1010.9" r="17" fill="#640f0c" fill-opacity="0.45"/>
<circle cx="1585.1" cy="1018.5" r="17" fill="#640f0c" fill-opacity="0.45"/>
<circle cx="1513.3" cy="1042.6" r="17" fill="#640f0c" fill-opacity="0.45"/>
<circle cx="1533.0" cy="1054.7" r="17" fill="#640f0c" fill-opacity="0.45"/>
<circle cx="1554.9" cy="1035.1" r="17" fill="#640f0c" fill-opacity="0.45"/>
<circle cx="1492.9" cy="1054.7" r="17" fill="#640f0c" fill-opacity="0.45"/>
<circle cx="1268.9" cy="1066.6" r="17" fill="#640f0c" fill-opacity="0.45"/>
<circle cx="1256.8" cy="1086.2" r="17" fill="#640f0c" fill-opacity="0.45"/>
<circle cx="1283.3" cy="1088.5" r="17" fill="#640f0c" fill-opacity="0.45"/>
<circle cx="1310.4" cy="1092.2" r="17" fill="#640f0c" fill-opacity="0.45"/>
<circle cx="1336.1" cy="1089.2" r="17" fill="#640f0c" fill-opacity="0.45"/>
<circle cx="1367.8" cy="1069.6" r="17" fill="#640f0c" fill-opacity="0.45"/>
<circle cx="1363.3" cy="1057.5" r="17" fill="#640f0c" fill-opacity="0.45"/>
<circle cx="1337.6" cy="1060.5" r="17" fill="#640f0c" fill-opacity="0.45"/>
<circle cx="1405.6" cy="1080.2" r="17" fill="#640f0c" fill-opacity="0.45"/>
<circle cx="1375.4" cy="1095.3" r="17" fill="#640f0c" fill-opacity="0.45"/>
<circle cx="1399.5" cy="1116.4" r="17" fill="#640f0c" fill-opacity="0.45"/>
<circle cx="1428.2" cy="1119.4" r="17" fill="#640f0c" fill-opacity="0.45"/>
<circle cx="1339.1" cy="1117.9" r="17" fill="#640f0c" fill-opacity="0.45"/>
<circle cx="1379.9" cy="1122.4" r="17" fill="#640f0c" fill-opacity="0.45"/>
<circle cx="1301.4" cy="1128.5" r="17" fill="#640f0c" fill-opacity="0.45"/>
<circle cx="1315.0" cy="1145.9" r="17" fill="#640f0c" fill-opacity="0.45"/>
<circle cx="1327.1" cy="1140.6" r="17" fill="#640f0c" fill-opacity="0.45"/>
<circle cx="1342.9" cy="1140.6" r="17" fill="#640f0c" fill-opacity="0.45"/>
<circle cx="1364.8" cy="1119.4" r="17" fill="#640f0c" fill-opacity="0.45"/>
<circle cx="1375.4" cy="1137.5" r="17" fill="#640f0c" fill-opacity="0.45"/>
<circle cx="1419.2" cy="1148.1" r="17" fill="#640f0c" fill-opacity="0.45"/>
<circle cx="1257.6" cy="1145.1" r="17" fill="#640f0c" fill-opacity="0.45"/>
<circle cx="1304.4" cy="1172.3" r="17" fill="#640f0c" fill-opacity="0.45"/>
<circle cx="1301.4" cy="1164.7" r="17" fill="#640f0c" fill-opacity="0.45"/>
<circle cx="1379.9" cy="1169.3" r="17" fill="#640f0c" fill-opacity="0.45"/>
<circle cx="1413.1" cy="1175.3" r="17" fill="#640f0c" fill-opacity="0.45"/>
<circle cx="1395.0" cy="1187.4" r="17" fill="#640f0c" fill-opacity="0.45"/>
<circle cx="1367.8" cy="1185.9" r="17" fill="#640f0c" fill-opacity="0.45"/>
<circle cx="1370.9" cy="1201.7" r="17" fill="#640f0c" fill-opacity="0.45"/>
<circle cx="1382.9" cy="1214.6" r="17" fill="#640f0c" fill-opacity="0.45"/>
<circle cx="1265.1" cy="1199.5" r="17" fill="#640f0c" fill-opacity="0.45"/>
<circle cx="1264.4" cy="1219.1" r="17" fill="#640f0c" fill-opacity="0.45"/>
<circle cx="1298.4" cy="1213.1" r="17" fill="#640f0c" fill-opacity="0.45"/>
<circle cx="1326.3" cy="1207.0" r="17" fill="#640f0c" fill-opacity="0.45"/>
<circle cx="1315.7" cy="1216.8" r="17" fill="#640f0c" fill-opacity="0.45"/>
<circle cx="1336.1" cy="1216.8" r="17" fill="#640f0c" fill-opacity="0.45"/>
<circle cx="1414.6" cy="1210.0" r="17" fill="#640f0c" fill-opacity="0.45"/>
<circle cx="1345.2" cy="1237.2" r="17" fill="#640f0c" fill-opacity="0.45"/>
<circle cx="1284.8" cy="1222.1" r="17" fill="#640f0c" fill-opacity="0.45"/>
<circle cx="1462.0" cy="1076.4" r="17" fill="#640f0c" fill-opacity="0.45"/>
<circle cx="1483.1" cy="1093.0" r="17" fill="#640f0c" fill-opacity="0.45"/>
<circle cx="1456.7" cy="1104.3" r="17" fill="#640f0c" fill-opacity="0.45"/>
<circle cx="1434.8" cy="1117.9" r="17" fill="#640f0c" fill-opacity="0.45"/>
<circle cx="1471.8" cy="1116.4" r="17" fill="#640f0c" fill-opacity="0.45"/>
<circle cx="1503.5" cy="1116.4" r="17" fill="#640f0c" fill-opacity="0.45"/>
<circle cx="1532.2" cy="1059.0" r="17" fill="#640f0c" fill-opacity="0.45"/>
<circle cx="1542.0" cy="1072.6" r="17" fill="#640f0c" fill-opacity="0.45"/>
<circle cx="1560.9" cy="1077.1" r="17" fill="#640f0c" fill-opacity="0.45"/>
<circle cx="1547.3" cy="1092.2" r="17" fill="#640f0c" fill-opacity="0.45"/>
<circle cx="1538.2" cy="1101.3" r="17" fill="#640f0c" fill-opacity="0.45"/>
<circle cx="1563.2" cy="1095.3" r="17" fill="#640f0c" fill-opacity="0.45"/>
<circle cx="1550.3" cy="1111.1" r="17" fill="#640f0c" fill-opacity="0.45"/>
<circle cx="1586.6" cy="1120.9" r="17" fill="#640f0c" fill-opacity="0.45"/>
<circle cx="1480.9" cy="1138.3" r="17" fill="#640f0c" fill-opacity="0.45"/>
<circle cx="1522.4" cy="1136.0" r="17" fill="#640f0c" fill-opacity="0.45"/>
<circle cx="1503.5" cy="1150.4" r="17" fill="#640f0c" fill-opacity="0.45"/>
<circle cx="1517.1" cy="1162.5" r="17" fill="#640f0c" fill-opacity="0.45"/>
<circle cx="1540.5" cy="1155.7" r="17" fill="#640f0c" fill-opacity="0.45"/>
<circle cx="1598.6" cy="1149.6" r="17" fill="#640f0c" fill-opacity="0.45"/>
<circle cx="1571.5" cy="1161.7" r="17" fill="#640f0c" fill-opacity="0.45"/>
<circle cx="1583.5" cy="1176.8" r="17" fill="#640f0c" fill-opacity="0.45"/>
<circle cx="1464.2" cy="1188.9" r="17" fill="#640f0c" fill-opacity="0.45"/>
<circle cx="1496.7" cy="1190.4" r="17" fill="#640f0c" fill-opacity="0.45"/>
<circle cx="1447.6" cy="1208.5" r="17" fill="#640f0c" fill-opacity="0.45"/>
<circle cx="1465.8" cy="1222.1" r="17" fill="#640f0c" fill-opacity="0.45"/>
<circle cx="1492.9" cy="1228.2" r="17" fill="#640f0c" fill-opacity="0.45"/>
<circle cx="1435.6" cy="1239.5" r="17" fill="#640f0c" fill-opacity="0.45"/>
<circle cx="1452.2" cy="1239.5" r="17" fill="#640f0c" fill-opacity="0.45"/>
<circle cx="1551.1" cy="1213.8" r="17" fill="#640f0c" fill-opacity="0.45"/>
<circle cx="1573.0" cy="1199.5" r="17" fill="#640f0c" fill-opacity="0.45"/>
<circle cx="1588.1" cy="1217.6" r="17" fill="#640f0c" fill-opacity="0.45"/>
<circle cx="1610.7" cy="1235.7" r="17" fill="#640f0c" fill-opacity="0.45"/>
<circle cx="1432.5" cy="1143.6" r="17" fill="#640f0c" fill-opacity="0.45"/>
</g><g filter="url(#soft)">
<path d="M1287.0,889.4 Q1290.0,898.2 1281.8,903.7" fill="none" stroke="#d8221d" stroke-width="1.4" stroke-opacity="0.8"/>
<path d="M1312.7,890.1 Q1297.1,901.3 1281.8,903.7" fill="none" stroke="#d8221d" stroke-width="1.4" stroke-opacity="0.8"/>
<path d="M1259.1,900.7 Q1274.3,899.1 1281.8,903.7" fill="none" stroke="#d8221d" stroke-width="1.4" stroke-opacity="0.8"/>
<path d="M1259.1,900.7 Q1274.4,889.5 1287.0,889.4" fill="none" stroke="#d8221d" stroke-width="1.4" stroke-opacity="0.8"/>
<path d="M1281.8,903.7 Q1274.0,905.1 1259.1,900.7" fill="none" stroke="#d8221d" stroke-width="1.4" stroke-opacity="0.8"/>
<path d="M1302.1,923.3 Q1290.0,936.9 1289.3,940.0" fill="none" stroke="#d8221d" stroke-width="1.4" stroke-opacity="0.8"/>
<path d="M1336.9,926.4 Q1329.8,932.7 1321.8,939.2" fill="none" stroke="#d8221d" stroke-width="1.4" stroke-opacity="0.8"/>
<path d="M1336.9,926.4 Q1324.5,928.9 1302.1,923.3" fill="none" stroke="#d8221d" stroke-width="1.4" stroke-opacity="0.8"/>
<path d="M1321.8,939.2 Q1333.6,928.9 1336.9,926.4" fill="none" stroke="#d8221d" stroke-width="1.4" stroke-opacity="0.8"/>
<path d="M1287.0,953.5 Q1282.2,952.4 1289.3,940.0" fill="none" stroke="#d8221d" stroke-width="1.4" stroke-opacity="0.8"/>
<path d="M1287.0,953.5 Q1280.4,958.1 1274.2,973.2" fill="none" stroke="#d8221d" stroke-width="1.4" stroke-opacity="0.8"/>
<path d="M1289.3,940.0 Q1293.2,926.8 1302.1,923.3" fill="none" stroke="#d8221d" stroke-width="1.4" stroke-opacity="0.8"/>
<path d="M1274.2,973.2 Q1281.5,958.9 1287.0,953.5" fill="none" stroke="#d8221d" stroke-width="1.4" stroke-opacity="0.8"/>
<path d="M1274.2,973.2 Q1264.7,964.8 1253.8,950.5" fill="none" stroke="#d8221d" stroke-width="1.4" stroke-opacity="0.8"/>
<path d="M1311.2,976.2 Q1305.0,961.9 1287.0,953.5" fill="none" stroke="#d8221d" stroke-width="1.4" stroke-opacity="0.8"/>
<path d="M1311.2,976.2 Q1287.7,979.7 1274.2,973.2" fill="none" stroke="#d8221d" stroke-width="1.4" stroke-opacity="0.8"/>
<path d="M1355.7,885.6 Q1360.5,889.7 1373.1,886.3" fill="none" stroke="#d8221d" stroke-width="1.4" stroke-opacity="0.8"/>
<path d="M1355.7,885.6 Q1329.8,892.4 1312.7,890.1" fill="none" stroke="#d8221d" stroke-width="1.4" stroke-opacity="0.8"/>
<path d="M1373.1,886.3 Q1362.7,889.4 1355.7,885.6" fill="none" stroke="#d8221d" stroke-width="1.4" stroke-opacity="0.8"/>
<path d="M1373.1,886.3 Q1381.9,902.7 1389.0,921.8" fill="none" stroke="#d8221d" stroke-width="1.4" stroke-opacity="0.8"/>
<path d="M1389.0,921.8 Q1390.1,944.1 1384.4,955.8" fill="none" stroke="#d8221d" stroke-width="1.4" stroke-opacity="0.8"/>
<path d="M1414.6,930.9 Q1429.8,929.4 1440.1,934.7" fill="none" stroke="#d8221d" stroke-width="1.4" stroke-opacity="0.8"/>
<path d="M1413.1,948.9 Q1428.8,954.9 1437.8,955.8" fill="none" stroke="#d8221d" stroke-width="1.4" stroke-opacity="0.8"/>
<path d="M1429.0,906.7 Q1425.6,913.9 1414.6,930.9" fill="none" stroke="#d8221d" stroke-width="1.4" stroke-opacity="0.8"/>
<path d="M1384.4,955.8 Q1380.5,968.6 1371.6,982.2" fill="none" stroke="#d8221d" stroke-width="1.4" stroke-opacity="0.8"/>
<path d="M1384.4,955.8 Q1400.3,957.0 1413.1,948.9" fill="none" stroke="#d8221d" stroke-width="1.4" stroke-opacity="0.8"/>
<path d="M1371.6,982.2 Q1375.5,969.0 1384.4,955.8" fill="none" stroke="#d8221d" stroke-width="1.4" stroke-opacity="0.8"/>
<path d="M1348.2,997.3 Q1346.1,1011.7 1332.3,1016.2" fill="none" stroke="#d8221d" stroke-width="1.4" stroke-opacity="0.8"/>
<path d="M1348.2,997.3 Q1365.6,992.6 1371.6,982.2" fill="none" stroke="#d8221d" stroke-width="1.4" stroke-opacity="0.8"/>
<path d="M1332.3,1016.2 Q1316.4,1020.7 1310.4,1027.5" fill="none" stroke="#d8221d" stroke-width="1.4" stroke-opacity="0.8"/>
<path d="M1332.3,1016.2 Q1335.5,1011.6 1348.2,997.3" fill="none" stroke="#d8221d" stroke-width="1.4" stroke-opacity="0.8"/>
<path d="M1385.2,1012.4 Q1371.9,1011.9 1364.8,1021.5" fill="none" stroke="#d8221d" stroke-width="1.4" stroke-opacity="0.8"/>
<path d="M1385.2,1012.4 Q1398.7,1017.8 1416.2,1012.4" fill="none" stroke="#d8221d" stroke-width="1.4" stroke-opacity="0.8"/>
<path d="M1364.8,1021.5 Q1374.2,1012.8 1385.2,1012.4" fill="none" stroke="#d8221d" stroke-width="1.4" stroke-opacity="0.8"/>
<path d="M1269.7,1027.5 Q1281.6,1038.0 1290.8,1048.7" fill="none" stroke="#d8221d" stroke-width="1.4" stroke-opacity="0.8"/>
<path d="M1269.7,1027.5 Q1268.2,1051.9 1268.9,1066.6" fill="none" stroke="#d8221d" stroke-width="1.4" stroke-opacity="0.8"/>
<path d="M1364.8,1051.7 Q1361.8,1052.6 1363.3,1057.5" fill="none" stroke="#d8221d" stroke-width="1.4" stroke-opacity="0.8"/>
<path d="M1364.8,1051.7 Q1363.9,1063.8 1367.8,1069.6" fill="none" stroke="#d8221d" stroke-width="1.4" stroke-opacity="0.8"/>
<path d="M1340.6,1045.7 Q1355.3,1046.8 1364.8,1051.7" fill="none" stroke="#d8221d" stroke-width="1.4" stroke-opacity="0.8"/>
<path d="M1290.8,1048.7 Q1278.1,1059.1 1268.9,1066.6" fill="none" stroke="#d8221d" stroke-width="1.4" stroke-opacity="0.8"/>
<path d="M1416.2,1012.4 Q1427.2,1016.9 1435.6,1022.3" fill="none" stroke="#d8221d" stroke-width="1.4" stroke-opacity="0.8"/>
<path d="M1430.5,1023.0 Q1427.7,1015.0 1416.2,1012.4" fill="none" stroke="#d8221d" stroke-width="1.4" stroke-opacity="0.8"/>
<path d="M1485.4,888.6 Q1494.2,890.6 1509.5,902.2" fill="none" stroke="#d8221d" stroke-width="1.4" stroke-opacity="0.8"/>
<path d="M1511.1,885.6 Q1502.8,890.4 1485.4,888.6" fill="none" stroke="#d8221d" stroke-width="1.4" stroke-opacity="0.8"/>
<path d="M1509.5,902.2 Q1514.8,898.1 1511.1,885.6" fill="none" stroke="#d8221d" stroke-width="1.4" stroke-opacity="0.8"/>
<path d="M1548.8,878.0 Q1550.7,894.7 1541.3,900.7" fill="none" stroke="#d8221d" stroke-width="1.4" stroke-opacity="0.8"/>
<path d="M1548.8,878.0 Q1531.5,879.9 1511.1,885.6" fill="none" stroke="#d8221d" stroke-width="1.4" stroke-opacity="0.8"/>
<path d="M1432.5,906.7 Q1448.7,907.5 1461.2,905.2" fill="none" stroke="#d8221d" stroke-width="1.4" stroke-opacity="0.8"/>
<path d="M1461.2,905.2 Q1460.9,910.7 1472.5,923.3" fill="none" stroke="#d8221d" stroke-width="1.4" stroke-opacity="0.8"/>
<path d="M1472.5,923.3 Q1482.0,926.7 1481.6,930.9" fill="none" stroke="#d8221d" stroke-width="1.4" stroke-opacity="0.8"/>
<path d="M1472.5,923.3 Q1463.0,929.1 1461.2,938.4" fill="none" stroke="#d8221d" stroke-width="1.4" stroke-opacity="0.8"/>
<path d="M1481.6,930.9 Q1474.6,929.9 1472.5,923.3" fill="none" stroke="#d8221d" stroke-width="1.4" stroke-opacity="0.8"/>
<path d="M1481.6,930.9 Q1473.3,929.0 1461.2,938.4" fill="none" stroke="#d8221d" stroke-width="1.4" stroke-opacity="0.8"/>
<path d="M1440.1,934.7 Q1444.8,943.8 1437.8,955.8" fill="none" stroke="#d8221d" stroke-width="1.4" stroke-opacity="0.8"/>
<path d="M1461.2,938.4 Q1463.0,949.9 1462.7,956.6" fill="none" stroke="#d8221d" stroke-width="1.4" stroke-opacity="0.8"/>
<path d="M1461.2,938.4 Q1468.3,929.5 1472.5,923.3" fill="none" stroke="#d8221d" stroke-width="1.4" stroke-opacity="0.8"/>
<path d="M1462.7,956.6 Q1445.3,951.6 1437.8,955.8" fill="none" stroke="#d8221d" stroke-width="1.4" stroke-opacity="0.8"/>
<path d="M1437.1,973.2 Q1449.8,981.1 1450.7,982.2" fill="none" stroke="#d8221d" stroke-width="1.4" stroke-opacity="0.8"/>
<path d="M1437.1,973.2 Q1440.3,961.0 1437.8,955.8" fill="none" stroke="#d8221d" stroke-width="1.4" stroke-opacity="0.8"/>
<path d="M1450.7,982.2 Q1438.1,977.9 1437.1,973.2" fill="none" stroke="#d8221d" stroke-width="1.4" stroke-opacity="0.8"/>
<path d="M1607.0,936.2 Q1585.1,943.2 1570.0,960.3" fill="none" stroke="#d8221d" stroke-width="1.4" stroke-opacity="0.8"/>
<path d="M1570.0,960.3 Q1565.2,981.5 1548.8,992.8" fill="none" stroke="#d8221d" stroke-width="1.4" stroke-opacity="0.8"/>
<path d="M1520.1,992.8 Q1528.6,988.6 1548.8,992.8" fill="none" stroke="#d8221d" stroke-width="1.4" stroke-opacity="0.8"/>
<path d="M1520.1,992.8 Q1528.7,1013.0 1526.2,1023.0" fill="none" stroke="#d8221d" stroke-width="1.4" stroke-opacity="0.8"/>
<path d="M1548.8,992.8 Q1554.9,992.2 1565.4,986.0" fill="none" stroke="#d8221d" stroke-width="1.4" stroke-opacity="0.8"/>
<path d="M1548.8,992.8 Q1557.4,1007.5 1556.4,1010.9" fill="none" stroke="#d8221d" stroke-width="1.4" stroke-opacity="0.8"/>
<path d="M1586.6,997.3 Q1589.3,1010.3 1585.1,1018.5" fill="none" stroke="#d8221d" stroke-width="1.4" stroke-opacity="0.8"/>
<path d="M1586.6,997.3 Q1576.9,996.8 1565.4,986.0" fill="none" stroke="#d8221d" stroke-width="1.4" stroke-opacity="0.8"/>
<path d="M1441.6,1007.9 Q1432.9,1014.5 1435.6,1022.3" fill="none" stroke="#d8221d" stroke-width="1.4" stroke-opacity="0.8"/>
<path d="M1441.6,1007.9 Q1438.6,1015.2 1430.5,1023.0" fill="none" stroke="#d8221d" stroke-width="1.4" stroke-opacity="0.8"/>
<path d="M1460.5,1006.4 Q1454.1,1003.8 1441.6,1007.9" fill="none" stroke="#d8221d" stroke-width="1.4" stroke-opacity="0.8"/>
<path d="M1460.5,1006.4 Q1460.0,988.4 1450.7,982.2" fill="none" stroke="#d8221d" stroke-width="1.4" stroke-opacity="0.8"/>
<path d="M1435.6,1022.3 Q1432.2,1026.8 1430.5,1023.0" fill="none" stroke="#d8221d" stroke-width="1.4" stroke-opacity="0.8"/>
<path d="M1497.5,1024.5 Q1515.4,1025.5 1526.2,1023.0" fill="none" stroke="#d8221d" stroke-width="1.4" stroke-opacity="0.8"/>
<path d="M1526.2,1023.0 Q1515.1,1030.2 1513.3,1042.6" fill="none" stroke="#d8221d" stroke-width="1.4" stroke-opacity="0.8"/>
<path d="M1526.2,1023.0 Q1515.4,1026.6 1497.5,1024.5" fill="none" stroke="#d8221d" stroke-width="1.4" stroke-opacity="0.8"/>
<path d="M1556.4,1010.9 Q1557.1,1002.2 1548.8,992.8" fill="none" stroke="#d8221d" stroke-width="1.4" stroke-opacity="0.8"/>
<path d="M1556.4,1010.9 Q1559.5,1023.2 1554.9,1035.1" fill="none" stroke="#d8221d" stroke-width="1.4" stroke-opacity="0.8"/>
<path d="M1585.1,1018.5 Q1590.1,1011.9 1586.6,997.3" fill="none" stroke="#d8221d" stroke-width="1.4" stroke-opacity="0.8"/>
<path d="M1513.3,1042.6 Q1523.5,1029.1 1526.2,1023.0" fill="none" stroke="#d8221d" stroke-width="1.4" stroke-opacity="0.8"/>
<path d="M1533.0,1054.7 Q1535.7,1052.8 1532.2,1059.0" fill="none" stroke="#d8221d" stroke-width="1.4" stroke-opacity="0.8"/>
<path d="M1554.9,1035.1 Q1557.1,1018.9 1556.4,1010.9" fill="none" stroke="#d8221d" stroke-width="1.4" stroke-opacity="0.8"/>
<path d="M1554.9,1035.1 Q1540.5,1048.9 1533.0,1054.7" fill="none" stroke="#d8221d" stroke-width="1.4" stroke-opacity="0.8"/>
<path d="M1492.9,1054.7 Q1498.5,1051.1 1513.3,1042.6" fill="none" stroke="#d8221d" stroke-width="1.4" stroke-opacity="0.8"/>
<path d="M1492.9,1054.7 Q1500.2,1038.9 1497.5,1024.5" fill="none" stroke="#d8221d" stroke-width="1.4" stroke-opacity="0.8"/>
<path d="M1268.9,1066.6 Q1259.6,1080.6 1256.8,1086.2" fill="none" stroke="#d8221d" stroke-width="1.4" stroke-opacity="0.8"/>
<path d="M1256.8,1086.2 Q1257.3,1081.1 1268.9,1066.6" fill="none" stroke="#d8221d" stroke-width="1.4" stroke-opacity="0.8"/>
<path d="M1283.3,1088.5 Q1281.5,1075.4 1268.9,1066.6" fill="none" stroke="#d8221d" stroke-width="1.4" stroke-opacity="0.8"/>
<path d="M1283.3,1088.5 Q1269.0,1082.1 1256.8,1086.2" fill="none" stroke="#d8221d" stroke-width="1.4" stroke-opacity="0.8"/>
<path d="M1310.4,1092.2 Q1323.2,1094.3 1336.1,1089.2" fill="none" stroke="#d8221d" stroke-width="1.4" stroke-opacity="0.8"/>
<path d="M1367.8,1069.6 Q1359.8,1057.8 1363.3,1057.5" fill="none" stroke="#d8221d" stroke-width="1.4" stroke-opacity="0.8"/>
<path d="M1367.8,1069.6 Q1364.9,1064.8 1364.8,1051.7" fill="none" stroke="#d8221d" stroke-width="1.4" stroke-opacity="0.8"/>
<path d="M1363.3,1057.5 Q1360.9,1057.5 1364.8,1051.7" fill="none" stroke="#d8221d" stroke-width="1.4" stroke-opacity="0.8"/>
<path d="M1363.3,1057.5 Q1368.7,1065.5 1367.8,1069.6" fill="none" stroke="#d8221d" stroke-width="1.4" stroke-opacity="0.8"/>
<path d="M1337.6,1060.5 Q1349.5,1058.5 1363.3,1057.5" fill="none" stroke="#d8221d" stroke-width="1.4" stroke-opacity="0.8"/>
<path d="M1405.6,1080.2 Q1392.8,1086.6 1375.4,1095.3" fill="none" stroke="#d8221d" stroke-width="1.4" stroke-opacity="0.8"/>
<path d="M1405.6,1080.2 Q1406.5,1100.5 1399.5,1116.4" fill="none" stroke="#d8221d" stroke-width="1.4" stroke-opacity="0.8"/>
<path d="M1399.5,1116.4 Q1412.5,1122.5 1428.2,1119.4" fill="none" stroke="#d8221d" stroke-width="1.4" stroke-opacity="0.8"/>
<path d="M1428.2,1119.4 Q1433.9,1117.1 1434.8,1117.9" fill="none" stroke="#d8221d" stroke-width="1.4" stroke-opacity="0.8"/>
<path d="M1428.2,1119.4 Q1430.4,1136.9 1432.5,1143.6" fill="none" stroke="#d8221d" stroke-width="1.4" stroke-opacity="0.8"/>
<path d="M1339.1,1117.9 Q1342.6,1131.5 1342.9,1140.6" fill="none" stroke="#d8221d" stroke-width="1.4" stroke-opacity="0.8"/>
<path d="M1339.1,1117.9 Q1329.2,1130.1 1327.1,1140.6" fill="none" stroke="#d8221d" stroke-width="1.4" stroke-opacity="0.8"/>
<path d="M1379.9,1122.4 Q1374.5,1124.2 1364.8,1119.4" fill="none" stroke="#d8221d" stroke-width="1.4" stroke-opacity="0.8"/>
<path d="M1301.4,1128.5 Q1305.3,1142.7 1315.0,1145.9" fill="none" stroke="#d8221d" stroke-width="1.4" stroke-opacity="0.8"/>
<path d="M1301.4,1128.5 Q1313.6,1140.1 1327.1,1140.6" fill="none" stroke="#d8221d" stroke-width="1.4" stroke-opacity="0.8"/>
<path d="M1315.0,1145.9 Q1325.4,1143.3 1327.1,1140.6" fill="none" stroke="#d8221d" stroke-width="1.4" stroke-opacity="0.8"/>
<path d="M1327.1,1140.6 Q1316.1,1142.1 1315.0,1145.9" fill="none" stroke="#d8221d" stroke-width="1.4" stroke-opacity="0.8"/>
<path d="M1327.1,1140.6 Q1334.8,1146.3 1342.9,1140.6" fill="none" stroke="#d8221d" stroke-width="1.4" stroke-opacity="0.8"/>
<path d="M1342.9,1140.6 Q1331.0,1136.7 1327.1,1140.6" fill="none" stroke="#d8221d" stroke-width="1.4" stroke-opacity="0.8"/>
<path d="M1342.9,1140.6 Q1341.2,1128.2 1339.1,1117.9" fill="none" stroke="#d8221d" stroke-width="1.4" stroke-opacity="0.8"/>
<path d="M1364.8,1119.4 Q1371.3,1123.0 1379.9,1122.4" fill="none" stroke="#d8221d" stroke-width="1.4" stroke-opacity="0.8"/>
<path d="M1364.8,1119.4 Q1364.7,1128.4 1375.4,1137.5" fill="none" stroke="#d8221d" stroke-width="1.4" stroke-opacity="0.8"/>
<path d="M1375.4,1137.5 Q1369.7,1131.6 1364.8,1119.4" fill="none" stroke="#d8221d" stroke-width="1.4" stroke-opacity="0.8"/>
<path d="M1419.2,1148.1 Q1428.8,1147.3 1432.5,1143.6" fill="none" stroke="#d8221d" stroke-width="1.4" stroke-opacity="0.8"/>
<path d="M1419.2,1148.1 Q1411.5,1164.5 1413.1,1175.3" fill="none" stroke="#d8221d" stroke-width="1.4" stroke-opacity="0.8"/>
<path d="M1257.6,1145.1 Q1280.5,1152.1 1301.4,1164.7" fill="none" stroke="#d8221d" stroke-width="1.4" stroke-opacity="0.8"/>
<path d="M1304.4,1172.3 Q1303.5,1174.2 1301.4,1164.7" fill="none" stroke="#d8221d" stroke-width="1.4" stroke-opacity="0.8"/>
<path d="M1301.4,1164.7 Q1300.8,1169.4 1304.4,1172.3" fill="none" stroke="#d8221d" stroke-width="1.4" stroke-opacity="0.8"/>
<path d="M1301.4,1164.7 Q1309.3,1160.6 1315.0,1145.9" fill="none" stroke="#d8221d" stroke-width="1.4" stroke-opacity="0.8"/>
<path d="M1379.9,1169.3 Q1372.3,1180.6 1367.8,1185.9" fill="none" stroke="#d8221d" stroke-width="1.4" stroke-opacity="0.8"/>
<path d="M1379.9,1169.3 Q1384.7,1183.4 1395.0,1187.4" fill="none" stroke="#d8221d" stroke-width="1.4" stroke-opacity="0.8"/>
<path d="M1395.0,1187.4 Q1409.0,1185.6 1413.1,1175.3" fill="none" stroke="#d8221d" stroke-width="1.4" stroke-opacity="0.8"/>
<path d="M1395.0,1187.4 Q1388.8,1178.5 1379.9,1169.3" fill="none" stroke="#d8221d" stroke-width="1.4" stroke-opacity="0.8"/>
<path d="M1370.9,1201.7 Q1373.3,1194.4 1367.8,1185.9" fill="none" stroke="#d8221d" stroke-width="1.4" stroke-opacity="0.8"/>
<path d="M1370.9,1201.7 Q1380.5,1208.7 1382.9,1214.6" fill="none" stroke="#d8221d" stroke-width="1.4" stroke-opacity="0.8"/>
<path d="M1382.9,1214.6 Q1375.9,1213.0 1370.9,1201.7" fill="none" stroke="#d8221d" stroke-width="1.4" stroke-opacity="0.8"/>
<path d="M1382.9,1214.6 Q1385.1,1205.8 1395.0,1187.4" fill="none" stroke="#d8221d" stroke-width="1.4" stroke-opacity="0.8"/>
<path d="M1265.1,1199.5 Q1263.1,1212.2 1264.4,1219.1" fill="none" stroke="#d8221d" stroke-width="1.4" stroke-opacity="0.8"/>
<path d="M1265.1,1199.5 Q1277.3,1210.9 1284.8,1222.1" fill="none" stroke="#d8221d" stroke-width="1.4" stroke-opacity="0.8"/>
<path d="M1264.4,1219.1 Q1269.8,1214.0 1265.1,1199.5" fill="none" stroke="#d8221d" stroke-width="1.4" stroke-opacity="0.8"/>
<path d="M1264.4,1219.1 Q1273.2,1223.2 1284.8,1222.1" fill="none" stroke="#d8221d" stroke-width="1.4" stroke-opacity="0.8"/>
<path d="M1298.4,1213.1 Q1286.7,1217.7 1284.8,1222.1" fill="none" stroke="#d8221d" stroke-width="1.4" stroke-opacity="0.8"/>
<path d="M1326.3,1207.0 Q1327.2,1209.5 1336.1,1216.8" fill="none" stroke="#d8221d" stroke-width="1.4" stroke-opacity="0.8"/>
<path d="M1315.7,1216.8 Q1311.4,1216.6 1298.4,1213.1" fill="none" stroke="#d8221d" stroke-width="1.4" stroke-opacity="0.8"/>
<path d="M1336.1,1216.8 Q1334.3,1210.6 1326.3,1207.0" fill="none" stroke="#d8221d" stroke-width="1.4" stroke-opacity="0.8"/>
<path d="M1336.1,1216.8 Q1327.7,1213.3 1315.7,1216.8" fill="none" stroke="#d8221d" stroke-width="1.4" stroke-opacity="0.8"/>
<path d="M1414.6,1210.0 Q1409.9,1203.3 1395.0,1187.4" fill="none" stroke="#d8221d" stroke-width="1.4" stroke-opacity="0.8"/>
<path d="M1345.2,1237.2 Q1337.3,1222.6 1336.1,1216.8" fill="none" stroke="#d8221d" stroke-width="1.4" stroke-opacity="0.8"/>
<path d="M1345.2,1237.2 Q1333.9,1218.3 1326.3,1207.0" fill="none" stroke="#d8221d" stroke-width="1.4" stroke-opacity="0.8"/>
<path d="M1284.8,1222.1 Q1292.0,1218.0 1298.4,1213.1" fill="none" stroke="#d8221d" stroke-width="1.4" stroke-opacity="0.8"/>
<path d="M1284.8,1222.1 Q1276.0,1223.9 1264.4,1219.1" fill="none" stroke="#d8221d" stroke-width="1.4" stroke-opacity="0.8"/>
<path d="M1462.0,1076.4 Q1475.0,1088.6 1483.1,1093.0" fill="none" stroke="#d8221d" stroke-width="1.4" stroke-opacity="0.8"/>
<path d="M1462.0,1076.4 Q1461.0,1085.7 1456.7,1104.3" fill="none" stroke="#d8221d" stroke-width="1.4" stroke-opacity="0.8"/>
<path d="M1483.1,1093.0 Q1474.7,1081.5 1462.0,1076.4" fill="none" stroke="#d8221d" stroke-width="1.4" stroke-opacity="0.8"/>
<path d="M1456.7,1104.3 Q1461.7,1110.2 1471.8,1116.4" fill="none" stroke="#d8221d" stroke-width="1.4" stroke-opacity="0.8"/>
<path d="M1456.7,1104.3 Q1451.4,1106.9 1434.8,1117.9" fill="none" stroke="#d8221d" stroke-width="1.4" stroke-opacity="0.8"/>
<path d="M1434.8,1117.9 Q1444.1,1109.2 1456.7,1104.3" fill="none" stroke="#d8221d" stroke-width="1.4" stroke-opacity="0.8"/>
<path d="M1471.8,1116.4 Q1475.7,1128.3 1480.9,1138.3" fill="none" stroke="#d8221d" stroke-width="1.4" stroke-opacity="0.8"/>
<path d="M1503.5,1116.4 Q1488.6,1107.1 1483.1,1093.0" fill="none" stroke="#d8221d" stroke-width="1.4" stroke-opacity="0.8"/>
<path d="M1532.2,1059.0 Q1535.0,1071.2 1542.0,1072.6" fill="none" stroke="#d8221d" stroke-width="1.4" stroke-opacity="0.8"/>
<path d="M1542.0,1072.6 Q1541.2,1060.2 1532.2,1059.0" fill="none" stroke="#d8221d" stroke-width="1.4" stroke-opacity="0.8"/>
<path d="M1560.9,1077.1 Q1560.5,1080.7 1563.2,1095.3" fill="none" stroke="#d8221d" stroke-width="1.4" stroke-opacity="0.8"/>
<path d="M1547.3,1092.2 Q1543.1,1095.3 1538.2,1101.3" fill="none" stroke="#d8221d" stroke-width="1.4" stroke-opacity="0.8"/>
<path d="M1538.2,1101.3 Q1542.4,1092.9 1547.3,1092.2" fill="none" stroke="#d8221d" stroke-width="1.4" stroke-opacity="0.8"/>
<path d="M1538.2,1101.3 Q1545.2,1107.1 1550.3,1111.1" fill="none" stroke="#d8221d" stroke-width="1.4" stroke-opacity="0.8"/>
<path d="M1563.2,1095.3 Q1554.7,1090.3 1547.3,1092.2" fill="none" stroke="#d8221d" stroke-width="1.4" stroke-opacity="0.8"/>
<path d="M1563.2,1095.3 Q1557.5,1083.8 1560.9,1077.1" fill="none" stroke="#d8221d" stroke-width="1.4" stroke-opacity="0.8"/>
<path d="M1550.3,1111.1 Q1543.2,1102.7 1538.2,1101.3" fill="none" stroke="#d8221d" stroke-width="1.4" stroke-opacity="0.8"/>
<path d="M1550.3,1111.1 Q1546.4,1102.2 1547.3,1092.2" fill="none" stroke="#d8221d" stroke-width="1.4" stroke-opacity="0.8"/>
<path d="M1586.6,1120.9 Q1588.2,1134.4 1598.6,1149.6" fill="none" stroke="#d8221d" stroke-width="1.4" stroke-opacity="0.8"/>
<path d="M1480.9,1138.3 Q1479.1,1131.6 1471.8,1116.4" fill="none" stroke="#d8221d" stroke-width="1.4" stroke-opacity="0.8"/>
<path d="M1480.9,1138.3 Q1487.6,1143.9 1503.5,1150.4" fill="none" stroke="#d8221d" stroke-width="1.4" stroke-opacity="0.8"/>
<path d="M1522.4,1136.0 Q1511.4,1148.5 1503.5,1150.4" fill="none" stroke="#d8221d" stroke-width="1.4" stroke-opacity="0.8"/>
<path d="M1522.4,1136.0 Q1535.9,1140.7 1540.5,1155.7" fill="none" stroke="#d8221d" stroke-width="1.4" stroke-opacity="0.8"/>
<path d="M1503.5,1150.4 Q1512.7,1160.5 1517.1,1162.5" fill="none" stroke="#d8221d" stroke-width="1.4" stroke-opacity="0.8"/>
<path d="M1503.5,1150.4 Q1517.3,1146.3 1522.4,1136.0" fill="none" stroke="#d8221d" stroke-width="1.4" stroke-opacity="0.8"/>
<path d="M1517.1,1162.5 Q1512.8,1156.6 1503.5,1150.4" fill="none" stroke="#d8221d" stroke-width="1.4" stroke-opacity="0.8"/>
<path d="M1540.5,1155.7 Q1532.9,1163.8 1517.1,1162.5" fill="none" stroke="#d8221d" stroke-width="1.4" stroke-opacity="0.8"/>
<path d="M1598.6,1149.6 Q1579.5,1155.6 1571.5,1161.7" fill="none" stroke="#d8221d" stroke-width="1.4" stroke-opacity="0.8"/>
<path d="M1571.5,1161.7 Q1576.1,1169.8 1583.5,1176.8" fill="none" stroke="#d8221d" stroke-width="1.4" stroke-opacity="0.8"/>
<path d="M1571.5,1161.7 Q1588.2,1157.5 1598.6,1149.6" fill="none" stroke="#d8221d" stroke-width="1.4" stroke-opacity="0.8"/>
<path d="M1496.7,1190.4 Q1480.5,1192.8 1464.2,1188.9" fill="none" stroke="#d8221d" stroke-width="1.4" stroke-opacity="0.8"/>
<path d="M1496.7,1190.4 Q1504.0,1174.0 1517.1,1162.5" fill="none" stroke="#d8221d" stroke-width="1.4" stroke-opacity="0.8"/>
<path d="M1447.6,1208.5 Q1450.8,1216.9 1465.8,1222.1" fill="none" stroke="#d8221d" stroke-width="1.4" stroke-opacity="0.8"/>
<path d="M1465.8,1222.1 Q1460.0,1229.4 1452.2,1239.5" fill="none" stroke="#d8221d" stroke-width="1.4" stroke-opacity="0.8"/>
<path d="M1465.8,1222.1 Q1454.4,1209.5 1447.6,1208.5" fill="none" stroke="#d8221d" stroke-width="1.4" stroke-opacity="0.8"/>
<path d="M1435.6,1239.5 Q1446.8,1237.7 1452.2,1239.5" fill="none" stroke="#d8221d" stroke-width="1.4" stroke-opacity="0.8"/>
<path d="M1435.6,1239.5 Q1437.6,1220.7 1447.6,1208.5" fill="none" stroke="#d8221d" stroke-width="1.4" stroke-opacity="0.8"/>
<path d="M1452.2,1239.5 Q1444.3,1243.0 1435.6,1239.5" fill="none" stroke="#d8221d" stroke-width="1.4" stroke-opacity="0.8"/>
<path d="M1551.1,1213.8 Q1563.6,1208.9 1573.0,1199.5" fill="none" stroke="#d8221d" stroke-width="1.4" stroke-opacity="0.8"/>
<path d="M1551.1,1213.8 Q1566.1,1216.5 1588.1,1217.6" fill="none" stroke="#d8221d" stroke-width="1.4" stroke-opacity="0.8"/>
<path d="M1573.0,1199.5 Q1574.7,1206.5 1588.1,1217.6" fill="none" stroke="#d8221d" stroke-width="1.4" stroke-opacity="0.8"/>
<path d="M1588.1,1217.6 Q1601.2,1222.3 1610.7,1235.7" fill="none" stroke="#d8221d" stroke-width="1.4" stroke-opacity="0.8"/>
<path d="M1610.7,1235.7 Q1603.9,1221.4 1588.1,1217.6" fill="none" stroke="#d8221d" stroke-width="1.4" stroke-opacity="0.8"/>
<path d="M1432.5,1143.6 Q1430.4,1146.5 1419.2,1148.1" fill="none" stroke="#d8221d" stroke-width="1.4" stroke-opacity="0.8"/>
<path d="M1432.5,1143.6 Q1429.2,1132.3 1428.2,1119.4" fill="none" stroke="#d8221d" stroke-width="1.4" stroke-opacity="0.8"/>
<path d="M1361.8,887.1 L1363.3,944.5 L1372.4,962.6 L1379.9,977.7 L1395.0,992.8 L1402.6,1023.0 L1413.1,1060.0" fill="none" stroke="#d8221d" stroke-width="2.5" stroke-linecap="round" stroke-linejoin="round"/>
<path d="M1573.0,884.1 L1576.0,917.3 L1586.6,940.0 L1595.6,962.6 L1595.6,985.3 L1601.7,1015.5 L1606.2,1060.0" fill="none" stroke="#d8221d" stroke-width="3" stroke-linecap="round" stroke-linejoin="round"/>
<path d="M1247.0,1116.4 L1248.5,1161.7 L1253.1,1191.9 L1259.1,1222.1 L1263.6,1244.0" fill="none" stroke="#d8221d" stroke-width="3" stroke-linecap="round" stroke-linejoin="round"/>
<path d="M1271.2,1101.3 L1262.1,1128.5" fill="none" stroke="#d8221d" stroke-width="2.5" stroke-linecap="round" stroke-linejoin="round"/>
<path d="M1414.6,1056.0 L1423.7,1074.1 L1426.7,1093.8" fill="none" stroke="#d8221d" stroke-width="2.5" stroke-linecap="round" stroke-linejoin="round"/>
<path d="M1603.2,1056.0 L1600.2,1074.1 L1604.7,1101.3 L1609.2,1131.5 L1612.2,1176.8 L1613.7,1207.0" fill="none" stroke="#d8221d" stroke-width="5" stroke-linecap="round" stroke-linejoin="round"/>
<path d="M1443.1,1119.4 L1465.8,1140.6 L1488.4,1158.7 L1506.5,1175.3 L1524.6,1196.4 L1533.7,1207.0 L1539.7,1244.0" fill="none" stroke="#d8221d" stroke-width="2.5" stroke-linecap="round" stroke-linejoin="round"/>
<path d="M1485.4,1056.0 L1489.9,1071.1 L1492.9,1086.2 L1518.6,1116.4 L1532.2,1169.3 L1536.7,1191.9" fill="none" stroke="#d8221d" stroke-width="2.5" stroke-linecap="round" stroke-linejoin="round"/>
<path d="M1290.0,1000.0 L1320.0,980.0 L1350.0,960.0" fill="none" stroke="#d8221d" stroke-width="1.5" stroke-linecap="round" stroke-linejoin="round"/>
<path d="M1260.0,940.0 L1300.0,930.0 L1330.0,910.0" fill="none" stroke="#d8221d" stroke-width="1.5" stroke-linecap="round" stroke-linejoin="round"/>
<path d="M1286.7,879.3 Q1290.0,879.0 1294.0,878.6 Q1298.1,878.2 1297.4,883.2 Q1296.7,888.3 1296.8,891.3 Q1296.9,894.4 1293.8,895.9 Q1290.6,897.3 1286.6,897.0 Q1282.7,896.7 1281.4,893.7 Q1280.1,890.7 1279.6,887.1 Q1279.1,883.5 1281.3,881.6 Q1283.5,879.6 1286.7,879.3Z" fill="#d8221d" />
<ellipse cx="1287.0" cy="889.4" rx="6.2" ry="7" fill="#3ee062"/>
<path d="M1318.5,898.3 Q1313.8,898.1 1311.4,897.5 Q1308.9,896.8 1306.3,894.4 Q1303.7,892.0 1303.6,887.7 Q1303.4,883.4 1307.8,882.1 Q1312.1,880.9 1315.5,881.2 Q1319.0,881.4 1321.1,884.0 Q1323.3,886.6 1322.3,889.7 Q1321.3,892.7 1322.3,895.6 Q1323.3,898.6 1318.5,898.3Z" fill="#d8221d" />
<ellipse cx="1312.7" cy="890.1" rx="6.2" ry="7" fill="#3ee062"/>
<path d="M1260.1,909.5 Q1256.6,910.4 1253.8,907.3 Q1251.1,904.1 1249.4,901.7 Q1247.7,899.2 1249.7,895.5 Q1251.6,891.7 1254.8,889.0 Q1257.9,886.3 1260.4,888.4 Q1262.9,890.6 1266.1,893.9 Q1269.2,897.3 1269.6,900.3 Q1269.9,903.4 1266.7,905.9 Q1263.6,908.5 1260.1,909.5Z" fill="#d8221d" />
<ellipse cx="1259.1" cy="900.7" rx="6.2" ry="7" fill="#3ee062"/>
<path d="M1284.1,891.2 Q1288.2,890.8 1288.5,895.4 Q1288.7,900.0 1291.4,902.6 Q1294.0,905.3 1291.9,908.7 Q1289.8,912.1 1284.4,911.4 Q1279.0,910.6 1276.1,911.2 Q1273.2,911.8 1273.2,907.1 Q1273.3,902.4 1273.7,899.8 Q1274.1,897.2 1277.0,894.4 Q1280.0,891.6 1284.1,891.2Z" fill="#d8221d" />
<ellipse cx="1281.8" cy="903.7" rx="7" ry="7.8" fill="#8c3a1a" fill-opacity="0.9"/>
<path d="M1297.4,913.2 Q1298.3,910.3 1303.5,911.2 Q1308.7,912.1 1311.9,916.2 Q1315.2,920.3 1314.2,922.7 Q1313.3,925.1 1310.5,928.2 Q1307.7,931.3 1305.1,934.5 Q1302.5,937.6 1299.9,933.6 Q1297.4,929.6 1295.5,926.4 Q1293.6,923.1 1295.1,919.6 Q1296.6,916.1 1297.4,913.2Z" fill="#d8221d" />
<ellipse cx="1302.1" cy="923.3" rx="7" ry="7.8" fill="#8c3a1a" fill-opacity="0.9"/>
<path d="M1345.5,928.5 Q1343.6,931.4 1341.1,931.4 Q1338.6,931.5 1333.8,932.4 Q1329.1,933.3 1329.8,929.5 Q1330.5,925.6 1330.0,922.5 Q1329.4,919.4 1331.9,918.0 Q1334.4,916.6 1337.0,914.3 Q1339.5,912.0 1343.7,914.8 Q1347.8,917.7 1347.7,921.7 Q1347.5,925.7 1345.5,928.5Z" fill="#d8221d" />
<ellipse cx="1336.9" cy="926.4" rx="6.2" ry="7" fill="#3ee062"/>
<path d="M1321.8,945.8 Q1318.6,946.4 1316.4,945.6 Q1314.2,944.9 1312.3,942.3 Q1310.3,939.8 1310.5,934.9 Q1310.8,930.1 1313.7,927.9 Q1316.7,925.7 1321.2,926.5 Q1325.7,927.4 1327.2,931.7 Q1328.7,935.9 1328.7,939.5 Q1328.7,943.1 1326.9,944.2 Q1325.1,945.3 1321.8,945.8Z" fill="#d8221d" />
<ellipse cx="1321.8" cy="939.2" rx="6.2" ry="7" fill="#3ee062"/>
<path d="M1250.0,958.2 Q1247.6,956.0 1243.9,954.3 Q1240.2,952.5 1241.6,948.9 Q1243.1,945.2 1246.4,941.8 Q1249.7,938.4 1253.1,938.3 Q1256.6,938.1 1259.3,939.3 Q1262.0,940.5 1262.3,945.0 Q1262.5,949.5 1260.0,952.2 Q1257.4,954.9 1254.9,957.6 Q1252.5,960.3 1250.0,958.2Z" fill="#d8221d" />
<ellipse cx="1253.8" cy="950.5" rx="6.2" ry="7" fill="#3ee062"/>
<path d="M1290.8,941.9 Q1293.9,942.7 1295.3,946.8 Q1296.6,950.9 1295.5,954.4 Q1294.4,957.8 1292.8,959.3 Q1291.2,960.8 1287.0,959.8 Q1282.8,958.8 1279.3,958.2 Q1275.9,957.5 1275.0,954.5 Q1274.2,951.5 1277.3,948.1 Q1280.3,944.7 1284.0,942.9 Q1287.7,941.1 1290.8,941.9Z" fill="#d8221d" />
<ellipse cx="1287.0" cy="953.5" rx="6.2" ry="7" fill="#3ee062"/>
<path d="M1285.5,931.5 Q1287.8,928.1 1291.2,930.7 Q1294.6,933.3 1297.6,933.4 Q1300.5,933.6 1300.3,937.5 Q1300.1,941.4 1298.4,946.3 Q1296.8,951.2 1292.2,950.0 Q1287.5,948.8 1285.1,948.5 Q1282.7,948.3 1280.8,944.2 Q1278.8,940.1 1281.0,937.5 Q1283.3,934.9 1285.5,931.5Z" fill="#d8221d" />
<path d="M1280.0,967.9 Q1282.4,972.9 1282.3,975.2 Q1282.1,977.6 1280.0,982.6 Q1277.8,987.6 1273.1,987.6 Q1268.4,987.7 1267.2,984.0 Q1266.0,980.4 1265.0,977.2 Q1264.0,974.1 1264.7,971.3 Q1265.3,968.5 1266.6,966.4 Q1267.9,964.4 1272.7,963.7 Q1277.5,962.9 1280.0,967.9Z" fill="#d8221d" />
<ellipse cx="1274.2" cy="973.2" rx="7" ry="7.8" fill="#8c3a1a" fill-opacity="0.9"/>
<path d="M1310.6,987.9 Q1306.9,988.4 1305.8,984.6 Q1304.8,980.8 1304.0,979.2 Q1303.2,977.6 1304.9,975.0 Q1306.7,972.4 1309.9,971.9 Q1313.0,971.5 1315.2,972.1 Q1317.3,972.7 1318.9,974.5 Q1320.5,976.4 1321.7,980.5 Q1322.8,984.6 1318.6,986.0 Q1314.3,987.4 1310.6,987.9Z" fill="#d8221d" />
<ellipse cx="1311.2" cy="976.2" rx="6.2" ry="7" fill="#3ee062"/>
<path d="M1351.7,874.2 Q1355.2,873.0 1359.4,872.9 Q1363.6,872.8 1366.8,877.6 Q1370.0,882.3 1370.1,886.5 Q1370.2,890.6 1367.3,894.2 Q1364.3,897.8 1359.6,898.7 Q1354.9,899.5 1352.0,896.4 Q1349.0,893.3 1347.4,889.2 Q1345.7,885.1 1347.0,880.2 Q1348.2,875.4 1351.7,874.2Z" fill="#d8221d" />
<ellipse cx="1355.7" cy="885.6" rx="7" ry="7.8" fill="#8c3a1a" fill-opacity="0.9"/>
<path d="M1381.4,880.7 Q1386.0,883.8 1384.2,886.8 Q1382.5,889.8 1382.0,892.6 Q1381.5,895.4 1378.9,897.1 Q1376.3,898.7 1372.2,898.0 Q1368.1,897.3 1367.0,894.6 Q1366.0,891.9 1365.4,886.6 Q1364.9,881.4 1366.9,880.1 Q1368.8,878.9 1372.8,878.3 Q1376.9,877.6 1381.4,880.7Z" fill="#d8221d" />
<ellipse cx="1373.1" cy="886.3" rx="7" ry="7.8" fill="#8c3a1a" fill-opacity="0.9"/>
<path d="M1391.1,911.3 Q1395.1,912.9 1397.7,916.4 Q1400.3,919.8 1401.0,922.3 Q1401.7,924.8 1399.2,930.2 Q1396.6,935.6 1394.3,936.9 Q1391.9,938.3 1387.7,936.2 Q1383.5,934.2 1381.7,930.4 Q1379.9,926.6 1379.3,922.4 Q1378.7,918.2 1382.9,913.9 Q1387.1,909.6 1391.1,911.3Z" fill="#d8221d" />
<ellipse cx="1389.0" cy="921.8" rx="7" ry="7.8" fill="#8c3a1a" fill-opacity="0.9"/>
<path d="M1420.9,937.0 Q1417.8,937.9 1413.9,938.8 Q1410.0,939.7 1406.9,939.0 Q1403.8,938.2 1403.4,934.9 Q1403.1,931.6 1404.0,928.4 Q1404.8,925.3 1409.4,922.7 Q1414.1,920.1 1416.5,920.5 Q1418.9,921.0 1421.2,924.5 Q1423.4,927.9 1423.7,932.0 Q1424.0,936.1 1420.9,937.0Z" fill="#d8221d" />
<ellipse cx="1414.6" cy="930.9" rx="7" ry="7.8" fill="#8c3a1a" fill-opacity="0.9"/>
<path d="M1414.8,937.3 Q1417.3,937.2 1421.7,939.7 Q1426.1,942.2 1427.8,944.2 Q1429.4,946.3 1426.5,950.0 Q1423.5,953.8 1418.8,955.3 Q1414.1,956.9 1411.0,955.7 Q1407.9,954.4 1406.0,951.2 Q1404.1,948.1 1403.8,944.2 Q1403.5,940.4 1408.0,938.9 Q1412.4,937.4 1414.8,937.3Z" fill="#d8221d" />
<ellipse cx="1413.1" cy="948.9" rx="7" ry="7.8" fill="#8c3a1a" fill-opacity="0.9"/>
<path d="M1423.0,913.5 Q1420.0,912.5 1419.4,908.9 Q1418.8,905.3 1421.1,901.0 Q1423.3,896.8 1425.8,897.4 Q1428.2,898.0 1430.5,898.5 Q1432.8,898.9 1434.7,901.6 Q1436.5,904.3 1436.3,906.4 Q1436.0,908.5 1433.7,912.5 Q1431.4,916.5 1428.7,915.5 Q1426.1,914.5 1423.0,913.5Z" fill="#d8221d" />
<ellipse cx="1429.0" cy="906.7" rx="6.2" ry="7" fill="#3ee062"/>
<path d="M1374.9,952.8 Q1375.7,950.7 1379.1,950.6 Q1382.5,950.4 1385.9,948.7 Q1389.3,946.9 1390.2,951.5 Q1391.0,956.2 1392.5,959.1 Q1394.1,962.0 1392.2,965.1 Q1390.2,968.2 1386.8,968.1 Q1383.3,968.0 1380.3,965.2 Q1377.2,962.3 1375.7,958.6 Q1374.2,954.9 1374.9,952.8Z" fill="#d8221d" />
<ellipse cx="1384.4" cy="955.8" rx="6.2" ry="7" fill="#3ee062"/>
<path d="M1364.8,981.4 Q1367.5,979.4 1371.2,975.7 Q1374.9,972.0 1377.7,972.8 Q1380.5,973.6 1380.7,978.6 Q1381.0,983.7 1379.9,986.1 Q1378.9,988.5 1377.8,990.1 Q1376.7,991.6 1373.8,992.7 Q1371.0,993.8 1367.3,993.1 Q1363.5,992.4 1362.8,987.9 Q1362.2,983.4 1364.8,981.4Z" fill="#d8221d" />
<ellipse cx="1371.6" cy="982.2" rx="6.2" ry="7" fill="#3ee062"/>
<path d="M1336.1,1000.5 Q1337.9,996.2 1340.0,992.2 Q1342.1,988.1 1345.8,986.6 Q1349.5,985.1 1353.1,988.3 Q1356.8,991.4 1356.8,995.0 Q1356.9,998.6 1355.2,1002.6 Q1353.4,1006.5 1349.5,1010.4 Q1345.5,1014.3 1342.3,1012.2 Q1339.0,1010.1 1336.6,1007.4 Q1334.3,1004.8 1336.1,1000.5Z" fill="#d8221d" />
<ellipse cx="1348.2" cy="997.3" rx="7" ry="7.8" fill="#8c3a1a" fill-opacity="0.9"/>
<path d="M1344.0,1013.7 Q1344.2,1016.5 1342.1,1021.2 Q1340.0,1025.9 1336.7,1024.5 Q1333.4,1023.2 1330.5,1022.0 Q1327.6,1020.8 1325.3,1018.6 Q1323.1,1016.4 1325.2,1012.9 Q1327.4,1009.4 1328.6,1007.2 Q1329.8,1005.0 1333.6,1006.0 Q1337.4,1007.1 1340.7,1009.0 Q1343.9,1011.0 1344.0,1013.7Z" fill="#d8221d" />
<ellipse cx="1332.3" cy="1016.2" rx="6.2" ry="7" fill="#3ee062"/>
<path d="M1391.6,1020.0 Q1387.7,1019.2 1383.5,1018.8 Q1379.4,1018.5 1379.5,1015.7 Q1379.7,1012.8 1380.5,1008.4 Q1381.2,1003.9 1384.0,1003.6 Q1386.9,1003.3 1390.9,1003.0 Q1395.0,1002.8 1395.1,1005.8 Q1395.2,1008.8 1395.0,1011.3 Q1394.9,1013.7 1395.2,1017.3 Q1395.4,1020.9 1391.6,1020.0Z" fill="#d8221d" />
<ellipse cx="1385.2" cy="1012.4" rx="6.2" ry="7" fill="#3ee062"/>
<path d="M1361.1,1031.3 Q1358.4,1026.6 1357.9,1023.7 Q1357.3,1020.7 1357.9,1017.8 Q1358.6,1014.9 1363.3,1013.1 Q1368.1,1011.3 1370.0,1012.6 Q1372.0,1013.8 1373.4,1016.9 Q1374.9,1020.0 1376.3,1024.0 Q1377.7,1028.1 1373.7,1029.7 Q1369.8,1031.4 1366.7,1033.7 Q1363.7,1036.0 1361.1,1031.3Z" fill="#d8221d" />
<ellipse cx="1364.8" cy="1021.5" rx="7" ry="7.8" fill="#8c3a1a" fill-opacity="0.9"/>
<path d="M1281.8,1031.1 Q1280.3,1036.0 1277.6,1036.5 Q1275.0,1036.9 1270.0,1038.1 Q1265.0,1039.2 1261.7,1039.0 Q1258.5,1038.8 1259.3,1034.0 Q1260.1,1029.2 1259.9,1023.6 Q1259.7,1017.9 1264.5,1019.4 Q1269.2,1020.9 1271.1,1020.7 Q1273.0,1020.4 1278.2,1023.3 Q1283.4,1026.2 1281.8,1031.1Z" fill="#d8221d" />
<ellipse cx="1269.7" cy="1027.5" rx="6.2" ry="7" fill="#3ee062"/>
<path d="M1310.5,1038.3 Q1308.1,1040.1 1305.3,1037.0 Q1302.5,1033.8 1301.9,1031.2 Q1301.4,1028.5 1302.5,1024.6 Q1303.7,1020.6 1308.8,1019.4 Q1313.9,1018.3 1317.7,1019.2 Q1321.4,1020.1 1322.5,1024.6 Q1323.5,1029.1 1320.9,1030.8 Q1318.3,1032.6 1315.6,1034.5 Q1312.9,1036.4 1310.5,1038.3Z" fill="#d8221d" />
<ellipse cx="1310.4" cy="1027.5" rx="6.2" ry="7" fill="#3ee062"/>
<path d="M1377.1,1049.6 Q1376.9,1052.1 1375.3,1055.4 Q1373.7,1058.7 1369.6,1062.5 Q1365.5,1066.3 1362.9,1062.3 Q1360.3,1058.2 1359.3,1055.9 Q1358.3,1053.6 1357.7,1050.6 Q1357.2,1047.5 1359.1,1044.3 Q1361.1,1041.0 1365.2,1040.3 Q1369.2,1039.7 1373.3,1043.3 Q1377.3,1047.0 1377.1,1049.6Z" fill="#d8221d" />
<ellipse cx="1364.8" cy="1051.7" rx="6.2" ry="7" fill="#3ee062"/>
<path d="M1333.8,1038.6 Q1335.6,1032.6 1338.8,1034.4 Q1342.0,1036.2 1346.2,1036.0 Q1350.5,1035.8 1352.9,1040.6 Q1355.4,1045.5 1354.1,1049.4 Q1352.9,1053.3 1348.9,1055.5 Q1344.8,1057.6 1339.1,1058.6 Q1333.5,1059.5 1331.2,1056.1 Q1329.0,1052.8 1330.5,1048.7 Q1332.0,1044.6 1333.8,1038.6Z" fill="#d8221d" />
<ellipse cx="1340.6" cy="1045.7" rx="7" ry="7.8" fill="#8c3a1a" fill-opacity="0.9"/>
<path d="M1284.3,1037.8 Q1287.8,1034.6 1291.4,1037.0 Q1295.0,1039.3 1297.5,1042.6 Q1300.0,1045.9 1300.1,1049.4 Q1300.2,1052.9 1299.6,1056.1 Q1299.0,1059.3 1294.1,1058.5 Q1289.2,1057.6 1284.6,1058.0 Q1280.0,1058.4 1279.7,1054.3 Q1279.3,1050.3 1280.1,1045.6 Q1280.8,1040.9 1284.3,1037.8Z" fill="#d8221d" />
<path d="M1414.5,1000.8 Q1416.8,1000.7 1420.9,1002.2 Q1425.0,1003.7 1425.2,1008.9 Q1425.3,1014.1 1424.2,1015.6 Q1423.2,1017.1 1421.2,1021.1 Q1419.3,1025.1 1415.4,1021.5 Q1411.5,1017.9 1409.2,1017.7 Q1406.9,1017.4 1406.7,1012.9 Q1406.5,1008.4 1409.4,1004.6 Q1412.2,1000.8 1414.5,1000.8Z" fill="#d8221d" />
<path d="M1436.8,1033.2 Q1434.2,1034.0 1430.7,1033.1 Q1427.2,1032.2 1426.1,1030.0 Q1425.0,1027.8 1422.6,1024.7 Q1420.1,1021.6 1424.1,1018.9 Q1428.1,1016.2 1431.2,1014.1 Q1434.2,1012.0 1437.6,1014.3 Q1440.9,1016.6 1441.2,1020.6 Q1441.4,1024.5 1440.4,1028.4 Q1439.4,1032.4 1436.8,1033.2Z" fill="#d8221d" />
<ellipse cx="1430.5" cy="1023.0" rx="6.2" ry="7" fill="#35b850"/>
<path d="M1487.1,895.3 Q1483.3,897.0 1481.3,895.1 Q1479.3,893.2 1478.0,890.7 Q1476.8,888.1 1475.5,882.6 Q1474.3,877.0 1478.8,877.3 Q1483.4,877.6 1487.0,877.3 Q1490.5,877.1 1493.6,878.9 Q1496.6,880.8 1495.5,884.8 Q1494.3,888.8 1492.7,891.2 Q1491.0,893.6 1487.1,895.3Z" fill="#d8221d" />
<ellipse cx="1485.4" cy="888.6" rx="7" ry="7.8" fill="#8c3a1a" fill-opacity="0.9"/>
<path d="M1511.3,894.6 Q1507.1,892.1 1506.2,889.2 Q1505.4,886.3 1505.4,883.7 Q1505.4,881.2 1507.0,878.0 Q1508.6,874.7 1513.7,873.9 Q1518.7,873.1 1520.5,876.9 Q1522.3,880.6 1523.9,883.0 Q1525.6,885.3 1523.1,888.1 Q1520.5,890.9 1518.0,893.9 Q1515.5,897.0 1511.3,894.6Z" fill="#d8221d" />
<ellipse cx="1511.1" cy="885.6" rx="6.2" ry="7" fill="#3ee062"/>
<path d="M1498.3,902.9 Q1497.6,899.1 1499.8,895.2 Q1502.0,891.3 1507.1,892.1 Q1512.1,893.0 1514.5,894.2 Q1516.8,895.4 1519.4,899.4 Q1522.1,903.4 1519.8,905.5 Q1517.5,907.5 1515.3,910.3 Q1513.1,913.1 1508.5,912.5 Q1503.9,911.9 1501.4,909.3 Q1499.0,906.8 1498.3,902.9Z" fill="#d8221d" />
<path d="M1555.1,889.9 Q1550.5,892.0 1547.0,890.4 Q1543.5,888.8 1543.2,885.4 Q1542.8,881.9 1541.4,878.6 Q1540.0,875.3 1543.7,872.0 Q1547.4,868.8 1551.4,867.4 Q1555.4,865.9 1555.6,869.1 Q1555.8,872.2 1558.6,876.3 Q1561.3,880.4 1560.5,884.1 Q1559.7,887.8 1555.1,889.9Z" fill="#d8221d" />
<ellipse cx="1548.8" cy="878.0" rx="6.2" ry="7" fill="#3ee062"/>
<path d="M1531.0,893.5 Q1530.3,890.4 1537.1,888.3 Q1543.8,886.1 1546.8,890.5 Q1549.8,894.8 1551.5,897.2 Q1553.2,899.6 1551.4,905.2 Q1549.6,910.7 1546.3,911.2 Q1542.9,911.7 1540.2,911.5 Q1537.5,911.4 1533.8,909.2 Q1530.2,907.1 1530.9,901.9 Q1531.6,896.7 1531.0,893.5Z" fill="#d8221d" />
<ellipse cx="1541.3" cy="900.7" rx="7" ry="7.8" fill="#8c3a1a" fill-opacity="0.9"/>
<path d="M1428.9,915.8 Q1426.8,914.4 1425.4,911.0 Q1424.0,907.5 1423.9,904.1 Q1423.7,900.6 1428.2,899.4 Q1432.6,898.2 1436.8,899.2 Q1441.1,900.3 1443.7,904.6 Q1446.4,908.9 1445.3,911.1 Q1444.2,913.4 1440.6,914.7 Q1437.1,916.1 1434.0,916.6 Q1430.9,917.1 1428.9,915.8Z" fill="#d8221d" />
<ellipse cx="1432.5" cy="906.7" rx="6.2" ry="7" fill="#3ee062"/>
<path d="M1451.1,905.4 Q1451.4,901.7 1453.1,900.0 Q1454.9,898.4 1458.6,897.0 Q1462.3,895.5 1466.0,898.6 Q1469.8,901.7 1471.7,903.4 Q1473.6,905.2 1471.5,909.0 Q1469.3,912.9 1467.1,915.0 Q1464.8,917.1 1461.0,914.9 Q1457.1,912.8 1454.0,910.9 Q1450.9,909.0 1451.1,905.4Z" fill="#d8221d" />
<ellipse cx="1461.2" cy="905.2" rx="6.2" ry="7" fill="#3ee062"/>
<path d="M1465.8,917.0 Q1466.9,913.9 1471.9,912.7 Q1476.9,911.4 1479.7,913.0 Q1482.5,914.7 1485.2,917.1 Q1487.9,919.4 1484.4,922.9 Q1480.8,926.4 1479.0,929.4 Q1477.3,932.3 1474.1,932.4 Q1471.0,932.5 1466.9,931.5 Q1462.8,930.6 1463.8,925.3 Q1464.7,920.1 1465.8,917.0Z" fill="#d8221d" />
<ellipse cx="1472.5" cy="923.3" rx="7" ry="7.8" fill="#8c3a1a" fill-opacity="0.9"/>
<path d="M1487.1,924.4 Q1490.5,925.9 1490.9,928.5 Q1491.4,931.2 1488.3,936.3 Q1485.2,941.5 1483.0,940.4 Q1480.8,939.4 1477.2,939.8 Q1473.5,940.3 1470.6,935.2 Q1467.7,930.0 1469.2,927.0 Q1470.7,923.9 1473.9,921.7 Q1477.1,919.6 1480.4,921.3 Q1483.6,922.9 1487.1,924.4Z" fill="#d8221d" />
<ellipse cx="1481.6" cy="930.9" rx="6.2" ry="7" fill="#3ee062"/>
<path d="M1448.0,938.4 Q1446.9,941.9 1443.5,944.8 Q1440.0,947.7 1436.7,946.2 Q1433.5,944.7 1431.5,942.3 Q1429.5,939.8 1429.3,936.4 Q1429.1,933.0 1430.8,929.7 Q1432.5,926.4 1435.2,925.7 Q1437.9,925.1 1442.2,925.9 Q1446.5,926.8 1447.8,930.8 Q1449.1,934.9 1448.0,938.4Z" fill="#d8221d" />
<ellipse cx="1440.1" cy="934.7" rx="6.2" ry="7" fill="#3ee062"/>
<path d="M1471.0,940.8 Q1470.9,943.4 1468.4,946.2 Q1465.8,949.0 1462.3,948.3 Q1458.8,947.5 1457.1,945.2 Q1455.4,942.9 1454.7,940.0 Q1454.0,937.2 1454.4,935.1 Q1454.8,933.1 1458.3,929.7 Q1461.8,926.2 1463.6,928.9 Q1465.4,931.6 1468.2,934.9 Q1471.1,938.1 1471.0,940.8Z" fill="#d8221d" />
<path d="M1443.2,941.4 Q1447.1,942.8 1447.2,948.2 Q1447.2,953.6 1446.4,956.2 Q1445.5,958.8 1442.3,960.7 Q1439.1,962.6 1436.5,963.6 Q1434.0,964.7 1432.5,960.4 Q1431.0,956.1 1431.3,952.8 Q1431.5,949.4 1432.9,946.7 Q1434.3,944.0 1436.8,942.0 Q1439.3,939.9 1443.2,941.4Z" fill="#d8221d" />
<ellipse cx="1437.8" cy="955.8" rx="6.2" ry="7" fill="#3ee062"/>
<path d="M1458.5,945.5 Q1462.4,944.9 1466.9,944.8 Q1471.5,944.7 1473.1,951.0 Q1474.7,957.3 1474.3,961.6 Q1473.8,965.8 1469.2,966.3 Q1464.6,966.9 1460.5,968.3 Q1456.3,969.8 1455.1,965.2 Q1453.9,960.5 1454.3,956.2 Q1454.6,951.8 1454.6,948.9 Q1454.6,946.1 1458.5,945.5Z" fill="#d8221d" />
<ellipse cx="1462.7" cy="956.6" rx="7" ry="7.8" fill="#8c3a1a" fill-opacity="0.9"/>
<path d="M1438.3,983.8 Q1436.3,986.1 1432.9,984.0 Q1429.6,981.9 1428.2,979.0 Q1426.9,976.1 1427.3,971.5 Q1427.8,966.8 1431.5,966.6 Q1435.3,966.4 1438.8,967.9 Q1442.3,969.5 1444.5,970.9 Q1446.8,972.2 1445.8,974.9 Q1444.8,977.6 1442.6,979.5 Q1440.4,981.5 1438.3,983.8Z" fill="#d8221d" />
<ellipse cx="1437.1" cy="973.2" rx="6.2" ry="7" fill="#3ee062"/>
<path d="M1443.9,991.0 Q1442.1,987.7 1440.5,983.3 Q1438.9,978.9 1441.7,975.8 Q1444.6,972.8 1448.5,973.5 Q1452.4,974.1 1456.4,974.4 Q1460.5,974.7 1462.2,976.3 Q1464.0,977.8 1464.2,983.5 Q1464.4,989.2 1460.4,990.7 Q1456.4,992.3 1451.0,993.3 Q1445.7,994.4 1443.9,991.0Z" fill="#d8221d" />
<ellipse cx="1450.7" cy="982.2" rx="7" ry="7.8" fill="#8c3a1a" fill-opacity="0.9"/>
<path d="M1579.3,924.1 Q1577.6,920.4 1579.0,917.5 Q1580.5,914.6 1582.1,912.6 Q1583.8,910.6 1587.7,911.1 Q1591.6,911.6 1593.2,912.1 Q1594.8,912.7 1597.3,916.8 Q1599.7,920.9 1597.1,922.3 Q1594.5,923.7 1591.5,927.1 Q1588.6,930.6 1584.8,929.2 Q1581.0,927.8 1579.3,924.1Z" fill="#d8221d" />
<ellipse cx="1588.1" cy="920.3" rx="6.2" ry="7" fill="#3ee062"/>
<path d="M1598.9,946.7 Q1592.8,943.6 1592.2,939.0 Q1591.6,934.3 1592.4,931.2 Q1593.3,928.2 1599.3,926.9 Q1605.3,925.7 1610.1,924.9 Q1614.9,924.1 1617.8,928.2 Q1620.8,932.3 1618.3,934.7 Q1615.8,937.0 1613.0,940.7 Q1610.3,944.4 1607.7,947.1 Q1605.1,949.8 1598.9,946.7Z" fill="#d8221d" />
<ellipse cx="1607.0" cy="936.2" rx="7" ry="7.8" fill="#8c3a1a" fill-opacity="0.9"/>
<path d="M1563.5,955.0 Q1564.3,952.7 1566.5,950.2 Q1568.7,947.7 1572.7,949.9 Q1576.6,952.1 1579.3,954.6 Q1581.9,957.1 1581.1,960.4 Q1580.3,963.7 1577.2,964.6 Q1574.1,965.4 1570.8,967.6 Q1567.5,969.8 1563.1,967.1 Q1558.7,964.4 1560.6,960.9 Q1562.6,957.3 1563.5,955.0Z" fill="#d8221d" />
<ellipse cx="1570.0" cy="960.3" rx="6.2" ry="7" fill="#3ee062"/>
<path d="M1576.6,983.1 Q1579.0,986.4 1576.0,990.7 Q1572.9,995.0 1569.3,995.8 Q1565.6,996.6 1563.1,994.2 Q1560.6,991.8 1558.8,987.9 Q1557.0,983.9 1556.4,981.1 Q1555.8,978.4 1561.2,974.3 Q1566.5,970.2 1570.4,972.3 Q1574.4,974.4 1574.3,977.1 Q1574.2,979.7 1576.6,983.1Z" fill="#d8221d" />
<ellipse cx="1565.4" cy="986.0" rx="6.2" ry="7" fill="#3ee062"/>
<path d="M1528.0,993.4 Q1524.8,995.8 1524.0,999.2 Q1523.2,1002.6 1518.0,1002.5 Q1512.8,1002.5 1511.6,999.2 Q1510.4,995.9 1509.2,993.0 Q1508.0,990.1 1509.4,987.1 Q1510.8,984.0 1514.1,983.2 Q1517.4,982.4 1521.6,982.9 Q1525.7,983.5 1528.4,987.3 Q1531.1,991.1 1528.0,993.4Z" fill="#d8221d" />
<ellipse cx="1520.1" cy="992.8" rx="6.2" ry="7" fill="#3ee062"/>
<path d="M1555.6,982.6 Q1555.4,986.5 1559.3,991.1 Q1563.2,995.7 1560.6,997.8 Q1557.9,1000.0 1554.0,1001.1 Q1550.1,1002.2 1545.5,1001.7 Q1540.9,1001.3 1539.8,996.8 Q1538.7,992.2 1539.1,989.4 Q1539.4,986.6 1543.2,983.5 Q1546.9,980.4 1551.4,979.5 Q1555.8,978.7 1555.6,982.6Z" fill="#d8221d" />
<ellipse cx="1548.8" cy="992.8" rx="7" ry="7.8" fill="#8c3a1a" fill-opacity="0.9"/>
<ellipse cx="1586.6" cy="997.3" rx="9.2" ry="10.6" fill="#7a1510" stroke="#d8221d" stroke-width="3" transform="rotate(113 1586.6 997.3)"/>
<path d="M1439.4,1018.5 Q1437.3,1015.2 1434.9,1010.8 Q1432.5,1006.4 1433.5,1003.4 Q1434.6,1000.4 1439.1,998.7 Q1443.6,996.9 1446.2,998.3 Q1448.9,999.7 1449.8,1002.9 Q1450.7,1006.1 1450.4,1009.6 Q1450.1,1013.1 1450.0,1016.5 Q1449.9,1019.8 1445.7,1020.8 Q1441.6,1021.8 1439.4,1018.5Z" fill="#d8221d" />
<ellipse cx="1441.6" cy="1007.9" rx="6.2" ry="7" fill="#3ee062"/>
<path d="M1466.3,998.6 Q1469.1,1002.3 1469.2,1005.4 Q1469.2,1008.4 1469.0,1010.7 Q1468.9,1012.9 1466.7,1013.8 Q1464.5,1014.8 1458.5,1015.5 Q1452.5,1016.2 1450.8,1013.8 Q1449.1,1011.4 1452.1,1007.2 Q1455.1,1003.0 1456.6,1000.9 Q1458.2,998.8 1460.8,996.8 Q1463.4,994.8 1466.3,998.6Z" fill="#d8221d" />
<ellipse cx="1460.5" cy="1006.4" rx="6.2" ry="7" fill="#3ee062"/>
<path d="M1445.4,1027.3 Q1443.8,1028.7 1441.9,1032.1 Q1439.9,1035.4 1436.1,1033.7 Q1432.3,1032.0 1429.2,1030.7 Q1426.1,1029.5 1427.6,1025.9 Q1429.1,1022.2 1429.4,1018.0 Q1429.7,1013.8 1434.5,1014.4 Q1439.3,1015.1 1440.5,1017.4 Q1441.7,1019.6 1444.4,1022.7 Q1447.0,1025.9 1445.4,1027.3Z" fill="#d8221d" />
<ellipse cx="1435.6" cy="1022.3" rx="6.2" ry="7" fill="#3ee062"/>
<path d="M1437.7,1034.0 Q1438.8,1030.0 1441.8,1028.6 Q1444.8,1027.2 1447.2,1024.4 Q1449.6,1021.6 1453.0,1024.4 Q1456.5,1027.2 1456.7,1030.8 Q1456.9,1034.5 1456.4,1036.7 Q1456.0,1039.0 1452.2,1041.8 Q1448.5,1044.6 1445.5,1043.4 Q1442.6,1042.2 1439.6,1040.0 Q1436.7,1037.9 1437.7,1034.0Z" fill="#d8221d" />
<ellipse cx="1448.4" cy="1030.6" rx="6.2" ry="7" fill="#3ee062"/>
<ellipse cx="1497.5" cy="1024.5" rx="9.8" ry="10.8" fill="#7a1510" stroke="#d8221d" stroke-width="3" transform="rotate(128 1497.5 1024.5)"/>
<path d="M1514.1,1024.8 Q1513.9,1022.9 1516.6,1019.7 Q1519.4,1016.4 1520.5,1014.2 Q1521.6,1012.0 1526.3,1012.7 Q1531.1,1013.5 1533.2,1016.9 Q1535.4,1020.4 1533.2,1023.4 Q1531.0,1026.4 1529.2,1028.6 Q1527.3,1030.8 1525.2,1031.9 Q1523.0,1033.0 1518.7,1029.8 Q1514.3,1026.6 1514.1,1024.8Z" fill="#d8221d" />
<ellipse cx="1526.2" cy="1023.0" rx="6.2" ry="7" fill="#3ee062"/>
<path d="M1548.4,1002.2 Q1547.9,998.2 1553.3,996.6 Q1558.7,995.1 1562.2,998.4 Q1565.7,1001.8 1566.7,1004.7 Q1567.6,1007.6 1567.7,1011.6 Q1567.9,1015.5 1565.0,1018.6 Q1562.1,1021.6 1557.4,1020.0 Q1552.7,1018.4 1550.1,1015.4 Q1547.6,1012.3 1548.2,1009.3 Q1548.9,1006.2 1548.4,1002.2Z" fill="#d8221d" />
<ellipse cx="1556.4" cy="1010.9" rx="7" ry="7.8" fill="#8c3a1a" fill-opacity="0.9"/>
<path d="M1581.6,1008.4 Q1584.4,1005.0 1588.7,1005.3 Q1593.0,1005.5 1594.5,1011.3 Q1596.0,1017.0 1595.0,1019.6 Q1594.0,1022.1 1591.8,1026.4 Q1589.7,1030.7 1586.7,1030.6 Q1583.6,1030.4 1580.2,1025.8 Q1576.7,1021.2 1576.4,1017.6 Q1576.0,1014.1 1577.4,1013.0 Q1578.8,1011.8 1581.6,1008.4Z" fill="#d8221d" />
<ellipse cx="1585.1" cy="1018.5" rx="7" ry="7.8" fill="#8c3a1a" fill-opacity="0.9"/>
<path d="M1512.7,1032.3 Q1516.2,1033.4 1518.5,1034.4 Q1520.8,1035.5 1522.3,1039.6 Q1523.8,1043.6 1520.8,1045.7 Q1517.9,1047.8 1516.5,1051.1 Q1515.1,1054.3 1510.1,1052.2 Q1505.2,1050.2 1503.6,1045.4 Q1502.1,1040.6 1504.3,1038.1 Q1506.5,1035.6 1507.8,1033.4 Q1509.2,1031.3 1512.7,1032.3Z" fill="#d8221d" />
<ellipse cx="1513.3" cy="1042.6" rx="6.2" ry="7" fill="#3ee062"/>
<path d="M1532.9,1065.8 Q1528.4,1065.4 1527.3,1061.1 Q1526.2,1056.7 1525.2,1053.5 Q1524.3,1050.2 1527.0,1047.0 Q1529.8,1043.8 1533.9,1045.0 Q1537.9,1046.1 1540.4,1047.2 Q1543.0,1048.3 1543.9,1053.0 Q1544.8,1057.6 1544.5,1060.2 Q1544.2,1062.8 1540.7,1064.5 Q1537.3,1066.2 1532.9,1065.8Z" fill="#d8221d" />
<ellipse cx="1533.0" cy="1054.7" rx="6.2" ry="7" fill="#3ee062"/>
<path d="M1553.5,1027.5 Q1557.3,1027.7 1560.7,1028.7 Q1564.2,1029.8 1565.4,1033.0 Q1566.7,1036.3 1564.5,1038.6 Q1562.3,1041.0 1558.7,1044.4 Q1555.1,1047.7 1550.4,1045.7 Q1545.7,1043.6 1545.7,1041.0 Q1545.7,1038.3 1545.9,1034.5 Q1546.0,1030.7 1547.9,1029.0 Q1549.7,1027.3 1553.5,1027.5Z" fill="#d8221d" />
<path d="M1502.0,1046.8 Q1502.7,1051.1 1506.2,1054.2 Q1509.7,1057.2 1506.0,1059.6 Q1502.3,1062.0 1499.5,1065.4 Q1496.6,1068.9 1491.3,1066.3 Q1485.9,1063.6 1482.7,1059.8 Q1479.5,1056.0 1481.5,1051.8 Q1483.6,1047.6 1487.1,1045.6 Q1490.5,1043.7 1495.9,1043.1 Q1501.3,1042.5 1502.0,1046.8Z" fill="#d8221d" />
<ellipse cx="1492.9" cy="1054.7" rx="7" ry="7.8" fill="#8c3a1a" fill-opacity="0.9"/>
<path d="M1273.5,1074.2 Q1271.3,1074.6 1268.5,1075.1 Q1265.6,1075.7 1263.7,1073.4 Q1261.7,1071.2 1261.8,1067.5 Q1261.8,1063.9 1263.3,1061.0 Q1264.7,1058.1 1266.8,1056.5 Q1268.8,1055.0 1272.0,1057.4 Q1275.2,1059.9 1275.9,1062.2 Q1276.7,1064.5 1276.2,1069.1 Q1275.8,1073.8 1273.5,1074.2Z" fill="#d8221d" />
<path d="M1245.3,1082.6 Q1246.3,1079.1 1250.0,1078.5 Q1253.6,1077.9 1258.2,1078.3 Q1262.8,1078.7 1264.6,1081.0 Q1266.5,1083.3 1264.5,1086.6 Q1262.5,1089.9 1260.5,1093.1 Q1258.6,1096.2 1255.2,1096.1 Q1251.9,1095.9 1249.7,1093.3 Q1247.5,1090.7 1245.9,1088.3 Q1244.3,1086.0 1245.3,1082.6Z" fill="#d8221d" />
<ellipse cx="1256.8" cy="1086.2" rx="6.2" ry="7" fill="#3ee062"/>
<path d="M1276.2,1090.0 Q1276.2,1085.4 1276.5,1081.5 Q1276.7,1077.6 1280.1,1078.0 Q1283.5,1078.3 1286.3,1078.2 Q1289.0,1078.1 1291.4,1082.2 Q1293.8,1086.3 1294.9,1088.9 Q1296.0,1091.5 1293.1,1093.9 Q1290.3,1096.4 1285.6,1096.7 Q1280.9,1097.1 1278.6,1095.8 Q1276.2,1094.5 1276.2,1090.0Z" fill="#d8221d" />
<ellipse cx="1283.3" cy="1088.5" rx="6.2" ry="7" fill="#3ee062"/>
<path d="M1320.9,1097.8 Q1318.6,1101.9 1314.2,1104.9 Q1309.7,1107.8 1307.2,1104.4 Q1304.7,1101.0 1303.3,1099.3 Q1301.9,1097.6 1301.1,1093.8 Q1300.3,1090.0 1300.7,1086.5 Q1301.1,1083.1 1305.6,1083.6 Q1310.0,1084.2 1315.0,1086.2 Q1319.9,1088.2 1321.6,1091.0 Q1323.3,1093.7 1320.9,1097.8Z" fill="#d8221d" />
<ellipse cx="1310.4" cy="1092.2" rx="6.2" ry="7" fill="#3ee062"/>
<path d="M1344.5,1091.2 Q1344.7,1094.7 1341.0,1098.2 Q1337.4,1101.6 1335.0,1100.3 Q1332.7,1099.0 1329.5,1097.3 Q1326.3,1095.6 1322.7,1093.1 Q1319.0,1090.6 1322.4,1087.7 Q1325.8,1084.8 1329.2,1081.7 Q1332.6,1078.6 1336.5,1080.4 Q1340.3,1082.3 1342.2,1085.0 Q1344.2,1087.6 1344.5,1091.2Z" fill="#d8221d" />
<ellipse cx="1336.1" cy="1089.2" rx="7" ry="7.8" fill="#8c3a1a" fill-opacity="0.9"/>
<path d="M1363.0,1073.3 Q1359.7,1071.1 1360.2,1068.4 Q1360.6,1065.6 1364.5,1063.0 Q1368.5,1060.4 1370.6,1060.9 Q1372.7,1061.3 1375.0,1063.6 Q1377.4,1065.9 1378.4,1067.9 Q1379.3,1069.9 1378.3,1074.3 Q1377.4,1078.6 1374.0,1078.0 Q1370.6,1077.3 1368.5,1076.3 Q1366.4,1075.4 1363.0,1073.3Z" fill="#d8221d" />
<ellipse cx="1367.8" cy="1069.6" rx="6.2" ry="7" fill="#3ee062"/>
<path d="M1374.4,1062.8 Q1372.8,1066.2 1368.8,1066.5 Q1364.8,1066.8 1362.5,1065.9 Q1360.3,1065.0 1358.5,1061.4 Q1356.8,1057.8 1356.4,1053.3 Q1356.0,1048.9 1359.0,1049.9 Q1362.0,1050.9 1365.5,1050.8 Q1368.9,1050.8 1371.8,1052.0 Q1374.8,1053.1 1375.4,1056.2 Q1376.0,1059.3 1374.4,1062.8Z" fill="#d8221d" />
<ellipse cx="1363.3" cy="1057.5" rx="6.2" ry="7" fill="#3ee062"/>
<path d="M1338.1,1052.9 Q1341.0,1053.2 1345.8,1055.6 Q1350.6,1058.0 1347.6,1061.6 Q1344.6,1065.1 1343.2,1065.7 Q1341.9,1066.3 1339.4,1068.0 Q1337.0,1069.6 1332.1,1067.8 Q1327.1,1065.9 1327.6,1063.6 Q1328.1,1061.3 1329.9,1058.1 Q1331.7,1054.9 1333.4,1053.7 Q1335.1,1052.6 1338.1,1052.9Z" fill="#d8221d" />
<path d="M1395.7,1088.2 Q1392.6,1086.5 1392.0,1082.1 Q1391.4,1077.7 1396.4,1074.9 Q1401.3,1072.1 1404.3,1069.5 Q1407.3,1066.8 1411.2,1068.5 Q1415.1,1070.2 1416.5,1075.3 Q1417.9,1080.4 1416.3,1083.2 Q1414.8,1086.1 1410.9,1088.3 Q1406.9,1090.5 1402.9,1090.1 Q1398.8,1089.8 1395.7,1088.2Z" fill="#d8221d" />
<ellipse cx="1405.6" cy="1080.2" rx="6.2" ry="7" fill="#35b850"/>
<path d="M1373.5,1087.5 Q1376.2,1085.9 1379.7,1087.5 Q1383.2,1089.0 1384.7,1092.0 Q1386.2,1095.0 1383.7,1098.1 Q1381.2,1101.1 1379.5,1102.0 Q1377.8,1103.0 1374.5,1102.9 Q1371.2,1102.7 1369.1,1099.8 Q1367.0,1096.9 1365.5,1094.2 Q1363.9,1091.6 1367.4,1090.3 Q1370.9,1089.0 1373.5,1087.5Z" fill="#d8221d" />
<path d="M1400.2,1126.7 Q1396.6,1127.9 1394.9,1125.7 Q1393.1,1123.5 1390.4,1120.2 Q1387.6,1116.8 1388.9,1112.8 Q1390.2,1108.8 1395.2,1108.9 Q1400.1,1109.0 1402.7,1110.1 Q1405.3,1111.3 1407.5,1113.2 Q1409.7,1115.2 1410.2,1120.1 Q1410.7,1125.1 1407.2,1125.3 Q1403.7,1125.4 1400.2,1126.7Z" fill="#d8221d" />
<ellipse cx="1399.5" cy="1116.4" rx="6.2" ry="7" fill="#3ee062"/>
<path d="M1434.8,1125.1 Q1431.5,1128.6 1428.9,1127.7 Q1426.3,1126.9 1422.9,1126.2 Q1419.4,1125.4 1419.3,1122.6 Q1419.2,1119.8 1419.6,1114.1 Q1420.1,1108.4 1423.3,1109.0 Q1426.4,1109.7 1429.8,1110.2 Q1433.3,1110.7 1437.4,1112.8 Q1441.6,1114.9 1439.8,1118.3 Q1438.1,1121.7 1434.8,1125.1Z" fill="#d8221d" />
<ellipse cx="1339.1" cy="1117.9" rx="9.7" ry="11.2" fill="#7a1510" stroke="#d8221d" stroke-width="3" transform="rotate(77 1339.1 1117.9)"/>
<path d="M1390.1,1132.3 Q1386.7,1136.8 1383.2,1137.7 Q1379.7,1138.7 1376.8,1135.9 Q1373.8,1133.1 1372.1,1127.7 Q1370.3,1122.3 1372.5,1119.4 Q1374.7,1116.6 1377.6,1115.1 Q1380.5,1113.5 1384.8,1113.9 Q1389.1,1114.2 1391.7,1117.9 Q1394.2,1121.5 1393.9,1124.7 Q1393.5,1127.8 1390.1,1132.3Z" fill="#d8221d" />
<ellipse cx="1379.9" cy="1122.4" rx="7" ry="7.8" fill="#8c3a1a" fill-opacity="0.9"/>
<path d="M1309.9,1120.5 Q1311.4,1124.9 1310.9,1128.1 Q1310.4,1131.3 1308.4,1134.8 Q1306.3,1138.4 1300.9,1138.6 Q1295.4,1138.7 1293.7,1135.0 Q1292.0,1131.2 1292.7,1127.9 Q1293.5,1124.6 1292.4,1121.1 Q1291.4,1117.5 1298.0,1115.3 Q1304.5,1113.1 1306.5,1114.5 Q1308.5,1116.0 1309.9,1120.5Z" fill="#d8221d" />
<ellipse cx="1301.4" cy="1128.5" rx="7" ry="7.8" fill="#8c3a1a" fill-opacity="0.9"/>
<path d="M1314.1,1137.2 Q1318.9,1135.4 1320.7,1137.7 Q1322.4,1139.9 1323.6,1144.2 Q1324.7,1148.4 1324.8,1151.0 Q1324.8,1153.5 1321.6,1155.0 Q1318.4,1156.6 1315.2,1156.3 Q1312.0,1156.0 1309.1,1154.3 Q1306.2,1152.5 1306.7,1148.7 Q1307.2,1144.9 1308.2,1142.0 Q1309.2,1139.0 1314.1,1137.2Z" fill="#d8221d" />
<ellipse cx="1315.0" cy="1145.9" rx="6.2" ry="7" fill="#3ee062"/>
<path d="M1319.7,1147.6 Q1317.9,1145.0 1318.8,1139.5 Q1319.8,1134.0 1322.0,1134.1 Q1324.3,1134.2 1327.6,1131.6 Q1331.0,1129.0 1334.2,1131.3 Q1337.4,1133.6 1338.9,1139.0 Q1340.3,1144.5 1337.7,1146.4 Q1335.1,1148.4 1332.3,1150.3 Q1329.4,1152.3 1325.4,1151.3 Q1321.4,1150.2 1319.7,1147.6Z" fill="#d8221d" />
<ellipse cx="1327.1" cy="1140.6" rx="6.2" ry="7" fill="#3ee062"/>
<path d="M1343.9,1149.1 Q1340.0,1149.1 1337.7,1149.5 Q1335.3,1150.0 1334.1,1146.7 Q1332.9,1143.5 1333.1,1140.7 Q1333.4,1137.9 1334.5,1135.9 Q1335.7,1133.9 1338.5,1131.1 Q1341.3,1128.4 1345.2,1130.4 Q1349.2,1132.4 1351.2,1137.9 Q1353.2,1143.4 1350.5,1146.3 Q1347.8,1149.2 1343.9,1149.1Z" fill="#d8221d" />
<ellipse cx="1342.9" cy="1140.6" rx="6.2" ry="7" fill="#3ee062"/>
<path d="M1366.4,1110.0 Q1370.3,1108.5 1371.0,1111.8 Q1371.7,1115.1 1372.1,1117.8 Q1372.6,1120.4 1372.0,1124.5 Q1371.5,1128.6 1368.7,1128.3 Q1365.9,1128.1 1362.0,1127.1 Q1358.2,1126.1 1356.5,1124.9 Q1354.9,1123.8 1356.4,1120.1 Q1357.9,1116.3 1360.2,1114.0 Q1362.6,1111.6 1366.4,1110.0Z" fill="#d8221d" />
<path d="M1382.3,1133.0 Q1385.8,1135.3 1387.3,1140.0 Q1388.8,1144.6 1384.2,1145.5 Q1379.5,1146.5 1376.5,1149.2 Q1373.5,1151.9 1370.1,1149.6 Q1366.7,1147.4 1366.9,1143.5 Q1367.2,1139.7 1367.1,1135.0 Q1367.0,1130.4 1369.6,1129.7 Q1372.1,1129.0 1375.5,1129.9 Q1378.9,1130.7 1382.3,1133.0Z" fill="#d8221d" />
<ellipse cx="1375.4" cy="1137.5" rx="7" ry="7.8" fill="#8c3a1a" fill-opacity="0.9"/>
<path d="M1423.4,1140.2 Q1424.7,1141.1 1427.7,1143.9 Q1430.7,1146.8 1426.8,1150.2 Q1423.0,1153.6 1421.0,1155.9 Q1419.0,1158.3 1415.5,1156.5 Q1412.0,1154.8 1411.1,1151.9 Q1410.2,1148.9 1410.5,1146.9 Q1410.7,1144.9 1413.0,1142.4 Q1415.2,1140.0 1418.7,1139.6 Q1422.1,1139.3 1423.4,1140.2Z" fill="#d8221d" />
<ellipse cx="1419.2" cy="1148.1" rx="6.2" ry="7" fill="#3ee062"/>
<path d="M1265.8,1136.9 Q1269.8,1139.0 1268.2,1143.4 Q1266.6,1147.7 1265.1,1149.7 Q1263.6,1151.7 1260.4,1153.5 Q1257.1,1155.2 1254.3,1154.0 Q1251.4,1152.9 1249.1,1150.7 Q1246.7,1148.6 1248.1,1144.0 Q1249.5,1139.5 1250.7,1137.2 Q1252.0,1135.0 1256.9,1134.9 Q1261.8,1134.8 1265.8,1136.9Z" fill="#d8221d" />
<path d="M1297.7,1168.5 Q1297.6,1166.3 1299.1,1163.8 Q1300.6,1161.3 1303.8,1160.9 Q1307.0,1160.5 1309.3,1162.3 Q1311.6,1164.0 1313.9,1167.3 Q1316.1,1170.5 1314.9,1174.8 Q1313.7,1179.1 1309.4,1181.1 Q1305.1,1183.2 1303.1,1181.9 Q1301.0,1180.6 1299.4,1175.7 Q1297.8,1170.8 1297.7,1168.5Z" fill="#d8221d" />
<ellipse cx="1304.4" cy="1172.3" rx="6.2" ry="7" fill="#3ee062"/>
<path d="M1309.9,1167.8 Q1307.6,1169.9 1303.7,1171.9 Q1299.8,1174.0 1297.3,1172.9 Q1294.8,1171.8 1292.5,1169.3 Q1290.2,1166.8 1292.9,1163.2 Q1295.6,1159.5 1296.4,1156.6 Q1297.2,1153.6 1302.0,1154.1 Q1306.7,1154.7 1307.2,1157.6 Q1307.7,1160.5 1310.0,1163.1 Q1312.3,1165.7 1309.9,1167.8Z" fill="#d8221d" />
<path d="M1390.6,1162.8 Q1393.7,1165.5 1391.8,1169.2 Q1390.0,1172.8 1386.6,1174.5 Q1383.3,1176.2 1380.3,1178.9 Q1377.4,1181.5 1374.9,1177.3 Q1372.4,1173.1 1371.8,1170.3 Q1371.1,1167.5 1372.8,1162.6 Q1374.4,1157.7 1378.2,1155.6 Q1382.1,1153.6 1384.8,1156.8 Q1387.5,1160.0 1390.6,1162.8Z" fill="#d8221d" />
<ellipse cx="1379.9" cy="1169.3" rx="7" ry="7.8" fill="#8c3a1a" fill-opacity="0.9"/>
<path d="M1420.6,1171.8 Q1420.2,1175.1 1419.6,1179.3 Q1419.0,1183.5 1414.6,1182.9 Q1410.3,1182.3 1408.1,1181.4 Q1406.0,1180.5 1402.4,1177.4 Q1398.7,1174.3 1399.9,1171.0 Q1401.2,1167.8 1404.6,1165.4 Q1408.0,1163.1 1410.8,1161.3 Q1413.6,1159.5 1417.3,1164.1 Q1420.9,1168.6 1420.6,1171.8Z" fill="#d8221d" />
<ellipse cx="1413.1" cy="1175.3" rx="6.2" ry="7" fill="#3ee062"/>
<ellipse cx="1395.0" cy="1187.4" rx="9.5" ry="9.6" fill="#7a1510" stroke="#d8221d" stroke-width="3" transform="rotate(119 1395.0 1187.4)"/>
<path d="M1365.4,1175.8 Q1367.8,1175.1 1372.4,1174.7 Q1377.0,1174.3 1376.9,1179.2 Q1376.8,1184.1 1376.3,1185.9 Q1375.7,1187.8 1373.5,1192.0 Q1371.2,1196.1 1368.6,1194.9 Q1365.9,1193.7 1363.4,1190.4 Q1360.8,1187.2 1358.4,1183.8 Q1355.9,1180.5 1359.4,1178.4 Q1362.9,1176.4 1365.4,1175.8Z" fill="#d8221d" />
<ellipse cx="1367.8" cy="1185.9" rx="7" ry="7.8" fill="#8c3a1a" fill-opacity="0.9"/>
<path d="M1377.8,1192.8 Q1382.0,1195.9 1380.3,1198.4 Q1378.7,1200.9 1377.6,1204.0 Q1376.6,1207.1 1372.9,1208.1 Q1369.1,1209.2 1367.2,1207.4 Q1365.3,1205.6 1362.5,1202.2 Q1359.7,1198.8 1361.9,1196.0 Q1364.2,1193.2 1366.3,1192.1 Q1368.4,1191.1 1371.0,1190.4 Q1373.5,1189.7 1377.8,1192.8Z" fill="#d8221d" />
<ellipse cx="1370.9" cy="1201.7" rx="6.2" ry="7" fill="#3ee062"/>
<path d="M1387.7,1208.5 Q1390.2,1208.2 1390.8,1212.4 Q1391.5,1216.6 1391.6,1219.7 Q1391.8,1222.8 1389.1,1225.2 Q1386.4,1227.7 1382.3,1226.3 Q1378.2,1225.0 1375.0,1222.9 Q1371.8,1220.9 1371.0,1218.2 Q1370.2,1215.6 1374.1,1211.1 Q1377.9,1206.6 1381.6,1207.8 Q1385.3,1208.9 1387.7,1208.5Z" fill="#d8221d" />
<ellipse cx="1382.9" cy="1214.6" rx="6.2" ry="7" fill="#3ee062"/>
<path d="M1264.4,1190.0 Q1267.9,1189.2 1272.2,1189.7 Q1276.5,1190.2 1278.4,1194.1 Q1280.2,1198.0 1279.3,1203.2 Q1278.4,1208.3 1273.3,1209.2 Q1268.3,1210.1 1265.9,1211.7 Q1263.5,1213.2 1260.5,1209.9 Q1257.5,1206.6 1256.1,1203.9 Q1254.8,1201.1 1257.9,1196.0 Q1261.0,1190.8 1264.4,1190.0Z" fill="#d8221d" />
<ellipse cx="1265.1" cy="1199.5" rx="7" ry="7.8" fill="#8c3a1a" fill-opacity="0.9"/>
<path d="M1255.5,1223.0 Q1253.7,1219.7 1256.5,1217.9 Q1259.2,1216.0 1262.8,1212.8 Q1266.5,1209.5 1269.2,1211.2 Q1271.9,1213.0 1272.1,1215.7 Q1272.2,1218.4 1273.4,1222.2 Q1274.5,1225.9 1271.5,1228.0 Q1268.5,1230.0 1265.6,1231.6 Q1262.7,1233.3 1260.0,1229.8 Q1257.4,1226.4 1255.5,1223.0Z" fill="#d8221d" />
<ellipse cx="1264.4" cy="1219.1" rx="6.2" ry="7" fill="#3ee062"/>
<path d="M1288.9,1215.3 Q1290.3,1212.5 1291.5,1209.3 Q1292.7,1206.2 1293.2,1202.0 Q1293.7,1197.8 1300.2,1198.5 Q1306.8,1199.2 1307.5,1202.4 Q1308.3,1205.5 1307.5,1209.7 Q1306.7,1213.9 1306.1,1216.3 Q1305.4,1218.7 1301.1,1220.6 Q1296.9,1222.5 1292.1,1220.3 Q1287.4,1218.1 1288.9,1215.3Z" fill="#d8221d" />
<ellipse cx="1298.4" cy="1213.1" rx="7" ry="7.8" fill="#8c3a1a" fill-opacity="0.9"/>
<path d="M1326.3,1215.1 Q1320.8,1216.7 1319.1,1215.4 Q1317.3,1214.0 1314.8,1209.6 Q1312.3,1205.2 1313.5,1202.7 Q1314.7,1200.1 1317.6,1198.2 Q1320.4,1196.3 1324.1,1196.5 Q1327.8,1196.7 1330.5,1198.8 Q1333.3,1200.8 1333.8,1203.7 Q1334.3,1206.6 1333.1,1210.1 Q1331.8,1213.5 1326.3,1215.1Z" fill="#d8221d" />
<ellipse cx="1326.3" cy="1207.0" rx="6.2" ry="7" fill="#3ee062"/>
<path d="M1313.3,1208.3 Q1317.1,1207.3 1320.0,1209.6 Q1322.9,1211.8 1325.1,1213.2 Q1327.3,1214.6 1327.1,1217.7 Q1326.9,1220.7 1323.9,1222.6 Q1321.0,1224.4 1317.6,1225.4 Q1314.2,1226.4 1312.0,1225.2 Q1309.7,1224.0 1308.4,1220.4 Q1307.1,1216.9 1308.2,1213.1 Q1309.4,1209.3 1313.3,1208.3Z" fill="#d8221d" />
<ellipse cx="1315.7" cy="1216.8" rx="6.2" ry="7" fill="#3ee062"/>
<path d="M1333.6,1204.4 Q1338.8,1203.5 1341.1,1206.9 Q1343.3,1210.2 1343.2,1213.0 Q1343.2,1215.8 1343.0,1218.4 Q1342.8,1221.1 1339.7,1224.8 Q1336.5,1228.4 1332.8,1227.6 Q1329.1,1226.7 1327.0,1223.8 Q1324.9,1220.9 1326.5,1217.6 Q1328.1,1214.4 1328.3,1209.9 Q1328.4,1205.3 1333.6,1204.4Z" fill="#d8221d" />
<ellipse cx="1336.1" cy="1216.8" rx="6.2" ry="7" fill="#35b850"/>
<ellipse cx="1414.6" cy="1210.0" rx="9.9" ry="10.1" fill="#7a1510" stroke="#d8221d" stroke-width="3" transform="rotate(29 1414.6 1210.0)"/>
<path d="M1343.9,1228.5 Q1346.5,1229.1 1349.2,1230.4 Q1352.0,1231.7 1352.8,1234.7 Q1353.6,1237.7 1353.5,1241.4 Q1353.4,1245.0 1350.3,1245.0 Q1347.2,1245.1 1343.5,1245.4 Q1339.8,1245.8 1336.8,1242.5 Q1333.8,1239.3 1335.0,1236.6 Q1336.1,1233.9 1338.7,1230.8 Q1341.3,1227.8 1343.9,1228.5Z" fill="#d8221d" />
<path d="M1277.1,1218.6 Q1277.3,1216.1 1279.9,1213.6 Q1282.4,1211.1 1286.5,1213.6 Q1290.7,1216.2 1291.4,1218.7 Q1292.2,1221.3 1294.4,1224.0 Q1296.7,1226.6 1293.3,1229.3 Q1289.9,1231.9 1284.5,1232.2 Q1279.1,1232.4 1277.8,1229.8 Q1276.6,1227.3 1276.7,1224.2 Q1276.8,1221.2 1277.1,1218.6Z" fill="#d8221d" />
<path d="M1467.1,1085.8 Q1463.7,1086.4 1459.7,1084.0 Q1455.7,1081.7 1454.2,1077.7 Q1452.7,1073.7 1453.7,1071.9 Q1454.7,1070.0 1456.9,1068.0 Q1459.0,1066.0 1462.7,1065.6 Q1466.4,1065.1 1470.1,1066.8 Q1473.8,1068.5 1473.7,1072.4 Q1473.6,1076.3 1472.1,1080.8 Q1470.5,1085.2 1467.1,1085.8Z" fill="#d8221d" />
<ellipse cx="1462.0" cy="1076.4" rx="6.2" ry="7" fill="#3ee062"/>
<path d="M1479.8,1082.8 Q1483.1,1083.1 1485.4,1086.2 Q1487.7,1089.2 1488.6,1091.8 Q1489.5,1094.5 1489.2,1097.6 Q1489.0,1100.7 1484.0,1100.0 Q1478.9,1099.3 1476.8,1099.5 Q1474.7,1099.6 1471.7,1097.1 Q1468.7,1094.6 1470.9,1090.7 Q1473.2,1086.9 1474.9,1084.7 Q1476.5,1082.5 1479.8,1082.8Z" fill="#d8221d" />
<ellipse cx="1483.1" cy="1093.0" rx="6.2" ry="7" fill="#3ee062"/>
<path d="M1462.6,1097.8 Q1465.1,1100.3 1466.0,1102.8 Q1466.9,1105.3 1464.6,1108.5 Q1462.3,1111.6 1459.3,1111.9 Q1456.2,1112.2 1452.8,1112.9 Q1449.5,1113.6 1445.7,1108.6 Q1441.9,1103.7 1444.8,1101.9 Q1447.7,1100.0 1449.7,1098.4 Q1451.7,1096.7 1455.9,1096.0 Q1460.1,1095.4 1462.6,1097.8Z" fill="#d8221d" />
<ellipse cx="1456.7" cy="1104.3" rx="6.2" ry="7" fill="#3ee062"/>
<path d="M1443.2,1118.8 Q1444.0,1122.2 1442.7,1124.7 Q1441.5,1127.2 1438.6,1130.0 Q1435.7,1132.8 1431.2,1130.4 Q1426.6,1127.9 1424.1,1123.7 Q1421.5,1119.6 1424.2,1116.7 Q1426.9,1113.8 1428.3,1112.2 Q1429.8,1110.6 1433.3,1110.2 Q1436.9,1109.8 1439.7,1112.6 Q1442.4,1115.4 1443.2,1118.8Z" fill="#d8221d" />
<ellipse cx="1434.8" cy="1117.9" rx="7" ry="7.8" fill="#8c3a1a" fill-opacity="0.9"/>
<path d="M1470.2,1107.3 Q1473.5,1104.2 1476.8,1108.5 Q1480.1,1112.9 1482.1,1117.3 Q1484.2,1121.7 1481.8,1123.4 Q1479.4,1125.2 1474.5,1126.1 Q1469.6,1127.1 1466.4,1125.9 Q1463.3,1124.7 1461.6,1121.7 Q1459.9,1118.7 1459.5,1113.9 Q1459.2,1109.2 1463.0,1109.8 Q1466.8,1110.3 1470.2,1107.3Z" fill="#d8221d" />
<ellipse cx="1471.8" cy="1116.4" rx="7" ry="7.8" fill="#8c3a1a" fill-opacity="0.9"/>
<path d="M1493.8,1118.1 Q1491.4,1115.5 1494.8,1112.7 Q1498.3,1109.9 1501.7,1108.6 Q1505.2,1107.3 1507.5,1106.8 Q1509.9,1106.2 1512.9,1110.1 Q1515.8,1113.9 1514.5,1117.8 Q1513.1,1121.7 1509.9,1125.3 Q1506.8,1129.0 1504.2,1126.7 Q1501.7,1124.4 1499.0,1122.5 Q1496.2,1120.6 1493.8,1118.1Z" fill="#d8221d" />
<path d="M1530.1,1066.0 Q1528.0,1064.0 1525.0,1062.1 Q1522.0,1060.1 1522.8,1056.9 Q1523.6,1053.7 1527.2,1052.2 Q1530.7,1050.7 1534.3,1049.1 Q1537.9,1047.4 1538.2,1050.3 Q1538.5,1053.2 1541.5,1055.4 Q1544.6,1057.5 1542.6,1060.8 Q1540.6,1064.1 1536.4,1066.0 Q1532.2,1068.0 1530.1,1066.0Z" fill="#d8221d" />
<ellipse cx="1532.2" cy="1059.0" rx="6.2" ry="7" fill="#3ee062"/>
<path d="M1542.9,1083.2 Q1539.0,1083.2 1535.8,1081.5 Q1532.7,1079.7 1532.1,1075.9 Q1531.5,1072.1 1533.2,1069.9 Q1535.0,1067.7 1537.2,1066.4 Q1539.3,1065.2 1541.7,1064.5 Q1544.0,1063.8 1546.1,1067.5 Q1548.2,1071.2 1550.2,1074.0 Q1552.1,1076.8 1549.5,1080.0 Q1546.9,1083.2 1542.9,1083.2Z" fill="#d8221d" />
<ellipse cx="1542.0" cy="1072.6" rx="6.2" ry="7" fill="#35b850"/>
<path d="M1562.0,1065.6 Q1566.0,1064.2 1569.0,1066.6 Q1571.9,1069.1 1574.4,1072.5 Q1576.8,1075.9 1573.6,1079.1 Q1570.5,1082.4 1569.3,1084.3 Q1568.0,1086.3 1563.3,1085.9 Q1558.6,1085.4 1556.6,1083.1 Q1554.7,1080.8 1552.7,1077.2 Q1550.6,1073.7 1554.3,1070.4 Q1558.1,1067.1 1562.0,1065.6Z" fill="#d8221d" />
<ellipse cx="1560.9" cy="1077.1" rx="7" ry="7.8" fill="#8c3a1a" fill-opacity="0.9"/>
<path d="M1549.6,1083.2 Q1552.8,1083.7 1555.8,1085.6 Q1558.7,1087.6 1557.7,1093.1 Q1556.7,1098.6 1553.4,1099.8 Q1550.1,1101.0 1546.8,1099.9 Q1543.5,1098.8 1540.7,1098.8 Q1537.9,1098.7 1535.8,1094.3 Q1533.7,1090.0 1536.7,1085.9 Q1539.8,1081.9 1543.1,1082.3 Q1546.5,1082.6 1549.6,1083.2Z" fill="#d8221d" />
<ellipse cx="1547.3" cy="1092.2" rx="6.2" ry="7" fill="#3ee062"/>
<path d="M1529.4,1093.4 Q1532.1,1092.9 1535.9,1090.8 Q1539.7,1088.8 1540.5,1092.0 Q1541.3,1095.2 1545.1,1098.2 Q1548.9,1101.1 1547.5,1103.9 Q1546.2,1106.6 1541.7,1109.0 Q1537.2,1111.4 1535.0,1110.2 Q1532.8,1109.0 1528.8,1107.6 Q1524.9,1106.2 1525.8,1100.0 Q1526.7,1093.9 1529.4,1093.4Z" fill="#d8221d" />
<ellipse cx="1538.2" cy="1101.3" rx="6.2" ry="7" fill="#3ee062"/>
<path d="M1556.0,1101.5 Q1554.2,1099.1 1553.3,1094.5 Q1552.5,1090.0 1553.0,1086.6 Q1553.5,1083.2 1558.2,1083.1 Q1562.9,1082.9 1567.2,1083.8 Q1571.5,1084.7 1571.5,1088.1 Q1571.6,1091.6 1571.5,1096.5 Q1571.5,1101.4 1567.3,1101.7 Q1563.1,1101.9 1560.4,1102.9 Q1557.8,1103.9 1556.0,1101.5Z" fill="#d8221d" />
<ellipse cx="1563.2" cy="1095.3" rx="7" ry="7.8" fill="#8c3a1a" fill-opacity="0.9"/>
<path d="M1561.2,1103.6 Q1565.4,1107.6 1562.5,1110.4 Q1559.7,1113.2 1556.9,1115.7 Q1554.2,1118.2 1550.1,1119.6 Q1546.1,1121.1 1543.6,1117.6 Q1541.1,1114.1 1542.5,1111.0 Q1543.9,1107.9 1544.7,1105.7 Q1545.5,1103.5 1547.4,1100.9 Q1549.4,1098.3 1553.2,1098.9 Q1557.0,1099.6 1561.2,1103.6Z" fill="#d8221d" />
<ellipse cx="1550.3" cy="1111.1" rx="7" ry="7.8" fill="#8c3a1a" fill-opacity="0.9"/>
<path d="M1577.4,1117.7 Q1577.6,1115.5 1582.5,1114.2 Q1587.4,1112.9 1589.8,1112.9 Q1592.3,1112.9 1594.2,1115.4 Q1596.1,1117.9 1596.7,1122.5 Q1597.3,1127.0 1594.0,1129.7 Q1590.7,1132.5 1587.5,1132.7 Q1584.3,1132.9 1582.0,1129.9 Q1579.8,1126.9 1578.5,1123.4 Q1577.2,1119.8 1577.4,1117.7Z" fill="#d8221d" />
<ellipse cx="1586.6" cy="1120.9" rx="7" ry="7.8" fill="#8c3a1a" fill-opacity="0.9"/>
<path d="M1477.6,1127.6 Q1481.5,1128.7 1485.7,1129.2 Q1489.9,1129.7 1491.5,1133.7 Q1493.0,1137.7 1492.7,1140.7 Q1492.4,1143.7 1486.7,1146.4 Q1481.1,1149.2 1479.3,1147.4 Q1477.5,1145.6 1473.1,1144.0 Q1468.7,1142.3 1469.8,1138.1 Q1471.0,1133.8 1472.3,1130.1 Q1473.7,1126.5 1477.6,1127.6Z" fill="#d8221d" />
<ellipse cx="1480.9" cy="1138.3" rx="7" ry="7.8" fill="#8c3a1a" fill-opacity="0.9"/>
<path d="M1514.7,1140.3 Q1511.9,1137.9 1515.1,1134.1 Q1518.3,1130.4 1519.7,1129.2 Q1521.2,1128.0 1525.0,1126.8 Q1528.8,1125.7 1531.8,1131.0 Q1534.8,1136.3 1534.3,1139.2 Q1533.8,1142.0 1531.4,1144.4 Q1529.0,1146.8 1524.5,1148.1 Q1520.1,1149.5 1518.8,1146.1 Q1517.5,1142.7 1514.7,1140.3Z" fill="#d8221d" />
<ellipse cx="1522.4" cy="1136.0" rx="6.2" ry="7" fill="#3ee062"/>
<path d="M1493.7,1146.8 Q1493.7,1142.7 1497.3,1140.5 Q1500.9,1138.4 1503.0,1140.7 Q1505.0,1142.9 1509.1,1144.5 Q1513.1,1146.1 1513.8,1149.5 Q1514.4,1152.8 1511.9,1156.8 Q1509.4,1160.7 1507.0,1161.8 Q1504.5,1162.9 1500.2,1159.5 Q1495.9,1156.2 1494.8,1153.5 Q1493.7,1150.8 1493.7,1146.8Z" fill="#d8221d" />
<ellipse cx="1503.5" cy="1150.4" rx="6.2" ry="7" fill="#3ee062"/>
<path d="M1507.5,1160.8 Q1509.3,1158.5 1511.6,1153.5 Q1513.8,1148.5 1516.2,1150.3 Q1518.6,1152.1 1522.9,1153.1 Q1527.3,1154.0 1529.3,1155.6 Q1531.4,1157.2 1528.4,1160.7 Q1525.3,1164.2 1522.4,1168.4 Q1519.5,1172.6 1517.4,1171.6 Q1515.3,1170.5 1510.5,1166.9 Q1505.6,1163.2 1507.5,1160.8Z" fill="#d8221d" />
<ellipse cx="1517.1" cy="1162.5" rx="6.2" ry="7" fill="#3ee062"/>
<path d="M1545.7,1144.9 Q1550.8,1146.2 1553.0,1149.8 Q1555.1,1153.3 1554.2,1157.9 Q1553.3,1162.4 1549.1,1162.6 Q1544.8,1162.7 1542.4,1163.7 Q1540.1,1164.6 1538.0,1162.6 Q1536.0,1160.7 1532.7,1155.5 Q1529.5,1150.3 1532.5,1148.3 Q1535.5,1146.2 1538.1,1144.8 Q1540.7,1143.5 1545.7,1144.9Z" fill="#d8221d" />
<ellipse cx="1540.5" cy="1155.7" rx="6.2" ry="7" fill="#3ee062"/>
<path d="M1591.6,1156.6 Q1591.0,1152.2 1590.7,1149.5 Q1590.3,1146.9 1591.7,1144.3 Q1593.0,1141.7 1598.1,1138.7 Q1603.2,1135.6 1604.8,1138.9 Q1606.4,1142.3 1608.4,1145.2 Q1610.4,1148.2 1610.9,1153.1 Q1611.4,1157.9 1607.4,1158.5 Q1603.3,1159.1 1597.8,1160.1 Q1592.2,1161.1 1591.6,1156.6Z" fill="#d8221d" />
<ellipse cx="1598.6" cy="1149.6" rx="7" ry="7.8" fill="#8c3a1a" fill-opacity="0.9"/>
<path d="M1564.1,1151.9 Q1567.8,1151.6 1573.6,1150.1 Q1579.5,1148.7 1580.5,1151.4 Q1581.5,1154.2 1581.7,1160.1 Q1581.9,1166.0 1578.8,1169.6 Q1575.7,1173.2 1573.1,1170.9 Q1570.5,1168.6 1566.6,1166.9 Q1562.7,1165.1 1559.7,1161.5 Q1556.6,1158.0 1558.6,1155.1 Q1560.5,1152.1 1564.1,1151.9Z" fill="#d8221d" />
<ellipse cx="1571.5" cy="1161.7" rx="7" ry="7.8" fill="#8c3a1a" fill-opacity="0.9"/>
<path d="M1578.0,1186.5 Q1573.7,1186.7 1574.5,1181.5 Q1575.2,1176.3 1575.6,1173.2 Q1575.9,1170.1 1580.2,1169.2 Q1584.6,1168.3 1586.8,1169.6 Q1589.0,1170.9 1592.5,1174.1 Q1596.1,1177.2 1593.3,1179.6 Q1590.6,1182.0 1588.4,1184.4 Q1586.3,1186.8 1584.3,1186.6 Q1582.3,1186.3 1578.0,1186.5Z" fill="#d8221d" />
<ellipse cx="1583.5" cy="1176.8" rx="6.2" ry="7" fill="#3ee062"/>
<path d="M1464.0,1199.7 Q1459.8,1198.4 1456.4,1195.8 Q1453.0,1193.2 1450.5,1190.6 Q1448.0,1187.9 1451.9,1185.1 Q1455.8,1182.2 1458.4,1178.4 Q1461.1,1174.5 1465.2,1178.1 Q1469.3,1181.8 1472.3,1182.6 Q1475.4,1183.3 1472.8,1187.8 Q1470.3,1192.2 1469.2,1196.6 Q1468.1,1200.9 1464.0,1199.7Z" fill="#d8221d" />
<ellipse cx="1464.2" cy="1188.9" rx="7" ry="7.8" fill="#8c3a1a" fill-opacity="0.9"/>
<path d="M1485.1,1189.7 Q1483.6,1187.6 1486.6,1183.9 Q1489.7,1180.3 1495.1,1181.6 Q1500.5,1183.0 1501.4,1186.1 Q1502.3,1189.1 1504.5,1192.1 Q1506.7,1195.2 1502.7,1197.3 Q1498.8,1199.5 1497.4,1202.3 Q1496.0,1205.0 1491.7,1202.5 Q1487.4,1199.9 1487.0,1195.9 Q1486.7,1191.9 1485.1,1189.7Z" fill="#d8221d" />
<ellipse cx="1496.7" cy="1190.4" rx="6.2" ry="7" fill="#3ee062"/>
<path d="M1444.6,1197.0 Q1448.7,1194.3 1452.1,1197.7 Q1455.6,1201.1 1459.1,1204.6 Q1462.5,1208.1 1458.6,1210.7 Q1454.8,1213.3 1452.7,1214.5 Q1450.7,1215.6 1447.6,1216.1 Q1444.4,1216.5 1440.1,1214.9 Q1435.9,1213.2 1436.0,1208.0 Q1436.1,1202.8 1438.3,1201.2 Q1440.6,1199.7 1444.6,1197.0Z" fill="#d8221d" />
<ellipse cx="1447.6" cy="1208.5" rx="7" ry="7.8" fill="#8c3a1a" fill-opacity="0.9"/>
<path d="M1462.7,1235.3 Q1459.9,1234.8 1455.1,1231.5 Q1450.2,1228.3 1452.0,1223.4 Q1453.8,1218.5 1455.8,1214.6 Q1457.9,1210.7 1461.6,1212.1 Q1465.3,1213.5 1469.9,1214.3 Q1474.5,1215.1 1475.1,1219.6 Q1475.7,1224.2 1475.1,1227.1 Q1474.6,1230.0 1470.1,1233.0 Q1465.6,1235.9 1462.7,1235.3Z" fill="#d8221d" />
<ellipse cx="1465.8" cy="1222.1" rx="7" ry="7.8" fill="#8c3a1a" fill-opacity="0.9"/>
<path d="M1490.8,1235.9 Q1488.5,1235.7 1485.8,1234.4 Q1483.1,1233.1 1482.3,1228.2 Q1481.5,1223.3 1483.5,1222.3 Q1485.5,1221.4 1489.6,1221.5 Q1493.6,1221.5 1497.3,1221.5 Q1501.0,1221.4 1500.0,1224.4 Q1499.0,1227.4 1499.3,1230.4 Q1499.6,1233.4 1496.3,1234.7 Q1493.1,1236.0 1490.8,1235.9Z" fill="#d8221d" />
<ellipse cx="1492.9" cy="1228.2" rx="6.2" ry="7" fill="#3ee062"/>
<path d="M1436.2,1250.0 Q1432.5,1249.5 1428.6,1246.9 Q1424.7,1244.3 1425.6,1240.8 Q1426.6,1237.4 1430.3,1235.9 Q1434.0,1234.5 1436.1,1234.5 Q1438.1,1234.6 1442.6,1234.7 Q1447.1,1234.8 1446.7,1237.6 Q1446.3,1240.4 1445.2,1244.5 Q1444.2,1248.6 1442.1,1249.6 Q1440.0,1250.5 1436.2,1250.0Z" fill="#d8221d" />
<ellipse cx="1435.6" cy="1239.5" rx="6.2" ry="7" fill="#3ee062"/>
<path d="M1444.6,1245.7 Q1443.0,1243.7 1443.4,1240.9 Q1443.8,1238.0 1445.9,1235.4 Q1448.0,1232.9 1451.3,1233.1 Q1454.7,1233.4 1456.1,1234.7 Q1457.4,1235.9 1460.3,1239.9 Q1463.2,1243.8 1460.1,1246.9 Q1457.1,1249.9 1454.1,1250.3 Q1451.1,1250.8 1448.7,1249.3 Q1446.3,1247.7 1444.6,1245.7Z" fill="#d8221d" />
<ellipse cx="1452.2" cy="1239.5" rx="6.2" ry="7" fill="#35b850"/>
<path d="M1557.7,1219.4 Q1553.5,1219.8 1551.8,1219.6 Q1550.2,1219.5 1547.3,1218.9 Q1544.4,1218.3 1543.0,1215.3 Q1541.7,1212.3 1543.6,1207.8 Q1545.5,1203.3 1548.6,1202.6 Q1551.8,1201.8 1555.4,1202.7 Q1559.0,1203.7 1559.7,1208.2 Q1560.4,1212.7 1561.2,1215.9 Q1562.0,1219.1 1557.7,1219.4Z" fill="#d8221d" />
<ellipse cx="1551.1" cy="1213.8" rx="6.2" ry="7" fill="#3ee062"/>
<path d="M1571.0,1190.0 Q1573.0,1187.1 1576.7,1190.7 Q1580.3,1194.2 1582.1,1196.2 Q1583.8,1198.3 1583.6,1204.1 Q1583.4,1210.0 1579.7,1210.9 Q1576.1,1211.8 1571.9,1212.2 Q1567.7,1212.6 1565.3,1210.4 Q1562.8,1208.3 1562.2,1203.0 Q1561.6,1197.7 1565.2,1195.3 Q1568.9,1192.9 1571.0,1190.0Z" fill="#d8221d" />
<ellipse cx="1573.0" cy="1199.5" rx="7" ry="7.8" fill="#8c3a1a" fill-opacity="0.9"/>
<path d="M1582.8,1209.8 Q1586.7,1208.7 1589.1,1209.0 Q1591.5,1209.4 1595.0,1212.8 Q1598.4,1216.3 1595.8,1221.0 Q1593.2,1225.8 1591.3,1226.6 Q1589.5,1227.5 1584.8,1225.8 Q1580.2,1224.1 1578.3,1222.8 Q1576.4,1221.4 1576.5,1217.8 Q1576.5,1214.2 1577.7,1212.5 Q1578.9,1210.8 1582.8,1209.8Z" fill="#d8221d" />
<ellipse cx="1588.1" cy="1217.6" rx="7" ry="7.8" fill="#8c3a1a" fill-opacity="0.9"/>
<path d="M1615.0,1228.2 Q1617.1,1229.1 1617.8,1232.9 Q1618.5,1236.6 1617.7,1240.5 Q1616.9,1244.4 1613.1,1246.6 Q1609.3,1248.8 1606.4,1245.8 Q1603.4,1242.7 1602.1,1239.3 Q1600.8,1235.9 1600.6,1233.6 Q1600.4,1231.3 1603.3,1227.3 Q1606.2,1223.3 1609.5,1225.3 Q1612.8,1227.2 1615.0,1228.2Z" fill="#d8221d" />
<ellipse cx="1610.7" cy="1235.7" rx="6.2" ry="7" fill="#3ee062"/>
<path d="M1424.8,1148.3 Q1420.2,1145.0 1422.7,1142.4 Q1425.2,1139.8 1426.8,1138.2 Q1428.5,1136.6 1431.6,1134.5 Q1434.8,1132.5 1437.0,1134.4 Q1439.2,1136.3 1441.1,1139.6 Q1443.0,1143.0 1441.4,1147.6 Q1439.8,1152.2 1437.3,1153.9 Q1434.7,1155.5 1432.0,1153.5 Q1429.3,1151.6 1424.8,1148.3Z" fill="#d8221d" />
</g></g>
<line x1="1566.2" y1="1235.7" x2="1606.2" y2="1235.7" stroke="#fff" stroke-width="3.8" />
<line x1="1789.6" y1="839.0" x2="1789.6" y2="1225.0" stroke="#000" stroke-width="3.2" />
<line x1="1775.4" y1="840.5" x2="1789.6" y2="840.5" stroke="#000" stroke-width="3.2" />
<text x="1765.5" y="849.3" font-size="24.5" text-anchor="end" font-weight="bold" font-style="normal" fill="#000" stroke="#000" stroke-width="0.28" >4500</text>
<line x1="1775.4" y1="968.1" x2="1789.6" y2="968.1" stroke="#000" stroke-width="3.2" />
<text x="1765.5" y="976.9" font-size="24.5" text-anchor="end" font-weight="bold" font-style="normal" fill="#000" stroke="#000" stroke-width="0.28" >4000</text>
<line x1="1775.4" y1="1095.7" x2="1789.6" y2="1095.7" stroke="#000" stroke-width="3.2" />
<text x="1765.5" y="1104.5" font-size="24.5" text-anchor="end" font-weight="bold" font-style="normal" fill="#000" stroke="#000" stroke-width="0.28" >3500</text>
<line x1="1775.4" y1="1223.3" x2="1789.6" y2="1223.3" stroke="#000" stroke-width="3.2" />
<text x="1765.5" y="1232.1" font-size="24.5" text-anchor="end" font-weight="bold" font-style="normal" fill="#000" stroke="#000" stroke-width="0.28" >3000</text>
<text transform="translate(1688.9,1088) rotate(-90)" font-size="24" font-weight="bold" fill="#000" stroke="#000" stroke-width="0.28">RGC/mm</text>
<text transform="translate(1678.7,980.5) rotate(-90)" font-size="24" font-weight="bold" fill="#000" stroke="#000" stroke-width="0.28">2</text>
<circle cx="1825.8" cy="927.2" r="5.6" fill="#9a9a9a" stroke="#000" stroke-width="2"/>
<circle cx="1813.6" cy="974.1" r="5.6" fill="#9a9a9a" stroke="#000" stroke-width="2"/>
<circle cx="1837.3" cy="976.0" r="5.6" fill="#9a9a9a" stroke="#000" stroke-width="2"/>
<circle cx="1825.8" cy="1002.0" r="5.6" fill="#9a9a9a" stroke="#000" stroke-width="2"/>
<circle cx="1813.6" cy="1024.9" r="5.6" fill="#9a9a9a" stroke="#000" stroke-width="2"/>
<circle cx="1813.6" cy="1039.0" r="5.6" fill="#9a9a9a" stroke="#000" stroke-width="2"/>
<circle cx="1837.3" cy="1036.3" r="5.6" fill="#9a9a9a" stroke="#000" stroke-width="2"/>
<circle cx="1825.8" cy="1079.8" r="5.6" fill="#9a9a9a" stroke="#000" stroke-width="2"/>
<circle cx="1825.8" cy="1104.6" r="5.6" fill="#9a9a9a" stroke="#000" stroke-width="2"/>
<line x1="1825.8" y1="1000.0" x2="1825.8" y2="1036.3" stroke="#000" stroke-width="2.8" />
<line x1="1812.5" y1="1000.0" x2="1839.2" y2="1000.0" stroke="#000" stroke-width="2.8" />
<line x1="1812.5" y1="1036.3" x2="1839.2" y2="1036.3" stroke="#000" stroke-width="2.8" />
<line x1="1799.5" y1="1018.8" x2="1852.5" y2="1018.8" stroke="#000" stroke-width="3.2" />
<circle cx="1882.7" cy="957.0" r="5.6" fill="#fff" stroke="#000" stroke-width="2"/>
<circle cx="1905.9" cy="964.6" r="5.6" fill="#fff" stroke="#000" stroke-width="2"/>
<circle cx="1894.5" cy="976.0" r="5.6" fill="#fff" stroke="#000" stroke-width="2"/>
<circle cx="1894.5" cy="1048.5" r="5.6" fill="#fff" stroke="#000" stroke-width="2"/>
<circle cx="1894.5" cy="1065.7" r="5.6" fill="#fff" stroke="#000" stroke-width="2"/>
<circle cx="1894.5" cy="1088.6" r="5.6" fill="#fff" stroke="#000" stroke-width="2"/>
<circle cx="1894.5" cy="1100.0" r="5.6" fill="#fff" stroke="#000" stroke-width="2"/>
<circle cx="1894.5" cy="1133.2" r="5.6" fill="#fff" stroke="#000" stroke-width="2"/>
<circle cx="1894.5" cy="1175.2" r="5.6" fill="#fff" stroke="#000" stroke-width="2"/>
<line x1="1894.5" y1="1031.0" x2="1894.5" y2="1082.9" stroke="#000" stroke-width="2.8" />
<line x1="1880.4" y1="1031.0" x2="1908.2" y2="1031.0" stroke="#000" stroke-width="2.8" />
<line x1="1880.4" y1="1082.9" x2="1908.2" y2="1082.9" stroke="#000" stroke-width="2.8" />
<line x1="1867.8" y1="1056.9" x2="1921.2" y2="1056.9" stroke="#000" stroke-width="3.2" />
<circle cx="1972.0" cy="983.7" r="12.3" fill="#9a9a9a" stroke="#000" stroke-width="4"/>
<circle cx="1972.0" cy="1069.5" r="12.3" fill="#fff" stroke="#000" stroke-width="4"/>
<text x="2006.0" y="976.0" font-size="24.5" text-anchor="start" font-weight="bold" font-style="normal" fill="#000" stroke="#000" stroke-width="0.28" >Naive Control</text>
<text x="2006.0" y="1003.9" font-size="24.5" text-anchor="start" font-weight="bold" font-style="normal" fill="#000" stroke="#000" stroke-width="0.28" >+ Vehicle</text>
<text x="2006.0" y="1061.9" font-size="24.5" text-anchor="start" font-weight="bold" font-style="normal" fill="#000" stroke="#000" stroke-width="0.28" >Naive Control</text>
<text x="2006.0" y="1090.5" font-size="24.5" text-anchor="start" font-weight="bold" font-style="normal" fill="#000" stroke="#000" stroke-width="0.28" >+ RGFP</text>
</svg>
</body></html>
